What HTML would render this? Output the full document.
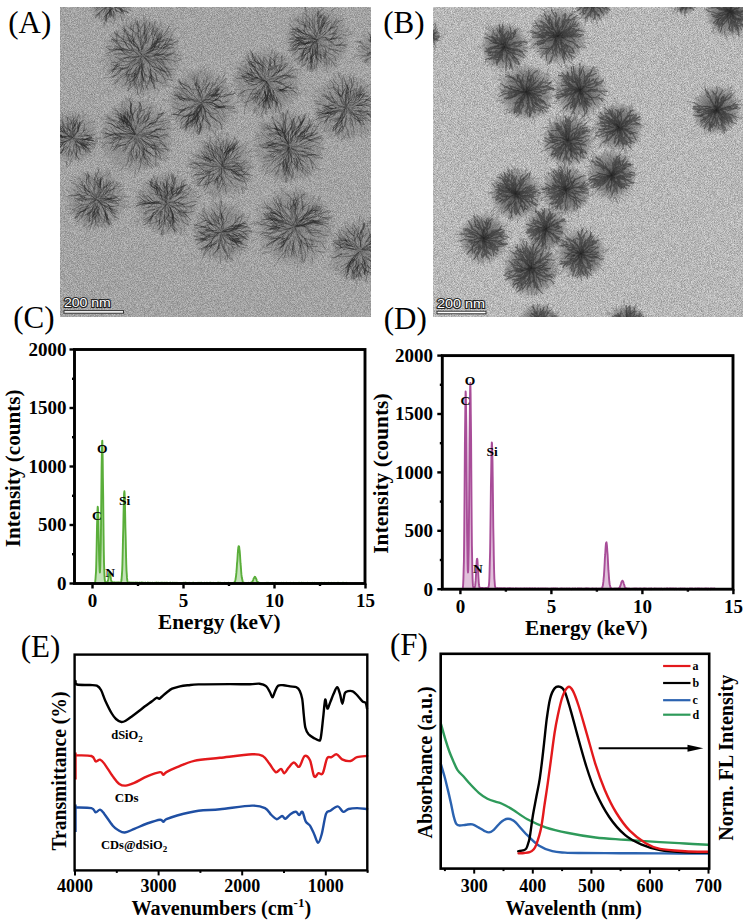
<!DOCTYPE html>
<html><head><meta charset="utf-8"><title>Figure</title>
<style>
html,body{margin:0;padding:0;background:#fff;width:747px;height:923px;overflow:hidden}
svg{display:block}
text{font-family:"Liberation Serif", serif}
</style></head><body>
<svg width="747" height="923" viewBox="0 0 747 923">
<defs>
<filter id="noiseA" x="0" y="0" width="100%" height="100%" color-interpolation-filters="sRGB"><feTurbulence type="fractalNoise" baseFrequency="1.3" numOctaves="1" seed="5"/><feColorMatrix type="matrix" values="0.45 0 0 0 0.415  0.45 0 0 0 0.415  0.45 0 0 0 0.415  0 0 0 0 1"/><feGaussianBlur stdDeviation="0.7"/></filter>
<filter id="noiseB" x="0" y="0" width="100%" height="100%" color-interpolation-filters="sRGB"><feTurbulence type="fractalNoise" baseFrequency="1.3" numOctaves="1" seed="9"/><feColorMatrix type="matrix" values="0.55 0 0 0 0.445  0.55 0 0 0 0.445  0.55 0 0 0 0.445  0 0 0 0 1"/><feGaussianBlur stdDeviation="0.7"/></filter>
<filter id="soft" x="-5%" y="-5%" width="110%" height="110%"><feGaussianBlur stdDeviation="0.55"/></filter>
<radialGradient id="pgA"><stop offset="0" stop-color="#303030" stop-opacity="0.5"/><stop offset="0.3" stop-color="#505050" stop-opacity="0.3"/><stop offset="0.8" stop-color="#606060" stop-opacity="0.24"/><stop offset="0.93" stop-color="#686868" stop-opacity="0.12"/><stop offset="1" stop-color="#707070" stop-opacity="0"/></radialGradient>
<radialGradient id="pgB"><stop offset="0" stop-color="#181818" stop-opacity="0.9"/><stop offset="0.25" stop-color="#333" stop-opacity="0.68"/><stop offset="0.7" stop-color="#505050" stop-opacity="0.45"/><stop offset="0.9" stop-color="#606060" stop-opacity="0.22"/><stop offset="1" stop-color="#707070" stop-opacity="0"/></radialGradient>
</defs>
<clipPath id="clipA"><rect x="60" y="7" width="311" height="310"/></clipPath>
<rect x="60" y="7" width="311" height="310" filter="url(#noiseA)"/>
<g clip-path="url(#clipA)"><g filter="url(#soft)">
<circle cx="110.0" cy="2.0" r="21.8" fill="url(#pgA)"/>
<path d="M115.6,17.4l-2.0,6.4M102.4,-10.6l-2.8,-2.1M105.8,-9.0l-4.8,-5.0M112.2,8.0l4.8,3.6M97.1,4.3l-4.9,2.2M113.6,15.3l1.4,3.6M113.4,-4.9l3.6,-4.2M94.2,14.3l-3.0,3.3M103.3,-10.0l-4.3,-1.7M101.1,15.0l0.4,5.7M106.6,0.5l-2.6,0.2M118.7,5.8l5.6,-0.4M98.1,15.8l-3.7,2.8M120.8,-8.7l3.2,-5.5M102.8,-14.2l-2.6,-1.3M107.2,6.0l-6.1,2.2M124.3,15.3l3.1,5.1M115.0,-16.5l-0.8,-3.2M108.6,-17.0l2.1,-4.0M122.9,17.4l0.4,6.5M121.5,7.2l4.9,2.6M122.0,6.5l6.2,0.3M116.5,-0.7l2.5,-2.3M117.6,1.1l3.6,1.7M105.9,-3.9l-0.2,-2.5M120.6,-11.4l2.9,-4.1M111.4,21.1l2.1,5.1M94.4,-1.5l-6.7,0.1M104.9,-8.6l0.5,-4.3M111.1,7.7l2.3,2.2M105.6,8.6l-1.8,4.2M102.2,-13.6l-0.8,-4.1M93.4,-3.4l-4.8,1.0M104.5,-9.0l-0.5,-3.5M96.3,6.0l-2.3,1.4M115.6,1.7l4.3,1.3M107.9,19.3l-2.7,6.2M91.7,6.1l-6.0,-2.9M104.9,5.1l-3.0,2.2M120.4,15.2l2.0,6.0M107.8,-3.7l-3.4,-4.1M127.6,-0.6l3.9,1.1M121.0,16.6l1.5,4.1M110.8,13.2l2.7,5.4M110.8,9.2l1.7,2.8M94.4,-7.5l-4.7,-4.6M124.0,5.4l4.7,-0.9M125.8,-6.9l3.1,-1.7M125.1,-4.6l5.4,-4.0M92.1,-7.4l-2.8,-1.4M117.4,3.9l5.2,2.3M93.0,-10.7l-1.0,-4.2M117.7,5.0l4.9,0.4M103.8,22.2l0.4,5.7M97.4,-2.8l-6.3,0.8M110.7,-18.4l2.4,-3.2M108.3,6.6l-3.6,2.9M115.8,10.1l4.0,2.1M125.3,-11.7l5.5,-2.1M111.7,-7.6l-1.0,-4.8M113.9,-1.1l1.9,-4.8M99.2,-11.7l-1.7,-3.8M127.6,-5.2l6.7,-1.5M128.5,8.7l2.4,1.6M98.0,14.6l-2.6,0.8M130.0,7.6l2.4,-0.9M118.0,1.3l6.1,2.5M106.3,-6.9l0.1,-5.8M121.2,-0.1l5.5,0.8M100.7,9.0l-4.6,1.4M123.2,-5.3l5.2,-3.7M104.6,1.0l-2.2,-1.2M106.0,19.4l-2.1,4.9M117.9,-0.9l2.4,-2.0M123.2,7.6l5.9,-0.9M103.0,0.1l-3.2,-3.3M119.3,-14.9l0.1,-2.8M122.6,-12.1l5.4,-1.9M124.8,-2.0l5.9,0.4M129.2,8.8l4.0,3.2M109.9,5.9l-1.6,4.6M106.3,17.7l-2.1,6.1M90.1,-4.8l-2.3,-1.8M102.1,-1.1l-2.0,-2.2M101.3,2.0l-3.0,0.8M102.0,6.1l-3.3,0.2" fill="none" stroke="#1e1e1e" stroke-width="0.8" stroke-opacity="0.23" stroke-linecap="round"/>
<path d="M110.2,1.4L111.7,-1.0L111.5,-3.8M111.5,-3.8l-3.4,-6.5M111.5,-3.8L112.6,-6.3L114.5,-8.4L115.3,-11.0M108.9,0.7L108.4,-1.6L107.1,-3.6L107.0,-5.9M107.0,-5.9l-2.5,-3.8M107.0,-5.9L105.6,-7.8L105.8,-10.2M111.4,1.8L115.4,2.2L118.8,0.1M118.8,0.1l6.7,0.5M118.8,0.1L122.1,-2.1M122.1,-2.1l4.2,0.3M122.1,-2.1L124.9,-5.0L128.3,-7.1M106.8,-4.9L104.5,-6.3L102.3,-7.8M102.3,-7.8l-3.9,-5.1M102.3,-7.8L100.3,-9.6M100.3,-9.6l-6.8,-2.4M100.3,-9.6L99.6,-12.2L98.9,-14.8M110.3,0.5L110.4,-1.7L111.2,-3.7M111.2,-3.7l3.5,-2.5M111.2,-3.7L111.3,-6.0M111.3,-6.0l3.6,-4.8M111.3,-6.0L110.9,-8.1L112.1,-10.0M108.4,5.3L106.8,7.3L106.8,9.9L105.9,12.3L105.3,14.8L104.3,17.1M110.5,1.9L114.3,1.0L117.8,-0.8M117.8,-0.8l3.7,-4.2M117.8,-0.8L121.7,-0.3M121.7,-0.3l6.0,3.6M121.7,-0.3L124.8,-2.8L128.7,-3.0M106.7,6.2L104.3,8.5L101.7,10.4L99.8,13.1M99.8,13.1l-0.9,5.4M99.8,13.1L97.0,14.6L95.5,17.5M110.2,2.0L113.1,3.1L116.2,3.3M116.2,3.3l6.0,-1.8M116.2,3.3L119.4,3.2M119.4,3.2l3.2,1.1M119.4,3.2L122.4,2.5L125.4,3.4M107.5,1.6L104.6,2.5L101.6,3.4M101.6,3.4l-7.3,-1.2M101.6,3.4L98.6,3.1M98.6,3.1l-5.4,1.7M98.6,3.1L95.6,2.4L92.9,3.9M110.1,2.2L112.4,4.5L114.7,7.0M114.7,7.0l1.8,4.6M114.7,7.0L115.6,10.3L118.6,11.8L121.7,13.2M108.4,9.4L106.9,11.2L107.3,13.4M107.3,13.4l-1.1,7.3M107.3,13.4L106.3,15.4M106.3,15.4l-0.1,6.2M106.3,15.4L105.9,17.7L105.2,19.9M110.2,1.7L110.5,-1.8L110.9,-5.2L110.0,-8.5M110.0,-8.5l2.3,-6.7M110.0,-8.5L111.0,-11.8L111.3,-15.2M106.1,4.5L103.8,5.4L101.4,5.6L99.5,7.1L97.4,8.3L96.0,10.2M113.1,4.4L115.3,7.2L118.7,8.1L121.0,10.8L124.5,11.1L127.9,12.3M107.9,5.6L106.7,7.1L105.6,8.4L104.6,9.9L104.3,11.7L102.9,12.8M115.0,-3.5L116.1,-5.7L117.1,-8.0M117.1,-8.0l6.4,-3.6M117.1,-8.0L118.8,-9.9L120.9,-11.1L121.5,-13.5M117.0,5.2L119.2,7.0L121.5,8.7M121.5,8.7l2.2,5.6M121.5,8.7L123.3,10.9L126.2,11.3L128.6,12.9M104.4,2.1L101.9,3.5L99.1,4.0L96.2,3.8L93.4,3.9L90.6,3.4M110.4,6.9L110.6,8.7L109.9,10.3M109.9,10.3l0.5,6.8M109.9,10.3L110.5,12.0L111.2,13.6L111.5,15.4M105.5,0.4L103.9,-0.1L102.3,-0.3M102.3,-0.3l-4.2,-2.2M102.3,-0.3L100.7,-0.9M100.7,-0.9l-3.9,1.1M100.7,-0.9L99.0,-0.9L97.4,-1.1M105.0,-1.4L103.0,-2.7L102.1,-4.9L101.0,-7.1M101.0,-7.1l-4.9,-4.9M101.0,-7.1L99.0,-8.5L96.8,-9.5M109.1,1.9L105.4,-0.3L101.6,-2.0L97.3,-2.0L93.2,-2.8L89.2,-4.2M112.5,1.8L115.5,1.8L118.3,2.7L121.3,3.3L123.9,1.9L126.6,3.2M117.7,6.2L118.6,7.2L119.5,8.3L120.7,9.0M120.7,9.0l1.6,4.8M120.7,9.0L122.0,9.3L122.8,10.5M101.7,-0.4L100.0,-1.3L98.3,-2.3L96.6,-3.4L94.7,-4.0L92.8,-4.7M115.8,7.1L117.2,7.9L118.5,8.9L120.1,9.1M120.1,9.1l3.4,3.5M120.1,9.1L120.7,10.6L121.8,11.7M108.6,-4.7L109.0,-5.9L109.0,-7.2M109.0,-7.2l-3.9,-6.3M109.0,-7.2L109.0,-8.6L109.6,-9.7L109.6,-11.0M109.9,-2.2L110.8,-4.0L111.9,-5.8L112.3,-7.9M112.3,-7.9l4.8,-5.1M112.3,-7.9L113.4,-9.7L114.9,-11.1M109.8,9.5L109.9,11.0L109.9,12.6L109.9,14.1M109.9,14.1l-2.3,4.4M109.9,14.1L109.1,15.5L109.1,17.0M106.6,5.8L104.8,7.8L103.0,9.8L100.7,11.2L98.7,13.0L97.9,15.6M110.0,1.9L107.5,-1.5L104.0,-4.0L99.9,-5.0L95.8,-6.2L91.6,-7.1M109.3,6.3L109.8,9.6L108.3,12.6M108.3,12.6l-4.1,4.1M108.3,12.6L106.7,15.5L104.7,18.2L102.1,20.3M112.2,-1.6L114.7,-3.2L117.0,-5.1M117.0,-5.1l0.7,-3.9M117.0,-5.1L119.6,-6.6L121.3,-9.1L123.5,-11.0M112.3,8.8L112.5,10.4L113.5,11.6M113.5,11.6l0.0,6.0M113.5,11.6L114.1,13.0L115.0,14.4L115.0,15.9M108.6,1.6L106.1,-1.0L102.9,-2.7L99.9,-4.7L96.4,-5.6L93.9,-8.2M106.4,2.4L104.3,3.8L102.6,5.7L100.1,5.8L97.8,6.9L95.6,8.1M110.4,4.4L112.1,6.3L111.8,8.7M111.8,8.7l-4.0,5.1M111.8,8.7L111.0,11.1M111.0,11.1l1.9,5.1M111.0,11.1L111.4,13.6L110.8,16.0M113.1,-2.8L113.3,-4.4L113.8,-5.9M113.8,-5.9l4.8,-5.1M113.8,-5.9L113.8,-7.5M113.8,-7.5l-2.6,-5.9M113.8,-7.5L114.2,-9.0L113.8,-10.5M110.9,1.6L112.6,-1.1L114.0,-4.0M114.0,-4.0l4.9,-2.7M114.0,-4.0L115.9,-6.5M115.9,-6.5l0.2,-5.3M115.9,-6.5L118.3,-8.6L120.1,-11.3M110.0,1.2L110.6,-1.4L111.7,-3.7M111.7,-3.7l0.4,-4.7M111.7,-3.7L112.3,-6.2M112.3,-6.2l-1.2,-3.3M112.3,-6.2L113.6,-8.4L113.2,-11.0M109.8,0.8L109.8,-2.2L109.3,-5.1L108.1,-7.9L108.7,-10.8L107.8,-13.7M110.1,7.3L110.5,8.8L110.2,10.3M110.2,10.3l-2.3,3.7M110.2,10.3L109.6,11.8L109.5,13.3L110.3,14.6" fill="none" stroke="#1e1e1e" stroke-width="0.9" stroke-opacity="0.38" stroke-linecap="round" stroke-linejoin="round"/>
<circle cx="142.5" cy="56.0" r="40.0" fill="url(#pgA)"/>
<path d="M143.6,22.8l1.6,-6.7M155.1,27.4l0.2,-3.8M181.1,55.8l4.5,-2.8M117.5,35.3l-3.5,-2.1M166.5,84.9l5.6,1.8M137.0,60.8l-4.5,3.3M129.2,40.6l-2.9,-5.5M167.2,44.8l5.8,-3.2M139.0,31.3l-2.2,-4.8M173.9,68.8l2.1,2.0M164.1,83.3l3.4,2.0M126.5,43.1l-5.5,-2.8M146.8,31.9l-0.4,-4.9M124.6,80.2l-4.6,2.7M127.2,31.0l-3.2,-2.4M129.7,21.7l-2.8,-6.4M132.8,19.3l-3.0,-3.0M119.3,47.0l-4.6,-0.4M170.7,79.6l4.9,0.6M137.6,61.7l-2.1,5.6M125.2,53.3l-4.3,-3.5M151.8,79.0l-1.4,5.8M141.3,88.5l2.1,6.1M160.1,25.0l1.4,-5.6M170.5,34.6l2.6,-1.0M140.4,66.3l-2.3,3.3M132.4,58.0l-3.4,2.7M109.6,55.4l-4.8,-0.4M177.0,39.3l2.7,-1.3M162.6,81.9l2.9,0.7M158.8,35.5l3.7,-4.7M137.7,27.7l-0.8,-5.7M139.7,79.6l-3.1,5.2M126.8,24.9l-0.3,-5.1M131.2,26.1l-1.3,-2.3M169.6,31.7l2.5,-3.7M155.4,50.3l2.4,-3.8M147.9,49.6l4.9,-3.4M131.0,28.4l0.5,-2.9M158.2,69.7l2.2,1.8M117.8,36.6l-3.5,-5.1M153.6,58.8l4.8,0.8M125.6,84.4l-4.5,2.0M130.3,31.3l0.7,-5.8M157.6,89.6l2.2,1.5M138.1,25.9l-2.8,-4.4M127.0,45.9l-2.0,-6.1M162.1,63.9l4.9,0.1M120.6,63.7l-6.3,2.1M122.7,69.0l-3.4,3.7M126.2,54.4l-6.1,-0.7M168.1,42.1l3.5,-3.1M166.1,56.4l5.3,1.8M178.8,68.3l4.0,4.4M165.4,85.1l4.9,3.1M168.6,74.9l6.9,-0.2M118.9,79.4l-2.2,2.4M163.4,50.8l4.6,-4.9M118.8,81.1l-4.5,2.2M114.3,42.4l-6.4,-2.2M114.5,75.6l-3.2,2.0M140.0,70.8l-2.2,2.8M162.7,60.9l2.3,2.9M138.4,38.7l-4.4,-4.3M174.7,64.1l2.8,2.1M142.7,42.9l2.4,-3.4M121.0,55.7l-6.3,-2.8M118.5,77.7l-4.6,4.5M127.7,70.6l-2.4,6.5M145.0,90.7l-2.1,6.4M131.8,75.3l-1.3,6.2M158.6,34.9l2.8,-5.1M104.5,59.5l-5.6,3.3M110.7,77.4l-7.0,0.4M172.1,31.5l2.9,-2.7M141.9,75.5l0.9,3.1M140.1,61.3l0.7,5.8M167.6,53.3l3.6,0.5M116.2,36.8l-1.6,-5.5M151.9,74.7l2.2,3.3M147.8,37.5l0.0,-4.8M126.7,38.0l-3.8,-1.6M124.1,45.8l-5.2,-3.7M174.4,56.8l5.9,2.3M147.6,93.2l0.1,3.3M138.4,25.2l1.8,-4.5M134.2,84.3l1.2,4.2M135.7,40.0l-2.9,-3.0M139.9,62.6l-2.3,2.0M140.8,28.0l2.9,-4.6M143.0,45.9l3.2,-5.4M135.3,22.0l0.6,-4.4M144.7,66.6l1.2,4.6M116.7,85.1l-3.5,4.8M126.9,71.0l-1.6,4.4M130.5,45.6l-2.7,-2.0M125.1,45.0l-6.6,-2.1M112.6,80.1l-3.3,1.4M145.9,39.3l2.6,-2.5M127.2,40.1l-3.3,-1.1M117.0,66.7l-3.6,3.1M125.0,67.9l-5.0,1.0M117.3,63.0l-6.4,-2.6M143.5,19.4l-0.3,-4.8M156.8,51.5l2.1,-1.9M166.9,75.2l2.1,3.3M110.4,45.8l-4.7,1.0M174.5,56.5l3.7,-2.0M117.3,72.7l-4.1,3.6M136.8,75.0l-1.7,6.5M165.1,67.1l4.8,0.4M118.7,25.7l-2.1,-2.9M158.8,39.7l4.1,-0.5M132.1,26.3l-0.1,-3.8M129.2,70.4l-2.3,2.6M150.5,51.5l3.6,-3.1M162.8,48.7l6.3,-0.8M144.1,36.7l-0.0,-3.6M167.8,74.9l0.9,3.0M109.8,69.0l-3.8,4.6M147.8,44.9l0.2,-3.7M150.5,60.3l3.3,5.1M155.0,32.8l0.8,-4.3M126.7,75.5l-3.0,3.5M145.3,22.9l-0.4,-4.4M159.2,80.2l2.5,1.0M161.2,84.6l5.3,2.5M112.5,67.6l-4.2,5.1M156.3,69.9l1.5,3.2M172.6,32.1l4.3,-4.1M135.1,41.5l-2.2,-2.5M173.2,43.3l5.7,-1.9M127.2,75.2l-4.5,3.2M144.2,62.8l-0.0,4.8M132.7,68.3l-2.9,0.9M148.2,58.3l6.1,3.1M107.2,41.2l-3.0,0.3M148.6,19.9l2.3,-6.4M139.5,27.0l-0.6,-2.4M106.5,65.0l-4.0,4.7M140.9,70.8l-3.0,4.7M168.0,28.1l2.1,-3.6M147.5,40.4l3.2,-3.1M177.6,55.1l4.6,0.9M111.6,46.8l-4.7,-0.5M137.6,91.8l2.9,6.2M148.6,71.8l4.2,5.4M156.0,30.0l4.3,-4.4M148.5,60.5l4.0,4.5M116.9,79.3l-4.0,5.2M123.9,85.2l-2.2,1.8M134.9,89.6l1.4,5.0M117.8,40.9l-6.2,-1.0M173.8,61.0l2.5,2.7M136.2,45.1l-1.2,-2.8M129.0,69.0l-3.2,0.9M160.9,58.2l2.8,-0.2M117.0,63.8l-3.2,2.6" fill="none" stroke="#1e1e1e" stroke-width="0.8" stroke-opacity="0.23" stroke-linecap="round"/>
<path d="M131.8,52.4L126.3,53.1L121.8,49.7M121.8,49.7l-12.7,0.0M121.8,49.7L116.2,49.7M116.2,49.7l-9.6,3.9M116.2,49.7L110.7,50.3L106.1,47.1M154.9,64.1L157.0,67.5L160.1,69.9M160.1,69.9l6.0,12.5M160.1,69.9L163.7,71.3L167.7,71.7L171.6,71.8M141.5,54.6L138.6,48.7L135.4,42.9L132.2,37.0M132.2,37.0l1.4,-12.4M132.2,37.0L126.5,33.8L122.0,28.9M136.3,59.2L130.0,61.6L123.4,61.2M123.4,61.2l-8.2,-4.4M123.4,61.2L117.4,64.3M117.4,64.3l-5.0,7.1M117.4,64.3L113.1,69.4L108.7,74.4M139.5,67.4L138.2,70.6L137.8,74.1L136.0,77.1M136.0,77.1l-10.1,8.3M136.0,77.1L133.4,79.3L131.1,81.8M147.0,53.9L152.6,50.7L155.7,45.2L158.4,39.4L163.8,36.1L168.6,31.9M152.0,44.6L153.8,42.9L155.9,41.7M155.9,41.7l7.1,-10.8M155.9,41.7L157.3,39.7M157.3,39.7l-0.5,-11.8M157.3,39.7L159.6,38.6L161.9,37.8M137.6,54.5L133.3,50.0L129.8,44.8L124.3,41.8L118.2,40.4L112.0,39.5M141.6,51.8L141.9,45.4L140.1,39.2L137.2,33.4M137.2,33.4l-10.5,-7.2M137.2,33.4L139.3,27.3L135.2,22.4M151.8,45.5L152.3,42.5L153.3,39.7M153.3,39.7l-1.5,-6.1M153.3,39.7L155.9,38.3L158.2,36.4L159.7,33.9M150.9,46.4L153.2,44.0L156.3,42.7L157.3,39.5M157.3,39.5l-2.9,-9.4M157.3,39.5L159.7,37.2L161.8,34.6M152.6,60.0L155.0,60.2L157.3,60.9M157.3,60.9l7.3,7.1M157.3,60.9L159.6,61.9L162.0,61.9L164.5,62.1M145.9,51.4L150.5,48.8L154.7,45.6L158.6,42.1M158.6,42.1l13.6,-2.9M158.6,42.1L163.4,40.0L168.3,38.1M140.7,64.3L142.4,69.5L144.7,74.3M144.7,74.3l11.9,7.2M144.7,74.3L145.0,79.7L145.8,85.0L148.2,89.8M142.3,49.3L143.7,45.9L145.8,42.9M145.8,42.9l0.2,-9.1M145.8,42.9L146.3,39.2L145.2,35.7L144.6,32.1M139.0,55.3L134.1,50.7L128.0,47.7L124.8,41.8L120.3,36.8L114.9,32.7M138.1,51.0L132.6,48.8L130.0,43.4L128.5,37.7L126.6,32.1L122.6,27.6M145.1,55.5L149.6,57.2L154.3,56.0M154.3,56.0l5.4,-5.9M154.3,56.0L158.9,54.6L163.4,56.5L167.8,54.5M142.0,56.2L137.4,62.7L130.5,66.7L126.9,73.7M126.9,73.7l-0.0,6.3M126.9,73.7L119.9,77.5L115.0,83.7M142.7,56.1L147.7,60.1L153.5,62.7L158.3,67.0L164.1,69.5L167.0,75.2M147.9,50.1L151.2,48.2L154.6,46.3M154.6,46.3l6.3,-7.7M154.6,46.3L158.5,46.0L161.3,43.4L164.0,40.6M153.1,55.5L157.3,53.9L161.3,51.9L164.8,49.1L169.2,48.1L173.7,47.6M131.0,50.3L129.0,50.5L127.2,49.5M127.2,49.5l-13.5,-1.0M127.2,49.5L125.3,48.9L123.3,48.6L121.3,48.9M140.4,44.7L140.9,40.2L142.9,36.2L145.3,32.4L145.3,27.9L143.4,23.8M138.6,56.4L134.9,57.4L131.1,58.4L127.3,57.6L123.3,57.9L119.6,59.2M144.7,57.9L149.0,62.9L150.6,69.4M150.6,69.4l-1.5,13.8M150.6,69.4L155.6,73.8M155.6,73.8l1.5,6.3M155.6,73.8L156.9,80.3L162.7,83.7M154.3,57.3L159.4,59.4L165.0,59.0L170.5,59.8L175.8,61.4L181.1,59.6M139.0,51.0L137.8,44.9L132.9,41.1M132.9,41.1l-7.4,-0.3M132.9,41.1L130.1,35.6L125.6,31.3L123.8,25.3M144.2,54.6L150.7,50.7L155.2,44.6L159.8,38.5L165.1,33.1L169.0,26.5M139.1,62.1L134.1,64.7L131.0,69.3M131.0,69.3l-10.7,6.4M131.0,69.3L128.8,74.5M128.8,74.5l1.8,11.5M128.8,74.5L127.5,79.9L125.0,84.9M150.0,69.3L150.4,73.1L150.2,76.9M150.2,76.9l-4.5,12.1M150.2,76.9L153.0,79.5L153.7,83.3L154.0,87.1M150.2,50.1L151.1,47.8L153.1,46.2M153.1,46.2l2.2,-6.1M153.1,46.2L154.1,43.8L156.5,43.2L158.8,42.1M139.6,66.3L139.3,70.6L137.2,74.2M137.2,74.2l-6.9,2.9M137.2,74.2L135.1,77.9L133.8,82.0L130.7,84.9M135.4,58.7L130.4,62.8L127.5,68.5L121.2,69.1M121.2,69.1l-8.0,8.3M121.2,69.1L117.9,74.7L111.8,76.7M149.6,48.8L151.8,45.5L155.3,43.6L157.4,40.2L158.6,36.4L159.2,32.5M152.4,54.3L157.3,55.1L162.2,54.3M162.2,54.3l10.2,-8.8M162.2,54.3L167.0,55.7L171.1,52.9L175.8,54.3M146.0,54.1L149.2,51.8L151.6,48.6M151.6,48.6l6.7,-1.9M151.6,48.6L153.9,45.4L156.1,42.1L158.9,39.3M141.8,54.8L138.8,51.8L137.8,47.6M137.8,47.6l-7.9,-7.0M137.8,47.6L134.0,45.7M134.0,45.7l-7.0,-7.4M134.0,45.7L133.4,41.5L130.9,38.0M147.2,67.1L149.2,71.5L151.3,75.8M151.3,75.8l6.0,4.9M151.3,75.8L150.8,80.5L154.2,83.9L155.1,88.6M133.3,54.9L129.0,52.9L125.6,49.7L121.2,47.8M121.2,47.8l-9.2,-9.0M121.2,47.8L118.2,44.2L114.5,41.2M142.3,60.4L141.9,64.2L142.1,68.1M142.1,68.1l4.9,9.7M142.1,68.1L141.5,71.9L141.0,75.7L141.0,79.5M147.3,52.3L152.0,51.3L154.7,47.2M154.7,47.2l0.4,-7.0M154.7,47.2L159.0,45.0L162.1,41.2L165.2,37.5M138.8,62.1L138.8,65.4L136.3,67.6M136.3,67.6l-5.5,9.0M136.3,67.6L135.5,70.8M135.5,70.8l-8.1,6.1M135.5,70.8L135.2,74.1L134.7,77.4M151.0,48.1L152.5,44.0L153.0,39.6L154.5,35.5M154.5,35.5l-2.5,-11.2M154.5,35.5L156.2,31.5L159.6,28.8M138.7,68.0L136.8,69.5L136.5,71.9L134.7,73.4M134.7,73.4l-8.3,1.5M134.7,73.4L133.1,75.2L132.1,77.3M152.7,50.9L156.9,49.5L161.1,48.3M161.1,48.3l4.9,-6.5M161.1,48.3L165.3,47.0L168.6,44.1L173.0,44.5M152.6,49.9L155.9,49.8L158.4,47.6M158.4,47.6l3.1,-13.2M158.4,47.6L161.7,47.3L164.0,44.9L167.2,44.2M144.4,42.8L146.8,39.0L146.2,34.6L147.7,30.4L149.7,26.4L149.5,21.9M134.3,51.7L129.2,49.1L126.0,44.3L123.3,39.3M123.3,39.3l1.5,-9.5M123.3,39.3L118.3,36.4L116.6,30.9M140.9,58.4L139.5,63.9L139.0,69.5L136.1,74.4M136.1,74.4l-9.9,7.9M136.1,74.4L136.0,80.0L132.9,84.7M140.9,59.7L141.9,65.8L141.5,71.9M141.5,71.9l2.2,9.3M141.5,71.9L143.0,77.9L141.5,83.9L143.7,89.6M153.9,62.6L156.3,63.2L158.0,64.9L160.0,66.1M160.0,66.1l8.1,10.3M160.0,66.1L161.3,68.2L162.3,70.4M133.1,51.6L129.8,50.5L126.3,51.0L122.9,50.3M122.9,50.3l-7.8,-4.8M122.9,50.3L119.5,49.8L116.3,48.4M127.1,52.2L123.3,49.1L119.9,45.5L116.8,41.6M116.8,41.6l-0.2,-7.2M116.8,41.6L113.3,38.2L109.6,35.0M145.5,57.8L148.9,62.0L152.3,66.3M152.3,66.3l12.1,4.7M152.3,66.3L157.4,67.8L162.1,70.6L166.9,73.0M141.6,65.9L138.9,71.3L137.4,77.2M137.4,77.2l2.4,9.7M137.4,77.2L135.8,83.0M135.8,83.0l-7.9,7.4M135.8,83.0L137.3,88.8L137.7,94.8M138.8,49.4L136.1,47.3L134.2,44.5L133.4,41.1M133.4,41.1l2.3,-6.5M133.4,41.1L133.2,37.7L131.9,34.6M148.4,53.2L154.9,53.1L160.3,49.3L166.0,46.2M166.0,46.2l6.0,-11.3M166.0,46.2L172.1,43.8L177.7,40.5M151.1,50.9L155.9,48.5L160.2,45.2L165.5,44.5L169.6,41.0L174.9,39.7M135.2,45.6L133.5,44.2L131.5,43.1M131.5,43.1l-4.6,-8.9M131.5,43.1L131.1,40.9L130.3,38.8L128.3,37.7M135.1,60.5L130.1,63.1L125.0,65.5L119.3,65.3M119.3,65.3l-7.5,5.3M119.3,65.3L115.1,69.1L111.7,73.5M142.7,63.0L142.6,69.2L141.4,75.4L141.1,81.6M141.1,81.6l-4.6,7.1M141.1,81.6L141.3,87.9L140.1,94.0M144.9,58.5L149.7,63.8L154.3,69.3M154.3,69.3l10.8,6.1M154.3,69.3L159.9,73.9L165.3,78.7L172.3,80.4M155.5,53.7L158.8,53.4L161.3,51.1L163.5,48.6M163.5,48.6l3.9,-10.2M163.5,48.6L166.2,46.7L169.5,47.1M150.6,69.7L151.3,72.4L151.4,75.3M151.4,75.3l3.1,6.9M151.4,75.3L151.1,78.2M151.1,78.2l3.4,10.7M151.1,78.2L151.5,81.0L153.0,83.5M146.8,43.4L148.6,40.2L149.6,36.7L151.9,33.8M151.9,33.8l3.2,-12.2M151.9,33.8L151.9,30.2L154.6,27.7M136.9,56.1L131.7,57.2L126.3,57.5L121.6,60.0L117.0,62.9L111.7,62.4M143.5,64.1L143.1,69.1L142.3,74.1M142.3,74.1l1.6,7.9M142.3,74.1L143.2,79.0M143.2,79.0l6.2,5.7M143.2,79.0L142.3,83.9L143.4,88.8M156.6,58.2L159.0,57.7L161.0,59.2M161.0,59.2l3.2,5.2M161.0,59.2L163.4,59.9L165.8,59.4L168.2,58.5M141.4,47.8L140.0,42.4L138.3,37.1M138.3,37.1l-8.0,-9.4M138.3,37.1L138.7,31.5M138.7,31.5l3.7,-5.6M138.7,31.5L138.0,26.0L137.3,20.4M142.2,48.9L143.5,43.8L144.5,38.6M144.5,38.6l7.2,-11.8M144.5,38.6L144.0,33.4M144.0,33.4l5.9,-10.1M144.0,33.4L144.4,28.1L144.6,22.9M147.1,56.6L152.5,60.0L158.8,59.6L163.4,64.0L167.2,69.2L170.7,74.4M141.8,63.3L139.4,69.2L134.9,73.7M134.9,73.7l-2.2,7.0M134.9,73.7L133.9,80.0M133.9,80.0l1.6,7.7M133.9,80.0L129.5,84.7L128.4,91.0M155.8,54.7L158.9,54.3L162.0,54.3L165.1,54.0L168.1,54.7L171.2,54.8M157.8,60.4L160.3,63.2L163.2,65.7L166.0,68.2M166.0,68.2l5.4,9.7M166.0,68.2L169.5,69.5L173.3,69.0M141.4,49.8L143.1,43.8L140.7,38.1M140.7,38.1l-0.4,-7.8M140.7,38.1L143.7,32.7L145.2,26.7L146.7,20.6M136.2,59.5L132.4,63.5L128.2,67.1M128.2,67.1l-11.0,4.7M128.2,67.1L122.7,68.3M122.7,68.3l-12.1,-4.1M122.7,68.3L117.2,69.0L111.8,70.0M140.6,55.9L135.3,57.7L130.0,56.2M130.0,56.2l-5.9,2.5M130.0,56.2L124.9,54.0M124.9,54.0l-6.2,-7.1M124.9,54.0L119.4,53.6L113.9,54.6M145.3,56.3L151.8,56.0L158.2,55.7M158.2,55.7l8.4,-3.3M158.2,55.7L164.4,57.6M164.4,57.6l5.9,6.3M164.4,57.6L170.2,54.8L175.5,51.2" fill="none" stroke="#1e1e1e" stroke-width="0.9" stroke-opacity="0.38" stroke-linecap="round" stroke-linejoin="round"/>
<circle cx="201.5" cy="102.5" r="34.3" fill="url(#pgA)"/>
<path d="M219.0,79.7l-0.1,-5.0M217.9,127.6l0.0,3.0M214.9,94.9l4.8,-0.4M222.3,121.0l2.6,0.7M221.1,81.4l2.8,-5.8M219.9,122.5l2.8,4.4M223.6,88.3l4.7,0.5M223.2,116.1l6.4,-0.4M187.5,72.4l-1.4,-2.8M207.3,80.2l2.0,-3.7M205.2,111.0l0.8,5.4M192.8,106.7l-2.2,4.2M202.4,108.8l0.9,3.1M222.1,128.2l-0.1,5.8M218.5,117.4l2.0,3.9M201.1,125.4l1.1,5.3M193.2,130.9l-2.5,5.2M200.1,118.2l-0.2,3.2M211.9,93.0l5.8,-3.1M198.4,92.5l0.6,-5.1M210.6,95.7l6.3,-0.2M194.1,77.6l-4.2,-4.2M229.1,106.1l5.3,2.3M175.7,100.1l-4.8,-3.4M168.5,100.3l-6.0,-0.5M186.4,115.1l-1.5,3.6M182.9,126.5l-5.2,3.4M213.8,104.0l6.2,2.8M199.8,131.2l-0.4,2.5M209.5,78.6l2.4,-1.6M208.7,94.6l5.0,-1.0M212.0,129.6l3.4,5.0M214.6,104.1l5.1,3.8M177.6,119.9l-1.9,3.9M221.9,87.7l1.6,-2.5M208.4,116.6l5.1,2.4M198.0,84.0l0.3,-3.8M215.6,130.2l-0.2,4.8M199.8,84.5l-1.0,-4.0M181.6,96.3l-2.7,-4.2M193.6,92.7l-0.7,-6.5M188.1,106.1l-6.4,-0.3M186.0,87.7l-0.9,-5.5M213.2,100.9l3.4,-2.2M207.5,134.8l-0.3,4.1M193.3,81.9l-1.4,-3.5M196.7,75.2l-2.3,-2.3M202.5,125.7l1.7,3.7M183.6,115.1l-5.2,3.3M230.5,119.2l5.4,-0.7M230.1,112.4l6.7,-0.6M225.8,101.3l5.6,0.4M200.1,73.4l0.9,-2.9M188.5,120.1l-4.6,4.4M205.2,74.1l0.9,-2.8M214.9,106.3l4.8,-0.6M194.1,130.3l-0.7,6.9M230.2,93.5l3.4,1.1M233.5,103.0l4.9,-0.5M221.9,82.6l4.0,-0.7M193.3,79.2l-4.6,-3.6M187.4,125.8l-2.7,3.3M184.9,104.4l-4.5,2.1M201.3,115.0l2.7,4.5M173.8,114.2l-4.4,1.1M233.4,106.8l4.7,3.9M213.0,130.6l2.5,4.4M170.2,93.6l-3.8,-2.3M181.7,85.3l-2.6,-6.2M203.8,82.9l-0.4,-2.8M218.5,83.1l1.8,-3.1M210.0,75.3l0.6,-4.9M191.7,104.0l-5.2,4.3M193.8,80.8l0.5,-3.3M230.2,87.2l2.6,-1.4M186.4,91.9l-5.5,-3.1M182.2,93.5l-6.6,-1.8M203.2,82.6l1.1,-3.8M212.8,85.4l4.1,-3.0M173.5,95.5l-2.8,-2.0M186.9,92.1l-4.3,-5.3M230.7,110.3l5.8,2.3M211.4,85.9l3.0,-1.7M194.5,125.1l0.8,6.3M204.8,70.4l2.8,-4.5M213.2,108.1l3.4,3.9M216.0,103.7l3.6,0.9M181.4,87.9l-2.5,-1.5M178.0,88.2l-5.1,-1.0M227.0,100.9l3.5,-2.0M213.4,95.3l3.1,-2.7M212.1,97.8l5.2,1.4M177.6,94.4l-4.0,1.3M202.8,85.4l3.0,-5.1M172.2,116.6l-5.2,-0.6M232.9,94.0l3.2,-1.1M206.6,125.2l0.1,3.5M190.0,124.0l-0.5,6.7M221.9,127.1l3.7,2.7M186.8,84.2l-2.0,-5.2M209.3,114.2l1.8,3.0M185.8,83.3l-2.9,-2.8M203.1,84.7l-1.4,-2.1M185.6,107.4l-3.6,3.6M221.8,122.8l1.9,1.7M220.4,105.1l5.9,-2.8M197.2,79.2l-2.3,-4.6M217.1,116.0l1.7,3.5M205.3,92.8l0.3,-4.4M199.8,96.9l0.1,-4.5M222.2,113.2l2.2,3.7M225.0,82.5l2.0,-4.2M194.3,118.9l0.1,6.5M171.4,117.1l-1.7,1.9M182.3,122.1l-2.8,1.8M224.3,81.3l1.1,-2.8M179.9,114.8l-5.9,-0.1M194.7,104.1l-3.6,1.9M187.2,127.6l0.1,3.4M198.4,113.3l-1.6,3.6M184.9,113.5l-3.7,0.8M190.0,117.8l-3.2,4.9M214.4,126.0l3.0,3.3M206.1,77.5l-2.2,-4.8M216.4,123.3l3.0,4.5M194.5,75.8l-3.1,-5.7M178.4,103.9l-6.6,-2.3M180.8,104.2l-5.2,-0.9M219.8,122.4l1.5,2.8M223.1,77.3l2.8,-5.5M222.2,92.4l4.5,-2.1M188.7,115.6l-2.9,1.3M208.3,124.2l-0.0,4.4M201.6,69.9l3.2,-4.5M189.6,87.6l-2.2,-3.3" fill="none" stroke="#1e1e1e" stroke-width="0.8" stroke-opacity="0.23" stroke-linecap="round"/>
<path d="M205.1,100.3L209.0,99.1L211.9,96.2M211.9,96.2l6.6,-1.9M211.9,96.2L216.0,95.9L219.5,93.7L222.0,90.4M190.3,99.6L187.0,100.6L183.6,100.9M183.6,100.9l-8.6,-5.8M183.6,100.9L180.4,99.6M180.4,99.6l-6.2,-8.3M180.4,99.6L177.2,98.2L174.1,99.5M196.1,102.0L192.3,100.8L188.4,100.0L184.5,98.9M184.5,98.9l-6.5,-5.1M184.5,98.9L180.8,97.6L177.6,95.3M209.8,103.9L212.7,105.0L215.3,106.6M215.3,106.6l8.5,1.1M215.3,106.6L218.3,107.1M218.3,107.1l7.6,-1.0M218.3,107.1L221.3,106.7L224.1,107.8M209.0,101.5L211.1,100.5L213.4,101.1L215.4,99.8M215.4,99.8l2.3,-4.9M215.4,99.8L217.6,100.5L219.9,100.1M205.1,106.8L207.8,109.6L209.2,113.2L211.0,116.6M211.0,116.6l8.7,5.1M211.0,116.6L214.6,118.1L216.7,121.4M207.5,103.1L212.5,105.5L217.6,107.9L223.2,107.1L228.6,108.8L234.2,108.5M203.2,101.4L206.6,98.8L209.8,95.9L213.6,94.2M213.6,94.2l5.4,-0.2M213.6,94.2L215.8,90.5L219.7,88.7M194.8,101.6L191.9,99.6L188.8,98.0M188.8,98.0l-7.0,-8.5M188.8,98.0L185.8,96.2L182.8,94.5L179.3,93.7M199.6,94.8L199.4,92.2L197.7,90.2M197.7,90.2l-7.2,-1.4M197.7,90.2L196.3,88.0L195.7,85.5L194.8,83.1M211.9,101.4L216.2,99.7L219.5,96.5M219.5,96.5l3.6,-7.1M219.5,96.5L224.1,96.7M224.1,96.7l10.7,-3.4M224.1,96.7L228.3,94.6L231.5,91.3M199.9,104.8L195.8,108.3L193.8,113.3M193.8,113.3l3.0,10.0M193.8,113.3L189.4,116.3L187.1,121.2L185.4,126.3M206.8,96.0L208.6,94.9L209.8,93.2M209.8,93.2l3.3,-11.1M209.8,93.2L211.0,91.5L212.5,90.0L214.3,88.9M203.4,102.6L208.1,102.3L212.7,102.8M212.7,102.8l6.6,5.9M212.7,102.8L216.8,104.9L220.6,107.6L224.2,110.5M212.7,98.7L214.1,97.5L215.4,96.2L216.6,95.0M216.6,95.0l2.2,-6.0M216.6,95.0L218.3,94.3L220.1,94.2M198.8,101.3L194.9,96.9L190.3,93.2L185.9,89.1L181.6,85.1L178.9,79.8M199.8,107.2L197.6,109.9L197.6,113.4M197.6,113.4l-5.3,7.4M197.6,113.4L197.1,116.8L197.9,120.2L196.4,123.4M189.6,100.3L187.5,98.9L185.0,99.2M185.0,99.2l-10.4,-4.2M185.0,99.2L182.8,98.1L180.7,96.6L178.3,97.3M200.7,104.7L197.0,110.0L192.2,114.3M192.2,114.3l-5.5,2.3M192.2,114.3L187.0,118.1L182.1,122.2L180.3,128.4M194.9,113.1L193.2,117.0L191.2,120.7M191.2,120.7l-0.1,5.9M191.2,120.7L187.8,123.3M187.8,123.3l-2.8,7.0M187.8,123.3L184.8,126.3L181.5,128.9M203.6,114.8L202.7,118.8L202.4,122.9L201.3,126.9M201.3,126.9l-5.4,4.6M201.3,126.9L199.5,130.5L197.3,134.1M197.8,103.9L193.9,104.9L191.2,107.9L187.3,107.7L183.7,109.5L179.8,109.8M197.7,100.4L194.0,99.8L190.3,99.3L186.7,98.1L183.1,99.1L179.4,98.6M200.5,105.0L197.7,109.0L196.8,113.8L193.0,116.9L188.6,119.1L185.5,122.9M194.5,111.4L193.0,111.9L191.6,112.4L191.1,113.9L189.7,114.4L188.7,115.6M194.2,94.3L191.4,90.8L189.2,87.0M189.2,87.0l-10.4,-4.7M189.2,87.0L185.1,85.2L181.3,82.9L177.6,80.4M201.7,99.8L200.1,95.6L201.6,91.4M201.6,91.4l7.8,-8.1M201.6,91.4L199.6,87.4M199.6,87.4l-5.3,-3.3M199.6,87.4L196.8,83.9L196.8,79.4M195.3,106.4L190.3,107.1L185.6,108.5M185.6,108.5l-5.0,3.9M185.6,108.5L181.2,110.9M181.2,110.9l-5.6,8.9M181.2,110.9L178.0,114.7L173.1,114.4M206.6,103.7L208.8,106.0L211.3,108.1L214.4,108.9M214.4,108.9l10.5,-2.6M214.4,108.9L217.1,110.6L218.8,113.4M191.6,95.7L189.7,92.8L187.7,89.9L184.6,88.5M184.6,88.5l-9.1,-0.7M184.6,88.5L182.3,85.9L179.5,83.7M201.2,106.6L200.9,112.8L203.2,118.5M203.2,118.5l6.9,5.9M203.2,118.5L200.3,123.9M200.3,123.9l-1.3,10.2M200.3,123.9L200.8,130.0L197.9,135.5M205.5,102.1L211.0,102.8L215.9,100.2M215.9,100.2l4.3,-4.6M215.9,100.2L220.6,97.4L225.1,94.2L230.6,94.6M202.4,105.9L206.3,110.8L210.6,115.4L215.0,119.9L220.4,123.1L221.6,129.2M209.5,102.5L214.6,104.1L219.1,107.0M219.1,107.0l4.9,6.1M219.1,107.0L224.3,105.7L229.5,107.1L234.8,106.3M202.2,90.2L203.1,87.3L204.9,84.8L206.3,82.1L206.7,79.0L207.2,76.0M201.7,107.8L200.1,111.6L198.4,115.3M198.4,115.3l-5.2,4.2M198.4,115.3L197.3,119.2M197.3,119.2l2.5,6.2M197.3,119.2L196.8,123.2L197.7,127.2M209.8,99.6L213.4,100.4L217.0,99.6L220.4,101.0M220.4,101.0l5.0,7.5M220.4,101.0L223.6,102.7L227.1,101.5M199.3,106.8L199.4,111.8L198.2,116.7L199.6,121.5L201.1,126.3L200.6,131.3M201.6,103.8L200.6,108.9L202.3,113.9L205.2,118.3L208.8,122.0L210.9,126.9M201.9,103.4L203.4,107.6L205.6,111.3M205.6,111.3l7.4,3.5M205.6,111.3L205.8,115.8L207.5,119.8L208.2,124.2M202.0,102.1L205.4,99.7L209.5,99.5L213.1,97.4L215.7,94.2L217.8,90.7M198.4,95.9L198.1,93.2L198.4,90.6L198.8,88.0L199.1,85.3L197.5,83.2M201.9,106.3L199.8,110.3L197.3,114.1L196.9,118.6L194.8,122.7L192.0,126.2M199.5,105.3L196.7,109.9L196.2,115.2M196.2,115.2l-4.8,8.1M196.2,115.2L194.2,120.2L191.3,124.8L186.8,127.7M200.3,96.6L199.3,92.6L197.2,89.0L195.8,85.1M195.8,85.1l2.6,-11.4M195.8,85.1L194.7,81.2L194.1,77.1M192.1,108.0L188.4,109.8L184.4,110.1M184.4,110.1l-4.3,2.8M184.4,110.1L180.3,110.0M180.3,110.0l-7.6,-3.1M180.3,110.0L176.9,112.4L173.3,114.3M201.3,109.0L201.3,113.0L199.6,116.6M199.6,116.6l-4.8,3.3M199.6,116.6L197.7,120.1M197.7,120.1l-4.3,3.4M197.7,120.1L195.9,123.7L194.6,127.5M207.3,97.4L210.1,96.9L212.7,95.7M212.7,95.7l5.7,0.7M212.7,95.7L215.0,94.0L216.7,91.6L219.1,90.1M195.3,108.0L193.1,110.1L191.0,112.2M191.0,112.2l-4.0,9.1M191.0,112.2L188.9,114.4M188.9,114.4l-0.9,11.4M188.9,114.4L186.5,116.2L183.5,116.7M200.8,102.6L196.0,101.1L191.5,98.8L188.2,95.0L183.7,92.7L179.7,89.6M203.3,105.6L204.9,110.7L205.4,116.0L206.3,121.3L209.9,125.2L209.2,130.5M191.9,110.7L189.5,113.0L187.3,115.4M187.3,115.4l-6.0,3.2M187.3,115.4L184.1,116.1M184.1,116.1l-10.0,-1.8M184.1,116.1L181.9,118.5L180.1,121.3M209.0,95.7L211.9,95.0L213.5,92.5L215.3,90.1M215.3,90.1l6.8,-4.4M215.3,90.1L216.1,87.3L218.2,85.3M202.7,106.0L203.9,108.8L204.5,111.8L203.9,114.8L203.4,117.9L202.4,120.7M198.8,106.5L195.3,110.9L194.5,116.5L191.4,121.3M191.4,121.3l-7.8,3.8M191.4,121.3L187.0,124.8L186.1,130.4M206.6,94.9L211.3,92.9L214.6,88.9L218.4,85.5L222.2,81.9L225.7,78.2M205.7,96.7L208.4,92.7L210.6,88.4L214.4,85.3L216.2,80.8L218.8,76.7M202.3,98.0L202.2,94.6L201.0,91.4L199.2,88.6L197.2,85.8L196.0,82.6M195.8,112.5L193.4,114.4L193.3,117.5L192.7,120.6L192.7,123.7L192.0,126.7M201.8,102.1L205.0,98.4L208.8,95.4L213.5,94.5L217.0,91.0L219.5,86.9M206.5,101.8L209.5,99.4L212.2,96.7L215.2,94.3M215.2,94.3l2.4,-6.9M215.2,94.3L217.1,91.0L220.2,88.8M204.8,92.6L205.9,91.0L206.2,89.1M206.2,89.1l3.9,-7.8M206.2,89.1L206.6,87.2L208.2,86.0L209.3,84.4M206.7,108.7L209.6,111.6L213.4,113.1L217.5,113.6L220.4,116.5L222.7,119.8M201.0,104.6L200.6,108.3L198.9,111.5M198.9,111.5l-8.1,4.7M198.9,111.5L196.8,114.6L194.7,117.7L192.2,120.5M199.0,110.9L197.1,115.3L194.5,119.3M194.5,119.3l-7.8,2.6M194.5,119.3L190.9,122.4L186.9,124.9L183.4,128.2M200.9,108.8L198.4,113.4L195.4,117.8L196.2,123.1L198.0,128.1L196.7,133.2M200.2,104.4L197.1,107.1L196.0,111.1M196.0,111.1l2.7,8.5M196.0,111.1L193.7,114.5M193.7,114.5l-5.1,1.8M193.7,114.5L190.8,117.3L190.5,121.4" fill="none" stroke="#1e1e1e" stroke-width="0.9" stroke-opacity="0.38" stroke-linecap="round" stroke-linejoin="round"/>
<circle cx="266.6" cy="81.7" r="34.3" fill="url(#pgA)"/>
<path d="M265.6,71.1l-1.2,-4.8M280.0,91.8l5.6,0.6M250.9,55.1l-5.5,-4.2M245.4,96.1l-4.9,-0.4M272.9,111.2l-0.0,6.6M239.1,93.9l-2.4,2.1M246.0,58.9l-3.4,-1.6M263.5,113.6l-2.8,5.0M287.5,75.7l6.4,2.8M245.9,106.8l-1.1,4.0M251.4,85.2l-3.3,-1.4M261.8,71.2l-3.5,-3.0M259.7,97.3l-2.8,2.8M281.0,65.6l1.8,-3.8M242.0,63.7l-6.7,-1.0M285.6,108.2l2.8,4.5M247.2,68.4l-5.9,-2.9M277.4,85.9l2.4,0.7M254.2,62.0l-3.9,-1.3M254.8,64.6l-6.2,-1.7M242.9,99.5l-5.4,3.3M288.5,101.1l2.1,2.1M294.0,97.6l2.9,1.6M244.7,106.8l-0.2,6.6M281.7,90.5l2.4,0.7M240.4,82.8l-5.2,-3.0M279.5,62.7l4.9,-4.3M267.2,86.6l-1.6,3.6M259.7,95.7l-3.1,2.6M260.8,65.7l-0.0,-5.9M289.1,95.3l6.7,-1.0M271.0,54.8l1.7,-6.1M284.9,87.0l5.9,1.0M257.6,80.9l-5.7,-1.4M282.3,61.1l-0.1,-5.1M259.6,59.0l-1.8,-2.2M239.8,78.4l-4.3,-1.0M269.6,65.9l2.0,-3.8M289.6,87.2l3.8,1.0M242.0,83.1l-5.5,3.5M280.5,103.2l4.0,2.5M269.0,48.7l1.1,-4.1M263.7,104.3l1.2,4.9M276.4,63.7l3.0,-4.5M247.4,94.8l-5.6,1.9M266.4,62.8l-0.8,-3.0M250.4,59.6l-3.7,-5.8M290.6,66.0l1.4,-3.2M271.9,105.8l4.0,3.9M258.0,97.4l-4.8,4.3M245.8,61.8l-4.8,-0.4M248.5,84.0l-6.2,2.4M239.3,74.0l-1.8,-2.5M262.0,114.4l-2.2,2.7M271.9,76.6l2.8,-4.1M261.3,113.9l2.4,6.5M272.4,79.1l6.5,-0.2M283.8,59.8l3.3,-5.1M267.6,102.9l1.2,2.4M243.6,92.3l-3.0,1.1M261.4,105.7l-3.1,3.6M277.6,83.4l6.2,-2.4M243.7,73.0l-4.4,-3.2M265.3,65.3l-1.1,-6.8M247.2,105.1l-6.3,1.2M271.8,69.3l4.3,-2.5M244.1,88.4l-2.9,3.0M265.9,111.4l1.1,3.9M242.2,75.3l-4.4,0.5M299.1,83.2l2.8,0.2M258.5,112.2l-2.8,4.8M259.8,90.9l-4.8,1.4M236.5,90.9l-4.9,4.8M278.4,78.2l3.1,-0.3M253.3,84.7l-5.4,2.2M276.8,98.3l4.8,3.0M285.1,76.8l5.8,-3.0M254.5,108.6l-2.1,2.0M275.9,92.0l4.0,5.0M259.2,57.2l-3.6,-3.9M243.1,69.5l-6.2,-2.7M234.7,76.0l-2.9,-0.8M296.8,72.0l2.6,0.3M244.9,79.1l-5.0,-1.0M272.9,53.5l-1.0,-2.9M297.7,77.1l4.7,-4.7M255.8,106.9l-2.5,6.0M241.0,69.3l-5.2,-0.9M289.9,83.3l2.0,1.7M258.7,70.9l-1.4,-3.0M297.3,70.0l3.2,-0.5M260.9,74.4l-0.5,-6.5M253.7,98.9l-0.3,4.5M271.0,62.5l-2.1,-6.5M258.6,90.2l-2.8,0.7M269.9,63.4l1.4,-2.5M294.9,86.1l3.8,2.8M271.5,74.1l0.7,-5.4M258.5,62.4l-2.2,-4.2M282.9,97.6l2.5,2.3M294.5,95.5l4.6,-0.4M256.1,110.4l-3.4,4.6M292.0,100.7l1.5,4.6M242.2,71.1l-4.9,-3.3M280.5,58.5l3.3,-4.9M276.1,77.3l5.1,-1.1M278.5,75.9l3.6,0.9M280.1,101.1l0.9,5.5M241.0,89.2l-6.2,0.3M281.4,77.5l3.7,1.6M276.5,59.4l1.7,-2.5M278.2,71.7l4.0,-1.4M275.6,56.0l-0.8,-3.0M291.1,61.9l2.4,-3.3M267.5,99.9l-0.8,5.4M248.7,59.5l-0.4,-5.7M257.1,107.5l-3.2,5.1M236.5,81.6l-3.3,-0.9M234.5,85.2l-4.5,-1.6M286.6,83.0l4.0,-1.7M274.2,74.0l2.0,-6.1M252.1,75.5l-4.9,-1.9M271.8,91.0l4.0,2.6M277.8,95.3l1.6,6.7M289.7,91.8l5.5,3.6M249.8,73.6l-3.5,0.5M275.8,98.6l3.2,2.8M298.1,92.1l3.8,2.6M274.9,57.7l-0.5,-6.5M281.0,87.9l4.5,3.6M262.3,75.9l-0.1,-3.8M264.8,90.8l0.7,4.2M243.1,99.5l-1.0,2.7M287.4,59.3l1.6,-2.1M256.2,110.2l0.3,2.6" fill="none" stroke="#1e1e1e" stroke-width="0.8" stroke-opacity="0.23" stroke-linecap="round"/>
<path d="M277.3,89.1L278.1,90.0L279.2,90.4M279.2,90.4l7.4,-2.1M279.2,90.4L280.3,90.6M280.3,90.6l8.0,-4.0M280.3,90.6L281.4,91.2L282.3,91.9M271.3,70.2L272.2,67.0L274.5,64.7L274.3,61.5M274.3,61.5l-4.5,-4.8M274.3,61.5L273.8,58.2L276.1,55.8M267.8,86.4L268.7,91.0L267.7,95.6L266.1,100.0M266.1,100.0l-7.4,6.8M266.1,100.0L265.5,104.7L265.2,109.3M267.0,82.8L270.3,86.5L273.1,90.5M273.1,90.5l-0.4,9.9M273.1,90.5L273.8,95.4M273.8,95.4l-1.9,10.9M273.8,95.4L275.1,100.2L275.4,105.2M264.1,81.0L260.2,79.9L256.8,77.6M256.8,77.6l-6.8,-9.5M256.8,77.6L254.0,74.7L252.0,71.1L249.5,67.9M270.6,88.0L270.6,92.2L271.3,96.4L273.3,100.1L276.5,102.8L275.9,107.0M261.5,81.6L258.9,82.5L256.5,84.2M256.5,84.2l-5.3,1.4M256.5,84.2L253.7,84.7L251.0,83.7L248.2,83.8M265.1,91.8L264.9,93.9L265.5,95.9M265.5,95.9l-0.8,6.0M265.5,95.9L264.8,97.9M264.8,97.9l-6.7,6.6M264.8,97.9L265.4,99.9L264.4,101.8M262.2,79.5L259.4,76.9L257.1,73.7L254.6,70.7L252.9,67.3L251.5,63.6M267.7,91.2L268.1,94.7L267.7,98.2M267.7,98.2l-5.6,9.0M267.7,98.2L269.1,101.4L269.1,104.9L270.1,108.3M272.5,72.1L273.7,70.9L274.7,69.6L275.4,68.1L276.3,66.7L277.8,66.0M266.5,81.6L262.0,79.4L257.2,77.8M257.2,77.8l-6.3,1.9M257.2,77.8L252.2,78.1L247.2,77.7L242.3,76.8M267.9,84.8L267.4,89.8L268.1,94.8M268.1,94.8l4.2,3.8M268.1,94.8L267.2,99.7L268.9,104.4L270.8,109.0M266.7,82.3L269.2,86.1L269.8,90.7M269.8,90.7l-4.8,10.3M269.8,90.7L271.1,95.0M271.1,95.0l7.0,8.2M271.1,95.0L270.6,99.6L272.8,103.6M266.6,81.7L262.0,80.1L257.5,78.0M257.5,78.0l-11.4,3.0M257.5,78.0L252.7,77.0M252.7,77.0l-9.2,-6.3M252.7,77.0L248.7,74.1L245.3,70.6M269.4,89.7L270.5,92.8L272.9,95.0L274.4,97.8L275.0,101.0L277.3,103.3M274.1,81.6L278.2,81.3L282.1,79.7L285.9,78.0M285.9,78.0l10.7,-0.9M285.9,78.0L289.6,76.0L292.7,73.3M264.2,80.5L260.0,80.9L256.1,79.5L252.3,81.1L248.3,82.4L244.2,81.5M266.5,81.8L264.4,86.8L264.5,92.2M264.5,92.2l3.7,10.6M264.5,92.2L262.7,97.2L264.0,102.5L263.2,107.8M259.4,93.1L258.8,95.1L257.6,96.7M257.6,96.7l-5.1,1.9M257.6,96.7L257.4,98.7L257.5,100.8L256.5,102.6M267.2,85.8L268.8,88.6L269.1,91.8L270.9,94.5M270.9,94.5l-0.6,8.3M270.9,94.5L270.8,97.7L271.7,100.8M259.8,89.4L258.9,91.6L257.2,93.2M257.2,93.2l-7.1,0.7M257.2,93.2L255.0,94.1L252.7,94.9L252.0,97.2M261.5,77.7L259.4,73.8L255.9,71.1L254.2,67.0M254.2,67.0l-8.0,-8.0M254.2,67.0L250.0,65.6L248.0,61.6M264.1,85.0L262.7,87.7L261.8,90.6L259.9,93.0M259.9,93.0l-9.0,5.9M259.9,93.0L259.7,96.1L258.5,98.9M265.1,79.1L264.5,73.0L260.5,68.4L257.9,62.8L252.7,59.6L252.5,53.4M273.2,90.3L274.6,94.0L276.5,97.6M276.5,97.6l0.9,7.7M276.5,97.6L277.9,101.4L280.8,104.2L281.0,108.2M260.0,69.9L259.0,66.6L257.6,63.5L255.0,61.2M255.0,61.2l-4.4,-10.3M255.0,61.2L254.1,57.9L251.3,55.8M266.3,81.5L261.6,78.4L258.2,74.0M258.2,74.0l-8.2,-1.9M258.2,74.0L255.5,69.0L254.9,63.5L249.7,61.2M268.1,73.8L267.4,71.3L268.9,69.3M268.9,69.3l10.4,-4.8M268.9,69.3L269.3,66.8L270.4,64.5L272.2,62.7M273.6,75.2L275.5,72.7L278.5,71.9M278.5,71.9l8.9,-7.1M278.5,71.9L281.3,70.5M281.3,70.5l4.0,-6.1M281.3,70.5L283.9,68.8L285.6,66.2M256.5,89.0L252.3,89.4L248.1,89.6L244.1,90.9M244.1,90.9l-5.2,6.1M244.1,90.9L240.4,93.0L237.7,96.3M259.7,88.9L257.1,92.4L255.0,96.2M255.0,96.2l0.0,5.4M255.0,96.2L252.4,99.7L248.3,101.2L244.3,102.8M264.5,86.3L262.4,89.9L260.8,93.8L261.1,98.0M261.1,98.0l2.7,5.0M261.1,98.0L259.1,101.7L259.5,106.0M267.7,83.2L268.8,89.3L267.1,95.2M267.1,95.2l1.5,6.6M267.1,95.2L266.8,101.4L266.9,107.6L265.5,113.6M272.9,75.9L277.0,74.6L279.1,70.8M279.1,70.8l0.3,-5.5M279.1,70.8L280.9,66.9M280.9,66.9l0.7,-11.2M280.9,66.9L284.3,64.3L288.4,63.0M268.7,79.7L273.9,78.0L279.0,76.3L284.4,75.3L289.7,76.3L295.2,76.3M266.6,81.8L266.8,87.1L265.4,92.3M265.4,92.3l0.9,8.9M265.4,92.3L264.9,97.6M264.9,97.6l-7.2,7.8M264.9,97.6L265.5,102.9L264.2,108.1M268.1,76.6L269.0,73.3L268.8,69.8M268.8,69.8l-7.2,-9.4M268.8,69.8L268.7,66.3L270.1,63.1L269.6,59.7M276.2,86.8L279.6,89.6L283.9,90.1M283.9,90.1l4.4,3.0M283.9,90.1L288.2,90.8L292.6,90.5L296.3,92.8M265.1,77.1L262.2,73.9L262.3,69.6L262.1,65.3M262.1,65.3l-2.8,-7.7M262.1,65.3L263.4,61.2L263.6,57.0M273.2,81.5L277.7,78.6L282.7,76.8L287.3,73.9L291.4,70.5L296.6,69.2M266.4,74.3L265.5,71.6L265.1,68.7L263.4,66.5M263.4,66.5l-9.5,-6.0M263.4,66.5L263.8,63.7L261.9,61.6M266.6,81.8L263.7,85.8L260.9,89.8L259.2,94.3L255.9,97.9L255.9,102.8M260.8,71.5L258.3,69.5L256.0,67.3L253.1,66.0M253.1,66.0l-6.3,-9.9M253.1,66.0L250.5,64.1L248.3,61.9M278.4,82.8L282.6,84.6L286.3,87.1L290.7,88.3M290.7,88.3l6.7,5.9M290.7,88.3L295.1,87.6L298.4,90.6M269.2,71.9L270.7,69.3L270.9,66.4M270.9,66.4l-6.5,-9.3M270.9,66.4L270.2,63.4L270.0,60.5L270.6,57.5M274.9,80.4L278.6,77.7L282.8,75.7M282.8,75.7l6.9,-0.0M282.8,75.7L286.6,73.1L290.1,70.2L293.0,66.6M263.6,71.9L263.2,67.0L259.6,63.6M259.6,63.6l-10.1,-1.7M259.6,63.6L256.9,59.5L253.6,55.9L251.1,51.7M262.6,82.7L257.8,86.4L253.0,90.0L250.1,95.3L247.4,100.6L245.3,106.3M270.0,81.7L273.3,81.5L276.7,81.7M276.7,81.7l4.9,2.8M276.7,81.7L279.9,82.1M279.9,82.1l9.4,6.2M279.9,82.1L282.8,83.7L286.1,83.2M263.9,81.4L258.3,82.4L252.7,81.6M252.7,81.6l-9.2,-6.0M252.7,81.6L247.1,80.7M247.1,80.7l-5.4,-4.9M247.1,80.7L242.2,77.8L236.6,78.6M253.1,79.2L251.0,77.8L249.1,76.1M249.1,76.1l-3.5,-11.4M249.1,76.1L246.5,76.0M246.5,76.0l-7.5,-3.6M246.5,76.0L244.1,76.6L241.5,76.3M272.4,87.6L275.0,89.4L277.6,91.2M277.6,91.2l6.7,-0.5M277.6,91.2L279.9,93.4L282.8,94.9L284.7,97.4M272.2,76.4L274.0,74.9L275.1,73.0L277.3,72.3L279.2,71.0L280.2,69.0M278.0,87.1L278.9,88.5L280.3,89.3M280.3,89.3l6.8,8.6M280.3,89.3L281.3,90.6L282.8,91.1L284.0,92.2M269.7,89.6L271.5,94.4L272.7,99.3M272.7,99.3l-4.1,9.0M272.7,99.3L276.7,102.4M276.7,102.4l3.4,11.3M276.7,102.4L276.0,107.5L275.7,112.5M256.8,78.2L254.4,76.9L252.4,75.1M252.4,75.1l-1.8,-6.7M252.4,75.1L249.9,74.0L247.2,73.6L244.5,73.6M254.2,77.2L253.1,76.0L251.7,75.3M251.7,75.3l-2.9,-5.4M251.7,75.3L250.3,74.5L248.8,74.0L247.2,74.1M264.4,90.7L265.0,92.9L265.8,94.9M265.8,94.9l5.0,4.9M265.8,94.9L266.4,97.1L266.8,99.3L266.1,101.5M268.0,89.9L269.2,91.7L268.8,93.8L269.5,95.9M269.5,95.9l-0.9,11.9M269.5,95.9L269.0,98.0L269.8,100.0M263.1,94.5L262.0,98.3L263.2,102.2L263.1,106.2L263.3,110.2L261.8,114.0M254.5,79.4L251.9,78.8L249.4,77.9L246.7,77.9L244.2,76.9L242.2,75.1M262.1,70.3L262.5,67.0L260.0,64.7L258.1,62.0L255.4,60.0L255.1,56.6M270.8,76.9L273.8,75.9L275.9,73.6L277.0,70.6M277.0,70.6l-3.0,-10.9M277.0,70.6L278.7,68.0L280.7,65.5M275.3,88.3L277.5,89.2L279.9,89.6L282.3,89.5M282.3,89.5l9.9,-5.6M282.3,89.5L284.6,90.1L286.9,90.8M263.6,78.2L259.6,76.7L258.0,72.7M258.0,72.7l-8.6,-7.2M258.0,72.7L255.5,69.3L253.6,65.4L249.6,64.0M272.4,69.9L274.2,66.9L274.7,63.4L275.2,60.0L276.3,56.6L278.1,53.6" fill="none" stroke="#1e1e1e" stroke-width="0.9" stroke-opacity="0.38" stroke-linecap="round" stroke-linejoin="round"/>
<circle cx="317.3" cy="39.5" r="33.3" fill="url(#pgA)"/>
<path d="M339.9,47.1l3.2,1.4M293.9,39.8l-4.2,-0.5M329.4,33.4l2.9,-6.2M307.0,59.8l-3.1,2.5M331.5,62.5l0.3,5.3M323.7,27.8l3.1,-1.9M323.3,39.9l4.7,0.6M301.1,34.5l-2.0,-2.9M339.8,51.2l5.5,0.7M294.5,39.4l-5.9,0.0M335.4,20.9l2.6,-2.6M339.9,27.2l4.0,-2.1M316.2,48.5l1.0,3.4M338.7,40.1l2.4,1.9M306.5,63.7l-4.3,2.3M310.2,25.2l-2.9,-3.8M325.9,20.3l1.6,-3.2M308.9,49.4l-1.3,2.1M303.0,18.6l-0.1,-5.0M305.6,26.1l-0.4,-3.0M305.0,10.4l-0.2,-3.3M338.5,38.9l3.4,-2.2M309.7,13.3l-0.3,-3.5M323.6,54.7l0.6,5.7M304.1,55.5l-2.8,1.7M305.3,9.4l0.4,-4.3M324.3,53.4l-0.4,3.0M345.7,32.0l3.7,-5.2M322.5,9.6l1.4,-3.1M307.9,20.2l-3.1,-2.0M331.4,11.9l1.4,-2.9M317.3,16.2l2.0,-3.1M322.0,49.7l-0.6,6.4M296.9,20.5l-3.0,-0.6M330.4,41.1l3.5,0.7M322.3,33.2l2.4,-1.8M295.8,18.8l-2.3,-4.4M304.3,23.9l-1.9,-5.3M295.5,50.1l-5.5,0.5M326.1,58.3l0.2,2.6M343.8,46.3l3.1,-1.1M308.1,25.6l-1.4,-5.5M309.5,25.2l-2.5,-1.3M319.4,45.0l-0.3,4.4M339.1,34.0l6.4,1.3M301.1,29.5l-1.8,-3.6M316.7,52.0l2.5,5.3M345.0,32.3l3.7,-2.8M324.5,17.7l3.0,-4.3M306.0,36.2l-2.5,-3.0M330.5,34.0l2.4,-1.1M297.8,21.5l-3.5,-3.2M333.4,49.6l2.0,4.0M333.9,33.7l3.0,-2.5M299.3,27.8l-3.7,0.3M316.0,23.7l-0.0,-2.9M303.8,22.8l-2.6,-1.3M336.1,37.9l4.8,-3.6M318.6,51.1l-2.1,6.0M292.0,32.5l-3.8,1.2M329.8,57.4l4.5,1.5M314.9,46.0l-3.0,4.1M307.3,57.2l-2.5,4.1M319.3,50.7l3.8,3.2M334.8,49.4l3.2,1.3M338.3,17.8l4.1,-2.0M294.6,48.8l-4.8,-0.5M320.8,58.8l4.9,4.5M324.0,45.2l1.7,3.1M341.1,19.0l6.7,-0.7M328.5,41.7l4.6,0.5M330.6,10.9l3.6,-2.2M305.2,27.0l-2.3,-3.2M322.5,9.3l-1.5,-2.9M326.6,46.7l2.3,5.0M331.9,11.3l4.2,-3.9M310.6,67.0l-3.6,3.2M325.0,60.3l1.6,3.9M296.9,51.7l-5.1,1.9M313.0,10.0l-2.8,-5.6M314.1,50.4l-1.6,2.0M332.2,62.3l6.0,2.0M291.5,21.5l-2.4,-4.8M300.1,63.3l-2.6,2.2M340.5,24.0l3.2,-4.2M328.7,45.9l3.0,0.7M310.5,30.5l-5.2,-1.7M319.0,45.9l-1.3,3.0M308.7,57.0l-4.7,3.6M297.5,41.9l-6.5,1.1M300.8,30.5l-3.3,-2.6M301.5,31.8l-4.3,-2.6M301.7,31.6l-2.9,-0.1M318.6,15.6l-0.7,-6.7M312.5,66.3l-2.8,4.9M328.5,44.7l2.9,0.4M315.0,65.8l-1.1,2.8M322.8,54.2l2.8,2.0M325.7,50.4l0.3,5.6M310.4,58.4l-0.9,2.3M302.7,38.7l-5.0,1.3M295.2,31.8l-5.7,1.1M330.3,28.7l4.1,-1.1M329.2,45.7l5.9,-0.3M312.2,30.7l-4.3,-5.3M316.0,65.8l0.3,6.8M305.8,10.5l-1.7,-6.2M314.8,49.2l1.3,2.9M332.3,23.7l6.2,-2.9M316.7,59.0l-1.1,5.8M298.6,31.6l-2.7,-2.8M326.0,62.3l2.0,4.2M302.0,50.9l-2.8,1.5M303.3,64.6l-3.1,3.0M297.2,47.2l-5.9,3.4M335.9,63.8l0.7,3.4M326.2,65.8l1.1,6.4M337.0,44.6l3.5,1.0M338.3,31.0l2.7,-0.1M312.7,65.9l0.9,4.1M348.6,35.6l4.2,-3.2M307.0,16.6l-1.2,-6.2M347.9,31.8l4.1,1.5M332.2,35.1l4.3,-0.7M298.6,20.3l-0.6,-4.2M324.5,61.0l-0.2,5.5M305.6,43.8l-2.4,-0.6M331.5,13.6l1.9,-2.1M343.3,35.0l4.8,0.1M316.3,11.9l-2.0,-3.7M306.5,11.3l-1.1,-6.3" fill="none" stroke="#1e1e1e" stroke-width="0.8" stroke-opacity="0.23" stroke-linecap="round"/>
<path d="M316.0,37.0L313.9,32.8L314.3,28.0L314.4,23.2L314.2,18.4L315.8,13.9M319.2,33.6L321.0,30.3L320.2,26.6L321.6,23.0L322.2,19.3L321.3,15.6M312.7,49.5L312.9,51.6L312.8,53.8L312.9,55.9L311.7,57.7L310.1,59.0M320.8,45.0L324.8,47.3L326.2,51.8M326.2,51.8l-2.1,6.8M326.2,51.8L330.3,54.0L334.5,56.2L335.9,60.6M316.1,36.5L312.6,32.3L309.7,27.8M309.7,27.8l-0.5,-9.4M309.7,27.8L304.9,25.2L299.6,23.8L297.3,18.9M309.2,37.6L305.7,35.1L302.4,32.4L298.2,31.9L294.5,29.8L290.3,28.9M316.5,36.3L317.5,32.5L319.1,29.0M319.1,29.0l7.6,-5.7M319.1,29.0L321.5,26.0M321.5,26.0l2.3,-7.9M321.5,26.0L321.2,22.2L322.9,18.7M315.3,41.2L311.1,45.5L309.9,51.3M309.9,51.3l1.9,6.8M309.9,51.3L304.9,54.5L301.6,59.4L297.8,63.9M316.8,39.4L311.7,37.5L307.2,34.6L302.1,32.9L297.7,29.8L292.4,29.0M317.6,39.4L321.2,37.6L325.2,37.5M325.2,37.5l8.3,5.9M325.2,37.5L329.1,38.6L333.0,39.9L336.6,38.1M325.1,39.7L327.3,39.8L329.4,40.1L331.3,39.1M331.3,39.1l5.5,-10.0M331.3,39.1L333.2,38.2L335.2,39.1M320.5,49.9L320.0,51.5L320.2,53.2L320.1,55.0L320.9,56.5L321.1,58.2M330.1,42.4L333.0,44.1L336.2,45.4M336.2,45.4l10.1,-0.9M336.2,45.4L339.6,44.9M339.6,44.9l4.4,-3.3M339.6,44.9L343.0,45.4L346.2,46.5M309.1,42.8L305.6,43.4L302.0,42.9M302.0,42.9l-6.3,-3.1M302.0,42.9L298.5,43.0M298.5,43.0l-8.1,3.5M298.5,43.0L295.4,44.7L292.8,47.2M324.4,29.3L324.5,27.0L326.3,25.6L327.8,23.9L329.9,22.9L331.7,21.6M316.6,39.9L312.7,44.0L309.8,48.8M309.8,48.8l0.5,10.5M309.8,48.8L304.5,50.9L301.5,55.6L297.7,59.8M318.7,30.9L319.1,26.5L319.3,22.1L320.2,17.7M320.2,17.7l3.2,-4.1M320.2,17.7L318.7,13.5L321.1,9.8M317.4,43.4L317.5,47.4L318.0,51.3L320.3,54.5M320.3,54.5l5.5,3.4M320.3,54.5L321.3,58.4L320.5,62.3M310.0,42.6L307.8,43.2L305.6,44.0L303.3,43.8M303.3,43.8l-4.2,-3.9M303.3,43.8L301.0,44.2L298.7,44.2M315.9,39.4L309.9,37.2L303.6,36.1M303.6,36.1l-9.4,4.1M303.6,36.1L298.7,32.0M298.7,32.0l-7.1,-0.2M298.7,32.0L293.3,28.7L289.3,23.7M314.7,32.9L315.5,29.2L313.4,26.1L312.7,22.4L312.8,18.6L312.7,14.9M324.1,45.0L327.1,46.7L329.7,48.9M329.7,48.9l10.6,2.3M329.7,48.9L332.9,50.3L335.7,52.2L338.4,54.3M309.8,38.0L306.9,38.4L304.0,38.3L301.1,38.7M301.1,38.7l-7.5,5.8M301.1,38.7L298.6,40.2L296.0,41.7M316.1,47.3L315.3,50.8L316.7,54.1L316.3,57.7L317.3,61.2L316.6,64.7M314.1,48.0L313.1,50.9L312.8,54.0L310.8,56.4L311.1,59.5L310.4,62.5M320.1,33.7L319.7,30.0L322.3,27.2L324.1,23.9M324.1,23.9l5.8,-2.8M324.1,23.9L325.8,20.6L326.0,16.8M313.3,42.4L310.0,43.2L306.7,43.3M306.7,43.3l-5.0,2.4M306.7,43.3L304.5,45.9L302.2,48.3L298.9,48.8M319.2,28.3L318.4,24.8L317.3,21.3M317.3,21.3l0.8,-10.5M317.3,21.3L318.6,17.9M318.6,17.9l4.2,-3.2M318.6,17.9L316.9,14.7L318.7,11.5M314.2,41.8L310.6,46.3L305.1,48.5L299.3,48.9M299.3,48.9l-8.2,7.6M299.3,48.9L293.5,49.7L287.7,50.4M317.0,39.9L314.7,45.4L314.7,51.4L316.0,57.2M316.0,57.2l4.8,4.6M316.0,57.2L314.0,62.8L314.5,68.8M314.8,41.6L310.2,43.0L305.4,43.6L300.7,42.5L296.3,44.5L292.3,47.3M305.1,39.4L302.7,39.8L300.7,41.1M300.7,41.1l-5.9,7.8M300.7,41.1L298.4,40.2L296.0,40.6L293.9,41.8M316.8,40.8L314.0,44.1L310.3,46.4L306.5,48.6M306.5,48.6l-7.3,0.4M306.5,48.6L304.6,52.5L300.4,53.6M306.2,37.9L303.3,37.9L300.6,37.0M300.6,37.0l-6.2,-4.7M300.6,37.0L297.8,37.8M297.8,37.8l-7.7,7.7M297.8,37.8L295.0,37.9L292.3,39.0M326.3,38.9L328.5,40.2L330.9,39.2M330.9,39.2l6.0,-6.5M330.9,39.2L333.4,38.3M333.4,38.3l8.9,-0.0M333.4,38.3L335.7,37.2L338.3,37.1M317.4,35.3L316.1,32.4L314.6,29.7L312.2,27.7L310.4,25.1L308.9,22.4M308.8,46.0L305.4,47.6L303.8,51.0L302.4,54.4M302.4,54.4l-0.4,10.8M302.4,54.4L301.4,58.0L299.5,61.2M328.6,34.7L330.1,34.5L331.6,34.3L332.9,33.6M332.9,33.6l4.5,-5.8M332.9,33.6L334.4,33.2L335.9,33.5M309.3,42.7L306.1,46.1L303.8,50.2M303.8,50.2l-0.5,5.0M303.8,50.2L301.3,54.2L298.4,58.0L294.4,60.4M320.6,44.1L322.8,49.2L325.6,54.0L329.0,58.4M329.0,58.4l0.2,6.1M329.0,58.4L333.0,62.2L335.6,67.1M318.2,29.5L317.9,27.5L318.7,25.6L317.9,23.7M317.9,23.7l3.2,-9.9M317.9,23.7L319.1,22.1L318.7,20.1M324.1,34.9L327.2,31.2L330.8,27.9M330.8,27.9l7.3,-1.6M330.8,27.9L335.1,25.8L337.8,21.8L342.4,20.2M317.4,43.2L317.0,48.1L317.7,53.0M317.7,53.0l3.5,5.5M317.7,53.0L318.2,57.9L317.7,62.7L316.0,67.4M315.3,50.4L313.0,54.1L313.0,58.4M313.0,58.4l-4.0,8.7M313.0,58.4L312.2,62.7L310.9,66.9L311.2,71.3M312.4,36.8L309.2,35.7L306.2,34.0M306.2,34.0l-3.7,-4.8M306.2,34.0L304.4,31.1M304.4,31.1l-0.0,-5.8M304.4,31.1L301.0,30.6L297.8,29.5M310.3,48.3L309.7,51.3L307.3,53.2L304.8,55.1L303.8,58.0L301.5,60.0M315.0,38.7L312.1,35.3L307.6,34.9L303.3,33.6M303.3,33.6l-6.7,-5.3M303.3,33.6L299.5,31.2L296.7,27.7M316.0,39.5L310.6,38.4L305.2,39.1M305.2,39.1l-7.9,4.6M305.2,39.1L300.4,36.4L295.8,33.5L290.5,34.7M309.1,48.5L308.1,50.6L306.1,51.9L305.7,54.2M305.7,54.2l-3.1,5.6M305.7,54.2L303.5,55.0L301.3,56.0M312.2,48.4L312.4,52.8L311.0,57.0M311.0,57.0l1.4,5.3M311.0,57.0L310.4,61.4M310.4,61.4l2.4,9.9M310.4,61.4L307.7,64.9L307.3,69.3M312.7,28.7L312.9,24.9L311.6,21.3L309.5,18.1L306.8,15.3L303.7,13.1M319.5,35.3L322.0,33.8L324.3,32.0L326.0,29.6L326.8,26.8L328.3,24.3M313.3,38.4L310.2,35.1L307.6,31.4L305.8,27.2M305.8,27.2l0.2,-10.2M305.8,27.2L304.1,23.0L300.2,20.8M317.5,45.2L318.0,48.3L316.9,51.3M316.9,51.3l-0.1,6.3M316.9,51.3L315.4,54.1M315.4,54.1l-9.5,6.3M315.4,54.1L316.1,57.2L317.6,60.0M319.6,32.9L320.8,29.6L322.7,26.6M322.7,26.6l0.7,-9.4M322.7,26.6L324.0,23.4M324.0,23.4l-0.1,-8.3M324.0,23.4L324.9,19.9L324.7,16.4M315.4,39.2L311.9,40.4L308.3,41.8M308.3,41.8l-4.0,3.3M308.3,41.8L305.5,44.2M305.5,44.2l-10.2,1.6M305.5,44.2L301.7,43.8L299.1,46.5M313.2,40.9L308.3,42.4L303.2,41.6L298.3,39.9M298.3,39.9l-5.0,-5.3M298.3,39.9L293.5,42.0L288.4,42.4M313.2,46.3L312.3,49.5L312.7,52.9L311.2,55.9L311.3,59.3L311.6,62.7M320.8,32.2L322.2,28.6L322.3,24.7L325.1,22.1L327.4,19.0L328.8,15.4M313.8,44.9L310.3,48.5L307.8,53.0L307.2,58.0M307.2,58.0l2.1,5.0M307.2,58.0L305.9,63.0L302.6,66.8M317.2,39.6L316.1,46.1L315.6,52.6M315.6,52.6l-3.9,4.1M315.6,52.6L311.5,57.7L312.1,64.2L309.5,70.2M322.8,51.5L324.4,53.8L325.5,56.3L326.3,58.9L327.0,61.5L326.9,64.3M322.3,36.5L325.7,33.5L329.1,30.6M329.1,30.6l2.4,-5.7M329.1,30.6L331.7,26.9L334.6,23.4L336.1,19.2M312.9,38.9L308.2,39.9L303.6,38.5L298.7,38.3M298.7,38.3l-6.5,-3.7M298.7,38.3L294.1,36.8L289.8,39.0M312.6,41.6L308.2,42.4L303.7,42.1M303.7,42.1l-5.1,-4.9M303.7,42.1L299.6,44.0M299.6,44.0l-5.1,6.9M299.6,44.0L296.5,47.4L292.1,48.3" fill="none" stroke="#1e1e1e" stroke-width="0.9" stroke-opacity="0.38" stroke-linecap="round" stroke-linejoin="round"/>
<circle cx="376.0" cy="50.0" r="18.7" fill="url(#pgA)"/>
<path d="M380.2,50.7l2.6,2.2M370.4,54.9l-5.3,1.3M377.0,40.4l-1.3,-5.7M371.9,42.8l-1.9,-3.3M384.2,44.9l3.6,-4.2M377.7,61.6l1.7,5.5M371.2,42.3l-1.3,-2.6M361.1,43.0l-6.1,-1.5M391.6,53.6l4.6,1.4M393.4,47.4l5.7,3.2M363.6,52.1l-5.2,-0.5M387.3,47.8l5.5,2.9M374.4,34.1l-1.9,-4.9M372.1,64.0l-1.0,4.6M361.5,41.3l-4.5,0.2M372.8,50.7l-5.1,3.8M376.8,32.1l-0.6,-2.9M385.4,62.5l0.0,4.7M365.0,55.8l-3.6,-0.4M380.8,43.1l3.8,-4.7M360.3,55.2l-6.5,2.0M367.2,51.0l-5.2,-2.8M372.2,47.4l-2.0,-2.4M385.0,44.2l5.5,-2.5M380.2,53.4l5.4,3.5M379.4,32.4l-2.2,-4.8M369.2,48.3l-3.0,-2.3M389.7,45.2l3.7,-5.9M380.1,67.4l-2.3,5.3M371.4,52.2l-3.8,-0.0M382.2,61.6l-0.2,6.6M373.7,62.7l-1.8,6.3M381.4,35.9l-0.5,-6.8M377.9,45.4l0.9,-2.5M371.1,35.3l-4.2,-4.5M391.6,53.0l5.0,2.0M370.7,40.0l1.1,-5.9M389.0,61.6l1.0,3.5M380.2,56.4l1.4,3.8M388.7,39.0l1.1,-3.2M379.9,51.4l3.1,4.8M371.6,53.3l-3.3,1.2M390.1,57.5l2.0,4.7M392.6,55.8l4.1,3.9M390.3,40.9l5.5,-4.1M384.7,39.5l0.7,-3.0M383.3,48.4l3.5,0.6M378.1,61.7l3.0,3.0M374.2,54.9l-4.6,2.7M388.5,46.4l5.8,0.1M375.1,44.0l-0.4,-7.0M385.4,39.6l1.0,-2.5M381.6,51.0l4.4,-1.9M363.8,45.5l-3.6,-4.2M377.0,32.9l0.9,-2.6M363.4,43.2l-5.5,-2.6M363.4,44.9l-3.7,-2.6M364.9,37.3l-3.5,-5.6M360.7,42.3l-3.5,-0.1M359.7,49.9l-3.1,-1.3M385.7,37.2l4.7,-4.7M387.3,59.1l6.5,1.3M372.4,36.9l-1.4,-2.1M381.4,62.6l0.1,3.4M378.2,35.3l2.5,-3.5M366.3,58.1l-4.4,4.1M390.1,49.1l4.7,-4.0M365.6,55.5l-3.3,1.8M369.6,49.0l-6.7,-0.2M375.7,55.6l2.5,3.6M392.0,54.6l4.6,1.2M362.4,55.6l-2.8,3.6M377.7,41.4l0.4,-2.7M361.1,55.5l-6.1,-0.8" fill="none" stroke="#1e1e1e" stroke-width="0.8" stroke-opacity="0.23" stroke-linecap="round"/>
<path d="M374.8,51.0L373.2,52.0L371.5,52.6L369.7,52.8M369.7,52.8l-3.0,2.9M369.7,52.8L368.0,53.6L366.2,53.8M377.1,52.5L379.6,54.1L381.0,56.7M381.0,56.7l-0.7,5.5M381.0,56.7L382.4,59.2L384.5,61.3L385.5,64.0M376.2,44.0L376.3,41.6L375.5,39.4M375.5,39.4l0.5,-4.8M375.5,39.4L375.0,37.1L373.6,35.2L373.7,32.8M375.6,47.8L374.3,46.5L373.9,44.7M373.9,44.7l-4.3,-3.7M373.9,44.7L373.1,43.1L372.0,41.7L371.1,40.1M377.3,56.7L377.4,58.5L376.8,60.1M376.8,60.1l-3.4,3.4M376.8,60.1L377.5,61.7L378.6,63.1L378.5,64.9M381.2,53.5L382.3,53.6L383.3,54.1L384.4,54.1L385.5,54.2L386.1,55.2M380.8,46.8L381.7,45.3L382.8,44.0M382.8,44.0l0.4,-4.4M382.8,44.0L383.7,42.5L385.0,41.3L386.6,40.6M375.2,45.1L374.4,43.4L374.2,41.6M374.2,41.6l2.3,-3.5M374.2,41.6L373.5,39.9L373.1,38.1L371.9,36.7M379.1,54.3L379.4,55.6L380.5,56.2M380.5,56.2l6.4,0.6M380.5,56.2L380.6,57.5L381.0,58.6L381.6,59.7M377.5,53.5L378.9,55.4L378.9,57.7L380.6,59.3L381.5,61.4L382.9,63.4M377.3,48.7L379.7,46.9L381.8,44.8M381.8,44.8l3.6,-0.7M381.8,44.8L383.9,42.6M383.9,42.6l2.3,-5.7M383.9,42.6L385.9,40.4L388.8,39.5M377.3,49.7L380.3,47.9L383.6,46.5L387.1,46.9L390.1,45.1L392.2,42.3M379.7,54.8L380.4,57.2L380.5,59.7L382.6,61.0M382.6,61.0l3.4,5.1M382.6,61.0L383.6,63.3L385.2,65.1M372.7,44.2L371.2,42.3L370.4,40.1L370.4,37.7M370.4,37.7l1.6,-3.2M370.4,37.7L370.3,35.3L368.7,33.6M377.5,51.4L380.0,51.9L382.5,52.1L385.0,52.3M385.0,52.3l4.0,2.2M385.0,52.3L387.1,53.8L389.5,54.5M375.7,49.7L374.0,48.0L373.0,45.9L372.4,43.7M372.4,43.7l-4.2,-4.1M372.4,43.7L372.2,41.3L370.6,39.7M376.7,49.9L378.7,50.6L380.9,51.0M380.9,51.0l2.6,1.6M380.9,51.0L383.0,50.7M383.0,50.7l3.0,1.9M383.0,50.7L385.0,49.8L387.2,50.1M376.0,50.3L376.6,53.0L376.6,55.8L376.0,58.5L375.3,61.1L375.3,63.9M368.8,48.8L366.7,48.1L365.1,46.5L362.8,46.9L360.8,45.9L358.6,46.4M376.2,50.2L377.9,51.9L379.4,53.9L381.2,55.6L382.3,57.8L383.3,60.1M379.0,46.2L381.4,44.9L382.2,42.3M382.2,42.3l4.7,-3.2M382.2,42.3L382.5,39.5M382.5,39.5l-1.5,-3.4M382.5,39.5L383.8,37.1L385.1,34.6M375.0,46.1L374.2,43.9L373.1,41.8M373.1,41.8l0.2,-4.8M373.1,41.8L372.3,39.6L372.9,37.3L373.7,35.0M381.5,51.7L382.9,52.3L384.3,52.0L385.8,52.0L387.2,52.4L388.7,52.6M379.5,54.0L379.8,55.4L380.7,56.5L382.0,57.1M382.0,57.1l3.9,4.6M382.0,57.1L382.2,58.5L383.6,59.0M374.8,44.9L374.4,43.4L374.2,41.9L373.0,40.8L373.1,39.2L373.5,37.8M376.2,53.6L376.6,56.6L377.1,59.7L377.8,62.7L379.7,65.2L379.5,68.3M371.6,52.3L370.9,53.3L370.4,54.3L369.4,55.0L368.3,55.4L367.2,55.9M378.6,55.0L378.9,56.1L379.7,57.0L380.4,57.9M380.4,57.9l3.2,2.2M380.4,57.9L380.3,59.1L381.1,60.0M381.9,49.5L383.3,50.2L384.8,50.7L386.3,50.7L387.7,50.0L389.1,49.3M376.8,49.1L377.4,46.9L377.4,44.7L378.5,42.8L378.6,40.6L378.5,38.4M371.9,54.9L371.7,57.2L369.6,58.2L367.5,59.1M367.5,59.1l-1.8,3.4M367.5,59.1L365.3,60.1L364.8,62.3M379.7,52.4L381.3,53.1L382.8,53.7L383.9,55.0M383.9,55.0l0.4,6.5M383.9,55.0L385.1,56.2L386.6,57.1M380.1,56.2L381.3,57.5L381.6,59.2L382.4,60.7M382.4,60.7l0.2,4.4M382.4,60.7L383.6,62.0L384.2,63.7M376.9,54.9L376.2,57.5L376.2,60.1M376.2,60.1l2.6,3.2M376.2,60.1L376.6,62.8L376.9,65.4L376.1,67.9M376.7,50.7L378.9,52.9L381.2,55.1M381.2,55.1l4.5,1.0M381.2,55.1L382.2,58.1M382.2,58.1l-1.5,5.4M382.2,58.1L383.8,60.8L385.2,63.6M379.9,47.6L381.1,45.5L382.5,43.5L384.3,41.9L385.1,39.6L387.4,38.8M376.6,50.9L377.9,52.7L380.0,53.8L382.0,55.0M382.0,55.0l3.5,3.8M382.0,55.0L382.8,57.1L384.7,58.4" fill="none" stroke="#1e1e1e" stroke-width="0.9" stroke-opacity="0.38" stroke-linecap="round" stroke-linejoin="round"/>
<circle cx="346.0" cy="107.5" r="33.3" fill="url(#pgA)"/>
<path d="M350.9,98.2l3.9,-2.2M368.1,115.1l5.3,-0.8M326.9,118.3l-3.2,5.9M335.3,129.8l0.9,4.7M350.4,76.5l-0.4,-3.3M364.1,127.1l5.2,4.5M357.4,86.9l-0.5,-4.1M327.0,122.2l-1.3,2.6M340.9,114.6l-2.9,4.6M342.5,93.5l1.0,-2.6M350.0,87.4l-1.5,-4.1M335.6,114.2l-4.4,0.4M330.8,105.9l-2.9,-1.8M328.6,124.6l-2.2,6.1M367.9,128.9l1.2,6.1M325.6,95.4l-5.4,-1.9M366.0,120.6l5.4,-0.3M347.2,130.4l-1.4,2.7M343.3,102.3l-3.8,-2.5M331.9,96.9l-2.3,-1.8M364.7,129.5l3.1,5.1M356.6,105.4l5.4,-2.9M365.3,132.6l0.8,5.3M370.7,100.1l1.6,-2.4M341.3,113.5l-1.1,5.2M345.2,87.1l-3.4,-4.4M340.4,103.6l-3.9,-1.6M365.6,111.3l2.6,2.8M342.4,110.6l-6.2,0.9M320.5,91.4l-2.2,-3.1M349.8,122.0l0.9,5.4M358.2,110.3l3.6,3.4M330.8,134.7l-2.0,3.5M366.9,88.6l1.1,-2.6M316.8,96.8l-5.7,-0.6M323.8,101.0l-5.2,-3.7M343.7,92.3l-1.3,-6.6M349.0,82.9l0.8,-5.9M334.1,80.2l-0.1,-6.2M338.4,90.5l-1.3,-2.9M331.6,125.4l-2.1,6.5M330.7,92.8l-2.9,-0.9M318.4,91.1l-5.2,0.6M320.1,118.7l-2.8,3.9M351.3,84.5l-0.3,-2.7M361.2,92.6l2.4,-4.5M330.3,121.9l-3.3,3.1M358.5,110.4l6.4,2.5M365.2,114.9l4.7,-1.5M336.3,112.0l-2.7,3.9M356.0,97.7l4.6,-5.0M344.5,97.8l3.4,-6.1M352.8,92.2l3.2,-2.4M331.4,118.2l-1.4,4.9M362.4,81.9l4.4,-1.8M350.4,82.5l-1.2,-6.8M341.8,79.7l3.0,-5.5M353.4,132.4l-0.3,4.4M360.7,92.6l3.9,-5.1M324.0,86.6l-2.5,-1.0M363.8,90.5l1.5,-4.8M320.8,117.8l-5.8,1.9M360.0,111.3l2.8,1.4M356.7,110.6l4.3,1.0M341.3,97.7l-4.7,-4.0M348.1,133.7l0.2,5.4M358.9,110.8l2.6,0.3M360.5,81.8l0.4,-3.6M358.3,108.0l6.2,0.3M320.6,101.6l-6.0,-0.1M373.8,98.1l2.7,-1.6M319.5,124.7l-4.8,0.1M339.3,138.9l-2.2,2.7M343.0,129.5l-1.8,1.8M330.2,85.6l-0.5,-4.2M341.9,130.3l1.8,6.7M339.6,132.1l-3.1,3.7M358.9,122.9l4.8,1.9M341.6,80.4l-3.4,-5.9M324.7,128.6l-0.6,2.6M322.3,126.7l-3.1,1.6M318.7,109.8l-4.9,4.7M317.4,101.0l-6.0,-0.8M316.1,97.3l-3.3,-3.9M342.5,114.2l0.4,4.0M328.5,109.0l-5.2,0.2M316.8,119.3l-3.7,2.0M330.9,99.4l-4.0,-2.9M345.9,134.1l-3.9,5.6M335.6,79.0l-1.3,-5.5M363.0,121.5l1.3,3.3M366.3,86.6l4.0,-2.0M375.4,110.7l3.9,3.4M338.3,96.2l-1.9,-2.6M336.9,129.9l-1.7,4.0M340.3,116.8l-5.2,3.3M349.0,94.5l2.7,-3.7M350.2,128.2l1.9,6.5M357.3,84.9l-0.2,-3.1M345.5,91.4l-1.5,-3.0M360.9,131.4l0.8,5.2M371.4,99.0l3.4,-2.8M350.2,118.1l3.0,3.0M359.1,128.1l5.0,4.2M371.9,115.9l2.6,-0.5M338.7,135.8l-0.9,2.7M358.4,91.5l5.3,-1.9M362.8,98.1l1.9,-3.8M369.4,116.4l4.7,3.4M356.7,80.4l-0.6,-2.5M338.4,101.3l-1.7,-2.1M328.3,87.1l-4.5,-4.3M377.6,107.3l5.5,-1.4M339.2,76.5l1.6,-3.4M352.4,77.3l2.5,-3.7M353.9,95.5l1.9,-5.7M339.3,76.3l0.8,-3.7M317.9,107.9l-2.8,1.1M369.9,109.4l5.2,-3.5M341.8,136.6l0.0,4.7M322.2,103.0l-4.5,1.9M359.9,135.2l4.4,4.8M322.3,118.7l-1.9,2.7M337.7,119.3l-0.2,3.3M338.4,76.1l0.1,-3.3M345.1,135.6l-0.4,3.3M336.1,125.6l-3.2,3.6M325.6,125.3l-1.7,6.5M321.1,112.8l-4.2,1.4M345.9,118.0l-1.2,6.6M324.6,91.4l-1.5,-3.2" fill="none" stroke="#1e1e1e" stroke-width="0.8" stroke-opacity="0.23" stroke-linecap="round"/>
<path d="M339.7,109.5L335.0,108.4L330.2,108.9L325.6,110.1L321.3,112.3L316.5,112.4M348.3,109.4L351.9,111.9L354.1,115.7L356.0,119.7L360.0,121.4L362.9,124.7M352.0,105.6L355.1,102.6L359.2,100.8M359.2,100.8l5.0,-7.0M359.2,100.8L362.0,97.4M362.0,97.4l6.7,-2.1M362.0,97.4L364.2,93.6L368.3,91.8M345.1,108.7L342.1,112.3L341.2,117.0L340.7,121.7L337.6,125.3L335.0,129.3M346.2,107.3L348.3,103.7L348.8,99.6M348.8,99.6l5.3,-6.0M348.8,99.6L348.5,95.5L348.0,91.4L348.9,87.4M344.6,109.5L344.6,115.3L341.7,120.5M341.7,120.5l-7.7,7.2M341.7,120.5L342.1,126.3M342.1,126.3l-4.4,7.1M342.1,126.3L338.7,131.0L334.9,135.5M346.4,97.2L346.2,94.7L346.3,92.2L346.5,89.7L347.8,87.6L347.6,85.1M344.8,107.7L339.1,105.6L333.1,104.8M333.1,104.8l-11.0,3.5M333.1,104.8L327.2,106.6L321.5,104.6L315.7,102.9M342.3,103.9L341.4,99.9L341.0,95.9M341.0,95.9l2.8,-4.3M341.0,95.9L338.6,92.6L335.4,90.2L334.3,86.3M348.8,103.2L352.2,101.7L354.1,98.3L354.8,94.6L357.7,92.1L359.3,88.7M345.9,107.1L346.2,101.1L347.8,95.3L348.3,89.3M348.3,89.3l-2.2,-4.6M348.3,89.3L346.0,83.7L344.0,78.1M353.9,103.5L358.2,102.1L361.8,99.4L366.3,99.5M366.3,99.5l7.3,3.6M366.3,99.5L370.7,98.7L375.1,97.9M345.2,106.3L343.5,100.8L342.2,95.2M342.2,95.2l2.1,-5.9M342.2,95.2L342.5,89.4L342.4,83.6L343.1,77.9M338.3,110.8L335.7,110.5L333.3,111.9L330.6,112.0M330.6,112.0l-6.1,-4.8M330.6,112.0L328.0,112.7L325.4,113.2M347.9,108.1L351.9,110.8L354.3,115.0L357.9,118.1M357.9,118.1l2.8,4.6M357.9,118.1L362.0,120.6L364.3,124.8M340.4,96.5L338.4,93.2L338.6,89.3L338.6,85.4L335.6,82.8L333.5,79.6M344.7,107.0L340.2,107.1L335.7,107.4M335.7,107.4l-6.8,-4.6M335.7,107.4L331.5,109.0M331.5,109.0l-3.6,3.5M331.5,109.0L327.3,107.2L323.1,105.6M353.7,102.3L355.7,100.5L358.1,99.5M358.1,99.5l3.5,-5.4M358.1,99.5L359.3,97.2M359.3,97.2l2.1,-10.5M359.3,97.2L360.8,95.0L362.9,93.3M349.4,99.2L350.8,94.8L350.4,90.3L352.0,85.9M352.0,85.9l-0.7,-7.5M352.0,85.9L353.7,81.6L353.4,77.0M346.7,118.2L345.7,122.4L345.7,126.6L347.8,130.4L348.2,134.6L350.2,138.4M344.1,111.4L341.1,115.0L339.8,119.5L337.2,123.4M337.2,123.4l-1.8,6.7M337.2,123.4L333.5,126.3L333.2,131.0M343.7,104.7L341.4,101.5L339.9,97.9L339.4,94.0L336.3,91.6L333.5,88.8M349.7,118.1L350.3,121.1L351.4,123.9L353.3,126.3L353.7,129.3L354.2,132.3M351.7,107.8L356.4,105.6L361.5,105.4L366.6,105.4M366.6,105.4l10.4,4.5M366.6,105.4L371.6,104.7L376.0,102.0M347.1,104.4L349.0,101.4L352.0,99.5L354.4,97.0L357.4,95.1L359.1,91.9M345.1,103.3L345.9,99.4L345.2,95.5M345.2,95.5l-6.3,-6.2M345.2,95.5L346.4,91.6L346.9,87.7L348.0,83.9M358.7,103.8L361.5,102.1L364.8,101.9M364.8,101.9l8.5,-7.9M364.8,101.9L367.6,100.2L370.8,100.6L373.8,99.3M346.3,105.6L344.9,102.2L346.3,98.6L347.4,95.0L347.1,91.3L347.8,87.6M336.5,101.8L334.8,100.0L333.1,98.2M333.1,98.2l-10.8,-2.2M333.1,98.2L331.7,96.1L330.6,93.9L329.6,91.6M352.9,109.9L355.6,111.9L357.6,114.5L360.6,115.9M360.6,115.9l10.0,-1.9M360.6,115.9L363.0,118.2L365.7,120.2M349.0,110.5L352.2,113.0L356.1,113.9L358.5,117.1L362.5,118.0L366.5,118.6M346.6,115.6L346.1,119.0L345.1,122.4L344.3,125.8M344.3,125.8l-6.4,9.3M344.3,125.8L343.1,129.1L341.6,132.2M345.9,100.1L345.2,96.6L346.7,93.3M346.7,93.3l7.7,-3.9M346.7,93.3L344.8,90.2L346.2,86.8L345.6,83.3M342.2,97.1L338.8,94.2L337.3,89.9L333.4,87.7M333.4,87.7l-5.3,0.9M333.4,87.7L333.2,83.2L330.0,80.1M348.9,112.1L350.5,114.6L350.6,117.6L351.8,120.3L352.7,123.2L352.2,126.1M335.7,103.2L332.6,102.7L330.5,100.3L327.7,98.8L325.4,96.6L323.6,94.0M345.4,108.0L341.1,111.4L335.7,112.0L330.8,114.4L327.4,118.7L324.4,123.3M346.5,108.6L346.4,113.0L344.3,116.9M344.3,116.9l-9.1,4.6M344.3,116.9L341.7,120.5M341.7,120.5l-2.6,10.4M341.7,120.5L339.0,124.0L336.4,127.7M337.1,112.3L332.5,113.3L327.8,113.3M327.8,113.3l-7.3,5.5M327.8,113.3L323.1,113.2M323.1,113.2l-5.3,2.5M323.1,113.2L319.9,116.6L316.2,119.6M355.0,110.6L359.3,111.4L363.5,112.4L367.7,113.5M367.7,113.5l4.1,3.0M367.7,113.5L370.7,116.7L374.9,117.6M340.1,106.4L337.5,104.5L334.7,102.7M334.7,102.7l-2.8,-5.9M334.7,102.7L331.5,102.2L329.4,99.7L326.4,98.7M348.3,102.3L351.0,100.4L352.2,97.3L353.4,94.2L353.4,90.9L355.7,88.5M353.5,100.1L355.6,98.0L357.2,95.6M357.2,95.6l-0.5,-7.3M357.2,95.6L360.0,94.4M360.0,94.4l8.0,2.1M360.0,94.4L361.7,92.0L364.5,91.0M335.2,113.3L332.7,116.6L328.7,117.8L325.5,120.5L321.5,121.8L318.2,124.3M337.5,103.6L335.6,101.3L332.6,101.4L330.5,99.2L327.9,97.7L326.3,95.1M335.6,111.6L332.1,112.2L328.5,112.8M328.5,112.8l-10.3,-3.1M328.5,112.8L325.0,113.5L321.4,112.6L317.8,112.9M345.5,108.5L342.7,113.0L342.7,118.3L341.8,123.5M341.8,123.5l1.4,5.1M341.8,123.5L337.8,127.0L333.8,130.4M344.1,112.7L342.6,115.8L340.1,118.0M340.1,118.0l-7.4,2.9M340.1,118.0L339.3,121.4L336.6,123.4L334.4,126.0M347.1,99.3L349.1,96.5L350.7,93.4L350.0,90.0L352.1,87.2L354.1,84.3M349.4,105.0L353.4,104.9L357.3,105.6M357.3,105.6l9.0,-2.0M357.3,105.6L361.3,105.4M361.3,105.4l4.6,2.3M361.3,105.4L365.1,104.0L369.0,102.9M351.4,109.1L354.9,108.0L358.6,107.8L361.7,109.7L364.7,111.9L368.4,111.4M357.2,104.0L359.3,104.0L361.2,103.4L363.1,102.8L364.7,101.6L366.2,100.2M355.7,110.6L360.0,112.7L362.9,116.4L367.3,118.2L370.3,121.8L374.9,123.0M336.5,107.7L334.6,108.8L332.4,108.8M332.4,108.8l-6.6,-4.0M332.4,108.8L330.2,108.5M330.2,108.5l-5.6,-3.1M330.2,108.5L328.0,108.0L325.9,108.8M350.9,112.3L351.9,115.9L354.7,118.3M354.7,118.3l1.2,6.2M354.7,118.3L357.9,120.3M357.9,120.3l5.4,0.3M357.9,120.3L360.1,123.3L361.8,126.6M336.3,112.5L333.9,114.1L331.1,114.2M331.1,114.2l-7.0,-4.4M331.1,114.2L329.4,116.5L326.6,116.3L323.9,116.9M351.0,102.9L354.0,101.9L355.9,99.3M355.9,99.3l0.8,-6.7M355.9,99.3L358.1,97.0M358.1,97.0l2.8,-10.8M358.1,97.0L360.3,94.7L363.3,93.7M335.0,110.5L333.4,110.9L331.8,111.1L330.2,110.9L328.6,111.1L327.0,110.7M340.7,117.2L338.6,119.8L337.9,123.0L336.0,125.6L333.7,128.0L332.5,131.1M341.4,109.9L336.6,110.8L331.8,111.7L328.3,115.1M328.3,115.1l-2.1,7.0M328.3,115.1L323.9,117.3L319.0,117.1M333.4,110.7L331.1,113.1L327.7,113.1M327.7,113.1l-5.2,2.4M327.7,113.1L324.3,113.4L321.0,114.2L317.9,115.7M349.3,111.6L351.2,114.0L354.2,115.0M354.2,115.0l9.0,-1.4M354.2,115.0L356.8,116.7M356.8,116.7l3.2,5.9M356.8,116.7L359.4,118.4L362.3,119.4M358.5,110.9L361.4,110.2L363.9,111.8L366.8,110.9L369.7,111.6L372.6,112.2M342.8,98.4L341.4,97.1L340.1,95.7L338.6,94.5L336.9,93.6L335.3,92.6M338.1,116.5L336.7,117.9L334.9,118.5L333.0,119.0L331.2,119.6L329.3,120.2" fill="none" stroke="#1e1e1e" stroke-width="0.9" stroke-opacity="0.38" stroke-linecap="round" stroke-linejoin="round"/>
<circle cx="136.2" cy="135.5" r="38.0" fill="url(#pgA)"/>
<path d="M132.8,101.7l-1.2,-3.9M154.0,107.1l2.8,-1.5M121.5,112.8l-2.0,-4.6M165.9,147.0l2.7,2.6M137.1,149.3l2.4,3.6M121.9,137.5l-2.3,1.0M125.8,144.7l-0.9,3.7M158.1,151.4l5.7,3.5M126.6,121.5l-2.8,-3.8M144.2,154.8l5.5,3.6M151.5,114.3l2.0,-3.0M116.6,149.8l-2.4,2.2M141.4,126.2l-0.5,-4.3M163.7,135.2l6.7,1.8M122.0,139.3l-3.9,-0.6M153.6,143.0l1.5,2.3M137.0,122.3l1.8,-2.5M117.8,111.3l-4.4,-1.3M145.0,120.6l-0.2,-3.9M156.4,151.9l0.8,2.6M155.0,164.4l4.4,1.7M111.6,137.8l-5.3,0.8M120.5,162.4l-5.7,2.4M128.5,100.9l-2.1,-3.5M147.5,158.3l0.2,6.2M130.8,117.8l-4.4,-5.0M123.0,126.6l-4.7,-2.4M131.1,106.1l-0.3,-3.3M106.4,140.5l-3.8,3.5M102.8,142.0l-3.4,3.6M166.5,156.5l2.1,3.3M149.5,143.5l4.2,2.6M151.1,144.6l2.8,0.6M147.1,142.5l4.0,4.9M130.4,132.0l-1.6,-2.9M146.9,132.9l5.2,-0.7M121.9,117.4l-0.4,-4.6M106.1,145.8l-3.9,2.4M112.3,161.8l-4.0,1.3M162.3,138.8l5.7,-3.4M121.5,124.4l-3.0,-0.8M142.1,124.0l5.0,-3.4M138.3,119.8l4.6,-4.9M144.7,119.5l2.3,-5.0M134.5,172.2l0.6,5.8M161.2,150.7l1.9,1.7M166.2,128.2l5.6,0.2M137.6,154.9l1.6,3.3M139.2,119.7l3.4,-4.6M150.8,108.5l0.8,-6.1M147.0,122.9l6.1,-2.5M128.9,117.4l-3.6,-3.3M101.1,137.4l-5.4,2.0M126.8,100.3l-1.4,-3.5M135.4,169.1l-0.1,5.1M121.8,118.1l-3.7,-4.7M129.5,124.9l-4.0,-4.5M153.2,163.1l2.5,3.5M163.4,157.8l2.6,3.2M169.5,119.4l4.4,0.2M152.9,149.0l6.3,0.6M158.0,114.9l5.8,-2.2M144.5,158.4l1.6,4.2M106.3,153.0l-2.6,3.9M140.4,151.2l-1.5,3.7M137.0,127.2l2.6,-2.9M144.8,163.6l-1.0,6.0M153.2,103.0l1.5,-6.2M124.3,117.3l-1.4,-2.1M130.2,154.0l-0.6,2.4M118.6,137.7l-5.7,0.6M164.0,158.4l1.3,3.4M163.6,127.8l4.7,-3.4M127.8,158.0l0.3,4.2M124.5,108.4l-0.1,-5.1M158.9,115.9l3.4,-2.9M168.0,118.7l4.4,-4.6M160.0,111.3l1.2,-4.3M117.3,115.3l-4.4,-2.4M149.3,150.5l1.8,3.3M142.0,139.6l2.5,4.1M114.5,141.6l-4.5,2.3M163.9,157.2l5.4,2.1M148.0,100.8l1.5,-5.1M110.6,138.5l-2.2,1.3M135.9,122.0l-1.6,-2.1M172.4,130.2l4.5,-3.2M136.2,155.3l2.1,3.5M129.7,116.7l-3.2,-5.7M119.1,150.2l-2.0,3.3M142.9,121.7l2.0,-4.2M129.2,100.0l2.3,-4.8M134.1,126.8l-0.5,-2.9M166.8,128.4l3.2,-0.1M123.9,165.4l-1.9,3.9M123.9,135.2l-5.4,-4.0M145.8,146.6l0.9,6.5M168.2,150.5l4.6,1.1M160.4,140.7l5.9,3.5M163.7,154.2l3.4,3.3M117.6,135.1l-4.8,-1.2M166.5,144.6l4.7,-0.9M115.2,138.7l-5.2,1.9M152.3,155.6l5.1,1.5M131.8,124.2l1.3,-5.8M143.6,102.3l-1.2,-2.6M162.0,134.7l4.8,0.7M121.4,120.1l-3.1,-2.8M125.8,113.2l-2.8,-4.0M110.6,118.4l-5.0,-4.2M131.4,105.0l-1.1,-6.1M168.5,125.7l4.1,-1.3M154.6,123.4l2.1,-2.8M121.4,127.5l-1.7,-2.0M156.8,130.6l5.6,2.3M160.4,123.2l3.7,-3.8M124.4,144.1l-1.4,5.0M118.9,141.3l-2.8,2.7M108.5,127.8l-5.2,0.8M151.5,119.7l2.1,-2.5M107.6,116.9l-3.7,-0.9M127.1,102.7l-2.2,-4.5M155.3,156.5l5.4,3.6M102.8,143.2l-3.4,-1.2M139.3,151.9l-2.2,6.5M157.6,137.5l5.5,2.2M123.3,133.6l-6.8,1.5M145.2,162.3l1.6,6.4M126.7,106.5l-2.7,-4.5M138.4,142.9l1.5,5.4M142.7,161.1l5.1,4.0M159.0,150.8l3.5,0.2M103.0,121.1l-4.5,-4.7M106.7,134.8l-2.5,1.4M135.6,151.9l2.8,4.2M113.3,113.6l-1.7,-2.5M112.1,121.3l-5.1,-1.7M157.4,114.8l5.7,-1.6M142.4,119.7l3.1,-4.2M124.1,166.8l-5.3,4.5M124.8,127.0l-3.6,-5.8M115.9,111.0l-5.1,-4.0M162.9,113.1l2.1,-2.5M127.4,148.2l-5.7,2.9M107.0,119.4l-5.1,-0.1M158.0,162.9l2.8,6.1M150.7,146.7l4.6,-0.1M114.6,165.5l-3.4,4.0M160.8,120.2l5.2,-2.4M143.8,127.4l1.0,-5.0" fill="none" stroke="#1e1e1e" stroke-width="0.8" stroke-opacity="0.23" stroke-linecap="round"/>
<path d="M132.3,137.6L130.0,140.7L126.4,141.8L122.6,142.5L119.2,144.2L115.5,145.1M147.0,137.4L149.0,138.7L151.4,138.2M151.4,138.2l9.1,2.7M151.4,138.2L153.6,137.4L155.9,136.6L158.3,137.2M134.9,138.6L135.1,143.5L133.7,148.1M133.7,148.1l-6.1,5.8M133.7,148.1L133.4,152.9L132.1,157.5L132.2,162.4M143.1,127.9L145.6,127.1L148.1,126.1L149.7,123.9M149.7,123.9l7.9,-6.0M149.7,123.9L152.2,123.1L154.3,121.4M132.4,144.8L131.7,149.4L131.2,154.0M131.2,154.0l3.6,7.0M131.2,154.0L130.8,158.7L131.3,163.3L129.1,167.4M145.4,125.0L145.8,123.2L146.1,121.3M146.1,121.3l3.9,-5.8M146.1,121.3L147.3,119.9M147.3,119.9l2.7,-7.8M147.3,119.9L149.1,119.2L150.0,117.5M134.1,129.5L131.6,125.0L131.6,119.9M131.6,119.9l4.0,-12.1M131.6,119.9L132.2,114.9M132.2,114.9l7.7,-9.4M132.2,114.9L131.8,109.8L128.3,106.1M139.4,126.7L140.8,123.2L143.2,120.3L146.0,117.8L147.7,114.5L150.7,112.3M128.0,122.9L127.8,121.2L126.6,120.1L125.6,118.7L124.3,117.8L123.6,116.2M132.2,129.8L130.3,126.5L129.3,122.8M129.3,122.8l0.7,-9.9M129.3,122.8L127.5,119.5M127.5,119.5l0.6,-7.6M127.5,119.5L127.8,115.6L127.6,111.8M134.8,134.0L130.5,130.9L128.7,125.8M128.7,125.8l-5.4,-6.1M128.7,125.8L123.9,123.5M123.9,123.5l-3.0,-5.4M123.9,123.5L121.7,118.7L120.5,113.5M140.2,140.2L142.3,144.0L145.8,146.4L146.6,150.6M146.6,150.6l4.4,5.5M146.6,150.6L150.1,152.9L152.9,156.2M141.8,146.2L143.3,147.6L144.2,149.4M144.2,149.4l9.4,6.3M144.2,149.4L145.6,150.9L146.9,152.4L148.3,153.9M142.1,124.0L143.8,120.5L144.1,116.7L147.3,114.4L148.5,110.7L150.0,107.1M135.7,150.6L136.5,152.0L136.6,153.6L135.9,155.0L135.1,156.4L135.2,158.0M133.1,134.5L128.9,131.8L123.9,131.3L119.6,128.7M119.6,128.7l-6.3,-8.0M119.6,128.7L115.0,126.9L111.4,123.4M128.4,125.7L127.0,124.0L125.4,122.5M125.4,122.5l-2.0,-6.9M125.4,122.5L123.4,121.6M123.4,121.6l-5.9,1.3M123.4,121.6L121.5,120.6L120.1,118.9M140.0,138.3L143.4,140.3L146.4,142.8L149.7,144.9L152.6,147.6L156.2,149.1M127.3,125.9L126.7,123.9L125.6,122.2L124.0,120.8L122.3,119.6L120.5,118.6M135.9,149.0L136.9,150.9L137.2,153.0L136.4,154.9M136.4,154.9l-0.4,6.0M136.4,154.9L137.3,156.9L136.5,158.9M138.3,137.9L139.8,143.3L144.0,147.0L144.0,152.6L148.1,156.4L150.6,161.3M138.6,123.3L138.5,118.9L136.9,114.7L139.4,111.0L139.3,106.6L141.1,102.5M145.3,138.9L150.2,141.4L154.0,145.4L158.4,148.8L163.9,148.7L169.2,150.0M134.4,132.0L132.1,128.5L131.6,124.4L128.3,121.9M128.3,121.9l-4.2,-8.8M128.3,121.9L125.6,118.8L121.9,117.0M134.5,130.4L131.0,126.9L130.1,122.0L129.5,117.0M129.5,117.0l-2.8,-5.1M129.5,117.0L126.0,113.5L122.0,110.5M144.4,141.5L148.5,144.6L152.1,148.1L157.1,148.7L159.1,153.3L160.7,158.0M144.4,135.7L149.5,139.0L154.1,143.0M154.1,143.0l2.2,11.4M154.1,143.0L160.1,142.7M160.1,142.7l5.9,3.8M160.1,142.7L164.7,146.7L168.2,151.6M132.9,136.6L128.4,135.8L123.9,136.3L119.4,136.0L115.1,137.5L110.6,138.5M130.3,125.8L127.3,121.3L125.8,116.1L125.7,110.7L121.9,106.7L122.1,101.3M141.6,136.4L144.7,135.0L147.7,136.7L150.9,135.7L154.2,134.9L157.6,135.0M130.6,126.1L128.1,124.9L127.5,122.3M127.5,122.3l3.5,-7.1M127.5,122.3L127.0,119.7M127.0,119.7l-4.3,-6.8M127.0,119.7L125.0,117.9L123.0,116.1M128.4,124.7L126.8,122.5L124.8,120.6M124.8,120.6l-0.9,-7.7M124.8,120.6L122.3,119.3L121.6,116.6L120.6,114.1M136.8,139.0L136.4,143.5L138.9,147.3L141.7,151.0L144.9,154.3L146.6,158.6M141.3,138.0L144.6,142.2L147.2,146.9L152.4,148.3M152.4,148.3l6.5,-2.2M152.4,148.3L157.3,150.4L161.3,154.0M135.7,129.9L134.7,123.5L132.6,117.4L130.5,111.3M130.5,111.3l1.2,-7.9M130.5,111.3L131.2,104.8L128.8,98.8M133.0,137.7L126.2,138.5L119.4,139.5L113.4,142.9M113.4,142.9l-2.8,6.5M113.4,142.9L106.5,142.9L101.3,147.4M141.2,135.8L144.4,137.0L147.9,137.2L151.1,136.2M151.1,136.2l8.4,0.8M151.1,136.2L154.5,136.1L157.9,136.6M135.1,134.5L132.2,129.6L127.2,127.0M127.2,127.0l-9.8,-1.0M127.2,127.0L125.4,121.6L120.4,118.9L115.4,116.3M131.3,133.6L126.0,134.5L120.6,133.7M120.6,133.7l-6.4,-6.0M120.6,133.7L115.1,133.4M115.1,133.4l-11.9,4.8M115.1,133.4L110.1,131.4L105.3,128.7M143.1,123.0L144.9,121.7L146.8,120.7L148.0,118.9L148.2,116.7L149.0,114.7M139.0,124.3L141.2,121.9L140.7,118.6L142.1,115.7L144.0,113.0L144.2,109.8M141.4,147.2L142.2,150.7L142.3,154.3L142.3,157.9L141.2,161.3L143.2,164.2M145.0,144.0L149.7,145.3L153.2,148.7L155.7,152.9M155.7,152.9l0.1,12.9M155.7,152.9L158.3,157.0L162.0,160.1M135.6,142.5L133.4,147.2L130.7,151.6L128.8,156.4L128.1,161.5L125.6,166.0M135.2,138.7L132.6,141.1L129.5,142.8M129.5,142.8l-5.3,9.7M129.5,142.8L127.1,145.3L125.2,148.3L123.2,151.2M124.8,137.8L122.3,137.4L120.4,138.9M120.4,138.9l-6.0,10.4M120.4,138.9L118.0,138.7L115.8,139.7L113.4,140.4M133.8,120.6L132.9,117.3L132.1,113.9M132.1,113.9l-7.0,-5.9M132.1,113.9L130.8,110.8M130.8,110.8l-0.2,-9.2M130.8,110.8L130.3,107.4L131.2,104.1M142.7,148.1L143.7,152.7L144.2,157.3M144.2,157.3l9.2,9.3M144.2,157.3L146.9,161.1L148.7,165.4L152.2,168.5M130.7,136.7L125.5,137.4L120.3,136.9M120.3,136.9l-4.3,-4.1M120.3,136.9L115.6,134.6M115.6,134.6l-4.8,-7.8M115.6,134.6L110.3,134.9L105.3,133.6M136.1,134.5L134.3,130.6L131.0,127.8L129.7,123.7L127.6,119.9L124.0,117.6M137.0,142.4L139.6,147.8L139.6,153.9L140.8,159.8L140.5,165.8L138.5,171.5M137.1,124.1L138.9,119.9L138.9,115.3L140.9,111.2M140.9,111.2l6.7,-3.4M140.9,111.2L141.4,106.6L139.6,102.4M135.9,134.3L132.7,130.6L130.8,126.1L130.8,121.3L130.6,116.4L131.1,111.5M129.6,128.5L126.5,125.3L124.1,121.7M124.1,121.7l0.2,-5.8M124.1,121.7L123.2,117.4L119.1,115.8L115.6,113.2M121.5,136.8L119.6,137.2L117.7,137.7M117.7,137.7l-8.0,5.6M117.7,137.7L115.8,138.0M115.8,138.0l-10.8,-5.9M115.8,138.0L114.2,139.1L112.3,139.2M136.9,139.6L139.7,142.5L143.0,144.8L144.3,148.5M144.3,148.5l-1.2,12.3M144.3,148.5L147.0,151.4L150.4,153.5M134.7,134.6L129.6,130.3L123.7,127.3M123.7,127.3l-4.1,-8.9M123.7,127.3L119.7,121.9M119.7,121.9l-2.0,-9.8M119.7,121.9L113.4,119.8L107.0,117.9M125.8,129.7L121.8,127.3L118.7,123.8L114.9,121.2L110.5,119.9L107.1,116.7M137.6,134.9L143.5,134.8L149.3,134.3M149.3,134.3l7.4,-5.6M149.3,134.3L154.4,131.6L159.5,128.8L164.2,125.2M128.5,127.0L125.5,126.2L123.6,123.8M123.6,123.8l-1.8,-6.7M123.6,123.8L122.4,120.9L120.4,118.5L119.8,115.5M143.6,133.0L148.0,132.8L152.4,132.0L156.2,129.6M156.2,129.6l5.8,-1.5M156.2,129.6L160.7,129.8L165.1,129.6M147.6,125.9L151.0,123.1L155.3,122.4L157.4,118.6M157.4,118.6l9.8,-7.2M157.4,118.6L158.7,114.4L163.0,113.3M137.1,135.2L141.9,129.6L149.0,127.8M149.0,127.8l4.6,-4.3M149.0,127.8L156.0,125.6L163.0,123.6L170.1,121.6M134.5,134.1L132.1,127.7L126.8,123.5M126.8,123.5l-1.8,-7.0M126.8,123.5L125.4,116.8L119.5,113.4L114.8,108.5M135.5,129.5L137.3,123.9L137.0,118.0M137.0,118.0l4.2,-9.4M137.0,118.0L137.6,112.2L141.0,107.4L139.0,101.9M134.5,134.5L128.4,133.2L122.8,130.4L117.4,127.4L112.0,124.2L106.0,122.5M134.1,134.2L127.5,133.5L120.8,133.6L114.4,135.5L108.1,133.6L101.5,132.7M127.4,135.0L122.7,133.9L118.3,135.9L114.2,133.4L109.9,135.7L105.2,137.0M146.5,130.8L150.4,131.2L154.2,131.5M154.2,131.5l11.0,7.2M154.2,131.5L157.2,129.0L161.0,129.7L164.9,129.8M142.8,133.2L148.2,134.2L153.3,136.0L158.4,137.7M158.4,137.7l7.7,9.4M158.4,137.7L163.2,135.1L168.5,134.0M141.8,146.8L143.1,149.1L143.0,151.7L143.3,154.3M143.3,154.3l-4.1,8.0M143.3,154.3L144.5,156.6L145.3,159.1M132.7,137.6L129.0,141.0L125.5,144.6M125.5,144.6l-13.1,2.0M125.5,144.6L120.6,145.6M120.6,145.6l-6.5,4.5M120.6,145.6L115.9,147.2L112.4,150.8M141.1,132.5L144.5,127.3L149.8,124.0M149.8,124.0l6.3,0.2M149.8,124.0L155.7,122.1M155.7,122.1l7.1,-9.3M155.7,122.1L161.9,121.8L167.8,119.8M129.4,130.0L124.9,129.4L120.7,127.7L116.2,127.4L112.5,124.9L108.4,122.8M142.3,140.7L147.1,142.7L151.7,145.2M151.7,145.2l8.3,-0.5M151.7,145.2L156.8,146.0L160.2,149.8L164.9,152.1" fill="none" stroke="#1e1e1e" stroke-width="0.9" stroke-opacity="0.38" stroke-linecap="round" stroke-linejoin="round"/>
<circle cx="73.0" cy="138.0" r="26.0" fill="url(#pgA)"/>
<path d="M86.1,149.4l1.7,2.2M56.1,138.5l-5.9,1.6M54.5,148.4l-1.8,3.9M75.9,133.7l2.7,-3.5M63.5,124.8l-2.3,-5.7M78.8,152.9l3.9,2.2M65.9,139.7l-4.0,4.1M90.1,135.9l4.8,-1.5M62.1,150.5l-0.5,2.9M67.1,162.5l-0.4,5.8M55.3,147.9l-5.6,3.7M50.9,136.6l-2.4,-1.6M57.0,140.2l-4.3,-1.8M74.3,143.8l0.8,5.1M51.1,149.2l-2.8,-0.5M74.9,118.8l0.8,-6.5M59.4,139.0l-2.4,1.9M52.3,140.1l-4.5,-0.8M56.3,128.5l-1.8,-4.4M61.6,130.4l-3.8,-1.1M67.7,130.8l-0.1,-2.9M59.3,138.8l-3.6,1.8M55.8,143.1l-2.5,1.2M69.2,149.9l-3.0,4.0M71.9,124.4l-1.4,-4.9M69.6,113.8l-1.8,-2.0M64.3,148.7l-2.9,1.0M88.6,122.7l3.7,-2.6M71.8,121.5l-1.2,-4.2M64.2,134.8l-4.3,0.5M82.9,122.1l1.1,-2.3M91.3,134.7l4.9,-1.1M78.5,136.2l6.3,0.4M83.9,145.3l3.3,1.8M51.3,131.3l-6.1,0.7M79.5,117.5l-0.4,-4.5M56.5,126.9l-2.2,-6.1M50.8,131.5l-4.4,-1.6M58.0,124.2l-3.9,-2.6M76.0,149.3l0.2,5.2M72.7,116.9l-0.7,-6.0M70.4,133.6l-0.5,-5.6M77.1,160.0l2.0,2.0M53.2,130.8l-5.7,-3.0M71.8,161.1l-3.8,5.4M66.8,153.5l-0.4,2.7M65.9,161.3l0.9,3.4M55.2,131.6l-3.8,-1.5M68.5,116.6l-3.1,-3.1M74.6,152.3l1.9,3.7M84.6,146.7l3.4,0.7M85.6,136.0l5.3,2.3M52.3,142.5l-5.9,2.0M86.3,151.2l4.6,4.0M67.3,118.8l-2.2,-2.8M80.0,139.2l4.4,2.8M72.3,157.4l-2.2,4.1M82.8,117.2l0.2,-5.9M67.2,159.8l-1.1,6.7M70.9,159.6l-1.0,4.3M86.7,123.9l2.5,-1.3M83.9,116.3l4.1,-4.6M83.4,146.9l6.0,2.1M48.9,136.7l-3.1,-1.4M59.2,128.0l-4.9,-1.1M83.9,132.9l3.9,-0.0M91.9,148.4l2.9,0.6M56.2,155.0l-6.3,2.0M76.7,137.0l3.2,-1.6M52.8,152.5l-4.7,1.6M57.6,140.5l-3.6,2.4M81.2,143.8l1.8,3.0M59.1,150.4l-6.3,2.7M71.3,150.8l1.5,6.3M94.3,142.9l4.0,0.3M60.8,121.3l-2.8,-5.3M77.2,131.8l1.9,-3.2M96.5,139.2l5.8,-0.5M91.8,139.3l4.6,-2.0M67.8,156.4l1.5,4.5M86.9,145.1l4.7,-0.0M62.8,136.3l-6.3,1.9M68.8,120.9l-2.6,-4.8M55.3,144.0l-3.3,1.2M74.0,122.3l2.6,-3.7M55.8,138.9l-3.2,-2.4M54.9,143.1l-4.2,5.1M77.7,157.6l2.0,1.8M86.2,139.0l6.3,-0.4M65.8,143.1l-3.0,3.4M69.9,131.8l-4.6,-4.9M90.6,122.7l5.6,-1.5M50.6,129.9l-5.5,1.1M59.0,150.3l-6.0,0.7M62.6,118.8l-0.0,-6.2M73.8,122.3l-0.5,-6.9M48.4,134.5l-4.9,-0.7M83.3,131.6l0.9,-2.4M87.2,117.3l4.8,-2.6M88.1,131.6l6.3,-1.8M79.9,135.6l6.6,-1.6M59.7,132.3l-5.0,-0.8" fill="none" stroke="#1e1e1e" stroke-width="0.8" stroke-opacity="0.23" stroke-linecap="round"/>
<path d="M72.9,137.9L69.8,136.8L67.5,134.4L64.5,133.1L61.9,131.1L60.3,128.2M73.3,138.1L77.9,139.2L82.6,140.3M82.6,140.3l8.3,-3.4M82.6,140.3L86.8,142.6L91.6,142.6L95.4,145.5M77.6,138.5L80.1,138.7L82.7,138.9M82.7,138.9l4.9,3.5M82.7,138.9L85.2,139.4M85.2,139.4l5.9,-2.2M85.2,139.4L87.8,139.2L90.2,139.8M69.8,137.2L67.0,134.2L64.3,131.1M64.3,131.1l-0.9,-6.4M64.3,131.1L62.6,127.3M62.6,127.3l0.2,-7.7M62.6,127.3L58.8,125.8L55.8,123.0M75.6,142.1L75.8,144.0L76.4,145.8L78.0,146.8L78.9,148.5L79.9,150.2M77.0,132.4L78.0,130.7L78.2,128.7M78.2,128.7l3.8,-6.5M78.2,128.7L79.1,126.9L79.8,125.0L80.0,123.0M71.6,135.3L71.7,132.6L70.2,130.3M70.2,130.3l-6.6,-3.6M70.2,130.3L68.2,128.4L68.0,125.6L66.2,123.5M70.2,139.2L66.2,140.9L62.1,142.3M62.1,142.3l-5.5,7.1M62.1,142.3L57.8,143.3M57.8,143.3l-5.1,3.4M57.8,143.3L53.7,144.8L50.7,148.0M74.7,136.1L76.0,132.7L77.7,129.4L77.8,125.8L80.0,122.9L82.8,120.5M67.6,132.0L65.3,131.0L62.9,130.4L61.3,128.4M61.3,128.4l-6.4,-4.2M61.3,128.4L59.6,126.6L58.4,124.5M73.4,135.2L72.0,131.6L72.7,127.9M72.7,127.9l5.1,-5.2M72.7,127.9L71.8,124.1L70.5,120.5L68.1,117.5M67.7,133.6L65.2,132.9L62.9,131.7M62.9,131.7l-8.8,-0.6M62.9,131.7L60.7,130.3L58.6,128.8L56.8,126.9M77.6,141.4L78.9,142.5L80.4,143.4L82.1,144.0L83.2,145.3L84.9,145.5M71.4,128.9L70.0,126.7L70.3,124.2M70.3,124.2l2.6,-4.1M70.3,124.2L68.6,122.3L67.3,120.1L67.8,117.5M74.1,139.9L75.5,142.1L76.4,144.5M76.4,144.5l7.4,4.9M76.4,144.5L76.3,147.1L77.9,149.2L79.6,151.1M69.3,138.0L67.0,138.6L64.9,137.6M64.9,137.6l-8.4,0.9M64.9,137.6L62.5,137.0M62.5,137.0l-5.3,-3.9M62.5,137.0L60.4,135.9L58.2,135.2M72.7,136.7L73.8,133.1L73.2,129.3L74.0,125.6M74.0,125.6l3.8,-6.6M74.0,125.6L73.1,121.9L73.6,118.1M76.1,144.7L76.1,147.8L77.0,150.6M77.0,150.6l-1.5,8.7M77.0,150.6L76.6,153.6L77.2,156.6L78.8,159.2M72.0,138.5L69.1,140.9L65.4,141.7M65.4,141.7l-8.0,-3.3M65.4,141.7L62.4,144.0M62.4,144.0l-5.1,0.9M62.4,144.0L60.5,147.2L56.7,147.6M75.0,139.6L78.6,142.1L82.9,142.7M82.9,142.7l5.0,2.7M82.9,142.7L86.0,145.8L88.2,149.5L91.2,152.7M81.9,138.9L85.1,139.2L88.1,140.5M88.1,140.5l5.2,-0.0M88.1,140.5L91.3,140.1L94.2,141.4L97.5,141.2M80.8,141.3L83.7,142.2L86.5,143.4L89.3,144.4M89.3,144.4l6.0,-0.5M89.3,144.4L91.4,146.6L94.4,147.2M72.8,134.7L72.9,132.5L72.0,130.4L73.0,128.3M73.0,128.3l-0.9,-5.6M73.0,128.3L74.3,126.4L75.5,124.5M70.3,141.3L69.8,144.5L67.9,147.1M67.9,147.1l-6.8,4.8M67.9,147.1L66.5,150.0L64.6,152.6L62.6,155.2M79.9,139.8L82.3,139.1L84.7,139.8M84.7,139.8l6.7,-1.2M84.7,139.8L87.0,138.9M87.0,138.9l6.3,2.1M87.0,138.9L89.6,138.7L91.7,137.4M77.2,139.5L79.3,141.1L81.0,143.3M81.0,143.3l0.2,4.1M81.0,143.3L83.6,144.0L86.3,143.8L88.3,145.6M77.6,144.4L77.8,145.8L78.9,146.7M78.9,146.7l1.6,7.6M78.9,146.7L79.0,148.1L79.8,149.3L80.6,150.4M66.8,146.1L64.2,147.3L62.9,149.9M62.9,149.9l-4.6,3.9M62.9,149.9L61.8,152.5M61.8,152.5l-4.4,2.4M61.8,152.5L59.2,153.8L57.9,156.3M74.3,144.0L73.4,146.7L73.9,149.6M73.9,149.6l-3.4,6.8M73.9,149.6L74.9,152.3L75.9,155.0L77.6,157.3M73.4,136.6L75.6,134.0L77.8,131.4M77.8,131.4l1.5,-8.9M77.8,131.4L78.3,128.0M78.3,128.0l-1.5,-7.3M78.3,128.0L79.9,125.0L79.5,121.6M68.8,136.9L65.0,137.1L61.4,135.9M61.4,135.9l-4.0,-3.4M61.4,135.9L57.7,136.7M57.7,136.7l-5.1,5.9M57.7,136.7L53.9,136.5L50.3,137.5M69.9,146.4L69.8,148.1L69.9,149.7M69.9,149.7l2.3,4.0M69.9,149.7L69.0,151.1M69.0,151.1l-0.6,5.1M69.0,151.1L69.1,152.8L68.5,154.3M71.9,137.9L67.6,140.3L63.3,142.7M63.3,142.7l-6.5,-1.2M63.3,142.7L60.6,146.8L56.6,149.7L51.7,150.2M72.7,137.7L70.0,136.2L66.8,136.2L63.7,136.8L60.6,137.1L57.5,136.6M79.9,141.1L80.9,142.7L82.3,143.7M82.3,143.7l5.0,1.6M82.3,143.7L83.8,144.8M83.8,144.8l2.1,3.5M83.8,144.8L84.6,146.4L86.4,146.7M66.8,142.7L65.2,143.3L64.3,144.8M64.3,144.8l-1.3,5.7M64.3,144.8L62.6,145.1L61.0,145.9L60.1,147.4M66.2,132.3L63.3,131.4L60.9,129.6L58.1,128.7L55.5,127.2L53.6,125.0M76.1,139.4L78.1,142.4L81.1,144.2M81.1,144.2l2.7,5.2M81.1,144.2L82.9,147.2M82.9,147.2l5.5,4.1M82.9,147.2L85.2,149.9L86.0,153.3M73.8,136.4L74.6,133.5L74.7,130.5M74.7,130.5l4.3,-5.7M74.7,130.5L75.2,127.5L74.3,124.7L73.2,121.9M65.9,136.5L64.4,136.0L62.9,136.4L61.6,135.6M61.6,135.6l-6.4,0.6M61.6,135.6L60.3,134.7L59.2,133.6M71.0,136.2L67.2,135.0L63.6,133.3L60.1,131.4L57.4,128.5L55.6,125.0M79.5,133.8L81.3,133.7L82.7,132.5L83.7,131.0M83.7,131.0l0.9,-7.5M83.7,131.0L85.3,130.2L86.7,129.0M76.2,141.0L79.1,143.4L82.5,144.9M82.5,144.9l3.8,6.9M82.5,144.9L85.6,147.0L88.2,149.6L90.2,152.7M66.6,138.2L64.2,138.9L62.1,140.3L59.6,140.1M59.6,140.1l-7.0,3.1M59.6,140.1L57.3,139.2L55.3,140.6M70.3,137.4L67.7,136.3L64.9,136.6L62.3,137.5M62.3,137.5l-7.4,-2.8M62.3,137.5L59.6,136.6L56.9,137.4M64.8,131.7L63.7,128.9L61.5,126.8L60.1,124.1L57.8,122.2L55.5,120.3M73.4,131.9L75.1,128.6L75.0,124.9M75.0,124.9l2.1,-4.5M75.0,124.9L74.9,121.1L77.2,118.3L78.5,114.8M80.7,136.3L83.0,136.3L85.0,135.2M85.0,135.2l4.7,0.5M85.0,135.2L87.2,135.3M87.2,135.3l5.0,2.5M87.2,135.3L89.5,135.3L91.7,134.7M70.9,134.4L70.5,132.0L69.4,130.0M69.4,130.0l-1.5,-6.9M69.4,130.0L68.0,128.1L67.3,125.9L67.0,123.6M72.7,137.8L70.3,135.1L67.9,132.2L66.3,128.8L64.5,125.6L63.0,122.2M75.5,141.6L78.6,143.0L81.2,145.2L84.5,145.7M84.5,145.7l4.2,-2.1M84.5,145.7L86.9,148.1L90.1,148.8" fill="none" stroke="#1e1e1e" stroke-width="0.9" stroke-opacity="0.38" stroke-linecap="round" stroke-linejoin="round"/>
<circle cx="222.0" cy="166.5" r="32.2" fill="url(#pgA)"/>
<path d="M191.5,162.5l-5.8,2.7M241.8,186.2l5.0,3.2M241.8,188.9l1.4,4.7M241.7,153.4l4.3,-5.2M226.8,169.8l4.5,0.0M211.5,148.7l-0.3,-2.9M207.0,169.0l-5.3,-2.7M191.5,173.7l-4.6,-1.0M239.0,170.9l5.9,2.9M243.9,188.5l4.3,0.8M229.8,137.6l-1.9,-4.5M203.7,165.7l-4.3,2.9M217.7,151.6l-1.2,-3.7M223.7,183.0l-1.3,2.5M218.5,148.0l-3.0,-6.0M216.7,178.0l-0.1,5.0M245.0,177.8l4.4,2.0M241.6,186.9l3.7,2.2M233.1,154.2l4.7,-4.6M230.5,180.4l0.7,3.1M209.0,147.7l-2.6,-1.6M233.3,171.7l3.8,4.8M212.1,151.7l-5.7,-3.9M249.2,156.3l4.6,0.6M235.4,185.9l1.6,2.0M218.8,140.7l-3.4,-6.0M238.3,189.7l1.2,5.4M217.7,151.2l1.4,-3.5M193.4,167.4l-6.6,-1.0M204.4,167.8l-5.3,3.1M216.2,145.3l0.3,-4.7M217.9,179.6l1.0,4.4M218.5,174.6l-2.2,5.0M231.8,144.9l5.3,-3.8M241.6,175.6l3.2,0.8M221.4,197.1l0.3,6.4M206.2,170.3l-5.7,-1.0M238.4,171.8l6.4,-0.3M211.6,157.2l-1.5,-6.3M198.3,163.7l-2.8,-1.7M199.6,168.3l-5.7,-0.5M206.5,155.0l-4.9,-2.8M192.3,163.4l-3.7,1.6M238.8,157.7l2.1,-3.8M236.4,160.1l4.3,0.4M236.2,171.7l6.1,2.4M236.7,148.8l2.6,-1.7M224.2,183.7l-1.6,5.6M218.4,139.4l0.4,-5.5M241.4,178.0l4.3,2.8M215.8,154.0l-1.1,-2.6M244.8,147.3l2.2,-2.5M196.9,168.8l-6.3,-1.5M205.7,146.5l-0.5,-3.5M236.2,161.2l2.6,-1.2M235.0,139.7l-0.1,-3.3M209.4,138.2l0.9,-3.9M193.9,156.7l-2.2,-1.3M210.3,190.9l-0.5,3.9M208.9,170.9l-2.5,2.8M192.0,161.7l-4.1,-1.8M193.0,160.5l-4.3,-2.1M205.7,165.5l-5.7,-1.7M238.3,158.8l3.4,-4.0M206.2,157.7l-2.8,-1.9M241.9,168.0l2.9,0.5M245.5,152.7l6.4,-1.4M247.1,178.3l6.4,2.4M212.4,190.4l-0.4,7.0M216.2,193.5l-1.0,3.2M241.0,187.2l3.6,3.5M194.4,176.8l-3.3,-0.7M233.1,152.0l5.1,-3.8M220.5,135.9l-0.2,-2.7M207.8,163.2l-3.8,-0.1M199.8,158.6l-3.6,1.1M246.1,174.1l4.1,2.9M241.9,164.2l6.6,-2.1M250.3,166.2l5.0,1.3M220.5,139.3l0.9,-3.2M216.7,195.5l-1.2,3.7M200.1,189.0l-2.5,0.8M234.4,160.0l2.6,-2.6M226.4,135.9l0.5,-2.9M226.9,183.4l-0.1,3.8M216.7,142.6l-2.3,-1.8M202.2,142.3l-2.8,-1.0M228.1,145.3l-0.2,-6.0M198.6,165.9l-5.4,2.6M230.3,196.2l3.7,3.1M245.2,166.8l4.2,-1.7M241.8,162.9l4.7,-0.3M218.0,177.2l-1.2,2.5M223.6,173.1l-2.6,6.2M208.4,170.7l-3.1,0.4M199.5,154.8l-4.5,-0.0M242.1,188.3l0.9,5.7M203.0,143.5l-1.7,-2.9M213.5,166.6l-3.7,0.2M219.4,150.3l1.1,-3.7M227.5,183.5l4.4,4.1M210.3,191.9l-1.5,2.4M215.2,190.9l-2.3,3.6M233.7,166.1l7.0,-0.2M248.2,167.4l3.2,0.7M232.0,149.5l0.7,-3.2M203.2,144.4l-2.7,-0.5M196.3,156.2l-5.5,-3.4M248.7,152.0l2.8,-2.0M242.0,146.0l6.0,-2.7M213.6,155.0l-2.2,-5.6M206.6,152.5l-2.9,-6.2M233.5,193.6l1.4,2.3M194.1,165.6l-4.3,-0.7M220.3,158.7l-0.9,-2.6M220.6,148.1l1.5,-2.9M219.1,193.5l-0.0,3.2M208.6,192.0l-3.9,2.3M241.9,146.2l4.2,-5.3M234.5,190.1l4.2,2.5M208.9,158.4l-4.4,-2.8M207.8,168.0l-4.3,-0.9M194.5,170.1l-3.7,1.8M214.5,195.2l-2.0,5.7M199.6,182.8l-6.6,0.5M244.8,168.4l2.9,0.1M241.3,166.6l3.3,0.7" fill="none" stroke="#1e1e1e" stroke-width="0.8" stroke-opacity="0.23" stroke-linecap="round"/>
<path d="M222.2,165.7L222.8,161.1L225.5,157.4M225.5,157.4l1.8,-5.9M225.5,157.4L224.7,152.9M224.7,152.9l3.7,-6.6M224.7,152.9L227.8,149.5L227.7,144.9M224.1,160.1L223.0,155.8L222.2,151.5L220.2,147.5L220.1,143.1L217.8,139.3M216.3,157.6L216.3,155.7L215.8,153.9L215.9,152.0L215.5,150.1L214.6,148.5M220.6,164.6L218.2,161.9L216.1,158.9M216.1,158.9l-9.6,-3.5M216.1,158.9L213.9,156.0M213.9,156.0l-2.4,-10.4M213.9,156.0L212.7,152.6L209.7,150.5M221.4,176.4L222.3,179.9L223.0,183.5M223.0,183.5l-4.3,8.9M223.0,183.5L225.2,186.4L225.5,190.0L226.4,193.5M215.2,157.0L214.0,156.3L213.3,155.1L212.8,153.8L212.1,152.6L211.2,151.5M231.8,171.0L233.3,173.0L235.2,174.5L237.5,175.5L239.9,175.9L242.4,176.3M230.9,170.1L234.6,172.8L238.7,175.1L243.3,174.6M243.3,174.6l6.9,-7.3M243.3,174.6L247.9,174.4L252.4,175.6M226.0,160.6L230.1,158.0L231.9,153.5L233.4,148.9M233.4,148.9l4.1,-2.9M233.4,148.9L235.6,144.5L237.0,139.9M220.9,163.8L217.8,160.8L214.9,157.5L211.6,154.8L207.4,153.6L203.4,151.8M217.1,157.3L215.0,155.2L214.4,152.2L212.5,149.9M212.5,149.9l-6.2,-4.0M212.5,149.9L210.9,147.3L210.3,144.4M222.7,159.3L222.4,155.6L224.4,152.5M224.4,152.5l5.3,-2.5M224.4,152.5L227.0,149.7M227.0,149.7l3.4,-8.9M227.0,149.7L229.0,146.6L231.9,144.3M228.1,164.0L229.7,162.2L232.1,161.9M232.1,161.9l7.0,1.4M232.1,161.9L234.5,161.4L236.1,159.6L237.4,157.5M224.5,167.9L228.7,167.9L232.9,166.9M232.9,166.9l5.4,-4.3M232.9,166.9L237.1,166.3L241.3,166.5L244.8,164.1M221.8,166.0L222.3,160.7L220.1,155.7L218.8,150.6L215.0,146.7L211.7,142.5M221.6,167.1L221.6,171.1L220.3,174.9L218.0,178.2M218.0,178.2l-6.3,3.6M218.0,178.2L215.5,181.4L214.7,185.3M210.9,163.1L208.2,161.5L205.3,160.3M205.3,160.3l-2.9,-4.3M205.3,160.3L202.5,158.8L200.2,156.6L197.4,155.2M221.5,172.3L221.5,174.7L221.1,177.2L221.4,179.6M221.4,179.6l-3.6,9.9M221.4,179.6L220.1,181.7L219.6,184.1M227.4,167.3L231.7,169.4L236.4,168.9L241.1,170.0M241.1,170.0l4.2,4.6M241.1,170.0L245.2,172.3L249.3,174.8M213.2,158.5L211.1,154.8L209.2,151.1M209.2,151.1l-4.5,-4.2M209.2,151.1L208.4,147.0M208.4,147.0l2.4,-9.0M208.4,147.0L207.2,143.0L203.5,141.1M215.2,176.5L213.1,179.5L210.4,182.1M210.4,182.1l-5.4,1.0M210.4,182.1L207.4,184.3M207.4,184.3l-8.8,1.5M207.4,184.3L206.9,188.0L204.5,190.8M225.8,156.3L227.1,154.8L228.5,153.5M228.5,153.5l2.0,-7.9M228.5,153.5L228.5,151.5M228.5,151.5l4.3,-6.0M228.5,151.5L229.1,149.6L230.3,148.1M219.8,166.9L215.8,166.2L212.3,168.2L209.4,170.9L206.8,174.0L202.8,174.7M219.6,169.6L219.1,172.4L219.3,175.2M219.3,175.2l5.8,6.7M219.3,175.2L217.1,177.0M217.1,177.0l-2.8,7.4M217.1,177.0L215.5,179.4L214.0,181.8M213.6,173.3L210.4,174.9L206.9,176.1L203.6,177.6M203.6,177.6l-5.7,8.7M203.6,177.6L200.3,179.1L197.9,181.8M213.2,168.9L209.4,169.4L206.0,171.3L203.0,173.7M203.0,173.7l-9.3,1.7M203.0,173.7L199.4,174.9L195.6,174.6M223.7,168.6L224.9,172.9L226.0,177.3L229.6,180.1L232.3,183.7L235.4,187.0M222.1,166.3L221.9,161.9L220.6,157.7M220.6,157.7l2.0,-9.0M220.6,157.7L218.1,154.2M218.1,154.2l-1.6,-7.0M218.1,154.2L215.4,150.7L214.7,146.4M228.4,169.6L231.2,169.6L233.5,171.1M233.5,171.1l8.3,-0.8M233.5,171.1L236.2,171.6M236.2,171.6l8.3,-3.1M236.2,171.6L238.4,173.3L240.6,174.9M210.7,171.7L207.2,171.5L203.8,170.8M203.8,170.8l-5.4,-5.6M203.8,170.8L201.0,172.7L197.5,172.6L195.1,175.0M224.6,163.0L225.2,158.5L226.5,154.2M226.5,154.2l-3.0,-8.0M226.5,154.2L229.9,151.5M229.9,151.5l5.3,-8.8M229.9,151.5L233.8,149.3L234.6,144.9M223.4,168.0L228.1,169.5L231.8,172.9M231.8,172.9l10.0,2.2M231.8,172.9L234.4,177.2M234.4,177.2l9.9,4.5M234.4,177.2L238.6,179.9L242.9,182.4M222.0,164.5L224.6,160.1L223.7,155.0L221.9,150.2M221.9,150.2l-6.0,-4.2M221.9,150.2L223.8,145.5L223.1,140.4M233.9,168.9L236.6,171.5L239.4,174.1L242.5,176.3M242.5,176.3l4.3,10.1M242.5,176.3L245.6,178.3L248.0,181.2M232.5,160.6L233.8,159.5L235.1,158.4L236.7,157.8L238.1,156.7L239.8,156.8M233.0,171.6L234.4,171.3L235.2,172.5L236.1,173.6L237.2,174.4L238.5,175.0M214.1,161.7L210.8,159.8L207.0,159.6L203.4,158.6L199.7,157.8L196.0,156.8M214.3,162.5L212.6,160.9L210.4,160.4M210.4,160.4l-6.7,-5.9M210.4,160.4L208.7,158.8M208.7,158.8l-4.5,-1.8M208.7,158.8L206.5,158.1L204.5,157.0M226.2,159.0L226.5,156.3L226.3,153.7M226.3,153.7l2.4,-7.4M226.3,153.7L227.7,151.4M227.7,151.4l7.4,-3.1M227.7,151.4L229.6,149.5L229.4,146.8M225.9,164.1L228.5,160.2L232.9,158.8M232.9,158.8l5.8,-8.5M232.9,158.8L235.7,155.0L240.0,153.4L243.4,150.2M216.4,163.0L215.2,161.0L213.1,159.9M213.1,159.9l-5.0,1.1M213.1,159.9L211.1,158.5L208.8,158.0L206.6,157.1M228.1,158.0L229.0,153.8L230.3,149.8M230.3,149.8l4.7,-3.4M230.3,149.8L231.1,145.5L233.0,141.7L235.0,137.9M223.1,176.6L222.7,178.6L223.3,180.5L224.3,182.1L225.2,183.9L226.4,185.4M221.6,168.4L221.8,172.7L219.6,176.2L217.6,180.0M217.6,180.0l-0.7,8.0M217.6,180.0L218.2,184.2L217.2,188.3M224.3,161.1L227.8,157.1L227.6,151.8L231.9,148.6M231.9,148.6l2.1,-4.8M231.9,148.6L235.3,144.5L239.0,140.7M223.9,166.9L227.2,166.1L230.7,166.0L234.0,165.3L237.4,166.2L240.2,164.2M219.9,160.9L218.4,158.7L218.7,156.0L217.3,153.7L215.4,151.8L213.2,150.1M222.5,166.5L226.6,168.8L231.1,169.9M231.1,169.9l10.8,-2.4M231.1,169.9L235.1,172.2M235.1,172.2l4.0,4.9M235.1,172.2L238.7,175.1L241.4,178.9M218.0,165.6L215.6,164.4L213.0,163.4L210.6,162.0M210.6,162.0l-4.4,-10.1M210.6,162.0L208.2,160.6L205.6,159.8M216.3,166.2L210.9,166.1L205.7,164.8L200.3,165.8M200.3,165.8l-7.7,-3.3M200.3,165.8L195.5,163.3L190.3,164.6M213.8,166.1L209.5,166.1L205.4,164.6L201.3,163.4L197.0,163.4L192.9,161.9M223.5,170.0L226.0,173.2L228.7,176.3L232.4,178.0L236.4,179.1L240.1,180.7M223.5,165.2L224.9,159.8L229.7,156.7L232.8,152.0M232.8,152.0l8.4,-5.8M232.8,152.0L234.5,146.6L238.3,142.5M222.9,165.4L227.3,163.7L232.1,163.4L236.8,164.0M236.8,164.0l6.4,5.5M236.8,164.0L241.6,163.6L245.3,160.5M222.5,166.6L226.3,166.0L230.1,166.7L233.9,166.6L237.6,167.6L241.4,168.6M224.7,154.8L224.9,152.5L226.2,150.4L225.7,148.1M225.7,148.1l1.1,-9.2M225.7,148.1L225.2,145.8L226.2,143.6M215.1,162.0L212.8,159.9L209.8,159.2L206.8,158.3M206.8,158.3l-6.3,-7.7M206.8,158.3L203.9,157.3L201.5,155.3M213.6,174.9L212.2,178.1L209.1,179.7L206.4,181.8L205.4,185.1L203.7,188.1M213.7,164.5L210.9,164.3L208.1,163.8L205.3,163.8L202.6,163.0L199.8,162.7M213.7,170.5L211.9,171.0L210.3,172.1M210.3,172.1l-4.8,1.0M210.3,172.1L209.1,173.7M209.1,173.7l-0.5,10.9M209.1,173.7L207.4,174.6L206.3,176.1M220.7,167.3L215.0,169.7L209.2,172.2L205.0,176.8M205.0,176.8l-8.3,3.0M205.0,176.8L200.9,181.5L196.3,185.7M221.1,161.9L219.7,157.9L220.4,153.7L220.8,149.4L220.9,145.1L222.9,141.3M219.9,169.2L217.2,172.3L213.7,174.2M213.7,174.2l-5.5,9.2M213.7,174.2L209.8,175.5L208.0,179.1L204.9,181.7" fill="none" stroke="#1e1e1e" stroke-width="0.9" stroke-opacity="0.38" stroke-linecap="round" stroke-linejoin="round"/>
<circle cx="289.2" cy="147.0" r="36.4" fill="url(#pgA)"/>
<path d="M273.6,153.0l-3.5,1.8M284.9,172.5l-2.5,5.0M290.8,181.7l0.2,2.9M271.7,130.2l-4.2,-1.7M268.3,129.0l-2.6,-0.7M294.1,133.6l1.8,-2.9M309.9,147.2l2.2,-1.5M303.1,138.3l5.4,0.3M260.3,156.3l-4.8,-1.1M315.4,167.5l4.6,1.9M312.4,166.5l1.1,3.7M306.6,172.3l1.6,4.3M280.9,150.9l-3.4,2.8M290.4,128.5l3.1,-3.9M280.4,117.1l2.0,-5.0M314.6,138.6l6.1,-2.0M274.5,147.4l-4.7,2.7M271.0,136.9l-5.3,-4.2M289.5,171.1l0.9,5.3M280.6,146.5l-2.3,1.2M321.3,140.2l3.9,-2.4M285.2,154.0l-2.0,5.4M273.3,134.5l-3.5,-3.4M263.9,169.7l-4.3,1.7M268.0,130.0l-4.9,0.0M283.7,176.2l0.8,2.8M312.9,126.9l3.7,-1.2M321.5,132.4l6.7,-1.6M312.0,120.1l0.8,-2.5M299.7,141.6l1.4,-2.4M295.8,176.2l-2.0,4.6M312.0,137.8l6.0,0.2M265.6,146.9l-3.2,1.4M311.6,155.1l3.2,-0.5M267.5,154.9l-2.8,2.1M304.5,146.3l6.0,-1.7M291.2,121.0l-1.7,-4.4M297.1,137.1l4.7,-4.9M276.4,127.0l-2.6,-3.5M283.1,136.6l-2.9,-1.3M267.3,170.5l-3.2,5.5M293.1,125.6l-2.0,-4.5M265.3,125.7l-4.7,-2.0M290.6,164.3l-0.6,4.8M295.0,142.8l5.2,-2.0M305.6,170.7l-0.2,2.8M309.6,128.0l3.2,-4.0M304.3,127.2l2.5,-0.6M319.2,143.9l4.0,-4.0M320.7,149.1l4.6,-0.5M278.7,174.1l-1.4,4.3M315.4,155.2l2.4,1.2M295.3,162.2l1.3,3.6M266.9,127.2l-2.9,-0.5M265.0,123.6l-5.7,-1.1M313.1,126.8l5.9,-0.4M285.3,177.0l1.3,4.9M280.5,115.3l-2.5,-2.7M260.3,138.0l-6.4,1.5M314.0,145.3l4.5,1.8M281.0,175.4l1.7,6.2M299.3,152.3l4.9,3.7M276.9,179.6l-2.6,3.9M317.6,146.9l6.5,2.3M308.2,117.8l0.9,-4.9M283.2,119.7l-0.1,-6.3M270.8,135.2l-3.2,-0.6M281.8,118.3l1.4,-5.5M293.8,137.5l1.2,-6.6M299.5,131.3l2.7,-2.4M283.3,133.5l-1.3,-4.2M310.7,125.3l2.9,-4.1M300.1,155.7l4.6,2.1M290.0,157.7l-1.0,5.9M308.6,136.4l4.3,-0.3M257.9,136.4l-3.8,1.4M301.9,163.6l1.7,5.1M305.9,157.1l1.9,4.4M291.8,120.3l-1.9,-3.1M281.9,143.0l-2.4,-1.1M286.3,159.1l-0.1,6.1M265.4,166.2l-2.9,4.8M293.3,167.2l-0.6,3.9M288.4,168.7l-0.3,5.5M304.1,131.7l2.7,-0.7M290.4,153.4l1.2,6.0M278.9,170.1l-3.5,5.0M308.0,177.0l2.5,3.9M308.5,124.3l1.6,-4.9M302.0,177.6l2.3,2.0M284.5,130.5l0.9,-4.5M304.4,159.1l1.7,2.1M290.2,135.3l-3.3,-6.0M302.8,136.1l3.6,-1.5M286.4,170.9l-0.9,4.3M281.9,164.1l-6.0,3.3M269.2,125.9l-5.5,-1.5M319.9,131.1l1.9,-2.6M279.4,169.4l-2.8,6.2M316.2,168.3l4.4,1.7M264.6,165.1l-2.3,1.8M283.6,124.1l-2.9,-6.1M303.0,155.8l3.2,5.8M312.5,121.8l3.9,-5.7M275.2,170.9l-0.4,6.3M293.9,163.7l1.9,4.1M260.0,151.2l-6.6,0.2M299.8,175.1l2.2,2.4M254.8,140.5l-5.4,0.9M289.7,115.7l-3.5,-5.0M286.3,133.6l-1.6,-3.1M309.7,171.6l1.9,4.2M260.0,135.2l-4.3,0.5M276.8,156.0l-5.5,1.4M263.6,164.1l-1.3,3.3M260.4,146.8l-6.9,-0.6M258.8,153.8l-4.2,3.8M262.8,126.2l-4.5,-1.3M288.1,157.1l3.0,5.8M282.5,112.5l-2.0,-4.0M257.7,134.1l-2.4,-2.0M271.5,171.7l-6.0,2.3M265.1,130.9l-3.9,-4.2M301.5,133.1l6.6,-1.8M309.0,166.5l0.8,3.0M276.3,140.0l-3.1,-4.7M318.1,150.6l3.8,3.6M312.1,161.0l2.6,3.5M288.0,114.3l0.4,-6.4M311.8,151.7l4.9,4.3M318.2,139.9l2.8,-2.1M291.7,116.2l1.8,-3.3M268.6,163.3l-4.4,1.5M285.2,123.2l0.5,-4.7M264.9,128.5l-6.5,-1.2M283.1,169.7l1.1,5.5M266.9,158.2l-3.1,-0.0M270.5,129.1l-1.2,-5.9M282.7,136.9l-1.1,-4.4M271.2,136.9l-3.4,-1.4M319.3,153.5l2.4,1.9M294.8,135.1l0.7,-2.8M302.9,150.8l2.7,0.1M270.3,170.0l-5.4,1.6" fill="none" stroke="#1e1e1e" stroke-width="0.8" stroke-opacity="0.23" stroke-linecap="round"/>
<path d="M289.2,147.5L285.7,152.7L280.1,155.7L274.9,159.3L271.2,164.4L266.6,168.7M289.8,143.8L291.9,140.9L292.0,137.3M292.0,137.3l5.3,-6.9M292.0,137.3L294.6,134.9L297.5,132.9L299.9,130.3M288.9,147.3L285.3,150.2L281.0,152.0M281.0,152.0l-11.9,-0.7M281.0,152.0L276.4,152.8L272.7,155.7L268.0,155.7M294.7,138.3L296.6,137.1L298.7,136.2M298.7,136.2l6.0,0.4M298.7,136.2L300.8,135.5L302.0,133.5L303.0,131.5M288.2,149.0L288.3,152.9L286.5,156.2L285.1,159.8L285.9,163.5L286.8,167.3M291.5,146.9L298.0,145.8L303.7,142.6L309.8,140.2M309.8,140.2l9.6,3.0M309.8,140.2L316.1,138.1L322.0,135.3M289.2,148.2L291.7,154.6L291.5,161.5M291.5,161.5l-3.4,4.9M291.5,161.5L288.9,167.8M288.9,167.8l0.5,7.2M288.9,167.8L292.6,173.6L290.6,180.1M287.9,143.1L288.3,137.5L288.4,131.8L291.4,126.9L292.6,121.4L295.6,116.5M289.5,151.6L290.8,156.7L292.0,161.9M292.0,161.9l8.0,8.0M292.0,161.9L291.5,167.1L293.4,172.1L292.8,177.3M285.0,147.0L280.1,149.6L274.5,149.5L269.4,147.3L263.8,147.7L259.0,144.9M288.0,143.5L287.1,140.4L284.6,138.3L284.5,135.0L284.3,131.8L282.0,129.4M290.3,155.0L288.9,159.2L286.4,162.7L283.8,166.2M283.8,166.2l-0.9,6.5M283.8,166.2L284.7,170.5L284.9,174.8M294.2,158.2L296.6,159.9L297.6,162.6M297.6,162.6l-1.8,5.7M297.6,162.6L297.6,165.6L297.6,168.5L297.2,171.5M290.5,139.7L292.7,136.8L295.3,134.2M295.3,134.2l1.8,-7.5M295.3,134.2L297.2,131.1L299.8,128.5L302.8,126.5M300.3,140.6L304.1,139.3L307.1,136.7M307.1,136.7l10.6,-3.4M307.1,136.7L311.0,135.7M311.0,135.7l6.9,-9.7M311.0,135.7L314.9,135.2L317.2,131.9M291.3,140.6L290.8,137.9L290.3,135.2L291.9,133.0M291.9,133.0l1.5,-6.2M291.9,133.0L293.8,131.0L294.6,128.4M286.9,143.6L283.5,141.2L279.7,139.7L275.7,138.9M275.7,138.9l-7.7,4.0M275.7,138.9L272.5,136.3L269.3,133.8M275.8,145.5L274.1,144.5L272.2,145.3L270.2,145.3L268.2,144.6L266.6,143.3M295.9,154.7L298.6,158.8L300.6,163.3M300.6,163.3l9.1,8.5M300.6,163.3L302.3,167.9M302.3,167.9l7.6,6.3M302.3,167.9L302.9,172.7L306.6,176.0M299.8,154.1L304.0,155.1L307.9,156.8L310.7,160.0M310.7,160.0l2.2,9.2M310.7,160.0L313.0,163.6L316.1,166.6M299.8,142.2L303.0,138.8L307.6,139.0L310.9,135.8M310.9,135.8l1.7,-7.4M310.9,135.8L313.8,132.1L316.9,128.7M285.2,145.0L279.3,144.2L273.4,143.3M273.4,143.3l-5.1,2.6M273.4,143.3L269.4,139.0L264.2,136.0L260.7,131.2M294.1,151.6L296.3,155.6L299.3,159.0M299.3,159.0l1.5,5.5M299.3,159.0L303.4,161.1L306.8,164.0L308.2,168.4M284.4,159.8L283.4,160.9L283.1,162.4M283.1,162.4l3.9,9.1M283.1,162.4L282.7,163.8M282.7,163.8l1.9,7.1M282.7,163.8L282.8,165.3L282.7,166.8M291.7,142.0L292.5,137.5L292.5,133.0M292.5,133.0l3.7,-6.4M292.5,133.0L291.0,128.7M291.0,128.7l2.7,-10.5M291.0,128.7L293.8,125.2L294.1,120.6M288.5,147.0L283.0,146.4L278.4,143.6L272.9,143.9M272.9,143.9l-6.6,4.2M272.9,143.9L267.7,142.4L262.7,144.5M295.5,136.9L295.8,132.5L299.0,129.3M299.0,129.3l5.4,-10.4M299.0,129.3L300.9,125.3M300.9,125.3l-0.7,-6.2M300.9,125.3L302.7,121.2L305.3,117.7M296.7,134.7L298.7,130.8L298.7,126.5M298.7,126.5l5.2,-7.4M298.7,126.5L300.3,122.4M300.3,122.4l-1.9,-6.2M300.3,122.4L303.8,119.9L304.6,115.7M288.9,149.8L290.3,154.8L293.8,158.8M293.8,158.8l1.5,9.1M293.8,158.8L295.8,163.6L299.9,167.0L301.9,171.8M278.1,146.1L275.3,147.5L272.3,146.6L269.6,148.2L266.5,148.1L263.4,147.7M289.1,147.0L285.1,145.0L280.7,145.1L276.3,144.9L272.0,144.2L267.8,145.6M288.6,143.9L288.7,139.1L288.3,134.4M288.3,134.4l-6.0,-11.0M288.3,134.4L290.1,130.1M290.1,130.1l5.6,-3.4M290.1,130.1L292.0,125.8L291.8,121.1M291.0,148.4L296.8,150.2L302.8,151.2M302.8,151.2l11.2,5.8M302.8,151.2L307.7,154.9M307.7,154.9l7.4,-0.3M307.7,154.9L313.7,154.6L319.7,155.9M292.8,152.7L295.3,153.9L298.0,154.8L299.8,157.0L300.8,159.7L303.1,161.4M283.9,149.2L281.1,150.5L278.0,150.2M278.0,150.2l-6.2,-2.8M278.0,150.2L275.2,151.8L272.7,153.6L269.9,154.8M300.7,145.0L305.3,143.0L309.2,139.9M309.2,139.9l5.5,-1.1M309.2,139.9L314.1,140.3L318.6,138.3L323.6,138.2M288.7,147.7L286.7,152.4L284.1,156.7M284.1,156.7l-7.1,6.3M284.1,156.7L283.8,161.8M283.8,161.8l2.4,9.1M283.8,161.8L283.3,166.8L281.2,171.4M297.5,138.5L298.9,137.4L299.7,135.8L300.7,134.2M300.7,134.2l10.1,-7.4M300.7,134.2L301.2,132.4L302.4,130.9M300.9,141.3L302.9,138.9L304.6,136.4M304.6,136.4l-0.6,-10.1M304.6,136.4L306.6,134.1L309.6,133.2L312.6,132.7M285.3,145.3L280.1,145.3L275.1,146.7M275.1,146.7l-10.2,-2.5M275.1,146.7L270.0,145.7M270.0,145.7l-4.6,-4.9M270.0,145.7L264.8,146.1L259.8,144.5M288.8,151.8L288.5,158.2L287.0,164.3L288.2,170.5M288.2,170.5l4.8,8.1M288.2,170.5L288.2,176.9L286.1,182.8M296.6,139.8L298.5,138.9L300.5,138.0M300.5,138.0l5.7,-10.4M300.5,138.0L302.1,136.6M302.1,136.6l8.8,-2.9M302.1,136.6L303.9,135.3L304.9,133.4M289.0,145.3L285.7,139.5L284.7,133.0M284.7,133.0l5.5,-9.4M284.7,133.0L285.3,126.3L286.3,119.7L284.9,113.2M289.3,147.4L287.6,153.4L285.4,159.2M285.4,159.2l1.5,8.8M285.4,159.2L281.0,163.4M281.0,163.4l-5.0,10.7M281.0,163.4L275.8,166.9L271.7,171.5M290.8,143.0L290.5,137.1L292.3,131.6M292.3,131.6l6.5,-4.4M292.3,131.6L294.8,126.2M294.8,126.2l-1.6,-6.8M294.8,126.2L297.2,120.8L300.0,115.7M290.5,149.3L292.0,152.7L294.6,155.4L296.3,158.7M296.3,158.7l1.1,12.0M296.3,158.7L297.6,162.2L299.9,165.1M288.2,142.3L284.4,138.1L279.5,135.2M279.5,135.2l-4.8,-11.1M279.5,135.2L274.4,132.6L269.3,129.9L267.0,124.7M295.6,142.9L298.4,138.4L302.1,134.6L306.6,131.9M306.6,131.9l3.5,-7.5M306.6,131.9L308.9,127.1L313.0,123.8M288.3,136.1L285.3,132.1L285.6,127.2L284.4,122.5M284.4,122.5l3.1,-11.6M284.4,122.5L283.4,117.7L283.2,112.8M288.9,145.4L286.2,141.5L286.1,136.8M286.1,136.8l2.4,-5.8M286.1,136.8L283.7,132.6M283.7,132.6l-7.6,-5.2M283.7,132.6L281.7,128.4L278.4,124.9M288.5,152.5L288.2,155.4L288.5,158.4L288.7,161.3M288.7,161.3l-2.9,9.6M288.7,161.3L287.0,163.8L287.0,166.7M289.2,147.1L286.6,150.9L283.5,154.0M283.5,154.0l-4.9,11.4M283.5,154.0L280.2,157.2L276.5,159.8L272.5,161.8M277.2,143.5L275.2,143.7L273.4,142.7L271.3,142.8L269.4,142.0L268.0,140.4M288.8,145.4L286.0,142.9L282.6,141.4M282.6,141.4l-7.0,1.3M282.6,141.4L280.6,138.3M280.6,138.3l0.5,-10.0M280.6,138.3L277.0,137.3L273.7,135.6M296.2,141.8L299.2,139.6L302.5,138.1M302.5,138.1l6.1,-0.7M302.5,138.1L306.2,138.1M306.2,138.1l5.1,3.1M306.2,138.1L309.0,135.6L311.9,133.4M284.5,135.9L282.6,134.1L280.4,132.9M280.4,132.9l-11.1,0.6M280.4,132.9L279.1,130.7M279.1,130.7l-10.2,-4.5M279.1,130.7L276.9,129.3L274.5,128.4M284.2,140.8L282.5,138.3L280.8,135.7M280.8,135.7l-5.3,-3.9M280.8,135.7L278.7,133.5M278.7,133.5l-3.5,-8.0M278.7,133.5L276.4,131.4L275.6,128.4M286.4,141.0L284.1,135.6L282.6,129.9M282.6,129.9l2.5,-6.7M282.6,129.9L279.8,124.7L275.8,120.4L271.5,116.4M300.5,147.0L302.6,147.6L304.6,148.3M304.6,148.3l9.4,-2.8M304.6,148.3L306.8,148.4M306.8,148.4l7.6,2.7M306.8,148.4L308.9,149.0L311.0,148.4M283.0,136.2L281.5,135.0L279.8,134.3M279.8,134.3l-9.8,-0.0M279.8,134.3L278.7,132.7L277.6,131.2L276.6,129.6M285.7,138.7L285.3,134.9L284.5,131.1L282.4,127.9L280.7,124.5L277.9,121.8M295.4,147.2L299.0,146.5L302.7,146.1L306.2,145.0L309.1,142.8L312.5,141.2M297.2,136.9L300.8,134.0L304.7,131.4L306.6,127.2L308.8,123.0L309.5,118.4M293.4,141.1L297.9,137.7L300.9,133.0M300.9,133.0l8.4,-7.1M300.9,133.0L306.0,130.8L309.4,126.3L311.5,121.1M281.2,153.2L277.4,154.3L274.3,156.6M274.3,156.6l-11.0,0.9M274.3,156.6L272.2,160.0L268.4,160.7L264.5,161.3M291.7,148.3L295.5,150.7L298.2,154.1M298.2,154.1l0.1,8.2M298.2,154.1L302.2,156.0M302.2,156.0l9.3,-1.2M302.2,156.0L306.6,156.5L310.6,158.3M288.3,143.1L284.8,138.0L282.3,132.4M282.3,132.4l1.6,-11.9M282.3,132.4L277.1,129.0M277.1,129.0l-11.6,-1.2M277.1,129.0L274.8,123.3L272.3,117.7M295.6,136.7L296.5,132.0L298.1,127.5M298.1,127.5l5.3,-6.6M298.1,127.5L301.4,124.0M301.4,124.0l4.6,-10.5M301.4,124.0L302.2,119.3L304.0,114.8M291.7,149.2L298.0,151.5L304.7,151.5L311.2,153.0L315.9,157.8L322.6,157.9M287.4,157.8L285.7,162.6L286.9,167.5M286.9,167.5l-2.0,7.6M286.9,167.5L287.4,172.5L286.5,177.5L285.2,182.4M288.2,147.4L284.3,149.3L280.3,150.8L276.0,150.3L271.9,151.8L267.6,151.3M289.5,142.7L287.1,137.9L284.1,133.5L280.1,130.1M280.1,130.1l-5.6,-1.5M280.1,130.1L276.0,126.7L272.5,122.7" fill="none" stroke="#1e1e1e" stroke-width="0.9" stroke-opacity="0.38" stroke-linecap="round" stroke-linejoin="round"/>
<circle cx="96.5" cy="199.6" r="30.2" fill="url(#pgA)"/>
<path d="M103.7,218.5l1.8,4.1M114.4,219.2l2.7,1.0M104.5,214.7l3.4,2.9M77.5,217.2l-2.6,4.8M116.8,186.4l6.8,-0.0M93.8,184.8l-0.8,-5.3M125.0,206.7l3.3,0.6M84.3,222.8l-1.1,3.7M105.7,175.8l2.6,-3.9M85.2,195.4l-3.1,0.7M87.8,178.3l-1.3,-2.9M99.2,173.8l-0.9,-6.2M86.3,224.3l-2.4,2.9M89.0,212.5l-5.6,3.9M80.3,179.1l-5.5,-2.3M88.0,208.0l-1.0,6.6M124.0,196.6l3.8,0.7M80.3,198.5l-2.8,-0.0M113.3,212.0l2.4,5.6M104.4,191.5l5.1,-2.4M76.9,184.8l-4.8,-2.1M74.2,181.4l-4.1,-1.0M94.7,185.3l1.3,-2.3M82.5,184.5l-1.4,-3.6M93.8,191.2l-0.6,-4.6M71.6,212.5l-3.3,2.2M96.2,182.8l2.8,-6.2M89.0,208.2l-1.7,6.3M90.2,176.2l-2.8,-2.7M94.8,225.4l-1.4,5.8M123.1,201.4l5.8,-1.2M94.9,224.2l-1.2,3.0M82.6,205.4l-4.3,0.5M106.4,176.6l2.9,-2.9M102.8,221.1l1.7,5.9M86.5,197.9l-3.7,-2.6M96.4,220.2l-2.7,3.7M97.2,174.8l1.9,-5.6M113.2,183.6l1.4,-5.5M89.5,200.3l-4.9,-1.1M106.8,211.9l0.4,5.4M111.3,210.7l1.1,3.2M104.5,224.1l1.9,4.3M89.0,205.5l-5.1,1.3M77.5,209.7l-5.3,3.7M99.9,205.9l-0.7,5.3M71.7,205.2l-3.0,-0.6M80.8,180.8l-2.0,-4.5M89.4,182.9l-1.8,-6.7M87.5,194.4l-2.2,-1.3M107.2,198.3l4.8,2.1M114.6,196.8l5.6,2.6M78.9,210.5l-1.5,3.3M84.6,176.4l-1.3,-4.8M102.6,188.3l2.9,-5.8M90.3,184.5l-0.3,-5.7M105.9,173.5l2.0,-5.1M109.5,186.8l3.8,-1.6M87.8,201.2l-3.9,-1.7M98.3,184.1l-3.7,-5.8M124.8,196.9l5.0,0.1M99.1,183.4l3.1,-5.3M104.4,211.5l3.2,4.3M100.9,224.6l3.5,4.7M99.9,179.1l5.0,-4.4M108.7,175.2l1.4,-4.5M101.6,202.1l5.0,0.8M83.5,212.6l-2.1,3.2M76.5,195.7l-6.5,-1.7M92.5,218.5l-3.4,3.4M122.2,206.1l6.3,-1.3M77.3,221.7l-1.8,4.8M106.3,198.3l4.4,1.5M77.4,214.8l-2.1,4.1M95.9,217.2l1.3,2.4M71.8,208.8l-6.7,1.0M120.7,205.5l4.2,3.0M100.3,184.1l1.1,-4.6M99.2,218.6l-1.6,4.0M110.2,178.2l-0.4,-5.4M108.2,224.8l5.2,3.9M120.5,196.6l3.5,-2.5M85.8,208.5l-1.7,2.2M77.0,185.0l-5.3,-2.1M105.5,221.0l3.1,1.9M69.0,205.4l-3.3,0.9M111.5,215.6l3.2,1.5M117.4,193.7l2.8,-3.9M83.6,205.2l-3.8,4.0M108.5,200.6l4.8,3.1M76.0,209.8l-3.3,-0.0M70.3,191.5l-5.2,-2.2M110.7,191.8l2.3,-2.5M84.8,224.2l-1.1,2.4M109.1,208.6l3.5,3.9M75.3,209.6l-4.0,4.5M106.9,218.3l4.6,2.4M120.7,198.6l5.3,-4.0M75.7,181.3l-3.3,-4.4M101.3,175.6l-0.6,-3.5M111.4,198.2l4.7,-1.9M70.2,197.3l-6.6,-1.5M76.7,204.7l-3.3,0.9M74.7,190.7l-2.0,-1.6M77.1,205.1l-3.8,1.9M84.8,186.4l-4.1,-1.8M105.1,191.3l2.9,-3.3M86.9,226.7l0.2,5.8M87.5,183.9l-5.1,-4.0M102.1,223.0l-0.2,4.2M117.1,188.6l4.3,-4.8M103.4,199.1l2.3,-1.3M86.7,219.8l-0.8,5.7M119.6,191.2l3.5,-2.4M108.2,223.3l0.6,3.0M97.7,178.6l-2.4,-3.9M92.9,223.2l-1.9,1.8M81.4,192.6l-4.4,-4.0M81.7,213.7l-1.6,2.7" fill="none" stroke="#1e1e1e" stroke-width="0.8" stroke-opacity="0.23" stroke-linecap="round"/>
<path d="M94.3,202.8L93.5,206.7L92.0,210.3L90.0,213.7L88.4,217.2L87.7,221.1M101.4,197.0L103.9,192.7L108.5,191.0L113.1,189.0M113.1,189.0l4.0,-6.8M113.1,189.0L116.6,185.5L120.4,182.3M104.3,205.5L106.0,206.4L108.1,206.5L109.4,208.0M109.4,208.0l7.8,2.5M109.4,208.0L110.5,209.7L112.5,210.4M99.7,196.6L101.8,195.1L104.3,194.2L106.6,193.1L109.0,192.1L110.9,190.4M93.2,207.8L91.9,211.8L92.5,216.0L93.0,220.1M93.0,220.1l-3.4,9.6M93.0,220.1L91.1,223.9L88.1,226.8M102.5,207.5L104.8,210.5L105.2,214.2M105.2,214.2l2.9,6.2M105.2,214.2L106.5,217.6L107.0,221.3L109.2,224.4M93.7,198.8L89.8,198.5L86.1,199.5M86.1,199.5l-9.0,-0.5M86.1,199.5L82.6,198.0M82.6,198.0l-5.6,-6.8M82.6,198.0L79.4,195.8L76.2,193.7M100.4,192.6L102.5,190.4L104.0,187.7L106.7,186.1M106.7,186.1l3.9,-4.8M106.7,186.1L109.6,185.0L111.1,182.4M85.6,200.8L84.0,200.9L82.3,200.9M82.3,200.9l-8.0,-2.9M82.3,200.9L80.8,200.2L79.3,200.7L77.6,200.8M93.9,204.5L90.1,207.7L85.4,209.3M85.4,209.3l-6.0,-0.2M85.4,209.3L81.2,212.1M81.2,212.1l-4.6,5.8M81.2,212.1L76.8,214.4L74.7,218.9M98.3,200.1L102.0,203.3L105.0,207.0M105.0,207.0l1.3,10.5M105.0,207.0L109.7,208.2M109.7,208.2l6.2,6.5M109.7,208.2L113.7,210.7L118.2,212.6M103.3,193.8L104.3,190.7L106.5,188.4L108.9,186.4L110.3,183.5L113.4,182.5M98.9,192.6L98.7,189.6L98.6,186.6M98.6,186.6l-4.1,-9.2M98.6,186.6L99.9,183.9M99.9,183.9l0.8,-5.0M99.9,183.9L100.7,181.0L102.5,178.6M97.5,200.6L101.6,204.6L106.5,207.4L110.4,211.6M110.4,211.6l4.6,1.9M110.4,211.6L113.9,216.0L118.8,218.9M94.6,190.1L95.4,186.5L96.4,182.9L94.3,179.9M94.3,179.9l-6.6,-4.8M94.3,179.9L95.9,176.6L95.6,172.9M96.1,200.1L91.5,202.8L86.6,204.5L81.3,204.8M81.3,204.8l-6.6,-4.8M81.3,204.8L76.9,207.6L72.1,209.8M92.2,194.4L90.4,192.6L88.2,191.3L86.2,189.7L84.9,187.5L84.3,185.0M95.6,199.5L92.0,196.4L87.6,194.8M87.6,194.8l-7.8,2.4M87.6,194.8L85.2,190.8M85.2,190.8l-0.4,-5.9M85.2,190.8L83.3,186.5L79.5,183.7M99.0,206.6L98.7,209.8L98.7,213.0M98.7,213.0l3.0,8.1M98.7,213.0L98.8,216.3L99.1,219.5L99.9,222.6M93.2,206.2L92.8,208.7L90.7,210.2L89.9,212.6M89.9,212.6l-5.8,7.6M89.9,212.6L87.6,213.8L85.3,214.9M95.8,206.0L97.3,209.0L97.9,212.4M97.9,212.4l4.9,6.9M97.9,212.4L97.0,215.7M97.0,215.7l-6.5,5.2M97.0,215.7L98.2,218.9L98.3,222.3M102.1,198.7L105.1,198.6L108.0,198.3L110.9,197.6L113.5,196.2L116.4,196.6M94.4,196.4L92.2,193.0L88.5,191.1L85.7,188.1L82.7,185.4L81.9,181.4M98.6,194.6L99.0,191.2L99.3,187.7M99.3,187.7l-1.1,-4.7M99.3,187.7L100.8,184.6M100.8,184.6l-0.2,-5.9M100.8,184.6L99.8,181.3L101.8,178.5M98.3,207.0L100.9,210.5L102.2,214.7L105.2,217.9L107.9,221.4L110.5,225.0M95.1,201.2L91.5,203.7L88.7,207.2L85.4,210.1M85.4,210.1l-8.5,3.4M85.4,210.1L83.7,214.2L81.7,218.2M97.6,205.8L96.6,210.2L96.8,214.7L94.8,218.7L96.5,222.9L98.4,226.9M96.8,199.9L100.0,201.9L102.5,204.7L106.0,205.9L109.8,206.0L113.4,206.9M97.1,206.2L98.4,207.9L98.1,209.9M98.1,209.9l-3.9,4.7M98.1,209.9L97.7,212.0M97.7,212.0l-7.1,6.3M97.7,212.0L98.0,214.0L98.7,216.0M100.9,199.8L104.8,200.5L108.3,198.7M108.3,198.7l7.8,-0.9M108.3,198.7L112.3,198.7L116.1,197.8L119.5,195.8M96.1,198.4L96.0,195.0L94.2,192.1L94.1,188.8M94.1,188.8l-4.4,-7.0M94.1,188.8L94.7,185.4L94.6,182.0M98.8,196.7L99.9,193.6L100.0,190.3L100.7,187.1M100.7,187.1l-1.1,-6.9M100.7,187.1L99.8,183.9L101.4,181.0M96.8,197.8L97.2,192.2L97.3,186.4L98.0,180.8M98.0,180.8l4.3,-4.4M98.0,180.8L96.7,175.2L98.8,169.9M104.7,199.0L106.7,199.8L108.9,199.5L110.7,198.4M110.7,198.4l3.0,-8.2M110.7,198.4L112.7,199.2L114.6,198.1M89.0,191.0L88.1,187.2L86.6,183.7L86.5,179.9M86.5,179.9l2.7,-4.2M86.5,179.9L86.9,176.1L84.8,172.9M100.0,198.7L104.2,198.3L108.0,199.9L112.1,200.4L116.2,200.7L120.3,200.1M97.9,197.3L100.3,193.9L101.2,189.9M101.2,189.9l-1.6,-5.3M101.2,189.9L104.3,187.1L106.6,183.6L106.8,179.5M104.6,200.1L107.6,200.1L110.5,199.4L113.3,200.6L116.2,201.0L119.0,199.8M103.0,199.6L105.9,200.4L108.3,201.9M108.3,201.9l10.3,2.0M108.3,201.9L111.3,201.8L114.1,201.3L116.8,202.6M100.6,200.4L104.2,202.0L107.4,204.5L110.6,206.7L114.6,206.3L118.5,205.5M95.5,199.1L89.9,199.8L84.7,197.6M84.7,197.6l-4.9,1.2M84.7,197.6L80.0,194.5M80.0,194.5l-5.2,0.6M80.0,194.5L74.5,195.9L68.8,195.5M94.0,209.2L94.3,210.9L93.2,212.2M93.2,212.2l-0.1,4.8M93.2,212.2L92.8,213.8L93.4,215.4L93.8,217.1M90.0,209.7L89.7,210.9L88.9,211.9L88.4,213.1L88.0,214.2L86.9,214.9M100.0,198.3L102.7,197.0L105.7,196.8M105.7,196.8l7.0,5.1M105.7,196.8L108.2,195.2M108.2,195.2l2.5,-4.6M108.2,195.2L111.2,194.7L114.1,195.3M95.5,203.4L96.2,207.8L94.2,211.9M94.2,211.9l1.4,7.3M94.2,211.9L94.1,216.4L95.4,220.7L95.7,225.2M95.4,196.7L92.2,192.3L89.2,187.8L88.7,182.4L88.9,177.0L87.6,171.7M93.2,207.0L92.4,208.8L91.2,210.4L90.3,212.2M90.3,212.2l-1.4,10.1M90.3,212.2L89.1,213.8L88.4,215.7M100.5,200.7L102.7,203.1L106.0,202.9L108.5,205.1M108.5,205.1l3.3,6.2M108.5,205.1L111.0,207.2L113.0,209.9M96.2,203.4L94.3,207.0L94.7,211.1M94.7,211.1l-2.3,6.4M94.7,211.1L92.1,214.3L89.5,217.5L89.6,221.6M103.3,209.1L104.5,212.2L106.9,214.6M106.9,214.6l0.7,5.2M106.9,214.6L107.6,217.9M107.6,217.9l4.5,7.3M107.6,217.9L108.3,221.2L109.3,224.4M96.2,199.7L90.8,202.1L87.0,206.7M87.0,206.7l-8.6,1.7M87.0,206.7L83.8,211.8L81.4,217.3L77.3,221.7M97.5,202.7L97.2,205.7L96.0,208.5M96.0,208.5l-4.7,3.1M96.0,208.5L94.7,211.2L95.8,214.1L95.7,217.1M98.0,200.2L100.1,202.4L101.4,205.1L102.8,207.8L105.6,209.0L108.2,210.6M88.1,193.6L85.3,192.7L82.4,192.7L81.0,190.2L79.1,188.0L76.5,186.6M88.3,205.4L86.8,208.8L83.8,211.1M83.8,211.1l-7.3,-0.0M83.8,211.1L80.1,211.8L78.5,215.2L75.5,217.4M101.2,193.3L103.0,190.7L104.0,187.7M104.0,187.7l-0.6,-6.5M104.0,187.7L106.7,186.2L108.0,183.4L109.2,180.5M97.8,202.0L101.5,204.8L103.8,208.8L105.5,213.1M105.5,213.1l-1.7,9.5M105.5,213.1L106.3,217.6L106.3,222.3M94.2,197.9L91.1,195.3L89.2,191.8M89.2,191.8l-5.0,-4.8M89.2,191.8L85.3,190.7L82.3,187.9L78.7,186.2M100.8,196.7L103.9,195.9L105.8,193.4M105.8,193.4l1.0,-8.8M105.8,193.4L107.8,190.9M107.8,190.9l8.6,-2.8M107.8,190.9L109.3,188.1L111.1,185.5" fill="none" stroke="#1e1e1e" stroke-width="0.9" stroke-opacity="0.38" stroke-linecap="round" stroke-linejoin="round"/>
<circle cx="166.5" cy="203.8" r="32.2" fill="url(#pgA)"/>
<path d="M186.6,206.7l6.7,-1.5M141.8,198.5l-4.7,-1.3M172.4,179.1l-0.7,-5.7M170.8,216.7l-0.6,5.7M155.9,182.1l-4.3,-2.3M151.9,184.8l-0.5,-2.7M196.8,197.7l5.7,-2.1M173.7,205.4l4.2,1.2M146.1,214.7l-3.0,4.2M169.1,187.0l-0.5,-3.0M143.9,191.8l-6.8,0.4M151.3,184.0l0.0,-5.6M175.1,218.8l-0.2,4.4M143.2,191.8l-3.1,-1.7M158.1,220.3l-2.1,3.3M149.2,210.6l-3.1,3.1M157.7,191.5l-0.3,-3.7M177.9,194.4l1.3,-4.0M151.5,219.6l-4.8,2.7M162.7,189.3l-0.5,-4.0M147.3,197.8l-4.2,-2.7M172.6,178.5l0.2,-5.1M180.4,209.7l5.2,2.8M170.3,211.1l1.0,4.6M190.8,207.2l4.8,-2.7M180.8,190.1l4.3,-5.5M177.1,225.2l4.1,3.9M140.7,196.9l-4.7,-0.5M179.9,231.1l0.9,4.4M156.6,189.7l0.1,-6.8M159.4,220.7l-0.1,2.6M177.5,176.0l0.6,-6.7M147.8,214.1l-3.4,-0.5M173.3,228.7l1.5,4.8M154.1,190.4l-3.9,-1.6M158.2,192.0l-2.6,-6.4M184.7,212.3l4.0,0.6M183.8,194.2l3.5,-1.2M181.4,186.5l6.1,-1.5M157.7,188.2l-2.1,-6.4M149.2,195.8l-5.9,0.6M180.7,192.0l1.7,-4.7M181.7,211.7l4.9,0.4M154.8,223.8l-1.9,5.5M169.1,210.2l1.3,4.0M165.1,216.7l-1.0,4.2M149.5,206.3l-3.0,1.8M154.6,201.5l-6.4,2.3M178.4,189.4l3.1,-2.2M152.9,216.5l-2.9,1.7M137.1,194.1l-2.2,-2.6M168.2,219.8l0.5,6.5M155.2,198.6l-5.1,-4.3M145.1,202.5l-4.8,-1.8M190.6,184.5l2.6,-3.4M183.7,225.4l1.4,4.3M141.2,200.7l-2.5,0.5M168.8,213.7l-0.1,4.6M164.5,198.3l-1.8,-4.3M181.0,227.6l0.6,5.3M162.5,185.3l-2.2,-3.4M167.2,222.6l2.0,5.6M162.7,212.5l-1.5,4.1M170.9,192.5l1.5,-4.5M164.7,214.3l2.7,6.1M152.3,216.3l-2.4,0.9M159.2,210.0l-0.5,2.9M146.4,212.7l-2.5,0.7M187.2,220.7l2.1,6.6M165.7,176.0l-0.1,-2.9M191.1,191.8l6.8,0.1M171.4,206.1l1.7,1.9M146.0,209.5l-2.9,-1.2M172.2,216.9l4.3,3.0M196.1,193.9l2.8,0.3M173.8,181.7l-0.2,-6.0M190.9,196.7l5.5,-0.2M169.3,200.1l2.2,-1.8M168.1,173.6l0.6,-3.5M167.4,188.4l0.5,-5.5M184.1,215.6l2.4,5.3M161.1,212.3l-4.6,2.1M161.8,197.8l-4.4,-5.2M159.8,218.0l-1.1,6.6M163.5,229.1l-0.1,5.3M139.4,219.3l-2.6,5.2M167.6,223.4l1.6,5.0M185.4,218.3l4.9,4.4M187.7,194.2l3.9,-5.1M171.1,174.6l-0.0,-3.0M166.9,196.4l2.7,-3.3M149.2,203.6l-5.5,0.4M163.5,185.0l1.1,-4.3M161.9,229.3l-0.7,6.5M151.5,225.3l-2.9,1.6M174.3,218.4l2.3,1.4M182.9,214.5l1.9,2.5M147.2,212.3l-2.4,2.3M178.3,205.8l2.8,0.3M197.3,197.7l4.0,-2.7M176.1,229.2l-0.1,4.6M177.8,194.6l0.9,-2.6M178.5,203.5l4.3,0.7M188.7,188.9l0.8,-2.8M164.4,215.5l1.6,3.5M169.4,195.3l2.4,-4.1M162.4,232.0l-1.5,2.2M177.8,230.7l2.7,3.5M142.2,204.1l-5.7,-0.6M168.4,195.4l3.0,-5.4M172.0,220.8l0.3,4.7M183.5,230.2l4.0,5.2M175.1,181.0l-1.1,-3.4M194.7,200.0l5.7,-1.8M162.5,234.2l-0.7,3.1M163.9,231.0l-1.3,4.4M190.3,190.4l4.3,-2.2M150.3,193.7l-2.1,-4.1M135.5,205.0l-6.2,2.2M148.4,218.4l-3.5,1.3M162.8,179.1l-0.9,-3.5M177.0,205.8l5.4,-1.0M149.3,207.0l-6.6,1.0M191.0,194.4l4.1,-2.2M137.5,207.1l-3.1,0.2M159.7,189.3l-1.8,-2.5M178.9,217.9l5.1,4.7" fill="none" stroke="#1e1e1e" stroke-width="0.8" stroke-opacity="0.23" stroke-linecap="round"/>
<path d="M162.3,211.5L161.7,214.8L161.9,218.2L159.3,220.4M159.3,220.4l-9.0,3.7M159.3,220.4L159.6,223.7L160.0,227.1M169.9,207.4L171.5,210.4L172.9,213.4M172.9,213.4l1.3,9.0M172.9,213.4L173.3,216.7L176.0,218.7L177.8,221.5M172.8,194.5L173.0,192.4L174.8,191.3M174.8,191.3l3.1,-4.0M174.8,191.3L176.0,189.5L176.6,187.5L177.0,185.4M174.2,206.9L176.0,209.1L178.6,210.2M178.6,210.2l3.5,6.4M178.6,210.2L181.4,210.4L184.1,211.2L186.9,211.0M161.5,206.6L157.9,207.5L154.6,209.3M154.6,209.3l-4.9,0.4M154.6,209.3L151.2,210.9L147.5,210.5L144.5,212.7M165.9,204.7L165.2,208.1L166.0,211.4M166.0,211.4l4.9,6.2M166.0,211.4L167.0,214.7L166.7,218.2L168.3,221.2M161.1,206.6L157.6,209.9L155.2,214.0L152.0,217.5L147.9,219.9L143.8,222.2M169.5,206.9L172.1,211.7L173.3,217.0M173.3,217.0l-2.9,6.1M173.3,217.0L173.2,222.5M173.2,222.5l-6.0,8.8M173.2,222.5L172.3,227.8L176.3,231.5M171.7,206.1L176.0,207.9L179.3,211.3M179.3,211.3l6.6,2.9M179.3,211.3L183.8,212.5M183.8,212.5l6.9,7.4M183.8,212.5L188.5,212.3L193.2,211.6M163.2,197.0L161.6,195.1L160.1,193.1L159.0,191.0M159.0,191.0l2.0,-9.5M159.0,191.0L157.7,188.9L155.9,187.2M169.1,198.4L170.3,195.2L172.3,192.4L172.3,189.0M172.3,189.0l4.0,-7.4M172.3,189.0L173.9,186.0L174.5,182.7M172.8,197.2L173.5,194.1L176.1,192.3M176.1,192.3l3.0,-5.6M176.1,192.3L177.4,189.3M177.4,189.3l9.3,-4.8M177.4,189.3L180.1,187.7L181.3,184.7M164.5,215.2L164.8,219.2L164.3,223.1M164.3,223.1l-6.2,6.7M164.3,223.1L163.5,227.1L162.1,230.8L161.9,234.8M158.2,209.9L155.5,213.4L152.4,216.6M152.4,216.6l-3.0,7.3M152.4,216.6L149.3,219.8L147.1,223.6L142.8,224.9M164.0,200.6L159.9,197.8L157.5,193.5M157.5,193.5l-1.3,-7.3M157.5,193.5L156.0,188.8M156.0,188.8l-5.1,-3.9M156.0,188.8L151.6,186.5L150.0,181.8M164.7,208.1L164.8,212.6L164.1,217.1M164.1,217.1l2.2,9.6M164.1,217.1L162.3,221.3M162.3,221.3l-5.1,4.3M162.3,221.3L161.3,225.7L158.9,229.7M156.7,206.1L155.1,206.5L153.4,206.4L151.8,206.8L150.1,206.7L148.7,207.5M170.1,210.2L172.4,214.2L172.6,218.8L172.1,223.4L174.0,227.6L174.7,232.1M166.1,202.7L165.1,197.9L163.8,193.2L160.9,189.3L157.2,186.1L157.0,181.2M157.9,210.8L156.5,211.1L155.4,212.0L154.0,212.6L152.7,213.2L152.0,214.4M166.3,204.1L163.6,207.7L161.2,211.4M161.2,211.4l-1.9,10.7M161.2,211.4L160.2,215.6L156.6,218.3L156.0,222.7M156.8,202.0L154.5,201.2L152.2,200.4M152.2,200.4l-4.3,-4.6M152.2,200.4L150.5,198.6L148.6,197.1L147.0,195.2M178.1,199.1L179.6,197.7L181.6,197.8M181.6,197.8l6.9,-3.8M181.6,197.8L183.5,197.2L185.4,197.1L187.4,197.2M175.7,196.6L178.0,195.2L179.6,193.0M179.6,193.0l9.9,-4.9M179.6,193.0L181.3,190.9M181.3,190.9l2.4,-7.6M181.3,190.9L183.2,188.9L184.0,186.3M169.4,204.9L174.6,207.5L178.2,212.0M178.2,212.0l9.5,3.9M178.2,212.0L180.8,217.2L183.2,222.5L188.5,224.8M166.7,195.3L167.8,193.7L167.6,191.7M167.6,191.7l-4.8,-8.8M167.6,191.7L168.0,189.8L167.6,187.9L168.7,186.3M164.7,204.4L161.2,204.0L158.2,202.2M158.2,202.2l-6.7,0.3M158.2,202.2L154.7,202.7M154.7,202.7l-6.1,4.9M154.7,202.7L151.3,203.7L147.8,203.4M174.5,210.8L176.3,213.1L179.0,213.8L181.5,215.2L184.0,216.5L186.8,217.0M168.3,195.9L171.5,192.6L171.2,188.0M171.2,188.0l-6.3,-8.9M171.2,188.0L171.1,183.4L173.1,179.3L173.1,174.6M162.1,202.6L157.0,203.8L152.1,202.5M152.1,202.5l-9.9,3.4M152.1,202.5L147.6,199.8L143.4,196.9L139.1,194.1M167.1,203.8L170.6,201.9L174.6,201.4M174.6,201.4l6.7,-4.0M174.6,201.4L178.0,199.3L181.1,196.6L183.7,193.6M169.9,199.2L173.7,196.9L177.1,194.2M177.1,194.2l9.3,-2.2M177.1,194.2L180.2,191.0L181.6,186.8L185.6,185.1M161.1,201.9L156.7,201.3L152.4,202.6L148.5,200.5M148.5,200.5l-5.8,-6.4M148.5,200.5L144.3,201.8L139.9,202.7M173.1,204.9L177.5,205.8L182.0,206.0L186.3,207.0L190.8,206.8L194.8,204.8M168.2,208.7L169.1,212.1L168.5,215.5M168.5,215.5l-5.5,7.7M168.5,215.5L169.8,218.8L169.6,222.2L170.6,225.6M173.1,210.0L174.6,212.3L175.8,214.8L177.4,217.0L178.4,219.7L179.6,222.2M166.9,198.8L165.2,195.7L164.1,192.3L164.0,188.7L163.8,185.2L163.0,181.8M170.7,198.0L172.0,195.9L173.9,194.3M173.9,194.3l6.6,-2.5M173.9,194.3L176.2,193.3M176.2,193.3l5.1,-4.1M176.2,193.3L176.7,190.9L177.8,188.7M166.2,202.8L166.7,199.4L165.7,196.0L166.2,192.6L166.3,189.1L164.4,186.1M173.3,203.0L178.0,202.2L182.4,204.3M182.4,204.3l4.6,5.0M182.4,204.3L187.1,203.8L191.5,201.8L196.3,201.6M166.1,205.0L164.1,207.7L161.6,209.9L159.1,212.2L157.3,215.0L154.8,217.3M167.6,207.6L168.8,212.7L167.7,217.7L170.0,222.3L171.8,227.1L175.1,231.1M171.6,192.7L172.2,189.6L172.7,186.4L173.4,183.3M173.4,183.3l-2.3,-7.5M173.4,183.3L174.1,180.2L175.6,177.4M167.9,204.7L170.1,207.7L171.6,211.2L172.8,214.7M172.8,214.7l-2.9,8.6M172.8,214.7L172.8,218.4L174.3,221.9M169.2,198.7L171.5,197.3L172.6,194.8M172.6,194.8l-1.5,-5.9M172.6,194.8L173.0,192.1L174.4,189.8L174.2,187.1M175.3,196.8L178.3,193.7L180.3,189.9L181.2,185.7L181.9,181.4L185.9,179.7M166.4,203.1L164.4,199.2L161.4,195.8M161.4,195.8l-10.0,-2.6M161.4,195.8L157.8,193.3L156.5,189.0L155.3,184.7M158.7,207.9L156.3,210.2L154.0,212.6M154.0,212.6l-4.2,8.6M154.0,212.6L152.3,215.4M152.3,215.4l-8.9,4.6M152.3,215.4L150.4,218.2L148.6,221.0M167.7,195.1L167.5,190.6L166.4,186.3M166.4,186.3l0.9,-8.7M166.4,186.3L167.0,181.9L169.5,178.2L168.5,173.9M165.7,192.8L164.8,191.0L163.8,189.4L164.5,187.6M164.5,187.6l3.6,-3.3M164.5,187.6L163.7,185.8L164.2,184.0M168.7,202.8L171.9,202.4L175.0,203.2M175.0,203.2l6.0,6.0M175.0,203.2L178.1,202.8M178.1,202.8l5.7,-4.9M178.1,202.8L180.9,204.3L184.1,203.8M165.4,198.3L162.0,194.4L161.1,189.3L158.0,185.2M158.0,185.2l-9.1,-4.4M158.0,185.2L155.3,180.8L153.4,176.0M170.3,199.9L170.7,197.4L170.9,194.9L172.5,192.9L173.8,190.7L173.6,188.2M165.8,201.9L161.7,197.9L160.6,192.4M160.6,192.4l-3.6,-4.9M160.6,192.4L157.5,187.6M157.5,187.6l-7.4,-5.5M157.5,187.6L152.6,184.6L151.9,179.0M160.4,211.3L160.0,213.1L158.9,214.6L157.7,216.0L156.1,216.8L155.5,218.6M167.5,199.7L167.7,194.9L170.1,190.7L171.9,186.2L174.7,182.2L175.9,177.5M165.3,197.4L166.2,195.2L167.5,193.2M167.5,193.2l6.4,-5.2M167.5,193.2L166.8,191.0L167.0,188.7L166.9,186.3M166.2,198.2L166.5,194.9L164.6,192.1M164.6,192.1l-7.2,-4.1M164.6,192.1L165.8,189.0L167.1,185.9L166.5,182.7M161.5,199.8L157.5,196.9L155.6,192.3M155.6,192.3l-5.8,-5.8M155.6,192.3L154.3,187.4M154.3,187.4l3.4,-10.0M154.3,187.4L150.1,184.7L145.7,182.5M158.8,202.3L154.2,203.5L149.6,202.5M149.6,202.5l-7.1,2.1M149.6,202.5L145.0,203.6M145.0,203.6l-6.4,-1.0M145.0,203.6L140.4,204.2L136.2,206.3M160.8,203.5L155.8,203.5L150.8,203.9M150.8,203.9l-8.4,-4.3M150.8,203.9L146.0,202.8M146.0,202.8l-6.6,-5.9M146.0,202.8L141.3,204.6L136.4,205.4M170.3,207.6L171.3,212.5L172.2,217.4M172.2,217.4l5.2,6.8M172.2,217.4L173.8,222.2L174.1,227.2L178.0,230.4M162.4,200.0L161.4,195.6L158.6,192.0L155.5,188.6L151.4,186.5L150.7,182.0" fill="none" stroke="#1e1e1e" stroke-width="0.9" stroke-opacity="0.38" stroke-linecap="round" stroke-linejoin="round"/>
<circle cx="222.0" cy="232.0" r="30.7" fill="url(#pgA)"/>
<path d="M214.1,252.7l-0.3,4.5M230.6,211.4l3.6,-5.0M232.6,233.2l4.9,3.2M211.2,254.5l-3.8,4.4M210.5,234.2l-5.6,0.8M222.8,208.5l2.6,-5.2M204.4,208.9l-0.3,-5.4M240.3,235.4l2.8,1.8M219.6,225.7l-2.1,-3.5M207.6,221.4l-4.5,-5.3M215.9,218.8l-3.4,-6.0M245.0,231.4l6.8,-0.7M242.7,217.6l1.7,-3.2M222.9,216.7l2.7,-4.5M244.3,234.9l2.5,-1.6M231.2,246.2l6.0,2.4M203.1,226.2l-3.2,-0.6M235.4,238.1l5.0,1.0M225.4,224.1l3.8,-2.6M203.6,215.7l-1.6,-6.7M226.0,255.7l-1.2,3.3M210.4,250.3l-1.8,5.7M230.5,236.4l4.5,0.3M197.9,237.4l-4.7,-2.0M232.1,240.3l6.3,1.1M239.3,251.0l1.4,4.9M209.6,246.7l-3.6,4.2M200.6,230.3l-6.0,-3.5M209.5,235.9l-5.4,-0.0M206.1,236.6l-4.5,4.9M210.7,255.6l-1.3,5.5M237.2,257.7l2.3,6.5M213.4,234.1l-5.4,1.2M207.5,246.2l-3.9,1.1M204.4,255.0l-2.7,4.8M224.8,240.4l1.3,4.0M203.1,239.2l-5.0,-0.5M221.1,260.4l-1.1,3.4M219.2,260.9l-1.8,4.1M231.8,246.4l3.2,1.2M232.0,229.4l5.4,-0.5M221.8,203.9l-1.7,-6.4M209.4,231.1l-5.7,2.3M219.1,207.4l1.1,-5.9M249.7,224.3l3.7,-0.6M227.2,214.6l1.1,-2.7M222.2,206.3l-2.6,-5.5M231.1,248.0l1.5,6.5M230.9,215.4l2.2,-1.8M205.1,218.5l-1.3,-3.4M236.9,207.3l2.9,-5.5M220.6,256.2l1.0,3.0M245.2,246.9l3.7,2.3M241.2,237.7l2.8,0.6M211.3,222.2l-3.2,-3.1M217.3,205.9l-3.0,-4.2M230.3,211.9l-0.9,-3.3M208.9,231.1l-5.0,-1.7M219.5,256.1l1.2,5.9M246.7,234.5l6.4,-2.7M204.5,212.3l-1.2,-4.7M228.3,235.7l3.7,5.0M218.3,224.8l-1.1,-6.7M210.5,233.9l-3.8,3.7M232.4,246.2l1.3,6.2M225.0,258.7l1.8,3.1M222.0,221.6l-2.0,-5.9M212.5,228.2l-3.5,-0.8M213.9,214.9l1.0,-4.0M239.9,249.2l2.6,0.4M227.7,247.9l3.8,3.3M229.8,249.4l0.7,3.7M225.0,256.0l1.6,5.8M242.2,248.8l3.8,3.0M242.9,232.2l4.9,3.0M245.2,228.1l2.5,-2.1M205.7,229.5l-3.8,0.5M233.3,244.2l5.0,3.1M210.5,240.8l-3.2,2.0M213.8,220.6l-2.8,-4.0M237.0,246.0l2.1,4.7M212.0,243.6l-2.8,2.2M196.5,225.1l-5.4,-0.7M201.0,233.1l-5.9,-0.2M202.0,245.1l-1.7,2.7M232.1,257.7l-0.3,3.2M235.6,225.8l2.2,-2.4M205.1,227.6l-2.3,-1.1M217.3,233.8l-3.1,4.8M240.6,224.3l5.7,-1.5M213.8,226.6l-3.1,-5.0M237.5,239.8l2.6,4.2M220.5,250.6l1.3,5.5M241.3,229.8l3.9,-2.5M237.7,241.8l5.2,0.8M215.0,235.6l-5.9,3.6M213.8,207.0l-1.0,-3.7M233.3,206.3l5.2,-4.5M242.9,222.6l4.7,-2.1M195.6,230.6l-3.9,-1.9M210.6,240.8l-3.6,5.2M249.1,230.9l6.6,1.4M247.6,218.6l2.0,-4.1M212.7,247.9l0.2,2.6M199.0,220.5l-2.5,-5.8M216.7,256.0l-1.5,3.7M220.0,250.5l-1.7,2.8M242.7,228.5l3.9,-1.9M215.4,243.8l-2.0,1.5M218.3,209.7l-2.6,-6.3M241.0,237.2l3.2,1.3M215.5,243.3l-2.5,5.3M230.5,219.9l3.1,-3.9M250.8,224.1l5.6,-3.0M233.5,249.9l2.3,1.7M229.7,217.3l2.4,-1.0M235.7,242.5l3.4,3.5M205.3,240.0l-3.5,2.0M206.3,214.4l-2.0,-5.1M222.0,206.6l-0.7,-5.8M234.0,232.9l6.8,0.9" fill="none" stroke="#1e1e1e" stroke-width="0.8" stroke-opacity="0.23" stroke-linecap="round"/>
<path d="M228.1,227.6L230.8,226.6L233.3,225.1L234.9,222.7M234.9,222.7l1.2,-8.1M234.9,222.7L237.5,221.5L238.6,218.9M215.1,225.5L213.6,224.7L212.1,224.0L210.5,223.8M210.5,223.8l-8.9,3.4M210.5,223.8L209.2,222.9L207.6,222.6M214.8,234.3L212.5,236.3L209.5,235.9M209.5,235.9l-9.2,4.6M209.5,235.9L206.5,236.2M206.5,236.2l-7.8,-4.5M206.5,236.2L204.0,238.0L201.0,238.3M228.0,229.0L230.7,228.2L232.8,226.3M232.8,226.3l10.3,-0.6M232.8,226.3L235.6,225.9L238.2,225.0L241.0,224.9M222.2,231.4L226.7,228.0L231.7,225.8L237.3,225.8L242.3,223.4L247.8,224.0M225.9,232.7L229.5,234.9L232.3,238.1M232.3,238.1l5.5,1.9M232.3,238.1L234.8,241.6M234.8,241.6l7.0,2.7M234.8,241.6L239.0,241.9L242.7,244.0M226.9,234.4L231.3,236.7L236.4,236.8L239.5,240.8L242.8,244.5L247.7,245.9M221.2,228.6L222.7,224.1L223.6,219.5M223.6,219.5l-2.3,-5.7M223.6,219.5L221.6,215.3L223.4,210.9L226.3,207.2M218.3,235.1L213.8,237.3L211.5,241.9M211.5,241.9l-0.7,6.2M211.5,241.9L207.6,245.0M207.6,245.0l-4.0,9.4M207.6,245.0L203.6,248.1L198.7,249.2M227.2,238.4L230.1,239.7L233.0,241.0M233.0,241.0l5.6,-1.4M233.0,241.0L235.9,242.3M235.9,242.3l6.6,-1.5M235.9,242.3L237.1,245.2L239.7,247.1M224.5,231.4L228.5,229.2L233.0,228.1L237.4,226.7L242.0,226.6L246.6,226.7M212.1,225.0L210.3,222.8L208.2,220.9L205.5,220.5M205.5,220.5l-9.7,4.4M205.5,220.5L202.8,219.8L200.8,217.8M222.8,235.1L223.7,238.6L225.8,241.6L228.7,243.7M228.7,243.7l5.8,0.8M228.7,243.7L231.8,245.6L233.4,248.9M218.5,233.0L214.7,236.2L209.9,236.9M209.9,236.9l-8.0,4.7M209.9,236.9L205.4,239.0M205.4,239.0l-5.2,0.5M205.4,239.0L200.7,240.2L195.8,239.9M225.9,239.7L226.0,244.2L228.9,247.7L228.7,252.2L229.9,256.6L232.8,260.0M228.7,231.5L232.9,229.9L237.2,228.5L241.7,228.3L246.0,226.7L250.2,228.4M230.7,226.7L233.6,224.3L235.9,221.5L237.9,218.4M237.9,218.4l4.6,-2.0M237.9,218.4L240.7,215.9L243.8,213.9M220.8,230.9L217.1,226.5L211.8,224.2L207.8,220.0L203.5,216.3L198.6,213.1M218.9,228.0L216.0,225.8L214.4,222.6L213.6,219.0L210.9,216.6L208.7,213.8M230.3,231.0L232.2,230.3L233.9,229.0M233.9,229.0l2.1,-4.8M233.9,229.0L236.0,229.1M236.0,229.1l6.0,-1.7M236.0,229.1L237.8,228.0L239.4,226.7M231.7,232.9L234.3,234.1L236.5,235.8M236.5,235.8l9.5,1.0M236.5,235.8L238.6,237.8L241.4,238.5L243.9,239.8M219.7,239.7L218.7,242.5L218.9,245.5M218.9,245.5l-1.5,5.7M218.9,245.5L218.5,248.4M218.5,248.4l-5.7,6.6M218.5,248.4L216.6,250.6L214.8,253.0M217.1,232.2L212.9,234.6L208.2,235.3L204.6,238.5L199.8,238.7L195.2,239.8M227.1,232.5L230.2,234.8L232.9,237.5L235.7,240.1L239.4,241.0L241.7,244.1M216.5,230.3L213.2,231.2L209.9,230.3L206.4,230.4M206.4,230.4l-4.7,3.9M206.4,230.4L203.3,231.8L200.4,233.7M231.6,231.4L235.7,231.1L239.8,230.6L243.6,232.2M243.6,232.2l4.4,4.9M243.6,232.2L247.4,230.7L251.5,231.4M222.6,232.0L227.5,231.1L232.5,230.5L237.4,229.8L242.1,231.7L247.0,230.7M216.3,225.2L216.1,223.2L216.0,221.2M216.0,221.2l-4.6,-7.1M216.0,221.2L214.2,220.3L212.5,219.2L211.0,217.8M222.7,234.3L225.3,236.9L228.6,238.7L232.0,240.1M232.0,240.1l8.7,-2.5M232.0,240.1L234.9,242.3L238.5,243.2M220.8,235.1L220.1,237.9L220.5,240.6M220.5,240.6l-3.5,8.9M220.5,240.6L220.2,243.4L219.1,246.0L219.9,248.7M223.8,231.7L228.9,231.2L234.0,232.3L239.1,233.7M239.1,233.7l7.3,4.8M239.1,233.7L243.1,236.9L247.2,240.1M223.1,224.1L224.9,222.0L226.8,220.0L226.4,217.3L227.5,214.7L229.4,212.6M214.1,237.5L210.7,239.4L206.8,240.2M206.8,240.2l-6.4,-2.2M206.8,240.2L202.9,240.4L199.5,242.4L196.1,244.6M223.9,234.8L228.6,237.0L232.3,240.4M232.3,240.4l1.2,4.5M232.3,240.4L236.0,244.0L240.1,247.0L245.2,247.9M217.0,240.8L214.3,243.3L211.5,245.5M211.5,245.5l-7.7,1.8M211.5,245.5L208.2,247.1L204.9,248.5L201.6,249.9M212.0,225.1L211.2,224.0L210.0,223.6M210.0,223.6l-4.6,-4.0M210.0,223.6L208.9,222.8L207.6,222.6L206.4,222.0M233.4,233.9L235.6,235.5L238.3,235.3M238.3,235.3l9.7,4.4M238.3,235.3L240.9,234.6L243.4,233.6L246.1,233.9M222.3,231.9L226.6,229.6L231.4,229.2L236.2,228.4M236.2,228.4l5.1,-3.3M236.2,228.4L239.6,224.9L244.4,226.0M219.2,222.1L216.9,219.6L215.6,216.6L215.1,213.2L212.8,210.8L211.0,207.9M218.1,239.5L216.2,240.9L214.2,242.0L213.3,244.2L211.3,245.3L210.3,247.5M222.4,229.1L221.4,226.1L219.4,223.7M219.4,223.7l-7.4,-2.9M219.4,223.7L218.2,220.9M218.2,220.9l2.0,-8.7M218.2,220.9L217.4,217.9L215.9,215.1M221.8,223.2L222.5,221.6L221.6,220.1L222.0,218.4M222.0,218.4l-1.3,-5.0M222.0,218.4L221.7,216.6L221.0,215.0M223.2,230.7L227.7,229.4L232.4,228.7M232.4,228.7l6.4,-4.2M232.4,228.7L236.4,226.4L241.1,225.9L244.9,223.2M222.3,235.8L221.3,239.1L222.6,242.2L222.1,245.6L223.7,248.6L225.6,251.4M224.0,233.0L226.8,235.2L229.4,237.8M229.4,237.8l2.6,6.6M229.4,237.8L232.8,239.1M232.8,239.1l6.3,-0.4M232.8,239.1L235.6,241.3L239.2,241.8M217.8,230.0L215.4,230.3L213.0,230.6M213.0,230.6l-6.5,-1.1M213.0,230.6L210.5,230.8L208.4,229.5L206.0,229.1M220.1,232.4L216.1,233.0L212.3,231.4L208.3,231.1L204.7,232.9L200.8,231.9M221.3,233.4L220.1,239.1L216.2,243.4M216.2,243.4l-4.4,1.5M216.2,243.4L211.4,246.8L207.2,250.9L203.5,255.4M212.1,230.2L209.1,227.9L205.5,226.9M205.5,226.9l-5.0,0.9M205.5,226.9L201.7,226.6M201.7,226.6l-6.2,2.1M201.7,226.6L198.1,225.6L194.3,225.0M227.0,235.1L230.0,235.2L233.0,235.8M233.0,235.8l4.1,-2.2M233.0,235.8L234.8,238.1L237.8,238.7L240.2,240.6M221.7,232.0L216.9,233.6L213.5,237.4L211.2,242.0M211.2,242.0l-5.9,5.9M211.2,242.0L209.0,246.6L205.8,250.5M229.2,231.6L232.2,229.7L235.5,228.1L238.4,226.1M238.4,226.1l3.4,-7.8M238.4,226.1L241.5,224.2L244.3,222.0M212.9,230.8L211.2,229.6L209.5,228.4M209.5,228.4l-2.9,-4.7M209.5,228.4L207.5,228.9L205.8,227.7L203.7,227.3M221.4,240.2L221.5,244.4L223.0,248.3L225.5,251.6L227.8,255.1L227.4,259.3M223.5,228.1L222.7,223.4L221.0,218.9M221.0,218.9l-6.9,-5.4M221.0,218.9L221.5,214.2M221.5,214.2l-1.2,-4.8M221.5,214.2L219.8,209.7L220.8,205.1M216.0,228.6L212.5,226.1L210.4,222.4L208.1,218.8L206.6,214.8L203.7,211.7M224.1,231.7L227.1,232.1L230.1,232.5L232.8,234.0L235.7,235.0L238.0,237.1M226.3,234.1L229.6,235.4L231.5,238.4L234.6,240.1M234.6,240.1l2.7,4.6M234.6,240.1L237.9,241.1L241.4,241.7M222.3,237.0L225.0,241.2L223.8,246.1M223.8,246.1l3.4,7.2M223.8,246.1L224.2,251.1L227.0,255.2L230.2,259.1M218.6,233.1L213.7,232.1L209.0,233.9L204.1,234.5M204.1,234.5l-5.9,-3.4M204.1,234.5L199.3,236.0L194.3,236.4" fill="none" stroke="#1e1e1e" stroke-width="0.9" stroke-opacity="0.38" stroke-linecap="round" stroke-linejoin="round"/>
<circle cx="294.3" cy="226.8" r="39.5" fill="url(#pgA)"/>
<path d="M302.7,261.0l0.8,3.2M262.9,231.8l-6.9,0.8M305.3,228.9l6.1,2.7M296.9,221.4l5.0,-4.3M269.3,241.7l-2.4,2.6M264.1,245.1l-3.3,4.3M258.0,238.4l-6.4,2.9M327.5,231.6l4.3,0.9M277.1,217.1l-4.4,-1.0M287.2,195.0l-4.5,-4.6M300.6,207.8l0.7,-2.7M298.5,241.5l1.0,5.1M286.9,244.1l-0.2,6.1M284.1,212.1l-5.4,-3.2M296.1,206.0l-0.7,-3.7M262.7,224.6l-6.3,-2.1M311.8,256.8l1.2,3.4M310.0,238.0l2.1,2.1M307.6,231.0l4.4,-1.2M266.2,228.1l-2.6,2.1M330.7,225.5l3.1,1.2M277.6,230.2l-2.8,2.8M318.4,251.0l5.9,1.7M288.2,241.5l-3.5,3.1M271.1,251.3l-2.5,1.3M263.7,205.7l-2.3,-4.4M311.8,234.6l2.7,1.9M261.3,224.3l-6.7,0.7M275.5,194.2l-1.0,-2.3M322.4,241.0l5.0,0.2M301.0,241.5l4.1,4.4M319.7,209.9l3.1,-5.8M267.3,247.1l-2.7,-0.1M309.5,238.9l4.4,4.4M324.0,206.4l4.1,-0.2M308.9,232.7l4.7,3.2M276.3,228.2l-2.7,1.1M269.5,232.4l-2.5,0.9M323.4,217.9l5.7,-1.2M301.5,257.3l-1.7,5.7M259.5,210.3l-4.1,-0.4M279.0,221.2l-3.4,-2.3M265.3,237.0l-3.2,2.9M311.7,210.9l4.9,-0.5M266.8,252.5l-4.6,1.3M280.3,200.8l-2.7,-5.3M278.7,260.7l-4.2,5.4M315.2,250.8l5.5,1.3M270.2,205.1l-1.9,-2.2M321.8,251.9l3.2,0.4M321.7,243.6l2.0,1.8M316.2,211.3l5.2,-1.7M291.5,248.5l-4.4,4.2M262.4,248.3l-3.1,2.9M278.1,245.6l-4.1,4.5M301.1,239.8l1.2,5.4M301.3,241.0l-0.4,6.9M301.9,257.4l2.1,5.2M276.4,211.9l-3.0,-0.3M318.4,221.2l3.0,-1.7M283.9,225.4l-4.6,-1.7M304.2,210.4l-0.5,-4.8M301.3,239.2l2.9,3.8M261.5,206.9l-4.4,-2.5M288.6,202.3l-1.1,-2.4M297.9,209.0l0.1,-5.6M317.9,236.5l3.3,0.6M283.8,190.2l1.5,-3.8M308.7,207.4l2.5,-3.0M312.2,201.6l1.8,-5.6M288.3,207.9l-3.8,-3.9M295.7,237.7l1.3,3.7M312.5,258.2l-0.7,4.5M299.9,218.4l4.4,-5.1M292.4,218.8l-0.7,-6.2M312.7,232.4l5.4,-0.3M328.0,213.0l4.9,-2.3M317.9,199.8l1.5,-4.2M297.8,194.9l-1.8,-5.7M299.1,237.9l0.4,5.9M316.7,223.2l3.7,-0.8M301.6,194.5l-1.6,-4.4M282.0,191.9l-1.8,-5.0M263.5,246.2l-1.0,2.8M316.4,258.0l2.1,3.1M259.9,222.7l-6.5,1.1M287.3,230.1l-5.2,-1.3M311.6,239.1l3.4,0.4M328.6,215.7l6.4,0.8M294.4,236.0l3.8,5.2M264.1,209.3l-1.7,-2.4M295.1,189.3l0.9,-3.4M308.0,260.3l2.1,1.8M319.1,231.7l2.9,-0.8M288.5,196.1l-3.0,-3.2M287.5,243.4l0.3,3.3M282.4,219.4l-4.1,-4.7M322.9,237.4l2.6,1.6M278.6,252.6l-4.5,2.0M312.1,259.6l0.3,4.5M274.6,236.2l-3.6,0.9M302.0,235.5l0.6,2.6M322.3,246.9l4.0,2.9M314.4,210.7l1.6,-4.6M316.8,230.8l2.0,1.7M268.8,220.6l-4.3,-3.5M268.5,223.7l-6.4,0.3M270.8,247.3l-5.0,1.6M301.1,253.6l2.2,2.8M319.2,201.6l1.4,-5.9M298.0,263.0l-0.8,4.2M286.3,221.0l-6.1,-0.7M276.2,210.4l-0.8,-3.6M326.2,229.6l2.4,2.1M266.8,251.9l-5.0,2.9M322.2,224.8l3.2,-0.7M310.6,239.3l2.0,6.5M326.9,227.1l3.3,2.5M320.0,251.6l3.5,6.1M266.8,224.0l-3.3,0.1M267.9,219.3l-6.0,0.4M300.8,198.3l5.2,-4.2M286.3,233.2l-3.7,5.9M315.6,212.7l2.7,-0.6M271.4,236.8l-6.2,0.9M271.1,207.5l-4.2,-0.2M303.1,195.2l-0.1,-5.0M314.9,236.3l6.4,1.1M269.8,226.7l-5.3,2.1M328.4,229.9l3.2,-1.3M303.3,232.3l3.4,0.4M285.0,211.0l0.5,-5.7M279.9,210.2l-0.7,-5.3M294.6,262.0l-0.1,4.0M262.9,222.1l-3.1,-0.8M308.1,212.8l5.3,-3.2M288.5,245.7l1.9,5.0M291.3,233.7l0.0,3.2M295.8,210.9l3.1,-3.1M271.8,217.2l-3.4,-4.7M266.5,205.0l-2.7,-3.1M311.9,239.6l1.3,5.2M309.9,213.2l1.6,-2.2M285.6,248.6l0.4,2.9M272.9,222.6l-4.2,-1.2M328.2,217.8l3.5,0.8M313.8,250.8l0.7,5.3M298.6,252.8l0.4,3.1M262.3,207.8l-2.7,-0.1M291.2,243.8l0.7,3.5M266.8,232.2l-6.7,2.1M301.6,200.2l4.7,-3.8M272.4,238.2l-4.3,0.3M327.1,214.6l4.1,-3.8M260.3,223.2l-4.7,-1.5M265.1,251.4l-3.3,2.2" fill="none" stroke="#1e1e1e" stroke-width="0.8" stroke-opacity="0.23" stroke-linecap="round"/>
<path d="M287.4,216.8L285.5,212.2L282.7,208.2L279.2,204.7L275.0,202.1L273.5,197.4M283.7,224.2L281.5,224.6L279.3,225.4M279.3,225.4l-8.3,7.8M279.3,225.4L277.1,224.8M277.1,224.8l-8.4,-7.9M277.1,224.8L274.8,225.0L272.8,226.1M302.8,222.6L307.5,220.1L312.9,220.2M312.9,220.2l5.5,2.2M312.9,220.2L318.2,221.4M318.2,221.4l9.5,-3.1M318.2,221.4L323.4,222.9L328.7,224.0M300.9,221.4L303.0,216.7L306.7,213.2L310.9,210.3M310.9,210.3l10.5,0.9M310.9,210.3L315.2,207.5L320.1,206.1M293.7,236.7L294.7,240.2L293.1,243.5M293.1,243.5l-2.1,13.5M293.1,243.5L294.8,246.7L293.2,250.0L294.3,253.5M283.8,225.8L281.4,227.0L279.0,228.1M279.0,228.1l-10.2,0.6M279.0,228.1L276.6,226.9L274.0,226.3L271.9,224.7M296.3,227.1L303.4,225.0L310.2,222.1M310.2,222.1l9.8,-0.0M310.2,222.1L317.5,220.9M317.5,220.9l5.7,-6.4M317.5,220.9L324.0,217.5L331.4,218.0M293.1,217.8L292.1,212.8L291.2,207.8L290.2,202.7L290.6,197.6L287.3,193.7M281.5,224.3L279.5,223.0L277.1,223.4L274.7,223.0M274.7,223.0l-9.0,-10.3M274.7,223.0L272.4,223.8L270.1,223.2M285.7,223.1L283.1,220.3L281.1,216.9L277.9,214.6M277.9,214.6l-7.9,-2.3M277.9,214.6L274.9,212.1L271.5,210.2M285.4,232.3L282.3,234.5L280.2,237.6M280.2,237.6l-11.3,7.3M280.2,237.6L276.5,238.5M276.5,238.5l-12.6,-3.4M276.5,238.5L272.7,238.7L269.0,239.4M307.6,220.9L309.4,221.0L311.2,220.5L313.0,220.8M313.0,220.8l5.0,4.6M313.0,220.8L314.9,221.0L316.7,220.5M297.3,219.7L297.5,215.8L299.8,212.8L301.1,209.1M301.1,209.1l8.8,-6.5M301.1,209.1L303.7,206.3L306.0,203.1M296.6,225.7L298.8,221.7L302.9,219.5L305.6,215.9M305.6,215.9l7.0,-3.1M305.6,215.9L307.3,211.7L309.7,207.8M296.0,225.3L297.6,219.8L302.2,216.4L307.5,214.2L311.8,210.3L315.1,205.7M296.3,222.8L295.7,218.0L297.5,213.6L296.8,208.8M296.8,208.8l-5.2,-10.1M296.8,208.8L297.5,204.0L298.3,199.3M293.8,224.6L295.2,220.7L295.0,216.6L293.8,212.7L293.1,208.6L292.9,204.5M292.3,232.1L289.0,234.6L287.3,238.5M287.3,238.5l-5.5,4.1M287.3,238.5L284.8,241.9M284.8,241.9l-8.1,3.6M284.8,241.9L283.8,245.9L280.2,248.0M303.5,224.6L307.3,224.4L310.9,223.4L314.8,223.3L318.5,224.0L322.3,224.1M291.0,219.3L287.8,214.8L283.5,211.4L281.2,206.4M281.2,206.4l-0.3,-7.7M281.2,206.4L279.5,201.2L276.6,196.5M282.1,231.7L277.5,231.2L273.4,233.2L268.8,233.2L264.2,232.6L260.1,234.7M297.0,234.5L298.3,240.1L300.3,245.4M300.3,245.4l-1.8,7.1M300.3,245.4L301.7,251.0L302.2,256.7L301.9,262.4M292.5,225.8L286.8,223.9L281.0,222.2L275.2,220.5M275.2,220.5l-5.1,-5.2M275.2,220.5L269.4,218.6L264.1,215.7M295.6,226.1L301.0,225.1L306.5,224.9L312.0,224.7L317.4,225.7L322.6,223.8M290.2,228.6L286.3,229.0L282.4,228.7L278.4,228.9M278.4,228.9l-11.2,6.8M278.4,228.9L274.5,228.7L270.6,228.8M294.9,226.8L300.2,226.4L305.6,226.0L310.8,227.3L315.5,229.9L320.6,231.3M294.7,227.5L299.3,233.9L305.5,238.7M305.5,238.7l6.9,10.1M305.5,238.7L313.0,241.0L320.9,241.7L325.1,248.3M288.6,233.8L287.3,238.0L283.8,240.6M283.8,240.6l-2.5,6.9M283.8,240.6L283.5,245.0L280.3,248.0L280.0,252.4M290.6,241.8L290.3,244.8L289.0,247.5L287.9,250.3L287.9,253.3L288.3,256.3M302.4,223.3L307.5,220.0L312.7,216.8L318.7,215.9M318.7,215.9l10.2,4.0M318.7,215.9L323.4,212.0L329.3,210.4M291.2,227.9L287.0,229.2L282.9,230.4L278.6,230.5L274.4,229.3L270.0,229.5M282.3,217.4L278.7,215.8L275.4,213.7M275.4,213.7l-4.9,-6.0M275.4,213.7L271.9,211.8L270.4,208.2L267.3,205.7M283.0,220.6L279.8,217.1L276.1,214.1L271.6,212.8L268.6,209.1L264.4,206.9M301.3,225.4L304.3,226.0L307.0,227.5M307.0,227.5l3.8,5.2M307.0,227.5L309.6,229.1L312.3,230.5L315.4,230.7M298.7,221.6L302.9,219.5L304.7,215.2L307.6,211.6M307.6,211.6l1.5,-6.2M307.6,211.6L311.2,208.7L313.7,204.8M283.5,222.0L280.2,222.3L277.5,220.5L275.3,218.1L272.7,216.1L270.0,214.2M298.9,224.0L303.7,219.7L310.0,218.5L315.0,214.4M315.0,214.4l2.1,-10.5M315.0,214.4L321.3,213.3L327.6,211.9M291.6,225.6L286.4,222.7L283.2,217.6M283.2,217.6l-12.4,-5.8M283.2,217.6L279.2,213.1L276.8,207.6L273.4,202.7M306.8,222.0L310.7,222.8L314.6,222.0L318.4,223.4L322.0,221.8L326.1,221.6M292.7,229.5L291.1,233.5L288.0,236.5L284.3,238.7M284.3,238.7l-6.7,-1.0M284.3,238.7L280.3,240.4L277.1,243.3M280.5,221.7L278.9,220.6L276.9,220.3M276.9,220.3l-6.7,3.6M276.9,220.3L275.4,219.0L273.4,219.0L271.4,219.5M305.4,230.7L309.7,232.8L314.5,232.8L319.3,232.9L323.5,235.3L328.3,235.4M294.5,214.2L295.4,209.7L295.4,205.2M295.4,205.2l3.6,-10.8M295.4,205.2L296.3,200.7M296.3,200.7l9.1,-7.8M296.3,200.7L294.7,196.4L293.7,192.0M295.9,220.5L297.9,216.6L301.0,213.6L302.9,209.7M302.9,209.7l-1.6,-13.4M302.9,209.7L303.1,205.4L302.3,201.1M290.2,239.9L289.5,243.9L286.6,246.8L285.5,250.7M285.5,250.7l-7.7,9.7M285.5,250.7L285.2,254.8L283.7,258.6M287.2,224.2L282.9,223.5L278.7,222.3M278.7,222.3l-6.3,2.7M278.7,222.3L275.0,220.1L270.7,220.0L266.5,219.0M293.0,211.2L292.5,209.0L293.1,206.8L294.0,204.8L293.6,202.6L293.5,200.3M297.6,226.1L302.7,223.0L306.6,218.5M306.6,218.5l5.9,-3.4M306.6,218.5L309.6,213.4M309.6,213.4l5.4,-4.2M309.6,213.4L314.6,210.1L319.4,206.7M294.1,229.8L291.5,234.3L289.1,238.8M289.1,238.8l-10.8,5.0M289.1,238.8L285.1,242.0L283.1,246.8L281.8,251.7M299.6,225.4L303.3,225.5L306.4,223.7L309.7,221.9M309.7,221.9l7.6,-7.9M309.7,221.9L313.3,222.0L316.9,222.6M295.7,221.2L296.5,216.6L295.0,212.1L295.3,207.4L293.1,203.2L293.8,198.5M301.5,224.8L304.4,225.0L306.5,223.1L309.4,223.6L311.8,222.1L314.0,220.2M285.4,226.7L282.2,226.4L279.3,227.7M279.3,227.7l-11.9,-2.0M279.3,227.7L276.2,226.8M276.2,226.8l-10.2,3.5M276.2,226.8L273.5,228.5L270.7,227.1M294.8,227.9L297.4,234.5L300.8,240.7M300.8,240.7l-0.1,12.9M300.8,240.7L303.3,247.4L305.7,254.0L304.5,261.0M297.2,224.8L299.7,221.6L302.5,218.6L305.9,216.4L308.5,213.2L311.3,210.3M295.2,226.4L301.5,224.1L308.1,223.5L314.7,222.7L321.3,224.0L327.4,226.7M288.6,231.4L284.2,232.9L279.9,234.7L277.6,238.8M277.6,238.8l-11.1,6.5M277.6,238.8L273.8,241.5L272.0,245.8M289.0,223.1L285.8,217.1L280.3,213.2M280.3,213.2l-10.4,-0.2M280.3,213.2L274.8,209.4L268.1,208.4L264.5,202.8M294.2,226.5L290.3,222.2L285.1,219.7L281.3,215.3L279.7,209.8L277.8,204.3M291.1,212.0L290.8,210.2L290.5,208.5M290.5,208.5l6.6,-12.0M290.5,208.5L291.1,206.9M291.1,206.9l7.1,-5.2M291.1,206.9L290.3,205.4L289.2,204.1M296.0,216.0L295.2,212.7L295.0,209.4M295.0,209.4l4.4,-7.8M295.0,209.4L294.6,206.1L294.3,202.7L294.9,199.4M284.5,233.5L281.7,234.6L279.0,236.1L275.9,236.6L273.8,238.8L270.9,240.0M292.8,227.3L287.0,230.6L283.1,236.1M283.1,236.1l-2.0,8.6M283.1,236.1L277.5,239.9L271.1,241.8L266.4,246.6M282.9,222.3L279.3,220.0L275.1,219.3L271.2,217.7M271.2,217.7l-9.6,2.6M271.2,217.7L267.4,215.9L263.7,213.7M286.5,228.0L281.6,225.7L276.3,226.0M276.3,226.0l-7.6,4.3M276.3,226.0L270.9,226.3L265.6,225.2L260.3,224.6M300.4,222.2L303.0,218.7L304.5,214.6L308.5,212.8L311.9,210.0L312.8,205.7M282.5,216.9L281.2,215.7L280.6,214.0L279.7,212.4L278.0,212.0L276.7,210.8M289.2,237.5L286.3,239.2L285.3,242.4L283.2,245.0M283.2,245.0l-9.4,5.8M283.2,245.0L280.5,247.1L278.8,250.0M294.0,224.8L290.6,219.5L285.6,215.7L282.0,210.4L277.7,205.7L275.9,199.7M298.8,236.8L300.8,240.7L304.1,243.4M304.1,243.4l8.5,1.2M304.1,243.4L307.3,246.2M307.3,246.2l10.2,0.3M307.3,246.2L311.2,248.2L313.0,252.1M299.3,230.6L301.3,234.9L304.5,238.4M304.5,238.4l4.7,11.5M304.5,238.4L306.8,242.5L307.5,247.1L307.6,251.8M296.3,226.0L300.4,225.6L304.5,226.6M304.5,226.6l8.7,9.1M304.5,226.6L308.1,224.5L311.8,222.5L315.8,221.4M303.6,219.0L306.8,216.4L309.9,213.7L313.9,212.8M313.9,212.8l6.2,-6.0M313.9,212.8L317.3,210.5L320.8,208.3M299.0,220.7L304.3,218.8L309.8,217.7L315.5,217.6L319.3,213.5L322.7,209.0M292.8,239.9L293.8,242.9L293.1,246.0M293.1,246.0l4.0,11.0M293.1,246.0L292.6,249.2M292.6,249.2l1.6,7.3M292.6,249.2L291.7,252.2L292.4,255.3M283.7,221.5L280.2,220.1L277.1,218.2M277.1,218.2l-10.4,1.0M277.1,218.2L274.2,215.9M274.2,215.9l-7.3,-1.1M274.2,215.9L271.3,213.6L267.6,213.7M290.9,218.9L291.4,215.6L290.7,212.2L289.0,209.3M289.0,209.3l-9.8,-6.2M289.0,209.3L287.5,206.2L287.9,202.8M286.8,223.3L282.2,221.3L277.3,220.1M277.3,220.1l-6.2,-4.1M277.3,220.1L272.2,219.7M272.2,219.7l-8.4,3.6M272.2,219.7L267.9,217.2L263.9,214.0" fill="none" stroke="#1e1e1e" stroke-width="0.9" stroke-opacity="0.38" stroke-linecap="round" stroke-linejoin="round"/>
<circle cx="360.0" cy="251.0" r="31.2" fill="url(#pgA)"/>
<path d="M384.7,247.9l2.6,-0.8M388.0,255.4l6.2,1.6M348.7,232.2l-4.8,-1.7M373.2,247.0l2.7,-2.8M364.0,255.6l5.5,3.3M370.1,225.9l2.2,-1.3M358.9,264.1l-0.3,4.6M382.1,252.3l4.2,1.8M363.1,221.4l-2.6,-6.2M350.0,265.0l-2.2,2.8M352.9,224.5l1.3,-3.6M352.5,248.9l-4.0,-0.4M381.3,245.6l4.1,-0.7M366.1,265.7l0.7,3.1M352.4,228.6l0.4,-2.7M340.5,272.9l-6.0,1.5M375.4,272.2l3.5,1.8M331.1,255.3l-3.2,1.8M348.0,269.1l-4.9,2.9M386.6,248.7l6.0,1.5M370.7,261.4l3.3,3.1M342.3,265.3l-1.5,2.4M381.3,268.8l1.4,5.0M373.6,239.3l3.1,-3.2M334.2,235.8l-5.0,-1.1M339.6,250.6l-5.0,-2.8M377.5,254.9l3.1,3.5M353.1,243.0l-1.0,-5.1M361.7,241.3l-2.0,-3.7M359.3,220.9l0.4,-4.9M354.1,238.3l0.4,-5.3M389.0,246.9l5.7,3.4M345.4,264.4l-4.5,2.0M363.6,280.0l2.4,2.3M370.3,222.8l0.2,-5.7M359.3,267.3l4.2,5.5M378.2,244.7l3.5,-4.9M364.5,257.6l-0.1,3.5M369.4,223.6l2.9,-4.1M371.3,233.9l0.5,-3.5M352.7,241.9l-6.2,-2.4M370.7,256.4l4.7,2.5M348.4,277.7l-3.7,3.4M349.1,225.5l-3.3,-4.3M344.7,231.4l-6.5,-2.0M351.3,255.9l-3.4,1.0M337.7,262.6l-2.9,0.4M334.4,239.6l-3.5,-2.5M380.5,234.0l3.9,-0.5M338.5,248.1l-3.0,0.2M364.9,267.5l2.3,1.9M337.1,265.8l-1.7,5.1M356.8,280.7l-2.1,2.1M366.8,247.1l4.2,-0.0M366.1,241.9l4.1,-2.2M351.3,250.3l-4.7,1.5M378.2,228.3l5.9,-1.6M334.8,257.0l-3.7,4.8M346.5,233.9l-4.8,-4.3M364.8,237.7l2.7,-6.0M355.4,279.4l1.8,5.8M353.7,235.9l-1.6,-5.7M388.6,256.3l3.3,-1.8M353.2,257.6l-4.7,3.5M370.9,263.5l3.4,0.7M357.3,273.9l-2.7,4.7M355.6,272.7l1.2,3.2M377.2,246.5l6.9,1.1M365.8,268.4l-0.4,3.0M345.7,269.5l-0.5,3.1M360.4,273.4l-1.4,3.5M338.7,269.3l-2.2,1.2M380.1,270.2l1.0,4.2M366.7,247.2l3.5,-0.1M329.8,248.9l-3.0,1.1M366.8,226.7l4.3,-3.1M335.7,267.5l-4.3,0.9M369.3,246.8l5.0,-4.2M384.8,261.3l4.1,2.0M381.2,231.1l2.8,-1.5M348.6,240.5l-3.7,-1.3M349.3,241.2l-0.9,-3.9M339.8,235.4l-1.4,-3.7M361.0,276.1l0.8,3.1M349.8,235.2l-2.6,-4.7M367.2,244.5l4.1,-4.7M342.8,240.3l-4.2,-4.9M334.7,265.0l-6.0,-0.4M338.1,244.6l-5.4,-1.0M376.0,266.2l3.6,1.4M350.1,242.2l-3.3,-3.1M366.8,225.9l3.4,-5.4M335.1,233.8l-4.3,-0.0M338.7,265.5l-4.0,4.0M357.6,236.9l-3.8,-3.7M354.6,255.2l-1.8,6.7M369.0,252.9l5.6,4.0M386.7,242.6l4.8,1.0M354.9,275.5l-3.1,4.0M359.7,222.2l-0.3,-5.4M348.0,274.3l-3.1,2.1M376.4,229.8l0.3,-5.0M360.6,261.9l-1.2,4.2M345.6,228.5l-0.5,-5.8M365.1,230.8l-0.2,-6.5M352.6,277.6l-5.0,3.7M365.8,276.7l1.5,5.0M373.2,269.7l3.7,5.8M366.9,226.7l0.9,-5.5M379.5,239.8l2.7,-2.4M368.0,248.6l5.9,-0.6M379.4,228.4l4.7,-1.6M363.1,270.6l-2.3,5.5M351.8,234.2l-2.1,-1.8M341.7,254.6l-5.8,-3.2M362.7,224.0l1.3,-6.0M372.5,262.0l0.7,2.5M371.8,224.4l5.2,-4.1M379.4,265.4l3.6,5.6M361.9,261.0l3.3,5.9M351.1,261.0l-3.8,5.2M344.1,239.6l-4.6,-4.7M348.9,261.3l-1.5,3.8" fill="none" stroke="#1e1e1e" stroke-width="0.8" stroke-opacity="0.23" stroke-linecap="round"/>
<path d="M356.4,243.7L354.5,240.9L351.6,239.2L348.9,237.0L346.1,235.2L343.5,233.1M360.3,246.3L360.7,242.9L361.5,239.6L362.9,236.5M362.9,236.5l4.1,-3.0M362.9,236.5L361.7,233.4L360.8,230.1M363.0,256.7L363.1,260.5L362.1,264.1M362.1,264.1l4.0,9.3M362.1,264.1L362.2,267.8M362.2,267.8l-4.5,9.0M362.2,267.8L364.3,270.9L364.4,274.6M362.8,249.5L366.5,248.9L370.0,249.8M370.0,249.8l5.3,5.9M370.0,249.8L373.6,248.8M373.6,248.8l6.9,-7.0M373.6,248.8L377.3,249.4L380.9,250.1M368.6,258.0L369.2,259.6L370.7,260.5L371.4,262.1M371.4,262.1l-1.1,4.9M371.4,262.1L371.8,263.7L373.4,264.4M348.6,253.5L345.0,253.9L341.5,254.0M341.5,254.0l-5.7,2.9M341.5,254.0L338.3,255.6L335.4,257.7L331.9,257.6M371.1,251.3L374.9,252.4L378.9,251.8L382.7,250.4M382.7,250.4l6.7,1.5M382.7,250.4L386.4,248.6L389.5,246.1M360.9,247.0L360.7,243.7L360.4,240.4M360.4,240.4l-5.2,-8.1M360.4,240.4L361.9,237.5L363.4,234.5L362.4,231.4M358.8,258.8L358.0,262.5L357.9,266.4M357.9,266.4l-1.8,4.9M357.9,266.4L357.3,270.2M357.3,270.2l2.2,10.1M357.3,270.2L356.1,273.8L356.1,277.6M361.2,249.9L365.7,249.1L369.6,246.6L374.2,246.8M374.2,246.8l8.3,-4.3M374.2,246.8L378.8,247.5L383.4,247.6M353.0,246.7L348.5,246.2L345.3,243.0L341.3,240.9M341.3,240.9l-7.8,-0.5M341.3,240.9L338.8,237.1L336.0,233.5M356.9,261.2L356.4,264.9L353.8,267.5L352.5,270.9M352.5,270.9l1.6,9.5M352.5,270.9L351.6,274.5L352.1,278.2M359.6,239.2L361.3,236.2L360.9,232.7M360.9,232.7l3.0,-9.5M360.9,232.7L362.9,229.9M362.9,229.9l1.5,-6.4M362.9,229.9L364.3,226.8L363.9,223.3M366.0,253.9L369.1,254.5L371.5,256.5M371.5,256.5l4.1,9.1M371.5,256.5L373.4,258.9L376.5,259.0L379.6,259.3M369.7,250.7L371.5,251.6L373.3,252.3M373.3,252.3l3.3,5.1M373.3,252.3L375.2,252.7M375.2,252.7l8.5,-4.2M375.2,252.7L377.1,252.2L379.0,251.7M367.8,256.1L369.4,256.2L370.2,257.5L371.5,258.5L372.7,259.5L373.5,260.9M356.7,253.7L354.0,256.4L352.2,259.8M352.2,259.8l0.9,7.9M352.2,259.8L349.4,262.4L347.6,265.8L347.0,269.5M361.7,249.2L364.9,248.4L367.1,246.0L369.8,244.1M369.8,244.1l7.4,-1.1M369.8,244.1L372.2,242.0L373.7,239.1M349.6,244.8L348.6,243.6L347.7,242.3L346.5,241.4M346.5,241.4l-4.8,-1.1M346.5,241.4L345.7,240.0L345.2,238.6M352.7,257.6L350.5,261.3L349.4,265.4M349.4,265.4l-8.8,6.4M349.4,265.4L348.2,269.5M348.2,269.5l-5.4,7.4M348.2,269.5L348.3,273.7L345.4,276.9M356.4,254.9L352.6,258.5L350.2,263.2L348.8,268.3L347.2,273.3L346.4,278.5M359.0,259.7L359.2,261.6L359.0,263.5L358.6,265.4M358.6,265.4l-5.9,8.0M358.6,265.4L358.1,267.2L357.6,269.0M365.1,256.8L368.4,259.3L371.6,262.1L375.7,263.0M375.7,263.0l6.4,-1.0M375.7,263.0L378.0,266.5L381.8,268.2M353.0,247.1L351.2,244.5L349.9,241.5L348.5,238.7L347.2,235.8L346.3,232.7M358.4,248.1L354.6,244.1L349.7,241.4L344.3,240.2L341.6,235.3L339.2,230.3M366.5,258.9L368.3,260.0L370.4,260.7L372.1,262.0L373.8,263.2L375.9,264.0M361.0,247.6L360.4,242.6L359.1,237.7M359.1,237.7l1.6,-6.0M359.1,237.7L360.3,232.7L362.8,228.3L364.8,223.6M364.8,260.4L365.1,264.6L365.6,268.8M365.6,268.8l-1.7,4.5M365.6,268.8L367.5,272.6L366.8,276.8L365.6,280.9M360.8,263.4L359.9,266.3L359.9,269.3L359.2,272.2M359.2,272.2l2.1,5.1M359.2,272.2L357.4,274.7L356.0,277.3M371.4,252.5L373.7,251.5L375.7,252.9L377.9,253.9L380.1,255.0L382.5,254.9M350.6,245.7L348.0,245.0L345.6,243.9L342.9,243.8M342.9,243.8l-4.3,2.0M342.9,243.8L340.4,243.0L337.8,243.2M362.8,248.6L366.8,245.6L370.1,241.9M370.1,241.9l1.4,-9.6M370.1,241.9L374.7,240.0L378.5,236.8L380.5,232.3M358.4,253.6L357.2,257.1L354.9,260.0L351.9,262.2L348.6,264.0L346.7,267.2M353.7,249.3L349.0,248.5L344.4,249.5L340.6,246.6M340.6,246.6l-1.7,-7.3M340.6,246.6L336.9,243.5L332.9,241.1M363.4,259.6L365.0,262.7L367.6,265.0L368.6,268.4L368.5,271.9L371.0,274.3M362.0,251.4L367.5,249.2L372.6,246.3M372.6,246.3l3.3,-6.7M372.6,246.3L378.5,245.3M378.5,245.3l9.0,4.0M378.5,245.3L384.4,244.8L388.9,240.9M358.2,241.5L358.0,238.7L357.7,236.0L358.1,233.4M358.1,233.4l-4.4,-8.8M358.1,233.4L358.3,230.6L359.1,228.1M364.7,250.9L367.1,250.1L369.6,250.6L371.8,251.8L374.3,251.9L376.7,251.0M355.2,240.6L355.3,237.6L354.1,234.7L354.7,231.7M354.7,231.7l4.1,-5.3M354.7,231.7L353.0,229.2L350.8,227.0M356.0,249.7L351.5,248.8L346.9,248.1L343.5,244.9L338.8,244.7L334.5,242.9M359.0,252.0L356.1,255.1L354.4,259.0M354.4,259.0l-0.6,5.2M354.4,259.0L350.8,261.3M350.8,261.3l-2.1,5.7M350.8,261.3L348.9,265.1L345.4,267.6M363.5,259.1L364.8,260.6L364.8,262.6M364.8,262.6l-5.3,7.6M364.8,262.6L365.0,264.6L365.7,266.4L367.1,267.8M362.3,248.9L365.7,245.9L369.8,244.3M369.8,244.3l4.2,-6.3M369.8,244.3L374.1,243.1L377.9,240.7L381.3,237.8M356.9,249.4L351.8,248.9L347.1,246.9L342.0,247.3M342.0,247.3l-7.9,4.9M342.0,247.3L336.9,247.9L333.0,244.7M358.9,251.9L356.4,255.9L353.7,259.8M353.7,259.8l-9.1,4.6M353.7,259.8L353.1,264.5L350.5,268.5L347.3,272.0M359.1,261.8L358.1,263.5L357.4,265.3L357.2,267.3M357.2,267.3l-3.1,6.5M357.2,267.3L356.0,268.8L354.7,270.2M356.9,258.3L354.3,260.8L351.5,263.0M351.5,263.0l-3.9,5.6M351.5,263.0L350.6,266.4M350.6,266.4l2.8,7.0M350.6,266.4L348.1,269.1L347.5,272.6M351.5,245.4L350.1,245.3L348.6,245.4M348.6,245.4l-5.6,4.5M348.6,245.4L347.6,244.4M347.6,244.4l-3.7,-7.8M347.6,244.4L346.4,243.5L345.4,242.5M355.7,260.3L356.2,263.7L354.7,266.7L353.3,269.8L353.7,273.1L352.4,276.2M355.9,248.7L353.9,244.9L349.7,243.7L346.5,240.7M346.5,240.7l-6.3,-2.9M346.5,240.7L342.2,240.4L338.9,237.6M354.6,247.3L351.0,245.5L346.9,245.2M346.9,245.2l-6.3,2.7M346.9,245.2L343.3,243.4L339.4,242.3L335.3,241.9M362.4,256.8L363.1,260.3L364.5,263.6M364.5,263.6l7.5,6.3M364.5,263.6L363.7,267.1L365.8,269.9L368.0,272.8M357.3,257.7L356.4,262.0L355.8,266.3M355.8,266.3l5.2,9.4M355.8,266.3L354.6,270.4L354.5,274.7L353.9,279.0M371.0,256.2L372.6,258.0L374.9,258.6M374.9,258.6l5.3,6.0M374.9,258.6L376.7,260.1M376.7,260.1l5.0,9.5M376.7,260.1L379.1,260.4L380.6,262.3M358.2,248.7L355.3,245.0L354.7,240.3M354.7,240.3l3.6,-6.6M354.7,240.3L353.5,235.7M353.5,235.7l-6.9,-7.6M353.5,235.7L349.7,232.8L347.4,228.7M366.2,241.8L368.1,238.1L371.8,236.3L372.8,232.3L375.8,229.4L378.1,226.0M358.4,252.1L355.5,255.2L351.4,256.0L347.1,256.2L343.0,256.9L338.7,256.7M361.1,263.1L362.3,265.7L363.8,268.0M363.8,268.0l1.3,6.9M363.8,268.0L365.2,270.4M365.2,270.4l5.5,2.1M365.2,270.4L364.5,273.1L366.0,275.5M360.1,251.3L362.3,255.3L365.5,258.4L366.8,262.7L368.3,266.9L372.1,269.3M367.8,241.3L369.0,238.4L371.0,236.0L372.2,233.2L374.2,230.8L376.6,228.8M365.0,244.0L366.6,241.2L368.3,238.5L369.7,235.6M369.7,235.6l-1.1,-6.9M369.7,235.6L371.8,233.1L372.8,230.1" fill="none" stroke="#1e1e1e" stroke-width="0.9" stroke-opacity="0.38" stroke-linecap="round" stroke-linejoin="round"/>
</g></g>
<text x="64" y="306.5" style="font-family:'Liberation Sans',sans-serif" font-size="13.5" fill="#fff" stroke="#222" stroke-width="2.2" paint-order="stroke" textLength="46.7" lengthAdjust="spacingAndGlyphs">200 nm</text>
<rect x="64" y="310.6" width="59.5" height="2.6" fill="#fff" stroke="#333" stroke-width="1"/>
<clipPath id="clipB"><rect x="433" y="7" width="310" height="310"/></clipPath>
<rect x="433" y="7" width="310" height="310" filter="url(#noiseB)"/>
<g clip-path="url(#clipB)"><g filter="url(#soft)">
<circle cx="504.5" cy="46.6" r="24.2" fill="url(#pgB)"/>
<path d="M491.8,30.3l-2.4,-2.4M523.6,42.9l6.1,-1.8M499.0,45.6l-4.6,1.1M515.9,32.0l4.1,-4.9M514.0,56.5l4.2,3.9M523.9,51.2l3.6,-0.4M515.1,34.1l1.0,-2.5M519.7,30.2l2.4,-1.1M510.0,57.7l-0.4,3.0M506.1,55.4l-0.7,3.3M496.2,68.4l-1.8,2.8M513.1,36.8l3.6,-0.5M517.8,51.6l4.2,-0.3M489.1,39.0l-3.1,-0.8M494.2,61.0l-2.7,6.3M522.6,48.3l5.1,4.6M519.3,44.7l5.2,-4.2M511.2,38.9l5.6,-3.9M497.0,35.7l0.0,-3.1M494.6,42.9l-2.7,0.4M501.9,50.3l-3.4,3.1M522.7,49.6l4.7,-1.9M514.3,47.4l4.7,-2.8M481.4,47.1l-2.6,2.2M509.7,27.8l-0.7,-4.6M499.1,45.2l-3.9,-2.7M506.6,67.4l-0.6,4.6M521.0,54.7l4.9,2.0M493.4,42.7l-4.1,1.4M490.7,28.4l-3.8,-5.2M484.8,45.5l-6.4,0.8M486.7,48.0l-3.1,0.8M495.9,40.2l-4.6,-3.8M492.5,57.2l-2.9,2.2M489.3,29.3l-4.0,-2.5M525.1,40.0l6.4,-0.2M490.3,62.3l-2.7,3.7M499.2,43.2l-4.8,-3.6M518.4,44.6l5.0,1.0M515.1,41.9l5.3,-0.8M508.0,56.8l4.5,4.8M499.7,31.5l-0.2,-6.2M508.4,59.0l-1.1,2.9M485.8,60.9l-0.9,3.7M487.4,58.2l-1.3,2.5M498.9,43.9l-5.4,-1.5M502.6,55.3l-1.1,3.8M503.2,66.3l-2.2,5.0M500.2,31.9l-3.2,-5.8M500.0,66.4l-3.5,4.0M499.1,25.4l1.6,-4.7M503.2,32.6l2.3,-4.3M488.7,34.4l-3.1,-1.4M513.8,62.8l3.4,5.0M491.0,52.6l-5.0,-1.2M510.6,63.0l0.0,4.2M523.7,40.9l3.4,0.6M493.0,27.0l-2.2,-1.5M494.1,40.5l-2.2,-1.2M525.5,55.9l3.0,3.7M512.2,27.0l2.5,-3.3M509.4,63.0l1.5,2.1M516.3,38.2l2.6,-0.9M491.5,52.0l-4.5,1.7M511.7,67.0l0.8,5.4M507.1,50.3l4.8,2.1M520.6,31.8l4.8,-1.3M494.8,30.7l-3.4,-3.2M500.0,54.6l-2.2,6.4M493.3,47.4l-2.1,1.8M490.1,37.4l-5.7,-3.9M493.0,34.9l-0.8,-3.0M518.4,61.9l1.2,5.8M517.7,30.4l0.1,-2.9M518.7,52.8l1.8,2.7M502.7,35.0l-4.1,-4.9M490.6,43.4l-2.2,-1.8M495.5,54.9l-3.4,1.7M508.6,61.6l0.6,4.3M523.5,47.3l6.7,0.8M505.5,58.5l-0.9,3.0M490.2,55.7l-2.1,3.4M490.3,31.0l-4.6,-2.4M517.4,66.2l0.8,3.0M513.4,55.1l3.5,4.2M487.8,35.7l-2.5,-2.2M512.8,55.9l0.2,2.9M488.3,61.1l-4.4,1.0M502.8,23.8l0.8,-2.6M523.6,50.2l4.0,1.4M495.1,48.2l-4.2,1.9M518.4,59.0l3.4,2.8M525.3,38.1l3.1,-2.7M497.8,61.3l-5.5,3.2M509.6,37.5l5.3,-3.5" fill="none" stroke="#1a1a1a" stroke-width="0.8" stroke-opacity="0.27" stroke-linecap="round"/>
<path d="M504.4,46.7L501.8,50.0L498.3,52.4M498.3,52.4l-3.0,5.2M498.3,52.4L497.2,56.5L493.4,58.1L489.4,59.6M506.3,54.8L506.5,58.0L506.0,61.2M506.0,61.2l1.1,5.0M506.0,61.2L506.3,64.4L505.8,67.6L505.8,70.8M496.9,50.2L495.0,51.2L493.4,52.7L492.3,54.6L490.3,55.4L488.1,55.3M507.4,42.6L508.9,39.7L509.9,36.7L511.1,33.7L510.7,30.4L510.3,27.2M507.8,41.4L509.8,39.0L510.5,36.0L512.0,33.3L514.8,31.8L516.4,29.2M502.6,40.6L503.0,39.0L502.5,37.4L502.9,35.9M502.9,35.9l5.1,-4.9M502.9,35.9L502.2,34.4L501.4,33.0M505.5,50.0L507.1,53.8L507.7,57.9L510.3,61.1M510.3,61.1l1.8,7.1M510.3,61.1L510.5,65.2L509.5,69.2M507.3,48.6L511.0,50.2L514.9,50.7L518.8,50.7L522.0,53.1L525.1,55.6M503.9,43.9L503.5,40.5L502.1,37.4L502.8,34.1L502.4,30.7L502.8,27.3M509.7,45.4L512.0,44.3L513.7,42.4L516.2,42.8L518.7,42.9L521.2,43.5M508.0,47.7L510.8,49.0L514.0,48.9L517.1,49.1M517.1,49.1l6.5,5.0M517.1,49.1L520.0,50.3L522.6,52.1M503.4,44.8L501.1,43.0L499.0,40.8L497.1,38.5M497.1,38.5l-3.9,-1.3M497.1,38.5L494.3,37.8L491.9,36.0M506.5,39.9L507.8,38.6L507.6,36.7L507.5,34.8L508.3,33.1L508.2,31.2M502.8,47.2L499.5,48.5L496.0,48.4M496.0,48.4l-4.2,-1.7M496.0,48.4L492.5,47.6M492.5,47.6l-4.1,0.8M492.5,47.6L489.6,49.7L486.2,48.8M510.6,39.7L512.3,38.7L513.4,37.1M513.4,37.1l1.0,-7.3M513.4,37.1L514.3,35.3L515.3,33.6L515.6,31.7M507.7,50.3L510.3,52.8L513.8,54.1L517.5,54.5L520.8,56.0L524.1,57.8M505.0,37.8L503.5,35.3L502.0,32.9L502.1,30.1L500.4,27.8L499.1,25.3M508.9,44.8L512.7,44.5L516.2,43.2L519.8,41.9L523.6,41.8L527.2,42.7M496.3,51.4L494.6,51.5L493.0,52.0M493.0,52.0l-6.1,-1.9M493.0,52.0L491.5,52.7M491.5,52.7l-6.6,-1.3M491.5,52.7L489.9,53.4L488.4,54.0M504.6,40.8L504.2,39.2L504.8,37.7L505.1,36.1L505.9,34.6L506.4,33.0M502.3,52.0L501.5,53.3L500.8,54.6L500.1,55.9L499.0,56.9L498.6,58.3M500.8,44.8L498.3,43.4L496.0,41.6L493.8,39.7L492.0,37.5L489.3,36.5M501.1,40.4L501.1,38.4L501.3,36.3L501.4,34.3L500.8,32.3L500.2,30.4M508.7,51.4L511.2,52.7L512.8,55.1L514.6,57.3L516.2,59.6L518.3,61.5M504.0,43.9L505.1,40.7L503.9,37.5M503.9,37.5l-4.1,-3.0M503.9,37.5L502.6,34.3M502.6,34.3l0.7,-7.9M502.6,34.3L501.1,31.3L501.1,27.9M500.9,44.7L498.8,43.5L496.6,42.6M496.6,42.6l-3.2,-5.2M496.6,42.6L494.3,41.9L492.7,40.3L490.3,40.2M502.6,41.0L501.0,38.0L501.7,34.6L501.3,31.2L502.6,28.0L502.4,24.5M505.7,44.2L505.8,42.0L505.8,39.9M505.8,39.9l-2.0,-5.0M505.8,39.9L507.3,38.2M507.3,38.2l4.1,-1.1M507.3,38.2L507.5,36.0L508.5,34.1M496.8,43.8L494.2,42.7L491.5,41.6L489.5,39.6L487.1,38.1L484.3,37.7M504.4,47.2L502.6,51.6L498.7,54.4M498.7,54.4l-7.4,1.1M498.7,54.4L494.4,56.4L489.9,58.1L485.4,59.6M513.8,46.1L515.4,45.8L516.9,46.4L518.4,46.0L520.1,46.1L521.4,45.2M508.1,40.2L509.7,37.8L510.4,35.0M510.4,35.0l3.7,-3.1M510.4,35.0L512.9,33.6L514.9,31.5L516.4,29.1M504.2,48.0L501.5,50.9L500.5,54.7L500.6,58.7M500.6,58.7l-4.3,5.5M500.6,58.7L497.9,61.6L496.9,65.4M511.9,52.2L512.9,52.3L513.8,52.8L514.2,53.7L515.2,54.1L516.2,54.3M505.6,42.6L506.2,40.4L506.2,38.2L507.7,36.5L508.8,34.5L510.1,32.7M502.4,52.7L502.6,54.6L501.5,56.3M501.5,56.3l-7.7,2.3M501.5,56.3L502.1,58.2L502.5,60.1L503.3,61.9M502.3,44.5L499.9,42.1L498.0,39.3M498.0,39.3l-5.7,-2.6M498.0,39.3L497.0,36.1L494.3,34.1L493.2,30.9M506.9,47.7L509.7,47.8L512.1,49.3M512.1,49.3l3.2,3.8M512.1,49.3L514.8,49.8L517.5,50.6L520.1,51.7M503.5,41.3L501.4,39.2L500.7,36.2L499.5,33.5M499.5,33.5l0.5,-6.5M499.5,33.5L497.8,30.9L496.6,28.2M507.3,52.7L510.2,54.5L512.0,57.3M512.0,57.3l5.4,2.0M512.0,57.3L513.8,60.1M513.8,60.1l5.8,3.3M513.8,60.1L515.7,62.9L518.7,64.4M498.8,45.8L497.0,45.9L495.2,46.5L493.3,46.7L491.5,47.4L489.7,47.9M498.9,46.7L496.8,47.0L494.7,47.3L492.8,48.3L490.8,49.1L488.8,48.4M502.3,52.4L502.1,54.2L500.7,55.5L500.0,57.2M500.0,57.2l-2.7,2.8M500.0,57.2L498.6,58.5L498.8,60.3M502.6,48.2L501.8,50.6L499.5,51.6L497.1,52.1L494.6,52.5L492.1,52.5M503.1,48.8L501.5,50.2L500.0,51.8M500.0,51.8l-1.5,6.0M500.0,51.8L498.0,52.7L495.9,53.3L494.7,55.2M501.5,53.3L501.7,55.8L499.9,57.4L498.1,59.3M498.1,59.3l-5.3,0.7M498.1,59.3L496.3,61.0L496.5,63.5M502.3,43.9L501.6,41.8L499.8,40.4M499.8,40.4l-4.2,-0.7M499.8,40.4L499.5,38.2L497.5,37.3L497.1,35.1" fill="none" stroke="#1a1a1a" stroke-width="1.1" stroke-opacity="0.45" stroke-linecap="round" stroke-linejoin="round"/>
<circle cx="558.0" cy="36.0" r="28.9" fill="url(#pgB)"/>
<path d="M562.1,49.4l1.2,2.6M531.8,30.2l-4.8,2.3M568.8,60.6l1.8,2.2M580.4,46.4l4.5,1.2M542.0,23.2l-4.5,-2.8M552.9,27.4l0.3,-4.4M561.8,27.5l3.5,-2.0M536.6,23.7l-4.3,-0.7M579.9,36.5l3.7,-1.5M551.3,10.1l-0.3,-2.8M546.4,47.9l-2.9,3.5M534.7,32.2l-4.5,-1.9M578.2,41.5l4.1,5.4M541.8,32.4l-2.7,-1.6M556.4,21.4l-3.9,-4.2M564.3,51.9l2.2,4.8M575.5,26.8l4.5,-1.2M581.1,42.3l4.3,4.5M548.3,57.4l-1.2,5.6M544.2,39.6l-4.3,1.0M533.9,42.4l-4.6,4.6M533.9,44.7l-3.2,3.4M545.3,36.9l-5.1,1.4M566.2,29.7l1.3,-3.3M535.8,33.3l-3.5,1.0M553.6,28.3l-2.4,-4.7M560.8,54.6l3.0,5.0M569.6,36.9l5.0,-2.7M546.5,47.5l-1.2,4.4M534.8,31.1l-6.2,0.7M568.2,42.1l1.9,1.8M578.3,39.4l4.9,-0.5M538.0,29.6l-5.6,-4.1M552.3,59.1l-1.1,3.2M552.5,35.2l-5.3,-3.4M577.0,45.0l2.3,2.9M542.7,50.9l-5.3,0.6M563.2,15.5l2.0,-2.2M582.2,31.6l3.2,-0.1M583.1,42.1l6.8,1.5M535.9,44.2l-3.3,2.1M564.7,63.1l4.1,5.2M567.6,22.6l1.0,-3.2M546.6,13.3l-4.8,-4.7M533.2,23.9l-2.8,-0.3M581.5,29.6l2.7,0.8M576.5,17.8l3.2,-0.4M542.3,35.4l-2.1,1.4M558.0,62.9l4.3,5.2M558.3,10.2l1.6,-4.3M544.2,50.9l-3.0,3.4M561.7,63.8l-0.8,4.0M548.4,47.7l-2.3,3.5M550.5,48.4l-2.1,3.2M531.3,40.4l-5.3,3.6M568.3,46.6l2.9,6.2M565.7,43.6l2.9,4.3M582.9,37.6l5.7,0.8M534.0,31.5l-2.0,-1.6M569.3,50.0l0.7,4.9M557.7,57.3l-3.9,4.6M565.6,24.3l3.3,-4.4M550.1,19.0l-5.1,-4.0M549.0,46.7l-3.1,2.6M542.7,52.6l-2.6,0.5M568.3,60.3l5.5,4.3M550.1,24.5l-1.3,-6.5M563.4,50.8l2.1,3.0M562.2,19.6l0.7,-5.4M537.7,30.2l-4.6,-4.3M550.7,52.7l-5.5,3.5M545.6,44.9l-3.5,2.0M544.5,17.3l-5.6,-2.3M553.0,10.3l-2.8,-2.9M572.0,14.6l0.8,-6.3M561.8,37.5l3.9,0.5M548.6,33.7l-4.7,-1.6M536.9,47.5l-6.4,0.9M560.2,49.6l4.2,4.0M569.8,41.2l5.8,0.5M574.2,46.8l1.4,2.2M551.3,31.6l-3.5,-5.0M548.5,12.0l-2.7,-4.2M577.8,49.8l2.7,4.8M573.8,29.4l6.2,0.7M545.5,16.0l-1.2,-6.5M568.7,49.6l5.8,2.7M567.6,22.9l3.9,-1.0M570.7,48.1l2.3,2.5M582.1,44.6l3.1,1.8M548.5,61.8l-1.3,3.7M539.4,50.4l-3.3,1.9M551.7,24.7l0.8,-6.6M573.2,50.9l3.8,5.5M549.1,48.6l-5.2,4.2M545.8,11.9l-5.2,-3.2M543.5,43.2l-3.0,1.3M548.8,46.0l-3.6,0.8M549.7,60.2l0.9,3.5M540.9,35.3l-5.4,-0.8M537.9,43.4l-4.5,2.3M546.1,43.5l-4.6,-0.2M552.6,29.2l-3.3,-1.9M554.4,57.3l-5.1,4.6M582.6,47.6l4.0,0.3M570.1,55.5l-0.6,4.3M544.7,36.9l-5.1,-2.6M546.9,56.7l-3.5,3.5M566.9,31.6l3.5,-3.2M570.0,14.6l1.9,-3.6M564.8,53.4l-1.4,4.8M570.4,15.9l3.4,-3.3M564.4,11.1l2.1,-2.9M569.5,16.3l5.1,-1.9" fill="none" stroke="#1a1a1a" stroke-width="0.8" stroke-opacity="0.27" stroke-linecap="round"/>
<path d="M562.3,26.8L562.4,24.1L562.0,21.4L563.8,19.3L565.5,17.3L566.0,14.6M561.8,29.7L563.2,26.7L563.8,23.4L566.6,21.5L568.2,18.6L569.6,15.6M560.7,40.5L561.8,44.5L564.4,47.7L564.5,51.9L564.2,56.0L566.2,59.6M564.7,35.3L567.0,35.3L569.2,36.0L571.3,35.2M571.3,35.2l2.7,-4.6M571.3,35.2L573.4,36.0L575.7,35.9M555.9,39.3L555.3,42.1L554.9,44.8M554.9,44.8l3.0,8.1M554.9,44.8L555.4,47.5L554.9,50.3L552.9,52.3M553.5,27.8L552.1,26.4L551.6,24.5L550.6,22.8L549.1,21.5L548.3,19.7M547.7,32.9L545.5,30.3L542.0,30.1M542.0,30.1l-5.3,3.3M542.0,30.1L539.2,28.2M539.2,28.2l-4.2,-7.2M539.2,28.2L537.2,25.4L533.8,25.7M561.7,35.8L565.5,33.9L569.7,33.0M569.7,33.0l4.9,0.9M569.7,33.0L573.8,31.5L577.9,30.3L582.1,31.1M567.0,36.4L570.0,36.4L572.8,35.4M572.8,35.4l6.4,-7.0M572.8,35.4L575.4,36.8L578.3,37.1L581.2,36.1M563.7,33.6L567.0,31.7L569.8,29.1M569.8,29.1l4.6,-0.9M569.8,29.1L572.4,26.4L576.2,26.2L578.6,23.3M556.8,36.2L553.8,36.4L550.9,35.6L548.0,35.1M548.0,35.1l-4.4,1.6M548.0,35.1L545.5,33.4L542.6,34.4M557.8,28.3L558.5,26.4L557.8,24.5L558.4,22.5L559.0,20.6L559.5,18.6M562.2,34.2L564.8,33.1L567.6,33.1M567.6,33.1l5.3,2.7M567.6,33.1L570.3,32.4M570.3,32.4l4.4,-3.5M570.3,32.4L573.1,32.2L575.8,33.0M561.6,46.6L561.9,49.3L561.4,52.0L563.0,54.3L562.7,57.0L563.5,59.6M565.4,44.3L567.3,45.6L569.5,46.2M569.5,46.2l3.7,2.8M569.5,46.2L571.3,47.7L572.6,49.5L573.9,51.4M562.7,37.9L566.0,39.9L569.6,41.3L573.3,42.4M573.3,42.4l6.7,5.0M573.3,42.4L575.8,45.3L578.4,48.2M552.4,29.5L551.8,26.9L549.8,25.1L549.1,22.5M549.1,22.5l1.0,-7.6M549.1,22.5L547.2,20.5L545.2,18.7M557.0,40.4L556.1,43.6L556.0,47.0M556.0,47.0l-4.0,6.2M556.0,47.0L555.1,50.2L556.1,53.4L557.1,56.6M550.0,38.7L546.4,38.3L542.9,37.3M542.9,37.3l-5.9,0.5M542.9,37.3L539.7,35.8L536.0,35.9L532.5,36.3M561.8,37.4L566.2,36.8L570.7,36.9M570.7,36.9l4.0,3.4M570.7,36.9L575.2,36.8L579.0,34.6L583.5,34.8M557.2,34.2L554.5,30.1L551.1,26.6L548.0,22.8L546.5,18.1L544.1,13.8M551.7,36.8L549.0,35.7L546.2,34.9M546.2,34.9l-5.8,2.3M546.2,34.9L543.5,35.9L541.0,37.4L538.4,36.1M555.9,31.8L553.7,28.8L552.0,25.5L551.9,21.7L550.1,18.5L547.7,15.6M563.9,44.5L565.7,47.7L567.6,50.8L569.0,54.2M569.0,54.2l6.2,3.5M569.0,54.2L571.4,56.9L572.3,60.4M555.0,45.5L554.5,48.8L553.3,52.0L553.2,55.3M553.2,55.3l-4.2,8.7M553.2,55.3L551.2,58.0L550.7,61.3M557.1,35.2L554.0,34.8L551.3,33.2M551.3,33.2l-10.0,-0.2M551.3,33.2L548.3,32.6L546.2,30.3L543.2,29.4M557.5,36.4L553.5,37.6L549.3,37.2L546.2,39.9M546.2,39.9l-9.1,1.7M546.2,39.9L542.6,42.2L538.5,41.7M558.7,44.1L558.3,46.2L559.3,48.0M559.3,48.0l7.4,3.7M559.3,48.0L559.6,50.1L559.4,52.2L560.2,54.1M551.3,33.3L550.0,32.1L548.2,31.9M548.2,31.9l-9.0,3.0M548.2,31.9L546.5,31.2M546.5,31.2l-5.4,-6.2M546.5,31.2L545.2,29.9L544.3,28.4M558.4,42.0L557.5,44.0L556.5,46.0L557.1,48.1M557.1,48.1l-2.0,6.1M557.1,48.1L556.0,50.0L555.1,52.0M560.2,42.4L560.9,44.9L562.8,46.6L563.1,49.1M563.1,49.1l5.1,8.7M563.1,49.1L563.4,51.6L563.7,54.2M562.4,36.0L565.2,36.2L567.6,34.8M567.6,34.8l3.0,-7.3M567.6,34.8L570.4,35.0L573.1,35.7L575.7,34.9M559.1,46.5L559.9,50.0L562.2,52.8M562.2,52.8l2.6,9.7M562.2,52.8L562.6,56.4L563.7,59.8L564.4,63.3M553.6,32.5L550.8,31.6L548.9,29.5L546.8,27.4M546.8,27.4l-8.0,-1.1M546.8,27.4L543.9,27.2L541.2,26.2M562.0,26.7L561.8,25.6L562.3,24.5L562.7,23.4M562.7,23.4l4.1,-3.7M562.7,23.4L563.4,22.4L563.5,21.3M555.9,37.6L554.7,40.2L553.8,42.9L553.3,45.7M553.3,45.7l-6.0,8.1M553.3,45.7L552.3,48.4L552.7,51.2M565.0,33.4L566.8,33.9L568.3,32.8M568.3,32.8l8.4,-2.9M568.3,32.8L570.0,32.0L571.8,32.0L573.4,31.0M552.2,29.5L549.8,27.7L547.2,26.1L544.4,25.0L542.3,22.7L539.9,20.9M555.5,26.7L555.4,23.8L555.7,20.9L556.1,17.9M556.1,17.9l-4.7,-7.7M556.1,17.9L556.6,15.0L555.3,12.4M549.3,38.0L546.4,39.7L544.2,42.3M544.2,42.3l-6.1,3.1M544.2,42.3L540.9,42.9L537.5,43.0L534.3,44.0M552.4,39.8L549.3,41.0L546.0,40.9M546.0,40.9l-6.2,-4.5M546.0,40.9L543.6,43.2L540.4,43.0L537.4,44.4M553.5,35.6L549.2,35.4L544.9,34.6M544.9,34.6l-5.0,-5.8M544.9,34.6L540.7,36.0L536.7,37.7L532.3,37.5M563.1,32.9L565.9,30.8L568.7,28.7L571.5,26.7M571.5,26.7l3.4,-8.1M571.5,26.7L574.2,24.4L576.2,21.5M559.1,35.4L563.2,31.6L565.8,26.7L568.6,21.9M568.6,21.9l7.4,-5.1M568.6,21.9L572.8,18.3L577.5,15.3M558.4,33.1L557.8,29.2L556.2,25.6M556.2,25.6l1.2,-4.6M556.2,25.6L555.6,21.7L556.1,17.8L556.7,13.9M558.2,35.9L561.0,32.6L564.8,30.6L568.5,28.4M568.5,28.4l2.0,-4.8M568.5,28.4L571.7,25.4L575.9,24.2M554.0,33.8L550.7,32.6L547.4,31.5L544.6,29.4M544.6,29.4l-1.4,-5.0M544.6,29.4L541.7,27.5L539.1,25.1M548.7,34.9L545.3,34.4L542.0,33.8L538.6,34.1M538.6,34.1l-8.1,-1.8M538.6,34.1L535.9,32.2L532.6,33.1M560.7,35.9L563.5,35.7L566.2,35.2M566.2,35.2l7.1,-5.5M566.2,35.2L568.8,36.1M568.8,36.1l9.2,-2.2M568.8,36.1L571.2,34.6L573.7,33.5M558.3,32.9L557.9,29.7L556.7,26.8M556.7,26.8l1.7,-7.5M556.7,26.8L557.3,23.7L558.0,20.5L559.3,17.6M554.6,43.1L552.1,46.3L548.7,48.7M548.7,48.7l-8.9,-0.6M548.7,48.7L546.7,52.3M546.7,52.3l-0.4,8.3M546.7,52.3L543.1,54.2L540.9,57.7M562.6,27.0L564.6,24.3L565.8,21.3M565.8,21.3l-1.7,-6.3M565.8,21.3L568.7,19.6M568.7,19.6l6.4,0.1M568.7,19.6L569.2,16.4L571.8,14.3M552.9,34.0L550.4,31.2L548.2,28.2L546.7,24.8L543.8,22.4L540.5,20.8M555.9,39.0L555.6,42.4L555.6,45.9L555.9,49.4L555.8,52.8L554.4,56.0M563.8,45.0L565.5,47.1L566.6,49.6L568.3,51.7M568.3,51.7l5.8,1.4M568.3,51.7L568.9,54.4L571.3,55.6M559.5,32.1L559.9,28.0L562.9,25.3M562.9,25.3l2.4,-9.5M562.9,25.3L563.3,21.3L564.5,17.4L565.4,13.4M560.8,39.7L561.7,41.8L563.3,43.6L564.7,45.4M564.7,45.4l2.3,6.0M564.7,45.4L566.8,46.3L567.7,48.4" fill="none" stroke="#1a1a1a" stroke-width="1.1" stroke-opacity="0.45" stroke-linecap="round" stroke-linejoin="round"/>
<circle cx="593.0" cy="3.0" r="18.9" fill="url(#pgB)"/>
<path d="M585.3,-0.7l-1.9,-2.7M592.5,5.7l1.0,2.8M591.0,21.1l1.4,2.5M609.0,0.0l3.6,1.1M609.3,1.6l3.7,-3.6M601.3,-3.1l0.8,-3.2M586.4,16.6l-1.5,6.0M587.6,17.4l-0.6,4.3M583.2,-7.2l-0.5,-5.8M585.4,-6.0l-0.6,-5.4M598.9,3.1l4.9,-2.8M605.1,-8.1l4.0,-2.8M596.7,20.7l0.2,3.0M587.6,18.9l-1.0,2.5M597.2,15.9l2.3,2.2M583.0,12.7l-1.6,4.6M586.0,16.9l-2.5,1.8M577.5,-0.5l-3.2,-2.7M601.8,-6.2l5.4,-3.8M585.9,0.5l-2.4,-1.2M601.4,9.4l3.0,4.7M599.7,17.7l1.6,2.6M592.0,-12.1l-1.9,-5.3M577.8,8.0l-2.6,0.7M585.0,-9.1l0.4,-6.5M606.2,11.9l2.8,0.6M599.7,7.4l2.2,5.9M606.9,13.2l2.6,3.5M586.9,13.8l-2.0,5.7M603.7,15.5l1.9,3.7M584.7,14.2l-3.4,0.8M598.1,-11.8l2.0,-1.5M577.1,-3.7l-4.9,-1.0M597.6,10.5l4.5,1.9M583.7,16.8l-4.8,2.1M582.2,1.2l-2.9,-1.7M609.7,-3.5l3.0,-0.7M597.2,1.6l3.5,-1.1M595.0,-6.7l-1.1,-2.4M592.6,-9.1l0.8,-5.5M584.1,14.4l-4.8,4.5M602.3,10.2l5.3,2.7M604.2,10.0l3.2,6.0M600.9,3.6l3.8,-0.9M603.1,-7.0l0.5,-5.3M601.7,1.0l5.3,0.7M599.5,-2.7l2.1,-3.0M582.4,8.8l-4.9,1.3M609.4,3.0l5.1,0.2M582.3,-0.1l-1.6,-2.1M596.1,-11.1l1.8,-1.9M584.5,-8.1l-1.6,-5.9M598.5,14.2l1.9,4.2M600.7,-4.8l6.1,-3.3M596.1,-11.5l-1.6,-4.8M578.2,12.0l-5.4,-0.5M610.9,1.8l4.1,1.0M592.4,14.2l0.7,6.0M601.3,-5.4l1.2,-3.2M598.4,-8.2l1.6,-2.5M596.3,19.9l1.5,6.6M595.5,1.9l5.0,-3.9M579.0,9.8l-5.2,3.3M598.3,13.7l0.9,4.8M595.3,-5.9l2.3,-5.9M580.7,3.5l-2.6,0.7M590.7,-10.1l2.1,-6.3M585.6,19.4l-0.4,6.2M609.5,1.0l3.8,0.2M608.7,8.7l2.6,2.9M591.7,-14.9l-1.8,-3.8M608.5,-6.9l5.2,-2.8M599.3,19.0l3.0,2.7M582.3,-9.5l-1.0,-5.1" fill="none" stroke="#1a1a1a" stroke-width="0.8" stroke-opacity="0.27" stroke-linecap="round"/>
<path d="M592.9,2.8L591.7,-0.4L589.3,-2.9L587.1,-5.5L584.2,-7.3L582.0,-10.0M594.1,2.5L596.2,2.6L598.3,2.2M598.3,2.2l3.6,1.6M598.3,2.2L600.3,1.8M600.3,1.8l4.0,0.8M600.3,1.8L602.4,1.8L604.2,0.8M588.0,3.0L586.5,3.7L584.8,3.7L583.1,3.7L581.4,3.9L579.7,4.1M593.6,0.6L594.7,-1.3L594.4,-3.5M594.4,-3.5l-2.6,-4.8M594.4,-3.5L595.4,-5.4M595.4,-5.4l-0.7,-2.9M595.4,-5.4L595.5,-7.6L594.9,-9.7M592.9,1.6L591.5,-1.5L591.7,-4.9M591.7,-4.9l1.8,-2.6M591.7,-4.9L591.7,-8.3M591.7,-8.3l2.8,-3.7M591.7,-8.3L592.8,-11.5L593.3,-14.9M594.2,-0.2L595.5,-2.1L595.3,-4.3L596.1,-6.4L595.8,-8.7L596.7,-10.8M593.6,6.5L593.8,9.2L594.5,11.8M594.5,11.8l4.9,4.0M594.5,11.8L594.4,14.4L594.8,17.1L593.7,19.5M593.0,-3.4L594.2,-5.2L595.1,-7.1M595.1,-7.1l3.3,-3.4M595.1,-7.1L596.3,-8.9L596.7,-11.0L597.2,-13.1M594.1,3.4L596.9,4.0L599.6,3.1L602.3,4.0M602.3,4.0l4.4,-0.0M602.3,4.0L605.1,4.5L607.6,5.8M590.3,5.3L587.7,6.9L584.7,7.0L583.1,9.6M583.1,9.6l0.4,4.2M583.1,9.6L582.0,12.4L579.4,14.0M595.2,2.4L598.1,3.1L601.1,2.5L604.1,3.2M604.1,3.2l5.6,-0.4M604.1,3.2L607.0,4.1L610.1,4.0M591.3,4.1L589.2,4.3L587.9,5.7M587.9,5.7l-1.1,2.9M587.9,5.7L586.7,7.4L585.0,8.5L583.2,9.5M591.4,6.8L591.5,8.8L590.6,10.6M590.6,10.6l0.2,6.1M590.6,10.6L589.5,12.3L588.0,13.7L587.6,15.7M595.9,2.7L597.2,1.8L598.7,1.2M598.7,1.2l6.1,1.3M598.7,1.2L600.2,1.5L601.8,1.9L603.0,0.9M592.4,1.7L590.0,0.2L589.0,-2.4M589.0,-2.4l-3.9,-2.4M589.0,-2.4L588.6,-5.2L587.8,-7.9L588.2,-10.7M593.1,6.9L591.7,9.3L591.8,12.1L589.9,14.2L587.9,16.1L585.8,18.0M592.8,3.6L592.9,6.7L593.6,9.8M593.6,9.8l3.0,2.5M593.6,9.8L594.6,12.8M594.6,12.8l4.2,3.1M594.6,12.8L594.6,16.0L595.4,19.1M591.8,0.4L591.2,-1.4L589.9,-2.8M589.9,-2.8l-0.9,-2.8M589.9,-2.8L589.7,-4.7L589.3,-6.5L589.7,-8.4M587.0,3.8L585.7,5.0L584.0,5.7M584.0,5.7l-5.6,0.1M584.0,5.7L582.4,6.3M582.4,6.3l-4.6,4.2M582.4,6.3L580.6,6.1L579.2,7.1M591.2,1.4L590.1,-0.5L589.4,-2.6L588.8,-4.6L588.0,-6.6L587.7,-8.8M598.4,-0.2L601.0,-0.2L603.0,-1.7M603.0,-1.7l5.9,-1.8M603.0,-1.7L605.4,-2.5M605.4,-2.5l3.6,-4.1M605.4,-2.5L607.0,-4.4L609.4,-5.4M590.5,2.4L588.8,1.6L587.0,1.6L585.5,0.5M585.5,0.5l-6.0,-0.7M585.5,0.5L583.8,-0.0L582.0,-0.3M590.6,3.1L588.6,3.3L586.8,2.5L585.0,3.3M585.0,3.3l-2.6,2.4M585.0,3.3L583.0,3.3L581.1,2.5M598.0,-0.3L599.0,-2.4L600.4,-4.3M600.4,-4.3l-0.2,-5.8M600.4,-4.3L602.2,-5.8L604.1,-7.0L605.2,-9.1M593.9,1.1L595.9,-0.5L598.1,-1.9M598.1,-1.9l5.7,-0.4M598.1,-1.9L600.2,-3.4M600.2,-3.4l4.5,0.3M600.2,-3.4L602.7,-3.7L605.3,-3.9M595.9,0.4L597.3,0.2L598.7,-0.0L599.6,-1.1M599.6,-1.1l3.6,-1.0M599.6,-1.1L600.3,-2.4L601.6,-3.1M593.8,3.2L596.9,3.6L599.8,4.8L602.0,7.2L604.5,9.1L607.7,9.3M594.3,5.6L594.0,7.9L593.3,10.0M593.3,10.0l-3.8,5.1M593.3,10.0L594.1,12.2L595.5,14.0L595.1,16.2M594.3,-1.3L595.6,-3.8L597.1,-6.1M597.1,-6.1l5.8,-2.5M597.1,-6.1L597.8,-8.7L598.3,-11.4L597.8,-14.1M588.1,7.2L587.4,8.6L586.6,10.0M586.6,10.0l-5.6,2.7M586.6,10.0L586.0,11.4L585.5,13.0L584.1,13.7M591.3,2.5L588.0,1.4L584.8,0.1M584.8,0.1l-2.7,-4.6M584.8,0.1L581.8,-1.8M581.8,-1.8l-2.1,-3.4M581.8,-1.8L578.4,-2.4L575.9,-4.8M596.4,5.5L597.4,7.8L599.8,8.6L600.9,10.8L602.5,12.7L603.6,15.0M595.8,3.8L598.5,5.4L601.7,5.1M601.7,5.1l5.1,1.2M601.7,5.1L604.6,6.5M604.6,6.5l3.3,4.4M604.6,6.5L607.4,8.1L609.8,10.1M597.1,1.8L599.7,2.5L602.0,3.8M602.0,3.8l2.3,2.8M602.0,3.8L604.5,2.9L607.1,3.5L609.6,4.3M595.2,-1.8L595.3,-4.6L594.7,-7.3L593.7,-9.8L594.2,-12.5L593.9,-15.2M600.0,1.7L600.7,1.1L601.6,0.9L602.4,0.4M602.4,0.4l4.0,-4.3M602.4,0.4L603.4,0.5L604.3,0.8M592.6,2.7L590.6,1.4L588.2,1.4L585.9,0.9L583.9,-0.3L581.5,-0.3" fill="none" stroke="#1a1a1a" stroke-width="1.1" stroke-opacity="0.45" stroke-linecap="round" stroke-linejoin="round"/>
<circle cx="730.0" cy="12.0" r="25.2" fill="url(#pgB)"/>
<path d="M746.1,24.4l3.6,4.8M740.4,-3.9l-0.3,-2.6M746.8,14.5l4.9,-2.5M741.5,11.9l5.3,-3.0M724.9,13.2l-2.2,1.7M722.8,21.2l-1.2,5.2M740.1,-8.0l3.1,-3.7M718.7,18.9l-1.4,4.0M711.1,8.6l-6.7,0.6M728.7,28.0l-1.5,2.6M740.5,-4.6l0.6,-4.1M742.7,17.0l5.4,2.3M745.9,9.4l4.6,-0.7M752.5,17.1l3.7,0.1M740.9,21.6l1.8,3.2M749.4,14.3l3.6,2.5M736.2,24.9l2.0,4.0M740.1,9.6l5.4,-4.3M747.7,11.4l4.8,3.6M719.6,3.0l-4.9,-2.6M727.5,16.0l-3.4,5.9M718.8,31.7l-1.7,2.9M749.1,8.5l6.3,0.7M750.9,9.5l2.6,0.4M740.5,-7.3l1.4,-5.1M743.9,-6.1l1.4,-6.4M750.5,6.1l5.2,-3.9M719.0,15.5l-3.0,3.9M711.9,20.3l-5.8,2.3M724.6,31.4l0.3,5.4M720.5,16.5l-4.3,4.6M737.7,-9.2l-0.2,-3.5M747.6,-1.9l3.6,-5.9M725.0,4.9l-2.5,-5.2M737.9,-4.3l5.7,-3.1M733.6,-6.5l0.9,-2.7M735.7,11.2l2.3,-0.9M743.0,-8.6l-0.2,-4.2M714.1,-2.6l-1.9,-4.6M737.4,34.1l1.6,2.5M728.6,-11.0l-1.6,-3.7M737.8,-4.6l1.2,-5.6M753.9,13.1l3.4,-1.6M728.5,3.8l-1.1,-3.0M723.1,4.4l-3.4,-1.2M731.4,4.9l1.1,-2.9M724.9,13.5l-4.4,-0.8M715.6,27.4l-4.1,1.1M739.4,32.4l3.1,3.8M748.4,27.9l1.4,4.9M723.4,15.8l-5.2,-0.6M748.8,6.0l2.5,-0.9M727.3,-3.6l0.6,-6.0M739.6,3.0l5.9,-3.2M747.2,-2.7l1.2,-3.5M719.0,2.4l-3.1,-1.3M713.8,27.6l-0.8,5.5M723.5,-5.6l-0.8,-2.9M738.9,-1.5l2.0,-6.2M722.0,30.0l0.2,5.1M720.2,-4.6l0.3,-4.1M731.8,32.7l2.0,6.4M723.3,-10.8l-1.9,-2.0M713.7,8.4l-5.2,-0.5M748.8,12.7l3.3,0.4M752.3,4.8l3.2,-3.3M716.3,-8.2l-3.0,-3.8M745.9,17.0l4.2,2.1M721.8,28.1l-1.6,3.3M727.1,3.1l-0.5,-3.6M737.2,-7.0l2.1,-5.1M723.9,-4.9l-0.5,-3.5M727.2,2.4l-3.8,-3.9M750.0,12.5l3.1,-0.4M733.0,15.4l0.7,5.9M725.9,34.4l1.4,6.3M722.3,32.7l-2.0,3.6M747.4,10.6l4.9,-3.4M732.8,-5.6l2.6,-4.0M721.3,19.7l-4.4,2.3M742.9,17.1l5.6,0.7M736.7,19.0l6.3,1.4M730.7,-9.3l-1.2,-3.4M716.3,32.4l-2.8,0.8M736.6,33.1l4.3,5.0M708.2,6.4l-5.1,-2.3M739.3,-4.6l1.7,-2.0M721.2,16.0l-3.1,4.3M728.6,33.0l-3.2,5.9M752.4,3.3l4.6,-4.8M716.9,6.0l-4.3,-3.1M713.9,30.0l-2.9,2.0M741.9,6.3l1.6,-3.5M708.7,11.4l-2.6,1.1M750.0,-2.2l2.3,-6.6M736.0,5.2l2.6,-4.3M724.8,29.0l-0.1,6.3M746.6,26.2l3.6,4.7M728.9,25.5l1.5,4.4" fill="none" stroke="#1a1a1a" stroke-width="0.8" stroke-opacity="0.27" stroke-linecap="round"/>
<path d="M731.9,16.3L732.7,18.0L734.2,19.1M734.2,19.1l7.4,2.4M734.2,19.1L735.4,20.6M735.4,20.6l2.2,7.4M735.4,20.6L735.6,22.5L737.2,23.5M727.5,11.2L724.8,11.9L722.3,13.1L719.5,13.5M719.5,13.5l-4.4,4.5M719.5,13.5L717.1,15.0L714.4,15.6M731.3,6.9L731.7,4.6L732.7,2.4M732.7,2.4l3.0,-2.9M732.7,2.4L733.2,0.1M733.2,0.1l-2.3,-5.6M733.2,0.1L733.7,-2.2L734.0,-4.6M729.3,11.4L725.6,8.5L723.1,4.4M723.1,4.4l-5.0,-2.9M723.1,4.4L719.0,2.0M719.0,2.0l-4.3,-0.7M719.0,2.0L717.0,-2.3L712.9,-4.8M722.5,8.9L719.4,7.4L716.8,5.0M716.8,5.0l-5.2,-2.3M716.8,5.0L714.9,2.1M714.9,2.1l-4.1,-2.7M714.9,2.1L711.5,1.2L708.6,-0.7M732.0,21.0L733.7,23.8L735.7,26.3L737.0,29.3L738.2,32.3L739.3,35.3M736.4,10.6L739.3,11.5L742.1,10.4L744.9,11.6M744.9,11.6l4.8,6.9M744.9,11.6L747.9,11.5L751.0,11.3M729.3,17.0L728.2,19.7L728.6,22.7L729.8,25.4L728.9,28.2L730.4,30.7M732.9,13.0L736.1,14.5L739.5,15.7M739.5,15.7l4.7,4.7M739.5,15.7L742.8,17.1L746.3,18.1L749.9,17.7M727.8,16.7L726.9,20.4L724.5,23.2M724.5,23.2l-5.9,2.3M724.5,23.2L722.0,26.0L721.3,29.7L719.8,33.2M726.1,7.1L724.5,6.3L723.3,5.0L722.3,3.6M722.3,3.6l-5.3,-2.6M722.3,3.6L721.1,2.3L720.2,0.8M736.1,19.5L737.1,20.0L737.3,21.0L737.7,21.9M737.7,21.9l0.3,8.0M737.7,21.9L738.1,22.9L738.8,23.5M731.1,12.0L733.9,11.7L736.8,11.8L739.4,13.1L742.0,14.4L744.9,14.4M732.1,13.1L736.4,13.2L740.3,14.6M740.3,14.6l4.2,-0.3M740.3,14.6L744.5,14.8M744.5,14.8l4.2,-2.6M744.5,14.8L747.7,17.6L751.9,18.0M728.8,12.9L725.9,15.7L723.0,18.4L721.6,22.1M721.6,22.1l-3.3,2.3M721.6,22.1L719.6,25.6L719.0,29.6M731.1,12.8L732.2,15.6L732.1,18.6M732.1,18.6l-1.6,4.6M732.1,18.6L732.3,21.6L732.3,24.6L733.3,27.5M727.9,14.1L725.9,16.2L724.1,18.5L721.5,19.7M721.5,19.7l-4.1,4.6M721.5,19.7L719.5,21.8L718.9,24.7M732.6,11.7L735.2,12.9L738.1,12.9M738.1,12.9l4.0,-1.6M738.1,12.9L740.9,12.4L743.7,11.6L746.2,10.2M723.0,12.9L719.5,13.0L716.0,13.5L712.9,12.0L709.4,11.6L706.4,9.7M730.0,11.9L730.9,8.6L729.8,5.5L731.4,2.6L730.6,-0.7L731.5,-3.9M726.8,4.6L726.3,2.9L724.8,1.7L724.2,0.1M724.2,0.1l-5.4,-3.3M724.2,0.1L723.1,-1.4L722.1,-2.9M726.6,10.2L722.9,8.7L719.0,8.2M719.0,8.2l-4.5,-4.8M719.0,8.2L716.3,5.2L713.8,2.1L710.2,0.6M722.6,15.4L721.2,17.5L719.2,19.1M719.2,19.1l-3.4,6.2M719.2,19.1L716.7,19.7M716.7,19.7l-3.3,3.0M716.7,19.7L714.9,21.6L713.7,23.8M728.4,13.4L725.1,14.5L721.6,14.9M721.6,14.9l-3.4,1.9M721.6,14.9L718.2,14.6L714.9,15.5L711.6,14.3M727.4,13.9L726.5,16.0L725.1,17.7L724.4,19.9M724.4,19.9l-4.3,4.2M724.4,19.9L722.8,21.5L720.7,22.3M733.1,21.4L734.3,23.5L735.1,25.8L737.0,27.3L736.8,29.7L737.9,31.9M729.2,11.4L727.9,9.1L725.6,7.7M725.6,7.7l-3.1,-7.6M725.6,7.7L724.4,5.3M724.4,5.3l0.0,-4.8M724.4,5.3L722.9,3.2L721.3,1.1M731.6,13.0L734.3,15.9L735.3,19.8L736.2,23.6M736.2,23.6l-0.5,6.7M736.2,23.6L739.4,25.9L741.4,29.3M730.7,15.3L730.1,17.8L731.1,20.0M731.1,20.0l4.0,2.3M731.1,20.0L730.3,22.4M730.3,22.4l2.1,8.0M730.3,22.4L730.8,24.9L732.3,26.9M735.2,12.9L737.8,12.0L740.4,11.2L743.1,11.7L745.8,12.3L748.5,13.0M729.0,10.4L726.9,9.3L724.5,8.9M724.5,8.9l-5.0,0.7M724.5,8.9L723.3,6.7M723.3,6.7l-3.8,-2.8M723.3,6.7L722.3,4.5L720.3,3.2M730.8,11.7L734.2,9.5L738.2,8.6L740.9,5.5L745.0,5.1L748.3,2.7M724.0,18.7L722.9,20.5L721.7,22.2L720.2,23.6L718.9,25.3L717.7,27.0M735.6,17.0L736.5,18.9L737.8,20.6L739.6,21.8M739.6,21.8l3.3,4.8M739.6,21.8L740.1,23.9L740.9,25.9M731.1,9.9L731.4,6.3L730.5,2.8L731.6,-0.6L730.3,-4.0L732.3,-7.0M731.3,20.1L730.5,22.4L731.4,24.7L732.9,26.5M732.9,26.5l0.1,5.9M732.9,26.5L732.0,28.8L731.6,31.2M733.5,16.7L736.0,19.0L739.1,20.2M739.1,20.2l5.5,-1.3M739.1,20.2L740.3,23.3L743.3,24.9L746.5,25.8M728.8,14.8L726.1,17.7L723.0,20.0M723.0,20.0l-1.7,3.6M723.0,20.0L721.7,23.6L719.7,26.9L718.1,30.5M732.5,15.5L734.7,19.1L734.9,23.3M734.9,23.3l3.9,6.6M734.9,23.3L738.0,26.1L738.9,30.2L738.4,34.4M732.7,6.6L734.0,5.7L735.0,4.4L735.7,2.9L736.9,1.9L738.1,0.9M730.6,16.9L730.3,18.7L731.3,20.3L731.4,22.1M731.4,22.1l3.5,4.9M731.4,22.1L731.4,23.9L731.3,25.7M729.9,10.5L730.9,6.6L730.5,2.5M730.5,2.5l1.7,-4.0M730.5,2.5L731.2,-1.4M731.2,-1.4l2.6,-2.8M731.2,-1.4L730.2,-5.3L728.7,-9.1M723.3,17.8L722.0,18.3L720.5,18.5M720.5,18.5l-7.7,-2.3M720.5,18.5L719.2,19.1M719.2,19.1l-3.7,4.9M719.2,19.1L718.1,20.0L717.5,21.4M724.5,6.3L723.3,5.7L722.2,5.1L721.3,4.3L720.3,3.5L719.1,2.9M726.9,10.2L725.5,7.5L723.3,5.4L721.0,3.4L719.7,0.6L719.1,-2.4M733.9,16.0L735.1,17.3L736.6,18.1M736.6,18.1l5.9,0.5M736.6,18.1L737.8,19.4M737.8,19.4l7.5,0.9M737.8,19.4L739.1,20.5L740.9,20.9M731.1,7.2L732.2,3.7L731.2,0.1M731.2,0.1l-3.9,-4.0M731.2,0.1L732.9,-3.1M732.9,-3.1l-0.8,-4.2M732.9,-3.1L731.7,-6.6L731.9,-10.2M733.7,10.2L735.4,8.5L737.8,8.6L739.4,6.9L741.0,5.1L743.3,4.5M726.5,11.3L723.5,10.2L720.3,9.8M720.3,9.8l-6.8,-3.5M720.3,9.8L718.0,7.7L714.9,6.9L711.8,7.8" fill="none" stroke="#1a1a1a" stroke-width="1.1" stroke-opacity="0.45" stroke-linecap="round" stroke-linejoin="round"/>
<circle cx="685.0" cy="2.0" r="12.6" fill="url(#pgB)"/>
<path d="M677.5,9.8l-1.0,3.5M677.9,4.8l-5.3,0.2M691.5,-6.5l2.5,-2.9M683.0,-8.6l1.3,-2.9M683.9,4.7l0.3,3.9M693.6,6.8l3.1,1.7M692.6,-4.8l3.2,-3.7M683.0,3.8l-6.3,1.7M684.7,-0.9l2.2,-5.5M675.4,4.8l-2.9,-0.2M675.7,5.2l-5.6,2.4M688.1,5.7l4.2,0.8M681.9,11.5l-1.0,3.4M690.8,5.2l3.4,1.7M675.0,5.2l-5.4,0.8M675.3,7.8l-2.7,6.0M679.7,2.0l-6.0,-0.7M678.3,-7.0l-1.4,-2.4M686.9,-8.3l-0.4,-2.7M685.2,-9.7l2.4,-5.5M692.4,-6.9l1.0,-3.8M683.1,4.5l-0.6,5.2M690.6,6.1l2.4,1.7M678.1,9.4l-0.6,2.7M683.6,-1.6l-2.4,-4.7M682.1,6.2l-2.9,5.3M695.5,-2.3l2.9,-1.7M690.8,-1.2l1.9,-3.2M690.2,-4.2l3.3,-2.9M675.8,8.6l-1.8,3.8M693.1,5.1l2.7,2.1M684.4,9.1l0.3,6.8M681.2,-6.9l0.7,-5.8M684.4,12.7l2.0,4.8M680.4,10.2l0.4,2.8M680.3,-6.4l-3.4,-4.4M695.2,4.0l6.1,-1.8M684.7,11.5l0.7,3.6M689.0,2.3l4.0,0.5M686.2,5.4l0.3,4.2M681.7,5.7l-2.8,3.4M677.1,-1.3l-3.7,-1.2M678.1,-2.6l-3.4,0.3M676.1,-5.1l-6.7,-0.6M674.9,0.1l-6.3,-2.8M690.0,2.0l2.5,1.8M684.4,-9.4l-1.2,-4.9M691.5,-1.4l3.7,0.1M696.1,4.4l6.3,-2.7" fill="none" stroke="#1a1a1a" stroke-width="0.8" stroke-opacity="0.27" stroke-linecap="round"/>
<path d="M685.9,3.1L686.2,4.1L686.6,5.2M686.6,5.2l-1.2,4.2M686.6,5.2L687.3,6.1L687.7,7.1L687.7,8.2M684.5,0.7L684.5,-1.2L684.0,-3.0L683.0,-4.6L681.7,-6.0L680.8,-7.6M683.7,1.4L682.5,0.9L681.5,0.0L680.2,-0.1L679.5,-1.2L678.4,-1.9M686.0,1.7L688.1,2.3L690.2,2.5L692.3,2.0L694.3,2.7L696.4,3.0M684.4,-0.7L683.9,-1.5L684.2,-2.4M684.2,-2.4l-0.5,-2.1M684.2,-2.4L683.6,-3.2M683.6,-3.2l-0.4,-2.7M683.6,-3.2L683.3,-4.1L683.6,-5.0M688.0,1.5L689.7,2.3L691.6,2.2M691.6,2.2l2.4,-2.2M691.6,2.2L693.2,1.3L695.0,0.8L696.9,0.6M684.8,1.6L684.3,0.3L683.4,-0.7L682.6,-1.9M682.6,-1.9l-1.7,-0.8M682.6,-1.9L681.4,-2.6L680.4,-3.5M681.2,-0.5L680.7,-0.6L680.3,-1.1L679.9,-1.5M679.9,-1.5l-3.6,-2.4M679.9,-1.5L679.4,-1.7L679.0,-2.1M688.6,0.5L690.0,0.6L690.9,-0.4L692.2,-0.9L693.6,-0.7L695.0,-0.5M689.1,1.4L690.8,1.6L692.5,1.1M692.5,1.1l4.1,0.7M692.5,1.1L694.1,0.5M694.1,0.5l1.7,-1.5M694.1,0.5L695.7,0.2L697.3,0.8M685.3,2.1L686.7,3.1L688.1,4.2L689.0,5.7L690.0,7.1L690.4,8.8M686.9,-2.6L687.1,-3.7L687.0,-4.9L686.7,-6.0L687.3,-6.9L688.0,-7.8M681.8,-1.3L680.7,-2.4L680.1,-3.9M680.1,-3.9l0.4,-2.2M680.1,-3.9L679.9,-5.5M679.9,-5.5l1.5,-2.7M679.9,-5.5L679.3,-6.9L678.4,-8.2M682.7,-2.3L682.1,-2.9L682.1,-3.9M682.1,-3.9l-0.6,-1.9M682.1,-3.9L681.6,-4.6M681.6,-4.6l0.0,-4.1M681.6,-4.6L681.1,-5.4L680.7,-6.2M688.6,4.5L689.7,5.6L690.7,6.8L691.3,8.2L692.8,8.8L693.7,10.1M685.1,3.2L684.8,5.0L684.1,6.7M684.1,6.7l-2.1,2.2M684.1,6.7L683.4,8.4L682.1,9.7L681.0,11.2M685.8,1.1L687.7,0.5L688.8,-1.1M688.8,-1.1l4.0,-1.8M688.8,-1.1L689.8,-2.8L690.9,-4.5L691.6,-6.3M686.2,1.1L686.8,0.1L687.6,-0.7M687.6,-0.7l2.1,-1.1M687.6,-0.7L688.3,-1.5L689.1,-2.3L690.0,-2.9M683.5,5.3L683.1,6.4L682.1,7.0M682.1,7.0l-1.7,4.1M682.1,7.0L681.6,8.0L680.8,8.7L680.1,9.6M685.3,4.2L686.3,5.6L686.4,7.4L685.8,9.1L685.7,10.9L686.1,12.7M685.2,2.5L686.1,3.9L687.4,4.8L688.6,5.7L689.3,7.1L689.9,8.5M688.0,2.9L688.8,3.8L689.8,4.5L691.1,4.5L692.0,5.3L693.3,5.3M684.3,-1.1L683.8,-1.9L683.5,-2.8L683.6,-3.7M683.6,-3.7l-1.8,-3.4M683.6,-3.7L683.4,-4.7L683.1,-5.5M685.1,1.2L685.2,-0.6L685.3,-2.4L685.6,-4.2M685.6,-4.2l3.1,-2.9M685.6,-4.2L686.3,-5.9L687.2,-7.5" fill="none" stroke="#1a1a1a" stroke-width="1.1" stroke-opacity="0.45" stroke-linecap="round" stroke-linejoin="round"/>
<circle cx="526.4" cy="92.0" r="28.4" fill="url(#pgB)"/>
<path d="M521.6,92.0l-3.1,-0.8M526.6,65.3l-3.3,-4.1M522.8,102.2l1.6,4.6M539.8,111.6l3.0,2.7M507.1,72.7l-6.0,-1.4M514.1,79.2l-4.4,-2.9M532.4,115.9l2.5,5.9M523.9,82.7l-1.7,-2.7M540.3,101.4l3.6,-0.1M520.6,100.3l-1.8,6.5M546.2,85.8l4.8,-4.5M545.3,104.8l4.2,4.3M501.2,85.9l-3.3,1.1M551.3,103.2l5.6,0.3M519.9,80.4l-2.9,-2.6M534.2,93.7l6.3,1.7M538.5,74.2l0.8,-4.4M504.3,102.2l-4.1,0.7M515.5,95.9l-5.9,2.1M544.8,111.1l3.5,1.0M503.9,76.1l-5.5,-1.0M526.9,112.7l-2.5,3.2M527.8,80.3l0.7,-6.3M544.2,80.9l4.7,-1.1M510.7,77.5l-3.0,-3.7M514.9,70.3l-2.6,-1.4M507.4,95.5l-4.0,3.6M513.1,70.5l-1.2,-2.3M528.5,73.5l4.9,-4.9M535.3,102.7l2.8,1.9M544.8,105.2l4.1,3.4M509.9,110.4l-0.7,2.7M533.9,112.0l1.7,5.5M510.8,80.5l-1.9,-1.7M536.7,72.5l1.9,-4.6M545.3,103.8l1.8,2.0M546.0,78.3l3.8,-2.0M542.0,110.3l5.8,3.0M513.0,108.9l-3.1,3.1M525.0,67.8l-0.3,-3.0M513.2,109.8l-3.1,2.8M525.3,105.6l1.8,2.8M504.2,90.9l-5.1,-2.3M519.9,89.9l-6.0,1.8M542.4,74.0l1.5,-2.6M519.6,98.5l-2.9,5.7M533.6,102.8l3.4,2.4M527.7,111.9l2.9,3.2M500.5,92.9l-3.0,2.5M548.4,86.5l5.5,2.2M518.4,90.4l-3.4,-4.2M513.2,82.1l-4.0,-0.8M544.9,83.1l6.1,0.0M545.6,96.7l3.6,0.7M525.1,76.8l1.6,-5.4M522.3,74.3l-4.3,-5.0M514.9,83.0l-3.2,-2.8M509.7,112.4l-4.0,1.1M520.3,82.8l-0.4,-3.7M546.9,75.8l4.3,-1.0M528.4,112.3l2.9,3.7M530.9,112.9l-1.9,4.5M507.3,109.4l-3.7,0.4M502.4,82.5l-2.5,-2.3M538.2,98.3l2.2,2.0M536.8,94.0l3.0,0.0M512.5,97.3l-1.8,3.0M538.5,112.8l0.8,3.1M518.1,78.5l-2.2,-3.7M525.6,77.6l2.6,-4.5M515.1,110.7l-1.2,3.9M545.5,84.1l3.4,-6.0M538.7,109.1l1.1,4.7M519.0,90.3l-4.1,0.3M521.7,78.0l-2.7,-3.9M542.2,94.6l6.5,-2.6M505.7,93.8l-3.5,-1.7M501.5,100.9l-6.0,0.0M500.2,99.9l-4.2,1.4M544.1,97.8l6.3,0.5M533.6,116.2l-2.1,6.5M547.4,86.0l3.8,1.3M548.8,83.6l5.6,-4.2M524.0,85.2l-0.6,-5.7M534.2,72.9l1.5,-2.4M527.2,99.9l-1.2,4.1M546.8,82.9l3.7,-0.2M552.6,96.1l3.4,-0.1M504.8,100.4l-2.5,3.7M520.3,67.0l-1.1,-3.5M522.5,98.0l-1.0,4.4M537.7,79.9l4.0,-3.3M512.9,82.0l-6.2,-0.4M528.1,83.9l1.6,-4.8M502.1,80.1l-4.4,-1.0M548.5,89.1l5.5,-0.9M508.5,97.1l-2.6,3.1M548.3,101.9l2.8,4.4M536.2,76.9l2.0,-2.4M505.3,80.6l-5.5,-4.1M514.8,89.8l-6.5,-1.9M506.1,88.9l-6.1,2.1M516.6,68.9l-2.2,-3.3M514.0,68.7l-1.3,-2.9M546.7,74.7l2.0,-6.4M531.9,102.9l1.8,3.5M507.5,108.8l-1.0,3.6M528.9,76.6l1.8,-2.2M544.7,75.0l4.2,-1.4M520.1,95.5l-5.9,-1.0M546.1,82.2l2.0,-1.5M509.4,74.4l-1.7,-2.8" fill="none" stroke="#1a1a1a" stroke-width="0.8" stroke-opacity="0.27" stroke-linecap="round"/>
<path d="M531.7,100.1L531.8,101.9L532.1,103.8L533.3,105.2M533.3,105.2l2.1,7.4M533.3,105.2L534.9,106.1L536.0,107.5M524.2,94.2L521.1,97.1L520.2,101.4M520.2,101.4l2.5,5.8M520.2,101.4L518.6,105.4L516.6,109.1L514.0,112.6M527.5,92.1L530.9,93.1L533.6,95.3L536.3,97.5L538.3,100.3L540.0,103.4M531.1,99.4L532.4,100.8L532.6,102.6L533.2,104.3M533.2,104.3l-1.5,6.8M533.2,104.3L533.9,106.0L534.3,107.8M525.2,92.3L521.1,92.7L517.3,94.4M517.3,94.4l-8.8,0.8M517.3,94.4L513.3,95.1L509.3,96.3L506.1,99.0M521.6,97.4L521.0,100.3L520.2,103.2M520.2,103.2l-6.2,7.0M520.2,103.2L519.5,106.1L518.8,108.9L516.5,110.9M522.3,100.2L520.5,102.8L518.1,104.8L517.4,107.8M517.4,107.8l1.7,5.3M517.4,107.8L515.4,110.2L514.2,113.0M527.1,103.1L527.2,104.2L527.6,105.2M527.6,105.2l-0.2,4.3M527.6,105.2L527.9,106.4M527.9,106.4l-2.2,6.3M527.9,106.4L528.6,107.3L529.1,108.3M531.5,93.1L534.4,93.4L537.3,92.8L540.2,92.2M540.2,92.2l4.5,-2.7M540.2,92.2L542.8,93.6L545.7,92.9M534.7,99.3L535.8,101.7L536.5,104.3L538.8,105.6M538.8,105.6l3.9,5.9M538.8,105.6L541.3,106.2L542.6,108.5M534.4,99.0L536.4,101.8L538.5,104.6L540.6,107.4L542.0,110.6L543.7,113.7M526.5,91.0L527.5,87.9L529.6,85.4M529.6,85.4l2.6,-8.7M529.6,85.4L530.0,82.3M530.0,82.3l-2.6,-5.4M530.0,82.3L531.8,79.7L531.6,76.5M519.4,92.4L515.7,91.8L512.0,92.2L508.4,91.2L504.6,90.9L501.4,92.8M523.4,87.6L522.1,85.2L521.6,82.6M521.6,82.6l1.8,-8.0M521.6,82.6L520.6,80.1L518.8,78.1L518.9,75.4M523.4,97.1L520.5,99.1L520.0,102.6M520.0,102.6l-3.8,6.5M520.0,102.6L520.0,106.1M520.0,106.1l-5.4,6.7M520.0,106.1L519.6,109.6L520.3,113.1M515.9,91.3L513.8,89.7L511.2,89.5L509.0,88.3L506.9,86.6L504.4,87.3M522.5,85.7L522.0,83.3L520.3,81.7M520.3,81.7l-5.1,-1.0M520.3,81.7L520.0,79.3M520.0,79.3l-3.0,-3.4M520.0,79.3L518.5,77.4L518.3,75.0M531.2,89.3L533.8,87.2L537.1,86.4L540.3,85.3L542.5,82.8L545.7,81.8M519.9,89.1L517.6,88.7L515.5,88.0L513.5,87.0L511.3,86.4L509.2,85.6M516.8,95.6L514.5,96.5L512.1,97.4L509.6,97.6L507.2,98.0L504.7,98.0M530.6,97.1L534.7,98.8L536.1,103.0L539.6,105.6M539.6,105.6l2.2,4.6M539.6,105.6L543.9,106.8L547.8,108.8M524.6,96.9L522.6,101.1L523.3,105.7L520.8,109.6M520.8,109.6l0.4,4.7M520.8,109.6L519.2,114.0L515.8,117.1M524.9,95.5L523.7,99.4L520.6,102.1L520.0,106.2L517.6,109.5L516.7,113.5M527.8,92.9L530.4,97.0L531.7,101.7M531.7,101.7l3.2,4.5M531.7,101.7L534.4,105.8L538.5,108.4L542.7,110.9M524.0,89.5L522.8,84.6L518.5,81.9L514.8,78.4M514.8,78.4l-9.3,-1.9M514.8,78.4L510.3,76.3L505.5,74.6M530.3,96.6L533.0,100.3L535.3,104.2L539.2,106.6M539.2,106.6l7.5,1.0M539.2,106.6L543.4,108.3L546.6,111.6M527.3,93.3L527.8,98.1L528.2,102.8L529.7,107.4M529.7,107.4l-0.2,9.7M529.7,107.4L531.3,111.9L530.2,116.6M531.1,91.1L534.3,89.3L537.9,89.0M537.9,89.0l4.2,-2.8M537.9,89.0L541.4,90.2L544.9,91.3L547.9,89.3M528.5,103.1L529.2,105.3L530.3,107.2L531.8,108.9M531.8,108.9l8.9,2.0M531.8,108.9L533.1,110.8L534.5,112.6M523.6,91.4L518.8,93.2L513.7,92.7M513.7,92.7l-3.8,-2.1M513.7,92.7L508.6,93.4L503.5,94.1L499.0,96.7M522.5,88.6L521.2,85.7L520.2,82.7L517.8,80.6L517.4,77.4L517.5,74.2M527.2,92.6L531.1,93.9L534.1,96.8M534.1,96.8l2.1,7.8M534.1,96.8L536.5,100.2L539.9,102.6L544.0,103.0M527.3,94.1L527.7,98.7L529.3,103.0L528.1,107.4M528.1,107.4l-2.8,3.6M528.1,107.4L526.9,111.9L528.2,116.3M526.8,91.7L531.1,90.3L535.2,88.5M535.2,88.5l5.3,-6.7M535.2,88.5L539.1,86.3M539.1,86.3l4.9,-8.5M539.1,86.3L543.6,86.2L548.1,86.4M533.8,91.3L538.0,91.7L542.1,91.0L546.0,89.6M546.0,89.6l9.0,-0.4M546.0,89.6L549.4,87.2L553.4,88.7M515.8,95.1L514.5,95.8L513.0,96.0M513.0,96.0l-5.1,2.6M513.0,96.0L511.5,96.0M511.5,96.0l-7.1,2.7M511.5,96.0L510.1,95.8L508.9,96.7M534.1,89.6L537.9,89.1L541.1,87.0M541.1,87.0l6.9,-0.3M541.1,87.0L544.8,86.1L548.5,84.9L551.2,82.2M522.9,99.0L521.5,99.8L520.3,100.9M520.3,100.9l-1.7,9.2M520.3,100.9L519.1,102.0M519.1,102.0l-4.9,1.0M519.1,102.0L517.7,102.7L516.5,103.8M526.9,90.3L526.2,86.2L527.0,82.1M527.0,82.1l4.7,-4.3M527.0,82.1L527.5,78.0L529.3,74.2L528.7,70.1M535.6,87.4L539.0,87.5L542.4,87.6L545.7,87.1M545.7,87.1l7.7,3.2M545.7,87.1L548.2,84.8L550.5,82.3M526.6,93.4L528.5,97.3L529.0,101.5L529.2,105.8M529.2,105.8l-3.2,4.3M529.2,105.8L530.5,109.9L529.5,114.0M519.6,92.1L517.7,92.3L516.0,93.3L514.2,92.5M514.2,92.5l-5.7,0.8M514.2,92.5L512.4,91.9L510.5,92.2M522.4,101.0L521.2,103.2L520.3,105.4M520.3,105.4l-4.5,3.3M520.3,105.4L519.7,107.8M519.7,107.8l-3.8,4.6M519.7,107.8L517.7,109.2L516.4,111.2M528.0,91.2L529.9,88.5L531.5,85.7M531.5,85.7l4.4,-3.0M531.5,85.7L532.1,82.5L534.7,80.4L536.0,77.4M522.4,91.9L518.5,94.0L514.4,92.6M514.4,92.6l-4.2,-6.4M514.4,92.6L510.2,94.0L505.8,93.6L501.7,95.4M532.4,94.3L534.4,94.3L536.2,94.9L538.1,95.7L540.0,95.4L541.8,96.3M523.8,90.1L520.9,87.5L517.8,85.3M517.8,85.3l-4.5,-8.2M517.8,85.3L515.9,81.9L513.3,79.0L510.1,76.8M529.3,88.0L531.3,86.7L533.3,85.3L534.0,83.0M534.0,83.0l-1.4,-8.4M534.0,83.0L536.2,82.1L538.1,80.6M532.7,92.8L536.5,95.1L539.5,98.5M539.5,98.5l5.0,2.9M539.5,98.5L542.2,102.0L546.0,104.5L550.4,105.7M519.8,97.8L517.4,99.9L516.0,102.9L515.2,106.0L514.2,109.0L514.1,112.3M530.5,93.7L533.4,97.6L537.8,99.6L542.4,101.2L546.3,104.1L550.4,106.6M518.7,93.7L516.2,93.3L514.2,94.8L512.4,96.6L510.6,98.5L508.1,98.9M526.3,91.9L520.8,91.4L515.4,90.1M515.4,90.1l-7.6,2.5M515.4,90.1L509.9,89.2M509.9,89.2l-5.2,-2.7M509.9,89.2L505.1,86.5L500.5,83.4M528.6,100.4L528.1,102.6L528.4,104.9M528.4,104.9l4.9,4.7M528.4,104.9L528.2,107.2L529.3,109.2L530.7,111.0M526.8,89.2L529.8,85.7L530.6,81.1L530.3,76.5L533.5,73.3L537.3,70.6M529.5,94.1L532.6,96.2L535.7,98.2L539.0,99.9L542.3,101.6L545.8,102.9" fill="none" stroke="#1a1a1a" stroke-width="1.1" stroke-opacity="0.45" stroke-linecap="round" stroke-linejoin="round"/>
<circle cx="580.3" cy="90.0" r="27.3" fill="url(#pgB)"/>
<path d="M596.5,106.2l3.2,3.2M559.0,87.8l-2.5,0.3M586.1,96.7l2.4,5.7M569.7,84.2l-3.5,-2.2M562.7,73.3l-1.7,-4.8M580.6,64.3l0.7,-3.7M574.1,92.5l-2.6,3.4M588.8,76.5l2.6,-2.2M575.3,91.9l-3.6,4.9M555.8,95.0l-5.1,1.8M565.6,80.8l-3.4,-1.9M578.4,110.7l0.6,2.5M587.9,91.5l3.7,4.2M567.0,98.2l-5.0,4.7M585.9,97.7l4.1,3.0M579.6,75.3l2.7,-4.4M572.8,86.8l-2.1,-2.4M575.6,105.4l-2.3,2.9M592.3,76.1l2.6,-2.1M574.8,114.9l0.6,5.6M577.7,116.3l-1.4,6.2M563.4,85.2l-3.4,-2.8M593.2,70.9l5.0,-1.9M604.2,89.3l5.5,3.7M582.5,116.1l-3.3,5.9M567.0,67.0l-2.0,-1.6M566.2,109.0l-2.9,5.5M587.0,115.1l3.2,4.3M584.7,113.2l-0.9,3.4M582.1,96.5l1.1,2.3M575.7,104.4l-4.4,3.2M562.7,75.7l-4.9,-4.2M575.1,89.5l-4.7,-0.9M568.8,74.2l-2.6,-4.2M579.9,102.0l1.1,5.8M601.7,98.5l3.4,1.3M556.9,85.5l-6.5,0.0M603.1,79.1l2.7,-1.0M566.9,95.6l-4.2,-0.7M590.8,72.2l5.0,-4.5M592.9,98.7l4.6,0.7M575.2,72.6l-1.9,-5.4M559.6,94.9l-4.4,3.1M594.2,71.8l4.5,-1.1M595.6,86.1l2.4,-1.0M559.6,88.6l-2.3,1.3M603.9,91.9l3.1,-0.2M559.5,84.0l-3.8,-1.2M560.1,89.6l-3.2,0.7M581.6,77.4l1.3,-3.4M590.2,88.8l5.6,3.5M581.6,114.7l2.8,6.3M603.2,98.6l5.3,4.4M569.6,103.7l-5.4,2.5M565.7,105.7l-3.5,5.9M584.8,106.1l-1.0,3.0M584.2,98.4l0.5,5.7M594.6,81.7l3.0,-4.9M582.7,115.1l2.7,5.5M586.7,80.8l3.3,-1.6M573.0,66.7l-1.4,-3.9M596.3,82.0l2.8,-6.3M581.3,73.4l0.4,-4.6M593.5,108.1l-0.0,6.1M577.4,85.4l-2.0,-5.8M558.6,97.8l-3.3,5.5M560.0,100.3l-5.2,1.2M589.6,67.0l3.0,-3.2M587.6,90.6l2.7,-0.2M557.4,82.7l-4.0,-3.8M577.4,102.1l-3.8,3.9M597.1,105.4l2.4,2.3M588.9,70.5l2.5,-1.6M575.6,83.6l-4.4,-5.4M597.7,84.8l4.8,1.5M572.0,100.5l-0.0,3.8M590.9,71.4l2.4,-1.2M576.3,106.7l-3.2,2.9M580.9,84.1l1.4,-2.9M605.7,95.5l3.3,0.3M598.5,98.7l4.3,-0.3M562.6,76.4l-3.7,-1.4M584.0,97.7l2.9,3.5M563.5,109.7l-3.4,1.5M582.5,98.2l3.6,5.0M568.4,76.8l-0.9,-4.4M568.4,86.8l-6.1,1.7M596.3,101.6l3.3,3.0M568.0,88.2l-2.6,0.9M575.6,72.0l-0.5,-3.9M584.7,101.1l1.6,2.9M559.1,94.1l-5.3,2.1M576.6,96.9l-0.7,2.6M599.2,98.6l3.4,3.0M588.1,94.7l3.3,3.1M591.8,79.7l6.8,-1.2M567.7,78.9l-2.0,-3.3M593.4,68.6l3.4,-1.6M567.1,95.8l-6.4,1.4M584.9,109.0l3.9,5.7M583.7,78.7l0.6,-2.6M579.3,99.5l-0.7,6.9M585.9,104.6l0.8,6.8M565.4,83.6l-4.7,-4.8M558.7,89.9l-5.6,-0.1M572.0,84.7l-3.0,-1.6M568.6,90.1l-3.2,1.8M567.9,69.0l-2.8,-2.8" fill="none" stroke="#1a1a1a" stroke-width="0.8" stroke-opacity="0.27" stroke-linecap="round"/>
<path d="M575.9,82.9L572.9,81.1L569.9,79.1M569.9,79.1l-2.1,-6.9M569.9,79.1L566.6,77.8M566.6,77.8l-4.0,1.2M566.6,77.8L564.4,75.0L561.8,72.6M581.7,93.4L582.2,97.7L581.3,102.0L582.6,106.1L583.9,110.2L586.0,114.0M574.5,82.6L573.5,81.7L572.4,80.9L571.3,80.1M571.3,80.1l-3.5,-5.0M571.3,80.1L571.0,78.8L569.7,78.2M576.4,88.5L573.5,87.9L571.0,86.3M571.0,86.3l-2.2,-3.9M571.0,86.3L569.1,84.0M569.1,84.0l-0.5,-6.1M569.1,84.0L566.7,82.3L563.7,82.0M573.1,93.5L569.8,93.3L566.6,93.4L563.3,93.8L560.2,94.8L556.9,94.6M588.2,96.7L589.1,97.1L590.0,97.5L591.0,97.7L591.5,98.6L592.1,99.4M577.7,90.2L574.9,89.6L572.2,88.7M572.2,88.7l-3.8,-4.2M572.2,88.7L569.5,89.4L566.6,89.2L564.1,90.4M574.1,87.7L571.8,87.0L570.0,85.5L567.9,84.4M567.9,84.4l-5.0,-7.6M567.9,84.4L566.3,82.7L564.1,81.6M579.5,90.1L576.6,91.2L573.6,90.5L570.4,90.5L567.3,90.6L564.4,91.6M580.3,89.9L580.1,84.8L577.8,80.4M577.8,80.4l-3.4,-2.6M577.8,80.4L575.3,76.0L573.7,71.2L573.4,66.2M575.5,90.9L573.7,92.8L571.6,94.2M571.6,94.2l-3.7,6.8M571.6,94.2L569.1,94.6L567.1,96.2L565.0,97.6M580.1,90.7L578.7,95.3L578.4,100.1M578.4,100.1l-2.7,3.2M578.4,100.1L576.5,104.5L574.9,109.1L572.8,113.4M575.0,98.1L574.8,101.2L574.4,104.3L574.7,107.4M574.7,107.4l-3.5,7.1M574.7,107.4L573.7,110.4L574.5,113.4M582.4,99.7L582.9,103.2L582.8,106.8L584.6,109.8L585.3,113.3L584.1,116.6M583.9,81.7L585.0,80.9L585.8,79.8L586.5,78.7M586.5,78.7l1.2,-4.8M586.5,78.7L587.2,77.5L588.3,76.8M583.8,83.7L584.1,80.6L585.1,77.7M585.1,77.7l-1.9,-8.0M585.1,77.7L587.0,75.3L589.2,73.2L591.9,71.7M579.9,81.4L579.9,77.8L579.7,74.2L579.9,70.5L580.2,66.9L579.2,63.4M588.6,90.2L590.2,89.6L591.8,89.2M591.8,89.2l5.9,0.8M591.8,89.2L593.5,89.4L595.2,89.4L596.8,88.9M580.2,90.0L575.1,87.8L570.7,84.4L567.3,80.1M567.3,80.1l-0.2,-7.4M567.3,80.1L563.6,76.0L558.1,75.4M579.9,82.7L580.7,79.8L579.4,77.1L579.5,74.1M579.5,74.1l4.0,-7.7M579.5,74.1L579.2,71.2L579.6,68.2M577.5,99.8L576.3,101.1L576.0,102.9L575.0,104.4L573.8,105.7L573.3,107.4M574.7,98.3L573.6,99.0L573.5,100.2L573.0,101.4M573.0,101.4l-7.5,5.2M573.0,101.4L572.6,102.6L572.2,103.8M578.7,88.2L576.6,84.1L575.6,79.6L572.7,76.0M572.7,76.0l-1.2,-4.4M572.7,76.0L571.5,71.5L571.6,66.9M581.3,93.3L583.0,96.0L585.2,98.2M585.2,98.2l8.1,2.0M585.2,98.2L585.8,101.3M585.8,101.3l3.7,5.0M585.8,101.3L585.5,104.5L586.2,107.6M580.9,91.3L580.7,96.0L581.9,100.6M581.9,100.6l-0.6,4.2M581.9,100.6L584.8,104.3M584.8,104.3l3.9,1.5M584.8,104.3L587.4,108.3L586.5,113.0M585.4,84.8L586.5,83.2L588.4,82.8M588.4,82.8l5.5,-3.7M588.4,82.8L590.1,81.9L591.5,80.7L593.3,79.9M584.5,83.3L586.6,80.1L588.4,76.7M588.4,76.7l8.0,-3.5M588.4,76.7L590.4,73.5L591.6,69.9L593.8,66.7M580.5,92.1L580.4,95.3L580.9,98.4L582.8,101.0L582.5,104.2L584.2,106.8M571.2,87.6L570.0,86.9L569.0,86.0M569.0,86.0l-3.5,-6.3M569.0,86.0L568.1,85.0L566.9,84.3L565.8,83.6M578.0,86.7L577.6,84.0L577.9,81.4L576.6,79.0L574.9,76.9L574.0,74.3M572.4,82.7L571.3,81.1L570.5,79.5M570.5,79.5l-5.0,-4.1M570.5,79.5L569.7,77.8L568.0,76.9L566.3,76.3M575.2,98.9L573.9,100.8L573.6,103.2M573.6,103.2l-2.4,4.9M573.6,103.2L571.6,104.5L570.4,106.6L570.5,109.0M578.3,87.4L577.3,84.8L575.9,82.4L573.6,80.9M573.6,80.9l-9.1,-1.3M573.6,80.9L572.9,78.2L571.3,75.9M580.3,89.7L580.1,86.0L579.9,82.3M579.9,82.3l-4.0,-8.1M579.9,82.3L578.9,78.7L580.1,75.2L581.2,71.7M580.6,89.9L584.5,86.8L589.3,85.3L594.0,83.2M594.0,83.2l1.9,-3.7M594.0,83.2L598.9,82.4L603.3,79.9M578.9,89.9L574.2,89.9L569.8,88.2M569.8,88.2l-4.8,-8.0M569.8,88.2L565.3,89.3L560.9,90.9L556.8,93.1M585.5,92.0L589.8,91.1L594.1,90.7L598.5,91.0M598.5,91.0l6.6,4.4M598.5,91.0L602.9,90.8L607.2,91.5M581.7,93.7L583.7,96.0L585.1,98.8L587.5,100.8L587.8,103.9L589.8,106.2M580.0,90.3L575.7,92.6L572.6,96.5L570.3,100.9L568.0,105.2L566.7,110.0M574.3,82.7L572.8,81.5L572.2,79.7L572.0,77.9M572.0,77.9l1.7,-8.2M572.0,77.9L570.4,76.8L568.7,76.1M584.2,91.7L587.4,94.6L590.9,97.0M590.9,97.0l4.2,7.5M590.9,97.0L595.2,97.6M595.2,97.6l4.6,-2.8M595.2,97.6L599.4,97.8L602.5,100.9M582.9,86.5L584.9,85.5L585.7,83.5L587.6,82.5L589.0,80.8L589.5,78.7M572.5,91.2L570.1,90.5L568.0,91.7M568.0,91.7l-4.1,-0.0M568.0,91.7L565.6,92.3L563.5,93.6L561.1,93.1M581.1,95.1L581.3,97.8L582.6,100.2M582.6,100.2l6.3,6.0M582.6,100.2L583.3,102.8L584.9,105.0L586.4,107.3M580.3,98.3L579.5,99.7L579.2,101.3L579.9,102.7M579.9,102.7l5.3,3.0M579.9,102.7L580.0,104.3L579.7,105.8M586.6,87.3L590.4,87.8L594.1,86.8M594.1,86.8l3.2,-3.9M594.1,86.8L597.1,84.5M597.1,84.5l4.4,-1.5M597.1,84.5L600.8,83.5L603.4,80.6M574.2,94.9L572.9,98.5L572.2,102.1L568.8,103.7L566.1,106.3L563.1,108.5M582.6,92.8L583.4,95.2L583.9,97.8L585.2,100.0M585.2,100.0l6.4,4.2M585.2,100.0L585.5,102.6L586.5,105.0M570.1,93.8L567.4,94.8L564.6,95.1M564.6,95.1l-4.0,-1.2M564.6,95.1L562.1,96.4M562.1,96.4l-5.8,1.0M562.1,96.4L559.8,98.0L557.0,98.8M576.2,87.8L573.1,87.1L570.1,86.4L567.2,85.3L564.1,85.4L561.0,85.7M585.8,93.9L587.5,94.0L588.7,95.1L590.0,96.1L591.3,97.1L592.8,97.9M577.6,95.5L577.3,97.8L577.2,100.2L575.9,102.1L575.6,104.5L575.6,106.8M588.3,84.7L590.1,84.1L591.9,83.9L593.5,83.3L595.3,82.8L597.0,82.2M571.8,91.9L569.0,93.5L566.1,94.6L562.9,94.6L560.7,97.0L557.6,96.8" fill="none" stroke="#1a1a1a" stroke-width="1.1" stroke-opacity="0.45" stroke-linecap="round" stroke-linejoin="round"/>
<circle cx="716.4" cy="110.0" r="24.7" fill="url(#pgB)"/>
<path d="M702.6,115.5l-6.1,-0.8M728.7,89.6l4.5,-3.3M699.1,100.3l-3.7,-1.8M705.5,90.0l-0.7,-6.4M731.7,122.4l2.6,3.4M728.5,105.9l2.6,0.9M717.5,101.3l2.3,-4.1M699.0,120.3l-2.9,2.1M702.6,97.7l-3.2,-2.3M714.8,123.4l-4.5,4.5M695.5,112.6l-2.4,2.5M738.1,101.1l4.6,-1.8M727.9,89.7l0.4,-5.2M730.4,114.1l5.1,4.3M708.1,93.4l-1.1,-2.7M717.6,103.1l-0.3,-2.9M721.0,99.1l1.0,-2.6M714.6,128.1l-1.5,4.2M712.7,99.7l0.4,-5.2M697.0,120.4l-1.3,2.5M726.3,94.9l3.8,-2.5M706.6,126.4l-2.6,2.2M693.9,102.8l-6.7,-1.4M722.9,103.1l1.7,-2.6M720.3,117.7l1.9,4.4M694.7,103.1l-3.2,-1.1M722.9,92.6l3.2,-2.3M729.6,102.6l2.2,-1.8M701.0,109.8l-6.0,2.1M698.0,124.1l-5.3,3.3M717.4,125.3l3.6,5.1M706.8,92.8l-4.4,-4.1M727.6,107.0l3.7,-0.7M709.3,131.2l-4.8,3.2M735.2,117.7l6.9,-0.2M711.0,133.0l-2.0,2.7M732.5,116.6l4.8,5.0M718.7,127.5l-1.2,2.2M731.8,101.9l4.1,-2.0M722.2,132.1l2.7,1.9M711.3,123.3l-3.9,3.4M709.1,127.3l-0.2,3.4M718.3,127.2l1.5,2.3M706.0,107.1l-3.2,-1.8M704.4,116.6l-5.9,-0.9M702.9,115.2l-5.4,1.4M720.2,126.2l2.4,5.3M719.8,108.2l2.3,-4.2M699.7,113.0l-3.7,3.5M708.5,93.6l-1.2,-3.9M727.9,128.1l2.8,2.5M734.5,113.5l2.4,-0.9M715.0,95.5l-3.1,-5.9M736.9,104.2l6.8,1.4M710.9,124.8l1.9,5.3M708.5,121.8l-1.0,4.6M732.8,95.5l2.6,-4.9M727.1,122.5l1.6,2.2M728.6,91.7l4.5,-2.1M732.1,94.5l3.3,-2.9M710.2,123.5l0.8,3.8M707.7,129.2l-2.6,3.1M715.9,103.1l-2.0,-6.3M711.1,110.1l-6.4,-2.0M732.4,106.4l3.9,1.4M700.4,110.3l-3.7,2.9M732.8,109.3l5.8,-3.7M703.3,118.8l-3.1,5.2M720.1,89.8l-0.9,-2.9M737.9,109.7l2.2,-1.3M719.9,119.7l1.2,3.5M737.3,105.1l4.5,-1.1M729.1,91.7l2.6,-6.3M737.1,119.4l5.0,-1.3M715.6,103.0l1.5,-4.0M726.9,122.2l4.1,5.6M710.8,99.9l-3.4,-3.1M725.0,116.4l1.9,1.7M718.5,127.5l-1.0,2.5M737.8,102.9l2.3,-1.6M715.1,96.7l-1.3,-2.6M698.4,97.7l-3.1,-0.7M699.5,109.9l-6.1,2.2M701.3,121.0l-1.9,2.5M702.5,117.0l-6.4,0.4M723.1,100.1l0.8,-3.2M705.5,118.7l-5.4,0.5M720.9,131.6l2.5,2.7M721.3,115.9l2.6,1.7M714.5,123.0l-3.5,3.6M733.9,109.2l2.6,-0.8M720.1,109.1l2.5,1.2M722.8,112.0l3.0,-0.5M709.4,103.2l-1.3,-2.9M726.8,124.5l4.9,3.2M724.7,102.0l2.1,-3.3M734.2,117.9l2.9,3.1" fill="none" stroke="#1a1a1a" stroke-width="0.8" stroke-opacity="0.27" stroke-linecap="round"/>
<path d="M711.1,107.6L707.4,108.2L703.9,109.3L700.1,109.4M700.1,109.4l-6.3,-1.7M700.1,109.4L696.4,109.6L693.2,107.7M721.2,110.0L723.6,111.5L725.9,113.2M725.9,113.2l4.4,1.3M725.9,113.2L727.8,115.2L729.4,117.6L732.2,117.9M714.3,106.7L713.1,103.7L710.8,101.2L710.1,98.0L707.2,96.3L707.0,93.0M714.7,111.3L712.7,113.5L710.8,115.8M710.8,115.8l-7.4,1.8M710.8,115.8L709.9,118.7L707.3,120.2L705.7,122.7M715.7,110.0L713.0,111.4L710.2,112.8L708.5,115.2L706.4,117.4L704.4,119.7M717.3,108.0L719.7,106.1L720.8,103.3L723.2,101.2L725.1,98.8L727.3,96.7M722.6,113.2L725.6,113.1L728.1,114.7L731.2,114.9L734.0,115.9L736.9,116.9M715.6,106.6L716.0,104.6L715.4,102.7M715.4,102.7l1.5,-4.2M715.4,102.7L716.3,100.9L715.6,99.0L715.7,97.0M722.4,113.4L724.3,113.3L725.6,114.7L726.9,116.1L728.9,116.1L730.7,116.9M713.0,109.5L709.9,110.0L707.0,111.5L703.9,110.6L701.1,112.3L697.9,112.6M716.5,110.1L718.3,112.5L720.9,114.2L723.8,115.1M723.8,115.1l4.0,4.5M723.8,115.1L726.8,115.6L728.2,118.3M713.6,110.7L709.9,112.7L705.8,113.7L701.9,115.2L697.8,116.0L693.7,115.2M709.0,111.8L706.6,110.9L704.3,109.7M704.3,109.7l-3.6,-3.8M704.3,109.7L701.8,109.3M701.8,109.3l-2.9,-2.7M701.8,109.3L699.5,110.5L697.3,111.8M718.0,107.3L721.6,105.4L723.7,101.9M723.7,101.9l0.4,-7.4M723.7,101.9L725.2,98.1L728.1,95.1L731.6,92.9M716.2,108.2L713.6,104.3L711.3,100.3L709.9,95.8L706.8,92.4L704.9,88.1M723.1,116.9L724.0,118.5L725.6,119.4L727.3,120.0M727.3,120.0l4.6,0.1M727.3,120.0L728.5,121.3L728.9,123.1M721.7,108.2L723.5,108.3L725.0,107.5M725.0,107.5l5.7,0.8M725.0,107.5L726.7,107.8L728.3,108.5L730.0,108.6M717.3,111.4L720.3,114.9L724.3,117.5M724.3,117.5l4.1,4.9M724.3,117.5L727.9,120.4L732.2,122.2L736.6,123.9M723.5,108.8L726.4,108.3L729.0,106.8L731.7,105.7M731.7,105.7l3.8,-3.2M731.7,105.7L734.3,104.3L737.2,104.7M715.6,111.4L712.8,113.0L709.6,113.7L706.3,113.4M706.3,113.4l-5.1,1.5M706.3,113.4L703.5,115.1L700.6,116.6M715.2,112.2L713.8,116.2L713.2,120.4L709.9,123.0L710.4,127.2L710.6,131.5M722.9,112.4L724.8,113.5L726.2,115.2M726.2,115.2l1.9,6.4M726.2,115.2L727.5,117.0L729.0,118.6L731.1,119.1M725.8,107.6L727.7,106.5L729.9,106.2L732.0,105.8M732.0,105.8l5.6,1.0M732.0,105.8L734.2,105.7L736.4,105.2M717.3,117.6L717.2,119.2L717.4,120.9M717.4,120.9l-1.3,5.3M717.4,120.9L718.1,122.4L718.3,124.0L719.3,125.3M722.1,113.5L724.7,114.4L727.2,115.7L729.1,117.6L731.0,119.6L732.7,121.8M716.6,109.0L717.0,106.1L718.9,103.8L721.0,101.7M721.0,101.7l2.1,-4.8M721.0,101.7L721.2,98.8L722.8,96.3M718.0,110.8L720.4,112.9L723.6,113.0L726.2,114.9L729.3,114.7L732.5,114.2M709.1,114.2L708.3,115.5L707.4,116.9M707.4,116.9l-7.1,4.4M707.4,116.9L706.4,118.1L705.4,119.4L704.1,120.3M711.0,107.3L707.6,106.4L704.0,106.5L700.4,106.3M700.4,106.3l-6.0,-3.5M700.4,106.3L696.9,106.3L693.3,106.6M714.7,117.0L713.1,119.4L711.7,121.8L709.8,124.0M709.8,124.0l-0.7,7.0M709.8,124.0L709.9,126.8L708.4,129.2M721.1,102.9L723.4,101.9L725.1,100.1L727.5,99.5M727.5,99.5l4.6,-4.8M727.5,99.5L729.8,98.5L730.9,96.2M712.3,111.1L709.5,111.7L706.8,112.0L704.0,112.4L702.0,114.3L699.4,115.2M720.2,115.1L721.1,117.0L722.4,118.7M722.4,118.7l0.7,6.6M722.4,118.7L722.6,120.8L724.0,122.4L725.2,124.2M716.6,110.8L715.7,113.3L714.8,115.8M714.8,115.8l1.4,7.0M714.8,115.8L715.6,118.4M715.6,118.4l-1.9,5.9M715.6,118.4L716.0,121.1L716.5,123.7M713.2,117.8L712.2,119.5L712.4,121.6M712.4,121.6l-1.4,5.0M712.4,121.6L712.7,123.6M712.7,123.6l3.3,3.4M712.7,123.6L713.0,125.7L712.1,127.5M720.5,118.1L722.2,120.8L722.3,124.0M722.3,124.0l2.6,6.4M722.3,124.0L721.9,127.2L723.5,130.0L724.8,132.9M717.9,104.7L717.2,101.9L718.5,99.3L718.9,96.4M718.9,96.4l3.8,-6.4M718.9,96.4L720.7,94.1L721.9,91.5M716.6,109.9L718.6,107.9L720.6,105.7M720.6,105.7l0.4,-6.6M720.6,105.7L721.9,103.2M721.9,103.2l-0.0,-4.0M721.9,103.2L723.2,100.6L725.4,98.7M718.3,115.7L720.0,118.9L722.5,121.7L722.8,125.3L725.3,127.9L726.5,131.3M714.2,111.5L712.0,113.6L709.1,114.7M709.1,114.7l-5.0,6.8M709.1,114.7L707.9,117.5L705.6,119.5L704.1,122.1M716.9,110.0L720.1,109.9L723.3,109.5L726.1,107.8L729.2,106.9L732.3,107.9M712.1,116.0L710.1,118.0L709.3,120.8M709.3,120.8l0.2,6.3M709.3,120.8L707.3,122.8M707.3,122.8l-3.0,6.0M707.3,122.8L705.3,124.7L702.9,126.3M717.1,106.7L718.7,102.7L717.6,98.5L715.6,94.7M715.6,94.7l-3.2,-3.0M715.6,94.7L717.3,90.7L716.8,86.4M714.9,110.3L712.5,111.0L710.2,110.1L707.7,110.4L705.7,111.7L703.4,112.7M718.8,113.7L720.2,115.8L722.3,117.1M722.3,117.1l3.9,5.6M722.3,117.1L722.7,119.5M722.7,119.5l-1.7,6.1M722.7,119.5L724.3,121.3L724.4,123.7M707.3,108.5L704.4,109.3L701.4,109.0M701.4,109.0l-4.1,-2.8M701.4,109.0L698.4,109.0M698.4,109.0l-5.3,-2.0M698.4,109.0L695.5,109.8L692.7,108.7M716.0,110.1L712.6,113.3L709.0,116.2L705.8,119.5L702.4,122.7L700.6,126.9M720.9,108.5L724.8,109.0L728.5,110.4M728.5,110.4l7.8,-2.4M728.5,110.4L731.9,108.3L735.9,108.4L739.8,107.8" fill="none" stroke="#1a1a1a" stroke-width="1.1" stroke-opacity="0.45" stroke-linecap="round" stroke-linejoin="round"/>
<circle cx="568.0" cy="140.5" r="26.2" fill="url(#pgB)"/>
<path d="M575.6,117.4l1.8,-4.7M545.7,133.5l-5.4,1.9M553.5,155.2l-2.3,5.8M590.5,149.9l3.8,3.9M578.5,141.3l4.8,-0.2M575.0,128.9l2.1,-1.6M552.8,153.8l-1.7,3.0M563.6,160.7l1.7,5.4M570.3,146.7l0.7,4.2M580.2,150.1l1.3,3.5M566.5,159.1l-1.0,5.8M585.5,154.2l3.2,5.7M579.8,159.7l5.7,3.3M577.5,133.7l4.9,-2.4M572.6,130.4l0.2,-4.0M564.5,125.6l-1.0,-6.6M577.5,125.0l1.3,-2.9M564.3,127.5l1.3,-2.9M555.0,141.5l-3.1,1.3M571.5,150.8l-0.9,5.4M575.5,118.4l3.7,-5.6M557.2,135.5l-2.3,-2.1M588.3,133.0l1.8,-2.5M558.7,159.0l-2.3,6.6M573.1,120.9l1.2,-3.1M555.5,136.1l-2.5,-0.6M573.2,118.5l1.9,-4.7M572.7,158.5l-2.5,6.4M562.3,152.7l-1.9,4.2M568.2,134.7l-2.2,-4.5M591.5,132.0l2.4,-3.7M555.7,127.0l-2.2,-5.2M562.2,129.0l-1.3,-5.4M551.4,139.1l-2.4,-1.4M550.2,124.3l-1.8,-5.1M589.4,131.2l5.6,-3.4M562.5,165.5l1.8,3.4M555.4,152.8l-5.5,2.3M569.2,144.9l0.1,6.1M578.1,147.4l1.2,3.6M580.8,132.3l2.7,-2.4M581.6,137.2l4.5,2.2M553.8,135.2l-2.3,-3.9M589.4,140.9l4.0,0.1M584.9,124.0l5.0,-4.2M568.8,148.0l2.0,3.2M561.0,137.7l-3.9,-5.0M587.8,133.5l5.2,-4.4M573.8,128.6l2.0,-5.7M579.8,146.5l2.0,3.2M569.7,153.7l2.9,4.1M555.3,139.2l-2.9,-0.2M548.7,127.6l-7.0,-0.2M567.1,153.5l-1.1,5.8M556.1,119.8l0.6,-5.2M581.5,151.6l5.4,1.6M547.6,141.0l-4.2,-0.3M581.2,121.8l5.6,-3.4M559.6,157.5l-3.1,2.3M565.6,159.3l-1.7,3.3M592.6,137.4l4.8,1.9M552.5,129.2l-4.0,-5.8M561.1,163.5l-0.2,4.2M564.9,124.1l-1.5,-3.6M575.3,153.2l1.0,2.9M564.3,165.0l-0.6,4.1M542.9,143.6l-4.7,-2.4M579.0,142.9l2.4,1.2M580.3,152.4l5.8,0.6M552.6,137.3l-3.2,-3.9M592.2,139.3l4.1,-1.3M552.9,128.8l-2.0,-5.0M551.5,123.3l-2.2,-1.6M551.6,130.1l-1.7,-2.3M563.4,116.9l0.5,-4.5M560.3,122.7l0.5,-6.7M575.0,119.9l1.5,-2.6M561.1,152.8l0.5,3.5M559.6,129.5l-3.3,-0.8M557.2,133.0l-3.5,-5.4M554.1,137.7l-5.3,-0.1M580.6,127.9l5.7,-0.8M559.3,116.6l-1.7,-2.9M589.9,146.5l4.3,0.8M563.9,137.8l-1.4,-4.4M550.9,123.5l-1.7,-6.7M548.3,156.5l-1.7,6.5M556.9,140.7l-4.6,1.7M575.8,157.0l1.9,4.6M582.1,151.6l3.5,0.8M579.1,119.7l5.3,-4.5M566.3,135.1l-0.0,-7.0M544.3,149.7l-3.1,1.5M546.0,150.3l-5.1,1.7M565.2,130.6l-0.1,-6.2M558.2,120.2l-2.6,-3.2M576.5,140.4l3.6,-2.4M565.6,121.8l0.6,-6.7M570.8,148.7l0.8,2.8M558.2,135.1l-2.9,-1.7M582.3,133.4l4.1,-3.3M580.6,152.9l1.9,2.7M564.3,134.6l-1.2,-5.6" fill="none" stroke="#1a1a1a" stroke-width="0.8" stroke-opacity="0.27" stroke-linecap="round"/>
<path d="M571.0,137.0L572.7,133.5L576.3,132.0L577.1,128.2L578.3,124.5L581.8,123.0M563.9,132.8L562.1,131.0L561.1,128.7L560.1,126.4L558.2,124.8L556.3,123.1M571.4,143.2L572.0,145.3L572.9,147.3M572.9,147.3l4.4,2.5M572.9,147.3L573.5,149.4L574.8,151.2L575.1,153.3M562.2,135.0L561.7,132.8L560.2,131.3M560.2,131.3l-0.7,-4.6M560.2,131.3L558.2,130.4M558.2,130.4l-7.1,0.2M558.2,130.4L557.4,128.3L556.3,126.4M558.1,140.5L555.4,141.7L552.6,142.1M552.6,142.1l-7.9,-4.3M552.6,142.1L549.7,142.9M549.7,142.9l-4.0,-1.6M549.7,142.9L547.5,144.7L545.1,146.5M563.9,141.6L560.1,143.0L556.2,143.6M556.2,143.6l-6.2,-2.5M556.2,143.6L552.9,145.8L549.6,148.0L545.8,149.2M566.9,136.1L567.0,133.1L566.9,130.2L566.1,127.4M566.1,127.4l2.4,-7.8M566.1,127.4L567.3,124.7L566.7,121.8M565.8,143.9L562.5,145.5L560.4,148.5M560.4,148.5l-7.8,2.8M560.4,148.5L558.7,151.8M558.7,151.8l-7.7,3.5M558.7,151.8L558.4,155.4L557.2,158.8M564.2,150.2L562.9,151.4L561.9,152.8L560.5,153.6L559.0,154.6L558.1,156.0M570.7,140.6L574.4,139.1L578.3,138.4L582.3,137.9L585.8,135.9L589.8,135.8M572.7,138.6L575.5,137.1L578.1,135.2M578.1,135.2l2.0,-4.7M578.1,135.2L581.3,134.6M581.3,134.6l5.5,-4.1M581.3,134.6L584.3,133.6L586.3,131.0M573.5,148.8L576.1,150.5L578.1,152.9L579.8,155.5M579.8,155.5l4.1,2.8M579.8,155.5L582.6,157.0L585.5,158.1M567.6,144.9L565.2,148.4L565.8,152.7M565.8,152.7l-2.3,7.5M565.8,152.7L567.0,156.8M567.0,156.8l4.4,5.6M567.0,156.8L568.8,160.8L569.3,165.1M560.0,146.9L558.6,147.3L557.4,148.1M557.4,148.1l-4.3,0.5M557.4,148.1L556.0,148.5M556.0,148.5l-4.5,5.4M556.0,148.5L554.9,149.5L553.8,150.4M567.7,133.6L568.6,130.3L570.3,127.2L569.2,123.9L569.1,120.4L568.7,116.9M566.0,150.3L566.6,152.0L565.9,153.8L565.6,155.6M565.6,155.6l1.5,3.8M565.6,155.6L564.5,157.1L563.2,158.4M565.6,135.0L565.2,132.1L565.3,129.1M565.3,129.1l-3.3,-7.2M565.3,129.1L565.7,126.1L566.8,123.3L565.3,120.7M568.2,148.9L568.0,151.7L566.5,154.1L566.0,156.8L564.3,159.1L562.6,161.3M563.9,142.9L562.3,146.1L561.1,149.6L558.9,152.4L555.6,154.1L553.8,157.2M574.9,137.6L578.0,137.5L580.4,135.5L582.6,133.3L584.6,130.9L587.2,129.2M569.2,132.5L568.8,130.5L568.1,128.5L568.6,126.4M568.6,126.4l-1.8,-7.5M568.6,126.4L569.7,124.6L568.9,122.7M575.3,139.7L576.8,139.9L578.0,140.5L579.4,140.5L580.8,140.9L582.2,140.6M574.1,143.9L576.4,143.9L578.6,144.4L580.8,144.0M580.8,144.0l7.4,-4.2M580.8,144.0L582.8,145.0L585.0,144.7M574.2,136.3L575.7,134.3L577.5,132.5L579.4,130.9L581.7,129.8L582.6,127.5M568.7,134.7L568.5,131.5L567.7,128.3M567.7,128.3l-2.4,-3.8M567.7,128.3L569.0,125.4L570.7,122.6L569.7,119.5M569.7,144.5L571.4,147.0L572.0,149.9M572.0,149.9l2.7,4.5M572.0,149.9L572.0,152.9L571.5,155.9L572.5,158.7M566.4,136.8L566.3,133.9L566.0,131.0M566.0,131.0l4.8,-7.6M566.0,131.0L567.1,128.3L567.9,125.5L566.4,123.0M566.3,137.9L564.1,136.0L561.2,135.2L559.9,132.5M559.9,132.5l1.2,-6.1M559.9,132.5L558.2,130.0L555.8,128.2M577.2,135.7L579.5,134.0L581.9,132.5M581.9,132.5l2.7,-3.7M581.9,132.5L584.4,131.1M584.4,131.1l5.2,0.7M584.4,131.1L587.2,131.2L589.4,129.4M566.7,130.3L567.3,128.1L567.0,125.7M567.0,125.7l2.9,-4.2M567.0,125.7L568.2,123.7M568.2,123.7l-0.4,-4.6M568.2,123.7L568.2,121.3L567.3,119.1M568.2,139.0L569.0,135.0L570.3,131.1M570.3,131.1l-0.6,-4.1M570.3,131.1L570.4,127.0M570.4,127.0l-2.7,-6.6M570.4,127.0L570.7,122.9L573.2,119.7M573.0,143.7L575.2,146.5L578.7,147.2L580.6,150.2M580.6,150.2l-0.4,7.7M580.6,150.2L582.3,153.4L583.9,156.6M571.3,148.2L571.5,149.5L571.4,150.8L571.2,152.1L571.3,153.3L570.9,154.6M570.4,143.3L572.0,147.5L574.1,151.4M574.1,151.4l6.0,3.9M574.1,151.4L576.7,155.0L577.1,159.4L579.6,163.1M575.7,142.7L578.0,142.3L579.9,143.7M579.9,143.7l2.6,8.0M579.9,143.7L582.3,144.3L584.7,144.3L586.5,145.8M559.4,144.6L557.8,145.1L556.3,145.9L555.1,147.0L553.4,147.3L551.7,147.6M563.4,147.7L563.1,150.3L562.7,153.0L560.8,154.8M560.8,154.8l-0.6,4.5M560.8,154.8L559.7,157.3L559.8,160.0M561.0,140.5L558.7,140.1L556.4,139.6M556.4,139.6l-8.2,3.3M556.4,139.6L554.1,139.5M554.1,139.5l-3.8,1.3M554.1,139.5L552.0,138.7L550.1,137.3M574.3,134.6L575.9,131.3L578.9,129.3M578.9,129.3l8.8,-1.9M578.9,129.3L580.9,126.3L584.4,125.2L586.8,122.6M568.1,139.7L568.9,137.1L568.3,134.3L569.9,132.1M569.9,132.1l5.9,-4.1M569.9,132.1L569.7,129.3L570.2,126.6M574.9,145.1L576.5,147.9L579.1,149.7M579.1,149.7l4.2,-0.1M579.1,149.7L582.0,150.8L585.2,151.1L586.6,153.9M569.9,145.4L570.4,148.5L572.1,151.2L571.9,154.3M571.9,154.3l-3.0,4.9M571.9,154.3L573.8,156.8L576.1,159.0M567.1,132.7L567.3,129.4L566.6,126.1M566.6,126.1l2.6,-7.6M566.6,126.1L566.7,122.8M566.7,122.8l4.5,-6.9M566.7,122.8L566.1,119.5L565.1,116.3M563.5,138.0L560.4,137.5L557.3,138.0L554.4,136.8M554.4,136.8l-6.4,-5.8M554.4,136.8L551.6,135.5L548.8,134.3M564.3,143.5L562.9,145.8L560.5,147.1L558.1,148.4M558.1,148.4l-3.4,6.7M558.1,148.4L556.3,150.4L555.3,152.9M567.1,139.8L565.6,135.8L562.4,133.1L559.1,130.3M559.1,130.3l-1.3,-7.0M559.1,130.3L557.6,126.3L554.9,123.0M568.4,144.9L568.1,147.2L569.3,149.3M569.3,149.3l7.0,3.5M569.3,149.3L570.7,151.2L570.8,153.6L570.7,155.9M567.3,140.6L563.7,138.9L559.9,137.6L556.1,136.7L552.2,137.6L549.3,134.8M563.3,144.2L561.7,145.3L560.8,147.1M560.8,147.1l-8.2,4.1M560.8,147.1L559.2,148.3L558.3,150.0L557.2,151.7M568.1,134.5L569.1,131.7L568.9,128.7M568.9,128.7l1.8,-5.7M568.9,128.7L570.5,126.1L569.3,123.4L568.2,120.6M565.7,144.1L565.3,147.3L562.9,149.5L561.2,152.3M561.2,152.3l-6.9,4.3M561.2,152.3L558.4,153.9L556.9,156.8" fill="none" stroke="#1a1a1a" stroke-width="1.1" stroke-opacity="0.45" stroke-linecap="round" stroke-linejoin="round"/>
<circle cx="618.4" cy="127.0" r="24.7" fill="url(#pgB)"/>
<path d="M618.7,139.4l-0.4,5.9M624.1,137.2l4.8,3.3M617.0,103.6l-2.6,-5.3M595.8,121.0l-4.5,-1.4M610.3,130.0l-6.3,-0.8M626.7,126.3l6.0,2.0M627.5,116.3l5.5,-1.3M629.2,109.9l2.7,-6.1M622.3,142.2l1.9,2.3M597.7,127.6l-4.7,3.0M637.8,114.0l2.6,-1.1M605.2,107.6l-1.7,-5.9M606.6,132.5l-3.3,-0.8M633.7,141.1l2.4,2.2M612.4,120.5l-1.4,-2.1M638.8,117.5l3.4,-2.6M599.5,136.7l-3.5,-0.4M614.1,125.0l-3.0,-4.3M630.5,145.1l0.0,4.4M621.0,116.4l2.8,-2.6M601.7,142.6l-2.0,5.1M595.0,128.1l-6.7,-1.8M637.7,126.9l2.7,0.2M601.0,113.7l-2.2,-2.0M626.3,135.5l0.2,2.8M626.7,139.4l0.0,4.8M610.4,121.5l-1.7,-4.5M612.6,131.3l-5.6,0.9M624.4,150.3l0.8,4.9M628.8,138.5l2.9,3.1M620.8,143.4l-1.8,5.0M629.3,108.3l3.0,-2.2M598.5,125.3l-3.7,-1.5M596.2,135.9l-2.6,3.7M628.8,133.4l6.5,0.8M608.6,142.3l-0.6,5.2M626.7,111.7l-0.8,-4.7M636.4,125.6l3.1,-2.9M618.6,117.9l1.1,-6.4M607.5,121.0l-2.2,-2.3M636.4,124.5l2.8,0.7M631.8,117.3l2.4,-3.4M624.3,120.6l2.4,-2.4M603.0,143.4l-3.1,2.3M601.7,116.1l-3.9,-4.0M629.6,126.3l2.0,-1.8M596.9,132.9l-2.8,-0.2M604.6,141.5l-0.7,5.8M603.7,108.9l-1.1,-2.3M617.9,140.9l-0.9,3.9M603.9,117.3l-3.5,-1.3M625.7,127.1l2.5,-1.6M607.0,131.7l-6.4,0.8M629.3,119.6l2.4,-4.0M622.5,148.5l-2.6,4.9M604.6,123.6l-2.8,0.2M615.0,125.5l-3.0,0.0M609.0,119.1l-2.5,-0.9M640.1,128.4l3.6,-0.8M635.2,136.7l4.9,1.2M636.7,122.9l5.5,1.8M635.7,124.6l5.9,1.0M625.6,148.4l2.4,5.3M622.5,128.9l3.6,-0.0M634.5,115.5l5.1,-4.7M633.0,124.4l3.3,-1.8M623.0,110.4l-0.3,-5.8M633.0,118.2l4.8,0.4M639.9,133.4l3.4,2.1M635.2,139.3l4.6,2.1M626.9,121.5l4.0,-1.2M613.9,108.6l-1.4,-4.4M601.1,117.5l-4.9,0.2M622.2,124.0l5.0,-2.5M640.2,127.3l5.4,-3.8M612.1,148.5l-1.8,6.7M601.4,130.1l-3.3,-1.3M630.1,112.8l1.9,-5.6M611.1,108.7l0.9,-4.8M615.9,132.3l-4.1,2.9M627.7,109.2l3.2,-5.1M618.5,143.0l0.8,3.1M610.4,144.8l0.5,2.6M638.2,117.6l2.8,0.4M629.9,146.1l2.5,4.7M623.9,148.5l3.1,5.4M594.7,130.6l-3.7,3.7M633.0,111.7l1.9,-1.6M632.0,109.6l1.2,-4.0M601.3,142.9l-2.4,5.8M637.0,141.0l1.5,3.8M614.5,131.8l-4.8,1.7M598.8,115.4l-5.2,-1.3M603.3,119.6l-3.8,-1.3M598.2,132.5l-3.1,4.5M625.1,129.3l6.7,-0.9M611.8,116.6l-1.4,-6.5" fill="none" stroke="#1a1a1a" stroke-width="0.8" stroke-opacity="0.27" stroke-linecap="round"/>
<path d="M611.4,122.9L608.9,122.6L607.1,120.7L604.6,120.3L602.2,119.3L600.0,118.1M622.4,129.6L623.9,132.1L625.0,134.9M625.0,134.9l-0.5,8.4M625.0,134.9L627.3,136.7M627.3,136.7l5.5,1.8M627.3,136.7L629.2,139.0L630.4,141.6M620.7,131.8L622.1,134.6L622.1,137.6M622.1,137.6l-3.5,4.8M622.1,137.6L621.8,140.7M621.8,140.7l1.6,7.9M621.8,140.7L623.2,143.4L623.1,146.5M625.4,130.4L627.7,131.3L630.3,131.2L632.3,132.8M632.3,132.8l3.9,7.4M632.3,132.8L634.8,132.4L637.0,133.5M621.2,125.3L622.9,122.1L624.8,119.0L627.1,116.2L628.4,112.9L631.0,110.4M621.9,127.1L625.9,126.1L629.1,123.5L632.6,121.3M632.6,121.3l7.9,-2.0M632.6,121.3L636.2,119.3L639.3,116.7M616.0,124.8L613.1,122.9L611.1,120.0L608.3,117.9M608.3,117.9l-3.7,-1.3M608.3,117.9L606.1,115.2L604.6,112.1M621.7,126.9L624.5,125.2L627.1,123.2L629.3,120.7M629.3,120.7l0.7,-3.7M629.3,120.7L632.3,119.3L634.6,116.9M614.0,129.6L611.7,131.2L610.1,133.5L608.0,135.4M608.0,135.4l-1.5,5.3M608.0,135.4L606.5,137.8L605.9,140.6M612.5,133.8L612.3,135.2L611.9,136.5L611.1,137.7L610.1,138.6L609.2,139.6M618.4,127.0L617.1,124.3L614.7,122.4L612.0,120.9M612.0,120.9l-3.8,0.1M612.0,120.9L609.5,119.3L606.7,118.2M623.0,124.0L625.0,121.2L628.3,120.5M628.3,120.5l6.6,0.6M628.3,120.5L631.5,119.1M631.5,119.1l6.5,1.0M631.5,119.1L634.8,118.1L636.7,115.2M627.3,124.6L629.1,123.7L631.1,124.2L633.1,124.1L635.1,124.3L636.9,123.5M609.9,126.2L608.8,126.6L607.8,126.1M607.8,126.1l-3.9,0.2M607.8,126.1L606.7,126.5M606.7,126.5l-6.2,-1.4M606.7,126.5L605.6,126.2L604.7,125.5M618.4,122.1L618.1,120.0L617.2,118.1M617.2,118.1l-3.2,-2.8M617.2,118.1L615.9,116.5L615.3,114.5L614.7,112.5M619.0,127.5L622.4,129.9L624.9,133.2L627.1,136.7L629.9,139.8L631.4,143.7M609.3,128.7L607.2,129.1L605.0,129.4L603.0,128.9L600.9,129.6L598.8,129.2M625.2,123.6L627.0,121.3L629.8,121.0M629.8,121.0l5.9,-6.2M629.8,121.0L632.6,120.6M632.6,120.6l7.3,3.9M632.6,120.6L635.3,119.7L637.0,117.5M619.7,128.2L622.2,129.8L625.1,130.5M625.1,130.5l4.5,-1.9M625.1,130.5L627.7,131.8L630.4,133.1L633.2,134.1M613.4,121.0L610.4,119.9L608.7,117.2L605.6,116.5M605.6,116.5l-4.1,1.3M605.6,116.5L602.7,115.1L600.5,112.7M618.0,122.6L616.5,120.3L614.4,118.5L613.8,115.9L611.7,114.1L610.7,111.6M612.1,127.3L610.7,126.6L609.2,125.9M609.2,125.9l-7.3,0.7M609.2,125.9L607.5,125.9M607.5,125.9l-4.7,3.8M607.5,125.9L606.1,125.2L604.6,124.4M615.1,133.5L613.1,135.5L610.5,136.7M610.5,136.7l-2.2,4.2M610.5,136.7L608.9,139.0M608.9,139.0l-6.3,3.5M608.9,139.0L606.6,140.6L605.6,143.3M620.7,127.8L623.4,128.8L626.2,129.2L628.3,131.0M628.3,131.0l2.3,3.8M628.3,131.0L631.2,131.3L633.1,133.3M616.4,124.0L614.5,122.3L613.1,120.2M613.1,120.2l-0.9,-5.6M613.1,120.2L610.7,119.3M610.7,119.3l-4.3,1.4M610.7,119.3L608.4,118.1L606.3,116.7M619.7,130.5L620.3,132.6L620.0,134.8M620.0,134.8l-5.0,4.7M620.0,134.8L619.2,136.8M619.2,136.8l0.3,4.2M619.2,136.8L618.4,138.9L618.7,141.1M616.4,129.2L614.3,130.8L611.7,131.7L609.1,132.1L606.9,133.7L605.2,135.8M616.4,135.3L615.5,136.8L614.9,138.5M614.9,138.5l0.4,3.9M614.9,138.5L614.8,140.2L614.2,141.8L614.2,143.6M609.4,124.2L607.3,123.0L604.9,123.1M604.9,123.1l-5.0,-2.4M604.9,123.1L602.5,123.0L600.1,123.3L597.8,124.1M618.8,127.7L620.3,131.9L621.9,136.2M621.9,136.2l4.3,4.6M621.9,136.2L623.9,140.3M623.9,140.3l7.3,3.2M623.9,140.3L627.1,143.5L629.7,147.2M610.1,124.1L609.0,123.4L607.9,122.8M607.9,122.8l-7.5,-0.6M607.9,122.8L606.9,122.0L605.6,122.1L604.3,121.8M618.5,127.3L617.3,131.9L618.7,136.5M618.7,136.5l6.0,4.3M618.7,136.5L620.9,140.7M620.9,140.7l4.8,4.0M620.9,140.7L623.7,144.5L622.7,149.2M625.1,120.8L626.5,118.5L628.2,116.5M628.2,116.5l5.4,-1.8M628.2,116.5L629.6,114.2L630.7,111.8L632.8,110.2M617.2,126.1L615.5,124.3L613.2,123.6M613.2,123.6l-5.1,1.8M613.2,123.6L611.1,122.2L608.7,121.7L606.4,121.0M625.2,123.1L628.2,121.9L631.4,121.6L634.5,120.4M634.5,120.4l5.1,-4.3M634.5,120.4L637.0,118.4L639.7,116.6M618.8,130.5L619.7,133.5L619.3,136.6M619.3,136.6l1.9,6.1M619.3,136.6L619.7,139.8M619.7,139.8l-4.3,6.6M619.7,139.8L621.6,142.3L623.0,145.1M614.8,122.5L614.5,118.8L611.7,116.2L609.0,113.6L607.3,110.3L604.5,107.9M612.3,130.9L608.8,131.5L605.4,132.8L602.0,133.9L598.9,135.7L595.3,135.3M616.9,121.4L615.8,118.7L613.9,116.3L611.5,114.6M611.5,114.6l-5.2,-1.2M611.5,114.6L609.4,112.4L609.0,109.4M617.3,129.0L614.9,131.4L612.1,133.3L608.9,134.4L605.8,135.6L602.5,136.5M619.1,129.7L619.7,132.2L620.5,134.5L621.0,136.9M621.0,136.9l3.3,5.1M621.0,136.9L621.9,139.2L622.5,141.6M619.8,123.6L621.2,120.7L621.4,117.5M621.4,117.5l-3.5,-7.2M621.4,117.5L620.6,114.4M620.6,114.4l-5.2,-4.9M620.6,114.4L622.4,111.8L624.5,109.3M613.1,127.1L609.4,127.9L605.8,128.9L602.6,131.0L598.9,131.5L595.6,133.3M619.3,124.2L619.1,120.9L617.5,117.9M617.5,117.9l0.2,-8.1M617.5,117.9L618.9,114.9L620.6,112.1L621.0,108.8M620.7,129.9L622.3,133.7L622.2,137.8L625.3,140.6M625.3,140.6l1.1,4.4M625.3,140.6L627.7,143.9L629.7,147.5M614.9,124.8L612.1,122.5L608.6,121.1L605.3,119.5M605.3,119.5l-5.3,-0.5M605.3,119.5L601.9,118.0L598.5,116.5M616.7,122.2L614.7,119.9L614.8,116.8L613.2,114.2M613.2,114.2l-1.2,-5.1M613.2,114.2L611.0,112.0L609.4,109.4M623.4,131.5L625.8,133.6L627.7,136.2L629.4,138.9M629.4,138.9l1.1,4.9M629.4,138.9L631.7,141.2L634.5,142.8" fill="none" stroke="#1a1a1a" stroke-width="1.1" stroke-opacity="0.45" stroke-linecap="round" stroke-linejoin="round"/>
<circle cx="611.5" cy="175.0" r="25.2" fill="url(#pgB)"/>
<path d="M619.0,186.2l2.0,2.8M617.9,184.3l2.6,5.0M613.3,152.4l0.5,-3.4M615.4,167.9l6.0,-2.9M598.6,162.8l-2.0,-6.2M631.7,178.3l2.8,-1.2M602.8,156.7l0.9,-3.9M617.0,197.1l3.6,5.8M618.6,180.8l2.7,6.1M602.4,194.2l-0.9,4.1M628.3,180.8l2.8,1.5M609.5,195.6l1.9,5.9M592.9,159.1l-2.3,-5.9M591.0,165.9l-6.7,1.4M590.8,162.6l-3.6,-5.3M599.5,194.5l-5.5,4.2M600.0,176.0l-6.3,2.5M611.4,192.1l-0.1,5.1M625.5,171.4l5.1,1.6M619.5,169.4l4.4,-3.8M597.5,183.4l-3.8,-0.1M629.9,165.6l3.5,-1.0M615.7,164.7l0.1,-3.7M623.4,166.0l3.8,-0.1M605.0,193.9l-2.0,2.2M611.3,179.0l1.0,6.2M619.3,196.9l5.9,3.6M636.0,174.3l5.3,-2.5M634.1,182.4l4.9,1.5M611.6,161.9l-2.6,-4.0M619.3,154.5l-0.2,-3.0M596.9,175.7l-5.1,0.9M593.0,190.3l-1.5,3.9M604.5,152.4l1.5,-3.9M593.6,169.0l-4.5,-4.4M598.1,163.8l-1.7,-3.4M623.2,168.7l5.6,0.7M615.3,197.3l2.2,4.1M624.0,185.4l3.0,3.3M627.3,157.4l4.7,-1.8M600.0,173.8l-4.4,-1.6M610.8,156.8l-1.3,-2.1M605.6,187.8l-5.9,3.1M625.7,162.2l3.6,-3.4M595.5,192.6l-5.6,4.1M602.6,175.3l-4.0,0.4M618.4,185.4l3.1,3.4M597.5,189.6l-2.5,3.4M591.4,185.8l-5.6,1.9M616.5,177.3l3.0,-0.6M605.4,180.0l-1.8,3.2M612.3,190.0l-0.2,6.7M602.4,175.9l-2.8,-0.2M615.4,196.9l2.4,6.2M612.4,185.4l-3.1,5.8M602.3,176.7l-5.5,-0.1M632.3,167.1l4.5,1.5M608.7,165.7l-1.2,-2.4M620.4,169.5l2.0,-4.2M630.4,188.9l2.5,0.2M607.9,155.8l-1.3,-5.6M621.0,190.9l0.9,3.0M625.1,158.0l2.0,-1.7M628.3,164.4l6.0,0.2M621.4,166.8l2.7,-5.1M601.9,170.1l-1.9,-1.8M608.0,189.6l0.7,2.4M608.7,196.8l0.8,2.9M615.4,198.9l2.2,4.5M602.0,157.9l-3.1,-2.2M593.3,174.5l-3.9,-3.2M619.0,179.3l6.4,-0.8M594.2,158.4l-1.6,-6.1M599.6,181.7l-1.1,2.7M615.1,181.6l3.0,2.6M618.3,163.6l1.4,-2.8M625.1,194.6l3.7,1.3M621.8,176.4l5.9,3.4M626.9,192.1l3.0,2.0M596.6,161.8l-4.2,-3.6M592.2,166.0l-2.6,-5.3M596.8,180.0l-5.1,-1.2M607.8,192.0l-0.3,2.7M615.6,193.7l3.9,4.4M600.6,173.8l-4.1,-1.9M600.6,160.5l-0.6,-2.8M620.5,172.0l3.4,-0.4M594.2,180.4l-3.2,-0.7M606.5,189.2l-0.4,3.8M608.7,164.1l-3.4,-3.1M622.3,169.8l3.0,-2.3M619.5,164.8l0.7,-4.1M597.4,159.7l-1.6,-4.5M595.7,165.3l-3.8,-3.6M614.1,197.6l-1.9,6.1M628.8,171.0l5.7,2.8M591.0,173.1l-5.0,3.1M593.0,161.6l-2.3,-1.3M621.1,159.1l3.0,-3.5" fill="none" stroke="#1a1a1a" stroke-width="0.8" stroke-opacity="0.27" stroke-linecap="round"/>
<path d="M608.8,175.7L606.4,176.9L604.5,178.7L602.0,179.7L599.8,181.2L598.3,183.4M603.9,170.7L602.1,168.0L599.6,165.9L596.6,164.5M596.6,164.5l-4.6,-4.8M596.6,164.5L594.1,162.4L591.1,161.1M614.0,169.6L614.7,167.9L615.2,166.1M615.2,166.1l-1.7,-7.9M615.2,166.1L615.9,164.4L617.5,163.4L617.5,161.5M612.1,177.0L612.9,180.0L614.5,182.8M614.5,182.8l1.5,6.9M614.5,182.8L616.9,184.9L616.8,188.0L617.3,191.1M604.4,176.5L601.3,177.4L598.0,177.1L595.0,178.3M595.0,178.3l-4.9,5.1M595.0,178.3L591.9,179.5L589.4,181.6M618.8,175.2L620.6,175.2L622.2,175.9L623.7,177.0L625.4,176.4L626.9,177.3M608.3,175.5L605.8,176.6L603.6,178.0L601.7,179.9M601.7,179.9l-7.8,2.2M601.7,179.9L600.1,182.1L597.6,183.0M612.9,171.8L613.3,167.6L612.5,163.6L615.1,160.4L617.5,157.1L620.8,154.5M611.7,175.2L613.9,178.0L614.9,181.3M614.9,181.3l-1.1,4.5M614.9,181.3L616.4,184.4M616.4,184.4l5.8,3.1M616.4,184.4L617.2,187.8L616.8,191.2M610.3,175.5L607.5,176.0L605.5,178.1L602.9,179.2M602.9,179.2l-8.0,0.8M602.9,179.2L600.1,179.8L597.2,179.6M612.9,174.2L615.7,173.0L618.2,171.3L621.3,171.1M621.3,171.1l4.1,2.4M621.3,171.1L624.1,169.8L626.2,167.6M613.8,177.2L617.2,178.6L619.4,181.6L622.7,183.2L626.3,184.3L629.4,186.3M605.8,180.6L604.2,181.0L603.1,182.2M603.1,182.2l-5.8,3.2M603.1,182.2L602.1,183.5L600.8,184.4L599.7,185.7M610.9,177.7L610.4,180.0L609.0,181.8M609.0,181.8l-1.8,8.0M609.0,181.8L607.8,183.8L606.4,185.6L606.5,187.9M613.3,171.1L615.3,168.8L617.3,166.6L618.8,164.0M618.8,164.0l-0.2,-4.1M618.8,164.0L619.1,161.0L619.9,158.1M613.5,184.6L613.5,186.1L614.5,187.3L614.0,188.7L614.7,190.1L614.9,191.6M620.3,177.5L621.3,177.2L622.3,177.3M622.3,177.3l3.6,3.0M622.3,177.3L623.0,178.0L624.0,177.8L625.0,178.0M616.7,177.8L618.6,178.7L620.6,178.7L622.6,179.3L624.6,179.8L626.7,179.4M611.2,175.6L611.4,178.8L612.1,181.9L611.6,185.0M611.6,185.0l-2.9,2.9M611.6,185.0L610.4,187.9L610.7,191.1M602.9,178.5L601.2,178.5L599.7,178.8M599.7,178.8l-2.6,3.1M599.7,178.8L598.2,179.4M598.2,179.4l-4.0,-0.2M598.2,179.4L596.6,179.9L595.0,180.2M606.3,181.9L604.4,183.3L602.8,185.1L600.6,186.0L599.5,188.1L597.4,189.2M611.6,174.9L615.0,171.6L617.7,167.8M617.7,167.8l1.1,-7.9M617.7,167.8L621.7,165.3M621.7,165.3l2.8,-5.9M621.7,165.3L623.0,160.8L625.7,156.9M611.3,175.5L607.5,178.7L602.7,179.8M602.7,179.8l-2.8,3.7M602.7,179.8L597.8,179.8M597.8,179.8l-7.4,3.1M597.8,179.8L592.9,179.1L588.0,179.6M610.5,175.8L606.9,178.3L604.0,181.7M604.0,181.7l-7.1,1.6M604.0,181.7L599.7,182.4L596.2,185.1L591.8,185.1M616.8,176.9L619.7,176.2L622.6,176.4L625.4,175.9M625.4,175.9l5.1,1.7M625.4,175.9L628.3,175.9L631.2,176.4M617.7,180.9L618.0,182.1L619.1,182.5M619.1,182.5l4.7,4.4M619.1,182.5L619.5,183.7L620.6,184.1L621.4,185.0M620.8,176.3L623.5,175.0L626.3,174.1M626.3,174.1l8.6,1.0M626.3,174.1L629.1,173.2L631.8,172.0L634.6,172.9M611.3,174.2L608.0,170.6L604.3,167.4M604.3,167.4l-8.0,-2.3M604.3,167.4L602.9,162.7M602.9,162.7l-6.1,-5.0M602.9,162.7L599.6,159.1L595.3,156.9M608.1,179.2L605.6,182.3L602.1,184.2L598.5,185.8L594.9,187.5L590.9,187.9M607.6,175.2L603.5,174.4L599.5,173.5L595.8,175.4L591.8,176.3L588.6,178.9M613.9,180.5L614.2,183.4L614.7,186.3M614.7,186.3l1.9,3.6M614.7,186.3L613.8,189.0L613.3,191.9L612.2,194.6M613.8,174.4L617.4,173.2L620.5,170.9L623.6,168.6M623.6,168.6l3.5,-7.0M623.6,168.6L626.9,166.6L630.6,165.7M613.7,168.9L615.8,167.1L615.6,164.2L615.3,161.4M615.3,161.4l1.8,-4.2M615.3,161.4L617.2,159.2L617.6,156.4M606.3,178.5L603.7,180.8L600.3,181.5M600.3,181.5l-7.5,-2.0M600.3,181.5L596.9,182.2M596.9,182.2l-6.0,3.8M596.9,182.2L594.5,184.7L592.6,187.5M613.9,168.5L614.8,167.2L615.1,165.6M615.1,165.6l4.1,-3.8M615.1,165.6L615.7,164.1M615.7,164.1l0.7,-7.9M615.7,164.1L616.6,162.7L616.6,161.1M618.9,179.5L620.4,181.5L621.9,183.5M621.9,183.5l1.6,4.9M621.9,183.5L624.0,185.0M624.0,185.0l5.6,0.9M624.0,185.0L624.7,187.4L626.7,189.0M616.1,171.3L619.2,170.4L622.0,168.6M622.0,168.6l2.4,-4.0M622.0,168.6L624.3,166.3L627.3,164.8L630.5,164.8M610.8,174.4L609.4,170.5L606.4,167.6M606.4,167.6l-1.0,-3.9M606.4,167.6L602.7,165.6M602.7,165.6l-7.9,-0.6M602.7,165.6L599.7,162.8L595.9,161.0M612.0,177.4L613.4,179.8L615.4,181.8L617.6,183.5M617.6,183.5l4.8,0.2M617.6,183.5L619.9,185.1L621.2,187.6M612.7,168.5L613.6,166.3L614.8,164.2M614.8,164.2l4.9,-4.5M614.8,164.2L615.9,162.1L616.3,159.7L617.6,157.7M617.9,176.8L620.9,178.7L624.2,180.1M624.2,180.1l7.2,-0.3M624.2,180.1L626.3,183.0L629.9,183.3L633.4,183.3M604.8,168.9L602.6,168.1L601.7,165.9L599.8,164.4L598.4,162.5L596.2,161.5M616.6,177.3L620.4,177.0L623.2,179.6L627.0,180.1L630.4,182.0L634.1,182.6M613.4,175.2L617.3,174.1L620.9,172.5L624.7,173.8L628.7,174.3L632.5,175.6M613.6,181.8L614.3,183.0L614.7,184.3M614.7,184.3l-0.6,3.7M614.7,184.3L614.6,185.7M614.6,185.7l2.7,7.7M614.6,185.7L614.6,187.1L615.3,188.3M612.5,178.5L614.7,180.6L617.2,182.3L619.8,183.9M619.8,183.9l1.7,4.1M619.8,183.9L621.7,186.2L624.6,187.2M612.6,173.1L615.0,170.5L615.3,166.9M615.3,166.9l-2.4,-4.3M615.3,166.9L617.1,163.9L617.8,160.5L619.4,157.3M616.6,169.4L619.7,168.3L620.8,165.3M620.8,165.3l-1.9,-7.6M620.8,165.3L623.9,164.6M623.9,164.6l3.2,-2.8M623.9,164.6L627.1,164.0L630.3,163.6M612.0,173.0L614.9,170.3L617.5,167.3L618.9,163.7L621.9,161.1L625.5,159.6" fill="none" stroke="#1a1a1a" stroke-width="1.1" stroke-opacity="0.45" stroke-linecap="round" stroke-linejoin="round"/>
<circle cx="566.0" cy="190.0" r="25.2" fill="url(#pgB)"/>
<path d="M587.6,185.0l6.1,2.0M566.5,174.0l-1.9,-4.7M567.5,212.5l1.6,5.0M561.9,205.6l-1.0,3.9M565.6,181.1l2.7,-4.0M548.2,179.6l-2.4,-3.0M562.0,205.9l0.5,3.1M551.2,191.1l-5.9,-2.9M571.5,211.3l-1.0,4.8M551.8,197.7l-5.3,3.0M559.6,205.8l1.5,5.0M576.6,174.0l1.7,-4.1M553.7,173.7l-0.5,-4.0M548.9,191.5l-6.6,0.3M551.9,174.3l-4.8,-1.4M587.6,183.4l3.2,-0.8M553.2,207.9l-5.9,2.4M573.3,197.7l1.4,4.7M560.6,186.7l-2.7,-0.3M546.5,180.2l-1.9,-2.5M546.1,196.8l-6.5,2.5M553.0,197.1l-2.9,0.9M573.2,183.3l2.2,-4.9M574.3,208.6l2.6,2.9M581.2,182.8l6.4,-2.9M572.2,184.3l2.0,-2.9M573.7,196.3l2.2,2.2M557.9,182.4l-6.8,-0.5M565.4,177.9l1.3,-3.1M560.7,179.3l0.2,-6.3M566.9,209.4l-3.1,5.9M553.2,172.4l-3.8,-5.3M555.5,185.7l-5.5,0.7M576.4,183.6l3.8,-1.9M575.4,172.1l0.9,-2.4M568.0,205.5l-1.1,3.8M587.9,181.9l2.2,-1.6M569.6,206.0l-1.4,3.6M553.1,206.5l0.1,3.1M573.4,189.6l2.4,1.2M582.1,183.6l2.6,-1.3M554.7,188.2l-2.9,-0.6M575.3,192.8l6.1,-1.7M546.2,199.6l-1.2,2.3M543.3,197.3l-2.7,3.2M549.5,196.8l-4.1,-0.4M579.2,177.2l4.5,-1.2M577.9,199.8l2.4,3.1M573.7,205.2l0.1,5.8M551.8,172.9l-1.3,-5.0M560.0,190.1l-3.6,2.6M548.1,178.2l-4.1,-4.2M567.8,201.2l-0.5,4.4M559.6,196.6l-3.4,5.9M545.1,192.6l-6.3,0.1M559.7,168.3l-3.1,-6.0M552.6,201.2l-4.0,5.0M580.9,201.0l3.9,4.7M584.0,198.5l2.4,5.2M549.0,175.9l-1.1,-4.5M576.5,187.3l6.8,-0.1M567.2,205.0l-0.1,3.4M574.0,171.9l-1.6,-6.0M576.4,207.6l0.2,2.5M545.2,189.1l-5.3,-0.8M559.9,167.0l-3.1,-4.0M547.0,188.3l-4.9,1.7M586.5,196.4l6.4,-1.4M587.9,189.2l3.4,-1.7M582.4,191.5l6.2,3.0M554.7,190.3l-2.6,0.4M583.8,196.6l4.3,2.2M572.9,207.7l1.6,2.7M564.5,205.6l3.0,5.0M570.7,199.6l0.5,4.3M566.2,207.4l-0.9,6.9M543.8,200.0l-3.2,0.8M557.1,178.3l-1.8,-1.9M574.4,173.8l2.9,-4.6M555.9,202.7l-3.7,4.9M564.3,168.6l0.6,-6.1M549.4,173.9l-3.0,-0.9M542.1,194.6l-4.4,0.3M563.1,173.2l-3.0,-2.6M562.0,175.6l-2.6,-2.0M545.0,191.2l-5.5,2.7M583.2,174.9l3.4,-3.6M581.8,198.2l4.5,-0.3M547.8,187.1l-5.5,2.3M568.7,172.8l2.2,-3.2M579.0,200.5l2.8,0.0M568.9,183.4l5.7,-2.8M568.3,180.9l-0.1,-3.6M572.5,197.1l3.4,0.9M546.9,203.0l-3.5,3.8M578.3,211.1l0.2,6.6M582.9,198.8l3.9,3.1M573.6,200.1l0.5,5.7M543.6,187.7l-2.8,-1.8" fill="none" stroke="#1a1a1a" stroke-width="0.8" stroke-opacity="0.27" stroke-linecap="round"/>
<path d="M573.1,187.8L575.9,187.1L578.7,187.7M578.7,187.7l2.8,2.8M578.7,187.7L581.6,187.0M581.6,187.0l6.5,3.0M581.6,187.0L584.4,187.7L587.1,188.6M558.1,194.8L556.7,195.0L555.6,195.7M555.6,195.7l-6.2,0.5M555.6,195.7L554.3,195.9L553.0,196.3L551.6,196.3M572.7,182.7L573.7,181.2L574.9,179.9M574.9,179.9l4.2,-2.1M574.9,179.9L576.4,178.9L578.2,178.4L579.9,178.0M565.1,188.8L562.0,186.3L560.2,182.8L556.7,180.9L554.1,177.9L551.4,175.1M564.7,187.0L563.6,184.9L562.0,183.2M562.0,183.2l-5.5,-2.7M562.0,183.2L561.5,180.9L561.3,178.6L559.6,177.0M561.2,191.3L559.6,192.7L557.5,193.5L555.9,195.0M555.9,195.0l-2.5,6.1M555.9,195.0L554.5,196.7L552.8,198.2M564.4,186.3L563.5,182.9L562.8,179.3L561.3,176.1M561.3,176.1l-0.6,-4.0M561.3,176.1L558.4,173.9L558.3,170.3M572.0,185.7L573.4,182.4L575.3,179.4L578.6,177.9L581.9,176.3L585.4,175.7M565.8,190.5L566.5,194.6L566.2,198.7L565.0,202.6L565.9,206.6L564.3,210.4M556.3,189.0L554.0,188.6L551.9,189.7M551.9,189.7l-5.9,-1.3M551.9,189.7L549.9,188.6L548.1,187.2L545.8,186.9M568.9,194.3L571.4,196.3L574.3,197.5M574.3,197.5l4.0,4.2M574.3,197.5L576.0,200.1M576.0,200.1l1.6,8.6M576.0,200.1L578.9,201.5L580.8,204.0M560.5,197.3L559.9,198.3L559.2,199.4L558.1,199.8M558.1,199.8l-8.0,-1.0M558.1,199.8L557.5,200.9L557.1,202.1M563.1,193.1L561.0,193.8L559.8,195.6M559.8,195.6l-0.8,5.3M559.8,195.6L557.7,196.3L556.3,198.0L554.3,199.0M568.7,195.7L570.6,198.5L573.6,200.1L574.9,203.2M574.9,203.2l-0.1,3.9M574.9,203.2L577.4,205.5L580.3,207.1M565.0,187.0L563.4,183.7L561.7,180.4L561.1,176.8M561.1,176.8l-6.1,-5.3M561.1,176.8L561.4,173.2L561.7,169.5M564.6,190.2L560.7,188.6L556.6,187.9M556.6,187.9l-3.6,-3.1M556.6,187.9L552.4,187.9M552.4,187.9l-3.9,2.7M552.4,187.9L549.0,185.6L545.4,183.5M565.0,186.3L564.5,182.5L564.1,178.7M564.1,178.7l1.8,-4.3M564.1,178.7L563.2,175.0L561.3,171.6L558.7,168.8M561.6,185.7L561.0,184.2L559.7,183.3L558.4,182.6L558.0,181.1L557.1,179.8M562.4,184.2L559.9,181.9L559.1,178.5L557.9,175.4L556.6,172.2L554.1,169.9M558.8,187.8L557.9,186.8L556.5,186.9L555.1,186.9L553.9,186.3L552.8,185.5M567.1,188.6L569.6,187.9L570.8,185.6L571.7,183.2M571.7,183.2l-1.9,-6.9M571.7,183.2L573.5,181.2L574.6,178.9M562.2,184.3L559.8,183.3L558.4,181.2L556.1,180.0L554.8,177.8L553.8,175.4M565.6,189.2L563.3,185.4L559.6,182.9L558.4,178.6L555.6,175.2L553.2,171.4M567.3,181.7L566.4,179.4L567.2,177.0L567.8,174.6M567.8,174.6l-0.6,-7.2M567.8,174.6L569.2,172.5L569.9,170.1M563.3,184.7L561.6,182.7L561.5,180.0L559.8,178.0M559.8,178.0l-0.3,-5.8M559.8,178.0L558.3,175.8L556.0,174.5M574.0,191.0L576.9,191.4L579.7,192.1M579.7,192.1l7.8,-1.4M579.7,192.1L582.5,193.1L585.5,193.0L588.4,192.9M572.4,192.2L573.6,193.7L575.5,193.6L577.4,193.7L578.7,195.1L580.6,195.3M566.6,186.4L568.3,183.5L568.6,180.2M568.6,180.2l-4.2,-6.1M568.6,180.2L569.2,176.9L569.4,173.5L570.6,170.4M556.4,189.5L553.5,190.1L550.7,189.1L548.0,190.5L545.1,189.8L542.2,188.8M566.0,189.5L565.5,184.7L563.8,180.0M563.8,180.0l-4.7,-3.3M563.8,180.0L562.4,175.3L562.8,170.4L560.2,166.2M561.9,192.3L560.1,193.0L559.1,194.6M559.1,194.6l-0.3,8.2M559.1,194.6L557.4,195.4M557.4,195.4l-2.0,4.1M557.4,195.4L555.7,196.2L553.8,196.8M566.0,190.0L565.3,187.3L565.4,184.5L565.1,181.8L566.0,179.1L566.2,176.4M567.4,188.5L569.8,187.3L572.3,186.8L574.5,185.3L576.7,183.9L579.1,183.0M564.8,180.8L563.6,179.1L563.0,177.0L562.0,175.1L561.9,173.0L562.5,171.0M561.8,189.8L560.1,190.8L558.2,190.8L556.4,191.5L554.8,192.6L553.1,193.6M562.4,192.0L560.4,192.7L558.5,193.6L556.4,194.1M556.4,194.1l-6.5,-0.4M556.4,194.1L554.3,194.6L552.6,195.8M570.4,188.9L572.7,187.5L575.3,187.8L577.9,187.7M577.9,187.7l7.3,2.4M577.9,187.7L580.5,187.7L583.0,188.6M571.5,192.4L574.2,194.2L575.8,196.9M575.8,196.9l-0.1,3.8M575.8,196.9L578.5,198.7L581.2,200.3L584.3,201.2M571.2,188.7L574.5,187.5L578.0,187.8L581.3,186.8M581.3,186.8l3.7,-4.3M581.3,186.8L584.5,185.3L587.2,183.1M565.8,190.0L563.0,187.9L559.8,186.3L556.9,184.3L555.3,181.2L553.1,178.4M556.9,191.0L555.0,192.2L552.8,192.1M552.8,192.1l-6.1,2.8M552.8,192.1L550.6,191.7L548.5,192.6L546.3,192.9M563.4,195.4L563.4,197.2L562.5,198.7M562.5,198.7l-7.1,5.2M562.5,198.7L562.8,200.4L562.8,202.2L561.5,203.4M559.6,189.8L558.2,190.6L556.7,191.4M556.7,191.4l-5.9,1.3M556.7,191.4L555.3,192.2M555.3,192.2l-3.6,5.6M555.3,192.2L553.6,192.3L552.0,192.8M563.1,192.6L561.3,195.8L561.0,199.4M561.0,199.4l-3.3,6.4M561.0,199.4L558.3,201.8M558.3,201.8l-8.6,1.8M558.3,201.8L557.4,205.3L555.7,208.5M562.9,199.6L561.7,201.4L560.4,203.1M560.4,203.1l-0.3,6.0M560.4,203.1L558.9,204.8M558.9,204.8l-3.9,2.0M558.9,204.8L557.8,206.7L557.2,208.8M568.8,189.7L573.0,188.3L577.3,187.3M577.3,187.3l7.8,2.4M577.3,187.3L581.3,185.4M581.3,185.4l3.3,-3.1M581.3,185.4L585.5,186.5L589.1,184.0M559.6,186.5L558.2,186.5L556.8,186.1M556.8,186.1l-4.2,-2.8M556.8,186.1L555.3,186.0L553.9,185.6L552.4,185.6M567.6,185.7L569.5,183.9L570.4,181.5L570.5,178.9L572.6,177.5L573.2,175.0M564.5,193.6L562.1,195.9L559.2,197.6L557.6,200.5M557.6,200.5l-6.5,4.4M557.6,200.5L554.6,202.1L552.5,204.7" fill="none" stroke="#1a1a1a" stroke-width="1.1" stroke-opacity="0.45" stroke-linecap="round" stroke-linejoin="round"/>
<circle cx="515.5" cy="194.0" r="26.2" fill="url(#pgB)"/>
<path d="M516.9,210.4l-1.0,4.5M512.0,217.3l0.0,3.2M498.0,182.6l-5.0,-2.8M525.3,187.6l5.8,-3.0M525.8,171.3l0.7,-3.1M511.5,199.8l-2.5,6.2M534.8,183.7l4.1,-0.9M506.9,186.9l-3.1,-6.1M530.4,190.0l4.9,2.1M528.7,181.1l0.9,-2.8M531.8,193.2l3.9,0.3M505.8,177.2l-1.2,-4.4M530.0,175.7l0.6,-5.2M524.6,195.3l3.5,1.8M524.9,196.0l5.2,0.6M527.4,205.9l5.2,4.4M493.1,192.4l-2.5,-0.7M517.5,209.6l4.2,4.2M510.0,171.4l-1.5,-2.8M532.8,194.0l6.8,1.3M520.6,199.7l4.3,3.0M539.1,187.2l2.2,-3.0M514.1,169.4l-3.0,-5.4M502.2,200.4l-5.7,2.9M498.9,186.3l-3.9,-4.7M523.0,207.7l5.4,2.5M511.5,215.2l1.6,4.2M509.4,190.4l-3.8,-2.3M529.3,203.4l4.4,3.8M525.9,175.2l-0.4,-3.4M511.9,190.3l-6.0,-3.1M526.7,201.4l4.2,0.6M507.4,178.1l-0.6,-2.7M512.5,172.3l-3.8,-3.5M511.6,215.4l-1.7,6.1M504.5,205.2l-2.6,3.5M524.4,208.0l4.8,3.9M506.7,187.7l-3.1,-2.1M503.4,190.9l-4.8,-2.0M534.7,202.9l3.5,5.3M521.4,205.9l2.0,5.3M534.6,207.2l2.0,4.5M510.4,176.1l-5.3,-3.6M517.5,174.3l-0.6,-5.2M535.5,179.0l5.8,-1.3M527.1,195.9l3.1,-1.3M521.7,188.5l4.3,-5.3M535.3,195.9l6.0,1.8M495.3,191.4l-5.7,3.1M499.4,187.4l-3.4,-4.2M497.8,192.9l-3.9,2.0M534.2,193.5l2.2,-1.6M507.5,195.3l-4.5,-1.1M511.1,207.7l-1.6,2.4M510.1,212.6l-1.8,6.1M536.2,200.0l3.9,5.0M517.8,211.0l3.8,5.5M521.6,170.5l0.3,-3.1M501.1,207.5l-1.9,3.8M510.9,202.5l0.7,4.3M521.6,185.6l5.9,-1.6M512.0,215.4l-1.8,2.0M501.2,193.7l-4.6,0.2M513.8,208.8l-3.0,5.8M531.9,179.7l4.1,-3.3M523.5,180.3l0.1,-2.7M505.4,201.6l-0.8,2.6M491.9,192.1l-3.5,1.3M516.9,173.1l-1.5,-4.7M502.5,198.2l-6.4,1.8M510.9,214.4l-3.1,5.5M537.8,194.1l2.2,-1.5M501.7,211.0l-0.5,3.0M511.6,201.1l-1.2,3.0M508.5,196.1l-3.3,-1.1M495.4,206.9l-4.5,5.3M534.9,204.9l4.2,-0.8M500.2,179.3l-1.1,-4.1M517.4,219.2l-0.1,3.0M513.9,172.8l1.3,-6.7M523.1,209.4l3.3,4.0M534.4,186.5l7.0,0.5M497.1,183.1l-3.6,0.1M525.3,176.1l4.8,-2.7M500.8,184.8l-3.6,-3.3M526.6,216.6l-0.8,3.4M524.9,170.9l3.1,-1.9M519.4,174.1l-0.4,-3.0M491.3,193.1l-4.0,-1.1M528.8,208.1l0.8,2.4M532.0,201.3l2.3,4.2M509.5,190.2l-2.5,-4.2M506.6,182.6l-2.0,-3.9M515.1,188.0l-2.9,-5.1M525.5,193.9l1.9,-1.7M518.6,171.0l-1.2,-3.4M510.4,188.7l-3.4,-3.6M509.2,193.9l-2.7,2.2M539.5,189.9l2.6,-0.5M507.7,195.9l-5.5,3.6M500.8,200.4l-2.3,2.6M520.1,217.3l-2.5,4.8M508.3,181.6l-0.0,-3.3" fill="none" stroke="#1a1a1a" stroke-width="0.8" stroke-opacity="0.27" stroke-linecap="round"/>
<path d="M517.4,195.7L520.2,198.1L523.6,198.8L526.3,201.2L528.8,203.7L530.9,206.5M513.7,190.8L510.7,189.0L508.3,186.4M508.3,186.4l-8.3,-3.5M508.3,186.4L507.8,182.9L504.9,180.8L502.2,178.6M506.6,197.7L505.6,199.1L504.0,199.9M504.0,199.9l-2.2,4.0M504.0,199.9L502.2,199.9M502.2,199.9l-5.8,-4.5M502.2,199.9L500.8,201.1L499.1,201.3M519.8,195.6L522.1,196.8L523.7,198.7M523.7,198.7l5.6,1.0M523.7,198.7L526.1,199.5L527.6,201.5L530.2,201.8M509.4,192.8L507.3,191.3L504.8,191.4M504.8,191.4l-6.2,-1.9M504.8,191.4L502.3,190.8L500.1,189.6L498.4,187.7M514.2,192.6L513.7,189.3L512.4,186.2M512.4,186.2l-5.8,-4.0M512.4,186.2L509.6,184.4M509.6,184.4l-4.7,-1.2M509.6,184.4L506.8,182.6L506.5,179.3M516.4,202.8L516.1,205.2L517.2,207.5L517.0,209.9M517.0,209.9l3.2,5.4M517.0,209.9L517.1,212.4L516.1,214.8M507.5,192.3L505.3,192.9L502.9,192.9M502.9,192.9l-3.4,-2.2M502.9,192.9L500.7,193.7M500.7,193.7l-4.8,5.7M500.7,193.7L498.8,192.4L496.4,192.1M520.6,202.2L520.8,203.4L520.7,204.6M520.7,204.6l-3.0,7.4M520.7,204.6L521.8,205.2L522.3,206.3L523.3,206.9M512.4,184.7L511.7,182.3L509.9,180.4L508.9,178.1M508.9,178.1l1.0,-5.1M508.9,178.1L508.3,175.7L507.3,173.4M516.1,196.0L518.3,199.0L519.0,202.6L521.6,205.1L522.8,208.6L523.8,212.1M515.0,202.5L514.1,205.9L511.9,208.7M511.9,208.7l-1.4,4.1M511.9,208.7L511.7,212.2L511.9,215.7L509.8,218.6M515.4,193.0L514.3,190.4L514.1,187.5L513.3,184.8L513.6,181.9L513.8,179.1M513.2,192.4L510.2,189.5L506.6,187.4L504.7,183.7M504.7,183.7l0.1,-5.0M504.7,183.7L503.3,179.8L499.8,177.5M516.5,192.7L519.4,188.7L522.1,184.5M522.1,184.5l-0.2,-4.4M522.1,184.5L524.7,180.4L528.8,177.6L529.9,172.8M510.2,196.8L507.3,196.6L504.3,196.5M504.3,196.5l-5.5,-2.4M504.3,196.5L501.3,196.7L498.8,198.3L496.5,200.2M516.2,192.4L518.4,190.0L519.8,187.1L519.8,183.9M519.8,183.9l-1.3,-3.7M519.8,183.9L521.9,181.4L523.3,178.5M520.3,193.1L523.0,191.4L526.2,191.7L528.5,189.4L531.0,187.4L534.2,187.1M515.5,193.9L512.5,189.7L508.8,186.2M508.8,186.2l-1.5,-6.5M508.8,186.2L504.6,183.2L501.8,178.8L497.0,176.9M515.8,192.2L515.4,188.7L516.7,185.5L515.3,182.4L514.8,179.0L513.2,175.9M509.3,191.8L505.8,190.0L501.8,189.8L498.8,187.4L494.9,186.7L492.1,183.9M509.4,201.5L508.9,202.5L508.7,203.7M508.7,203.7l-3.9,4.6M508.7,203.7L508.4,204.8M508.4,204.8l1.0,6.3M508.4,204.8L508.2,206.0L508.1,207.1M519.2,194.0L522.9,195.8L526.9,195.0M526.9,195.0l3.6,-4.3M526.9,195.0L530.6,196.9M530.6,196.9l2.1,4.2M530.6,196.9L534.3,198.6L537.7,200.9M515.3,189.4L516.6,186.3L518.7,183.5L520.4,180.6M520.4,180.6l7.0,-5.3M520.4,180.6L520.7,177.2L522.8,174.5M518.8,192.1L522.1,191.1L525.6,191.4L528.9,192.5L531.6,190.4L534.5,188.4M515.2,194.0L512.2,191.8L508.6,190.6L506.2,187.7M506.2,187.7l-3.8,-2.3M506.2,187.7L502.7,186.5L499.0,185.7M513.9,188.3L513.4,186.6L512.0,185.4L511.7,183.6L512.0,181.8L510.9,180.4M517.2,196.7L519.1,198.0L520.6,199.7M520.6,199.7l0.4,6.9M520.6,199.7L521.9,201.6L524.0,202.6L524.6,204.8M514.9,193.7L510.9,192.7L507.2,191.1M507.2,191.1l-5.3,0.6M507.2,191.1L503.3,190.0M503.3,190.0l-5.5,1.4M503.3,190.0L499.3,190.3L495.3,189.8M520.8,195.0L524.0,197.1L527.7,198.0M527.7,198.0l6.1,-1.3M527.7,198.0L530.1,201.0M530.1,201.0l7.9,3.8M530.1,201.0L532.7,203.8L536.1,205.6M518.8,193.0L523.0,192.9L527.0,192.0L530.3,189.3L534.4,189.8L538.6,190.4M515.8,201.6L515.7,204.1L515.2,206.6L514.3,208.9L514.5,211.5L515.1,213.9M518.3,193.5L521.1,192.1L523.2,189.6M523.2,189.6l7.1,-3.6M523.2,189.6L525.6,187.6M525.6,187.6l8.2,-0.4M525.6,187.6L528.7,186.7L531.7,185.6M515.8,188.0L515.9,186.3L515.1,184.8M515.1,184.8l-7.8,-4.5M515.1,184.8L514.8,183.1M514.8,183.1l1.7,-7.1M514.8,183.1L514.4,181.5L514.4,179.8M505.6,195.0L502.8,195.1L500.1,194.6L497.5,195.6L495.3,197.2L492.5,197.2M510.4,188.3L508.9,185.0L507.5,181.7M507.5,181.7l-3.9,-2.3M507.5,181.7L505.4,178.7M505.4,178.7l-0.9,-5.1M505.4,178.7L502.4,176.7L500.2,173.8M519.8,185.6L521.8,183.3L522.7,180.5M522.7,180.5l2.6,-3.2M522.7,180.5L523.9,177.7L526.5,176.3L527.8,173.5M514.0,190.8L511.7,187.0L511.0,182.7M511.0,182.7l0.8,-5.7M511.0,182.7L508.2,179.3M508.2,179.3l0.0,-4.0M508.2,179.3L505.5,175.9L503.8,171.9M514.9,195.3L515.0,199.6L512.6,203.2M512.6,203.2l-4.6,2.5M512.6,203.2L509.4,206.1L506.9,209.6L503.4,212.1M517.9,194.5L520.4,194.5L522.7,193.6L524.9,192.6L527.4,192.3L529.8,192.0M522.7,193.0L524.8,193.3L526.9,192.9M526.9,192.9l6.8,3.2M526.9,192.9L528.9,193.4L530.8,194.3L532.9,194.1M520.2,197.1L521.9,199.5L523.1,202.1L524.4,204.7L524.8,207.6L527.0,209.4M520.8,194.4L524.5,192.7L528.4,191.8M528.4,191.8l5.9,-6.0M528.4,191.8L532.4,192.6L536.3,191.6L539.9,193.4M515.3,203.5L515.7,204.4L515.3,205.3M515.3,205.3l-0.1,8.8M515.3,205.3L515.1,206.3M515.1,206.3l2.9,6.5M515.1,206.3L515.1,207.3L514.5,208.1M513.4,191.4L510.1,189.6L506.4,188.7L502.6,188.6L500.6,185.4L496.8,185.3M513.8,192.6L510.3,191.6L508.0,188.7L504.5,188.1M504.5,188.1l-8.1,1.5M504.5,188.1L501.0,187.1L498.4,184.5M514.0,185.6L514.3,182.0L512.7,178.7M512.7,178.7l-0.9,-8.5M512.7,178.7L511.4,175.3L509.1,172.5L507.7,169.2M520.9,199.9L522.3,201.6L524.3,202.8L525.2,204.9M525.2,204.9l-0.8,5.1M525.2,204.9L526.9,206.3L528.0,208.3M512.3,195.5L510.3,196.4L508.9,198.2M508.9,198.2l-6.1,4.3M508.9,198.2L506.9,199.2L505.4,200.8L503.3,201.5M518.5,193.8L521.8,194.9L524.9,196.3L528.2,195.2L531.6,196.1L535.0,196.5M516.4,194.3L520.5,193.3L524.4,191.8M524.4,191.8l3.6,-3.6M524.4,191.8L528.5,190.7L532.6,192.1L536.7,191.2" fill="none" stroke="#1a1a1a" stroke-width="1.1" stroke-opacity="0.45" stroke-linecap="round" stroke-linejoin="round"/>
<circle cx="484.0" cy="238.0" r="25.2" fill="url(#pgB)"/>
<path d="M487.7,226.4l-0.1,-4.5M499.9,229.7l3.5,-0.6M483.2,259.0l-1.0,4.3M506.7,230.9l5.7,1.3M507.8,236.8l3.0,1.7M487.9,224.2l4.2,-2.8M498.2,237.1l3.1,-0.9M491.0,258.6l2.3,2.0M480.0,260.9l-2.1,5.3M483.6,231.0l0.7,-3.3M496.9,219.5l1.9,-4.6M500.5,240.2l4.0,1.7M500.0,246.4l4.0,0.1M504.1,249.7l3.2,1.7M461.4,234.0l-6.3,0.5M494.7,225.4l3.6,-1.3M479.2,241.7l-5.2,-0.1M496.6,238.4l6.6,-0.5M491.5,215.3l-1.1,-3.0M466.0,237.0l-4.8,-4.4M465.6,230.1l-5.8,-2.2M491.5,216.1l3.3,-2.5M498.9,242.3l5.1,3.4M495.9,241.1l4.7,-0.0M474.1,237.0l-5.9,-0.3M506.6,246.8l6.1,1.1M475.6,250.5l-4.3,3.8M495.0,244.8l3.4,3.1M460.7,232.0l-4.3,-0.2M500.3,242.1l1.9,1.7M468.5,248.0l-2.2,2.0M479.3,243.9l-4.1,4.3M485.0,215.3l2.8,-5.7M489.5,228.3l-0.3,-4.4M479.9,245.8l-1.4,2.4M469.6,247.0l-6.3,-0.2M462.7,246.4l-3.1,0.1M494.4,254.8l2.6,2.7M475.1,217.3l-1.1,-4.7M466.4,248.8l-4.1,5.4M492.7,240.3l3.7,-0.7M489.6,260.3l0.5,3.1M463.3,249.2l-3.8,3.5M472.7,246.6l-3.4,2.5M476.0,256.7l-2.8,3.0M471.6,256.2l-5.0,1.5M475.0,260.4l-3.1,3.1M497.4,245.1l4.1,-0.3M479.7,218.4l-3.5,-2.7M483.0,219.9l-1.7,-2.5M472.1,225.2l-3.6,-4.5M493.9,243.3l6.3,1.1M462.1,241.6l-5.9,-1.0M490.8,231.7l3.0,-1.5M502.5,246.1l3.7,-1.0M478.9,242.5l-2.5,2.9M480.9,241.4l-2.1,4.5M504.6,234.0l2.5,0.7M503.2,244.6l6.0,-0.2M483.7,261.9l0.0,3.1M492.6,215.7l1.3,-5.1M471.0,237.3l-3.8,-1.1M503.0,236.1l2.0,-1.7M483.0,233.2l1.2,-4.2M467.9,244.4l-4.0,0.2M480.4,258.4l1.0,4.7M477.7,220.8l-1.5,-3.4M476.5,235.6l-5.9,-0.9M473.3,259.5l-2.2,1.7M476.0,223.0l-4.3,-4.7M478.5,260.1l-0.4,3.4M475.5,256.8l-3.4,3.9M472.3,240.9l-3.1,-1.5M470.3,250.3l-4.0,3.6M466.5,233.0l-4.7,0.3M474.6,249.0l-2.7,4.7M490.9,230.6l5.2,-1.4M468.9,245.9l-3.6,0.9M496.5,241.0l4.9,4.1M503.4,226.5l3.8,-1.0M494.7,247.2l3.5,3.5M491.1,236.1l2.4,0.9M495.0,231.9l6.5,-2.3M479.9,229.7l-2.2,-2.5M472.5,222.3l-1.5,-2.7M487.0,243.7l3.0,4.9M489.7,224.9l3.5,-5.5M496.8,217.1l0.1,-5.8M479.9,219.5l-3.0,-4.7M506.8,236.1l3.8,2.3M500.8,251.5l1.0,2.8M481.2,224.7l-1.2,-4.9M495.3,244.5l2.8,-0.1M474.7,247.9l-0.9,2.8M484.9,226.6l0.8,-3.8M476.1,225.8l-1.3,-5.5M504.8,226.2l2.6,-3.4M473.8,244.5l-2.7,6.1M496.7,226.7l3.5,-4.2" fill="none" stroke="#1a1a1a" stroke-width="0.8" stroke-opacity="0.27" stroke-linecap="round"/>
<path d="M485.4,241.9L484.7,244.5L486.4,246.7L486.2,249.4M486.2,249.4l-3.9,7.0M486.2,249.4L486.0,252.1L486.3,254.9M484.9,237.2L488.0,234.9L491.6,233.5M491.6,233.5l7.5,-0.2M491.6,233.5L495.3,232.9L498.4,230.5L502.0,229.3M486.7,238.0L491.1,239.1L495.3,237.2L499.7,236.3M499.7,236.3l4.8,2.6M499.7,236.3L504.3,235.9L508.5,237.4M488.6,235.8L491.4,235.3L493.9,233.9M493.9,233.9l5.6,0.3M493.9,233.9L496.7,234.2M496.7,234.2l7.0,-1.8M496.7,234.2L499.6,234.0L502.4,234.1M483.1,241.5L483.6,245.4L481.4,248.8L479.3,252.1M479.3,252.1l-3.7,2.5M479.3,252.1L477.5,255.7L478.0,259.6M485.2,241.6L486.3,244.3L486.4,247.3L487.1,250.2M487.1,250.2l4.4,5.4M487.1,250.2L486.7,253.2L486.6,256.1M493.6,238.0L494.5,238.2L495.4,238.1M495.4,238.1l7.6,-4.1M495.4,238.1L496.2,237.8L497.0,237.6L497.8,238.0M482.6,236.4L478.8,234.6L474.9,232.8M474.9,232.8l-5.7,-0.5M474.9,232.8L471.2,230.9M471.2,230.9l-7.2,-0.2M471.2,230.9L467.6,228.7L463.4,229.0M488.6,241.0L489.6,242.5L490.3,244.2M490.3,244.2l4.7,2.7M490.3,244.2L492.0,245.0L493.4,246.0L495.2,246.5M482.8,243.5L483.5,245.9L483.8,248.4M483.8,248.4l-1.9,5.9M483.8,248.4L483.3,250.9L482.0,253.0L481.5,255.5M485.5,244.8L487.6,247.0L490.0,248.7L492.7,250.1L494.9,252.1L497.2,254.0M485.0,238.9L489.2,240.8L493.7,240.8L498.2,241.0M498.2,241.0l8.2,-2.3M498.2,241.0L502.2,243.1L506.7,243.4M480.6,247.3L479.2,249.6L477.9,252.0L476.5,254.2L475.7,256.8L474.4,259.2M485.6,234.8L487.2,232.7L487.2,230.1M487.2,230.1l-2.8,-3.2M487.2,230.1L488.8,228.1L490.4,226.0L490.6,223.4M480.9,245.8L479.5,247.1L478.3,248.8L478.5,250.8L477.2,252.3L476.2,254.1M488.9,245.0L490.3,247.2L492.4,248.7L492.7,251.3L493.5,253.7L493.7,256.3M486.6,230.4L486.3,227.8L486.6,225.3M486.6,225.3l-2.6,-4.4M486.6,225.3L485.6,222.9L486.8,220.7L487.2,218.2M489.1,242.1L490.1,244.6L491.9,246.5M491.9,246.5l2.6,5.5M491.9,246.5L493.7,248.6L496.2,249.3L498.1,251.2M481.2,239.9L479.0,240.7L477.8,242.7L476.2,244.3L474.4,245.7L472.1,246.2M487.5,235.4L490.3,234.6L491.9,232.1L494.8,232.0L497.4,230.4L500.2,229.6M478.0,233.4L477.0,231.6L475.1,231.0L473.5,229.9M473.5,229.9l-1.8,-3.4M473.5,229.9L471.7,229.0L470.8,227.2M476.5,235.9L474.4,234.7L472.4,233.4L470.1,232.9M470.1,232.9l-4.5,-4.1M470.1,232.9L468.6,231.1L466.6,229.7M479.3,245.4L478.0,246.9L476.2,247.7L476.0,249.7L474.8,251.2L474.6,253.2M488.4,236.4L490.5,233.6L493.3,231.5L496.6,230.2L499.9,229.0L501.5,225.9M487.3,228.7L487.3,226.5L487.6,224.4M487.6,224.4l-1.3,-4.0M487.6,224.4L488.8,222.6L488.7,220.5L488.9,218.3M491.9,240.4L494.7,241.6L497.3,242.8L500.0,244.1M500.0,244.1l7.5,-0.3M500.0,244.1L502.8,245.0L505.7,244.3M483.5,237.7L479.6,235.4L477.0,231.7L473.3,229.1L470.7,225.4L468.7,221.3M476.9,232.0L475.5,230.3L473.5,229.5L472.5,227.6L471.4,225.7L470.0,224.0M483.7,235.8L481.9,231.5L480.4,227.1M480.4,227.1l-3.4,-3.1M480.4,227.1L479.3,222.6L475.7,219.6L473.2,215.6M485.4,241.2L487.4,242.6L489.6,243.7L491.9,244.3L494.2,245.1L495.1,247.4M484.7,244.9L484.7,246.8L484.1,248.6M484.1,248.6l0.7,6.4M484.1,248.6L485.0,250.3L485.4,252.1L485.0,254.0M492.0,242.0L492.7,242.7L493.3,243.6L494.1,244.1L494.6,245.0L495.5,245.4M475.6,239.7L474.0,239.9L472.5,240.6L471.0,241.0L469.4,241.3L468.0,242.0M479.0,229.6L477.5,228.1L476.3,226.4L475.3,224.6L474.8,222.6L474.6,220.5M477.7,241.6L474.6,243.0L472.9,245.9M472.9,245.9l-0.7,6.3M472.9,245.9L471.6,249.1L469.1,251.4L467.1,254.1M484.0,238.7L482.5,241.5L483.1,244.6M483.1,244.6l-2.2,5.0M483.1,244.6L483.3,247.8L484.1,250.8L484.9,253.9M486.7,237.7L490.6,237.1L494.1,235.2M494.1,235.2l8.4,-0.7M494.1,235.2L497.3,232.9M497.3,232.9l3.3,-5.7M497.3,232.9L501.2,232.2L504.7,230.3M475.0,241.5L474.1,242.0L473.1,242.4M473.1,242.4l-5.1,-0.4M473.1,242.4L472.4,243.2L471.6,243.7L470.8,244.4M474.6,236.9L472.9,237.5L471.2,236.8L469.4,236.9L467.6,236.4L466.0,235.6M490.3,245.6L491.1,246.7L492.0,247.7L493.2,248.1M493.2,248.1l6.9,-2.2M493.2,248.1L494.0,249.2L495.1,250.0M482.9,234.4L482.7,232.2L483.4,230.0L483.8,227.8M483.8,227.8l-2.4,-8.0M483.8,227.8L482.7,225.8L482.7,223.6M482.9,234.5L483.6,231.2L481.7,228.6M481.7,228.6l-7.7,-2.5M481.7,228.6L480.2,225.6L478.2,222.9L477.5,219.7M477.2,237.1L474.5,234.7L470.9,234.0M470.9,234.0l-5.2,-4.4M470.9,234.0L467.3,233.9L463.6,234.3L460.0,234.2M483.3,245.9L484.1,248.5L485.0,251.0M485.0,251.0l4.5,3.1M485.0,251.0L485.0,253.7M485.0,253.7l4.5,5.5M485.0,253.7L483.8,256.0L482.3,258.3M490.4,242.5L492.5,243.5L493.9,245.3L496.0,246.4L497.3,248.4L498.1,250.6M485.5,241.8L486.0,245.0L487.2,248.1L486.6,251.4M486.6,251.4l-5.3,5.8M486.6,251.4L485.7,254.6L487.1,257.6M485.0,233.6L484.5,230.0L486.3,227.0L487.2,223.5M487.2,223.5l3.2,-3.3M487.2,223.5L489.7,221.0L492.4,218.6M484.1,239.1L484.4,242.0L483.7,244.9M483.7,244.9l-2.9,4.7M483.7,244.9L482.8,247.7L483.1,250.6L482.2,253.4M482.9,238.1L478.2,238.0L473.8,239.7L469.2,240.3L464.6,239.3L460.2,240.9" fill="none" stroke="#1a1a1a" stroke-width="1.1" stroke-opacity="0.45" stroke-linecap="round" stroke-linejoin="round"/>
<circle cx="546.0" cy="229.0" r="22.1" fill="url(#pgB)"/>
<path d="M551.4,242.0l5.1,3.2M535.7,211.9l0.9,-5.9M561.5,216.9l1.4,-3.3M560.3,233.5l3.1,-0.4M536.2,234.8l-1.7,4.4M550.1,209.5l-0.9,-4.2M561.9,240.0l2.0,5.6M538.9,222.8l-2.4,-2.5M550.0,233.0l4.1,0.6M547.2,237.1l0.4,2.6M533.8,223.1l-3.9,-2.4M536.2,228.6l-6.1,-1.8M533.6,217.7l-4.8,-2.3M547.5,247.0l2.6,3.6M548.7,218.9l3.8,-2.8M554.8,227.0l4.8,1.9M547.8,225.2l5.8,-2.9M543.8,237.2l-2.6,2.0M535.1,238.5l-3.6,4.8M556.6,226.2l2.7,-2.4M543.3,225.3l-2.3,-4.1M533.2,237.5l-2.5,3.1M542.2,244.3l-0.8,6.5M525.1,229.9l-5.3,4.6M544.5,232.1l0.5,6.8M555.3,228.8l3.4,-1.6M563.3,220.9l6.6,0.8M552.7,235.1l2.5,2.8M552.9,234.4l1.5,3.5M543.7,233.4l-2.3,5.6M552.1,218.5l2.9,-3.3M543.3,242.2l-3.0,5.0M559.8,241.7l3.2,2.9M546.5,239.2l1.1,2.4M548.1,214.7l-2.4,-6.5M543.0,215.1l0.5,-3.1M540.2,215.1l-3.3,-2.5M556.3,210.5l1.8,-5.1M538.0,247.3l-4.0,4.3M552.6,245.3l3.3,5.3M537.9,211.8l-5.1,-3.0M555.6,216.0l3.3,-4.1M566.9,228.8l4.7,2.4M559.2,213.4l3.1,-0.6M550.8,226.4l3.8,-2.0M525.9,227.2l-4.3,-0.1M545.3,241.8l1.1,2.9M556.9,220.4l2.2,-1.7M552.8,221.7l6.2,-3.1M543.9,208.7l-2.3,-3.5M559.8,219.8l4.0,-1.2M559.1,212.9l3.5,-0.8M535.6,212.9l0.1,-6.4M535.9,242.1l-4.0,5.6M557.3,222.7l3.8,-1.3M556.1,233.6l6.9,-0.8M545.1,232.6l-0.3,4.9M540.6,220.3l-1.3,-2.9M541.9,242.3l2.2,6.0M560.4,244.1l3.0,3.7M527.6,239.2l-5.8,0.8M558.2,231.2l4.9,-2.3M532.8,227.3l-4.6,1.7M543.5,249.7l-1.3,2.6M547.3,234.3l-1.0,2.6M545.7,220.6l2.6,-5.1M538.1,214.9l0.5,-2.6M532.7,238.8l-3.6,-0.1M551.0,218.8l0.7,-3.2M548.2,221.8l1.0,-6.0M553.2,225.6l3.9,0.6M538.4,221.6l-1.3,-3.5M542.1,228.0l-3.8,-0.3M559.6,217.9l3.5,-5.5M532.0,214.0l-0.2,-3.6M531.0,227.0l-3.4,-2.5M530.7,221.6l-2.3,-4.2M539.8,236.3l-1.2,2.8M535.5,212.4l-3.1,-1.9M552.7,238.9l3.9,3.8M551.1,212.3l4.3,-3.9M557.9,234.2l3.4,0.6M535.9,243.5l-4.7,1.4M532.2,225.8l-2.5,-0.5M536.3,244.5l-0.9,5.2M539.7,227.3l-3.1,-0.3M551.4,238.4l0.9,3.3" fill="none" stroke="#1a1a1a" stroke-width="0.8" stroke-opacity="0.27" stroke-linecap="round"/>
<path d="M546.7,226.8L546.4,223.0L548.2,219.8L547.8,216.1L549.7,212.9L548.8,209.3M549.8,228.9L552.3,229.8L554.9,230.2M554.9,230.2l6.8,-3.4M554.9,230.2L557.3,231.4L559.9,231.6L562.5,231.9M542.4,225.1L540.2,224.4L538.2,223.2M538.2,223.2l-7.2,0.1M538.2,223.2L536.1,222.4L535.0,220.4L533.4,218.7M539.6,230.7L536.9,231.4L534.0,231.1M534.0,231.1l-6.8,2.3M534.0,231.1L531.5,232.6L528.7,233.0L526.0,232.0M546.7,224.3L548.4,222.4L549.0,219.9L549.4,217.5L551.0,215.5L552.4,213.4M553.4,226.1L555.2,223.9L557.6,222.3M557.6,222.3l7.3,-2.3M557.6,222.3L560.3,221.4M560.3,221.4l5.5,0.3M560.3,221.4L562.5,219.6L565.3,219.0M547.0,230.3L548.9,232.7L549.3,235.8L551.9,237.6L552.6,240.6L555.1,242.6M545.0,224.3L543.8,222.3L542.6,220.3L541.1,218.5L541.0,216.1L539.2,214.6M545.8,231.3L545.5,233.5L544.1,235.2L543.8,237.4L544.1,239.6L542.6,241.3M545.6,229.2L542.7,229.9L539.9,230.5L537.1,229.9L534.2,230.1L531.4,229.2M546.6,227.1L546.1,223.2L544.5,219.7M544.5,219.7l-5.5,-4.1M544.5,219.7L544.5,215.8L543.4,212.2L541.6,208.7M545.8,229.3L543.1,231.7L542.0,235.3L541.9,238.9L539.3,241.5L538.5,245.1M545.8,229.2L541.8,229.8L537.7,230.1M537.7,230.1l-5.3,3.9M537.7,230.1L533.8,231.2M533.8,231.2l-6.5,-1.3M533.8,231.2L529.8,230.7L526.3,232.8M542.8,228.0L540.9,227.5L538.9,227.3M538.9,227.3l-3.5,1.6M538.9,227.3L537.1,226.6M537.1,226.6l-4.0,-5.9M537.1,226.6L535.7,225.3L534.0,224.3M546.7,225.7L546.4,223.8L546.2,222.0L547.2,220.4M547.2,220.4l5.2,-1.8M547.2,220.4L546.8,218.6L546.4,216.8M546.1,226.4L544.4,223.1L542.5,219.8M542.5,219.8l-2.8,-2.4M542.5,219.8L539.7,217.2L537.9,213.9L535.4,211.1M551.8,226.2L552.7,224.8L554.2,224.0L555.8,224.0M555.8,224.0l6.0,4.0M555.8,224.0L557.4,223.5L559.0,223.5M539.8,229.6L537.8,230.6L535.6,230.1L533.5,230.8M533.5,230.8l-4.6,-1.4M533.5,230.8L531.4,230.2L529.4,229.1M543.7,225.4L543.5,222.4L543.2,219.4M543.2,219.4l-3.6,-6.0M543.2,219.4L543.9,216.5L542.3,214.0L543.3,211.1M548.8,226.8L550.5,225.2L552.8,224.9L555.1,224.4L556.2,222.4L558.5,222.0M549.2,224.8L550.3,222.4L550.2,219.8M550.2,219.8l2.2,-2.7M550.2,219.8L552.0,217.8L554.3,216.6L555.5,214.2M553.2,233.4L553.9,234.7L555.2,235.2M555.2,235.2l3.8,6.3M555.2,235.2L556.2,236.2M556.2,236.2l3.3,1.4M556.2,236.2L557.4,237.0L558.6,237.7M546.3,228.6L548.6,227.5L550.4,225.8L551.7,223.6L553.1,221.5L555.0,219.9M544.1,233.5L543.6,234.9L543.5,236.4L543.5,237.9M543.5,237.9l1.7,4.4M543.5,237.9L543.2,239.3L542.4,240.6M545.3,228.0L543.8,224.6L541.6,221.5L540.5,217.9L540.7,214.1L538.2,211.3M544.5,236.1L543.3,238.1L542.5,240.4M542.5,240.4l-0.2,7.7M542.5,240.4L543.0,242.7L543.5,245.0L542.2,247.0M542.8,231.3L539.9,231.7L537.0,231.9L534.9,233.9M534.9,233.9l-6.7,3.1M534.9,233.9L532.0,233.9L530.1,236.1M543.4,226.8L541.7,224.8L540.3,222.5L538.0,221.2L535.4,220.7L532.9,220.1M544.7,229.4L542.2,231.6L539.1,232.8L535.8,233.6M535.8,233.6l-4.7,-2.2M535.8,233.6L533.7,236.2L531.7,238.9M549.6,231.5L551.7,233.6L554.2,235.2L555.8,237.7M555.8,237.7l1.6,6.3M555.8,237.7L558.6,238.7L560.6,240.9M543.2,232.5L542.4,234.2L541.1,235.6L539.3,236.4M539.3,236.4l-4.9,5.7M539.3,236.4L539.0,238.3L537.9,239.8M538.3,233.1L537.1,233.5L536.4,234.5L535.6,235.4L534.5,235.9L533.3,236.0M544.3,222.5L543.4,219.7L543.9,216.8L544.6,214.0M544.6,214.0l-0.3,-4.6M544.6,214.0L544.8,211.1L544.5,208.2M547.3,224.1L548.1,221.7L549.8,219.6M549.8,219.6l0.6,-5.6M549.8,219.6L550.2,217.1M550.2,217.1l3.0,-3.8M550.2,217.1L550.1,214.5L550.4,211.9M543.8,228.0L541.0,227.7L538.3,228.4L535.9,229.8L533.2,229.2L530.6,228.4M538.5,226.4L536.0,226.3L533.4,226.8L531.2,225.4L528.7,224.8L526.2,224.4M545.2,230.9L545.4,234.0L543.9,236.7M543.9,236.7l-3.1,2.5M543.9,236.7L542.9,239.6M542.9,239.6l-4.5,4.5M542.9,239.6L543.3,242.7L542.4,245.7M546.1,229.7L545.8,232.7L544.6,235.5M544.6,235.5l-3.6,2.4M544.6,235.5L544.5,238.5L543.0,241.2L542.6,244.2M541.8,230.9L540.2,232.8L539.3,235.0L538.5,237.3L536.2,238.1L535.1,240.2M554.2,227.8L555.0,227.4L555.8,227.2L556.4,226.7M556.4,226.7l3.4,-0.0M556.4,226.7L557.1,226.2L557.9,226.5M538.7,229.6L536.4,229.9L534.2,230.4L532.0,230.2M532.0,230.2l-3.1,1.6M532.0,230.2L529.7,230.4L527.6,231.1M545.7,234.6L544.7,237.4L545.6,240.3L544.7,243.1M544.7,243.1l-3.5,3.3M544.7,243.1L545.8,245.8L546.2,248.7M544.9,223.3L544.8,221.3L543.6,219.8M543.6,219.8l-0.5,-3.3M543.6,219.8L543.2,217.8L542.0,216.2L540.4,214.9" fill="none" stroke="#1a1a1a" stroke-width="1.1" stroke-opacity="0.45" stroke-linecap="round" stroke-linejoin="round"/>
<circle cx="581.0" cy="254.0" r="25.2" fill="url(#pgB)"/>
<path d="M590.2,231.3l1.0,-5.4M568.0,274.7l-3.8,2.2M585.6,270.6l0.2,3.5M599.2,254.6l4.3,1.9M564.8,242.9l-2.8,-2.7M577.6,245.0l-3.5,-3.3M579.3,272.7l-3.9,4.6M573.6,274.2l-0.4,2.7M579.8,265.3l0.6,6.2M574.0,254.8l-6.6,0.1M569.3,242.4l-6.3,-0.6M582.4,230.4l-2.1,-6.2M563.1,246.3l-5.5,0.9M580.5,259.5l2.3,3.8M565.7,235.1l-5.3,-3.4M586.7,232.8l-0.8,-5.9M565.0,258.2l-5.5,0.5M596.4,253.0l2.6,-0.1M562.9,240.5l-5.5,-1.5M592.5,242.5l0.9,-2.5M561.5,242.3l-5.9,-0.6M568.2,246.2l-5.9,-0.4M575.1,246.7l-2.8,-2.8M557.7,251.5l-4.8,-3.5M574.5,255.7l-5.8,-1.1M568.3,245.1l-5.3,-2.9M569.3,234.6l-3.3,-5.5M562.5,259.1l-4.1,4.0M597.9,248.0l2.0,-1.7M583.6,269.1l1.9,3.2M562.3,239.5l-5.9,-1.9M592.2,263.9l2.1,6.5M602.9,250.4l6.0,-1.2M594.4,263.1l4.6,3.3M571.4,269.8l-1.7,2.7M588.7,248.2l5.3,-4.0M568.6,274.9l0.4,2.5M571.1,256.4l-6.0,-0.1M586.2,273.5l2.2,1.6M562.7,262.6l-5.4,2.6M591.5,261.4l6.4,2.0M574.8,270.0l-3.3,4.5M572.1,251.1l-5.5,-1.2M582.2,270.8l0.9,2.9M584.6,271.4l5.0,4.6M593.5,261.2l2.5,3.8M594.7,253.5l2.5,0.5M597.1,237.6l4.0,-5.7M600.2,266.9l4.1,5.1M580.4,270.3l-2.3,2.9M576.2,255.0l-6.7,1.3M563.4,268.9l-2.3,3.2M597.5,240.8l6.1,-2.1M563.3,252.7l-2.5,0.6M591.0,238.2l-0.8,-6.9M585.6,275.3l2.8,4.7M578.6,234.2l0.1,-4.2M602.0,251.2l2.4,1.2M591.9,259.1l2.9,1.4M578.3,248.6l-1.6,-3.9M570.5,273.2l-2.8,3.0M596.9,246.0l4.5,-3.1M588.1,239.8l2.1,-3.8M584.7,243.9l0.8,-5.1M575.0,255.3l-4.5,-1.4M573.2,274.4l-0.8,3.8M564.0,263.2l-4.0,-0.0M589.1,255.9l5.1,3.2M572.1,252.3l-4.7,-2.4M576.0,253.8l-5.2,2.7M585.4,273.1l3.9,3.8M563.0,246.5l-1.7,-2.2M566.5,263.4l-4.0,4.3M592.1,232.6l1.9,-2.4M585.6,248.2l0.3,-2.7M591.7,236.0l-0.2,-3.6M594.5,257.1l2.9,-0.6M590.5,265.3l2.4,3.9M575.6,258.9l-0.4,2.7M597.6,262.3l3.8,4.3M578.8,236.6l-0.2,-2.7M573.2,261.3l-1.0,3.8M603.0,253.1l5.7,-3.5M563.4,270.9l-3.4,3.4M576.3,247.2l-1.3,-2.7M584.5,256.0l2.2,4.1M577.5,235.9l0.7,-2.7M572.6,258.8l-4.5,1.6M594.7,251.1l3.3,1.5M593.1,256.9l5.6,0.2M576.5,259.1l-0.5,3.2M589.1,246.8l3.7,-1.6M581.6,230.7l2.5,-3.5M591.7,248.2l6.7,-0.5M558.4,251.5l-3.3,0.8M583.8,269.9l-0.6,5.6M574.2,231.9l0.3,-5.1M596.0,273.1l2.3,2.5M582.9,232.9l0.3,-5.6" fill="none" stroke="#1a1a1a" stroke-width="0.8" stroke-opacity="0.27" stroke-linecap="round"/>
<path d="M583.5,246.2L583.4,244.8L584.3,243.8L584.0,242.4L585.0,241.5L585.8,240.4M573.9,259.6L572.1,261.3L569.9,262.2L567.7,263.1L565.5,263.9L564.2,265.9M580.0,258.5L578.6,262.0L576.0,264.8L574.9,268.4L574.2,272.1L572.6,275.5M573.1,258.2L571.5,259.7L570.3,261.5L568.5,262.6M568.5,262.6l-8.6,1.8M568.5,262.6L567.4,264.5L566.5,266.5M581.2,249.8L580.1,246.1L580.3,242.3L579.5,238.5M579.5,238.5l2.7,-7.2M579.5,238.5L579.0,234.7L577.2,231.2M581.5,260.3L582.8,263.9L585.3,266.9L586.5,270.6M586.5,270.6l5.1,4.7M586.5,270.6L587.2,274.3L587.1,278.2M584.3,257.0L586.1,257.8L587.1,259.4M587.1,259.4l3.6,1.5M587.1,259.4L588.9,260.2M588.9,260.2l6.0,0.8M588.9,260.2L590.3,261.5L592.2,261.7M582.5,254.4L585.9,255.5L589.4,254.7L592.8,253.9L596.3,254.7L599.4,256.3M581.6,252.7L582.8,249.8L582.3,246.7L584.0,244.0L585.4,241.2L587.6,239.1M586.5,255.6L588.4,256.5L590.6,256.7L592.8,256.5L594.9,255.9L596.7,257.3M579.6,250.3L578.4,246.4L575.6,243.3M575.6,243.3l-4.5,-2.5M575.6,243.3L572.3,240.8L568.8,238.7L565.5,236.2M586.9,252.4L589.3,252.7L591.6,251.8L594.1,252.3L596.4,253.3L598.5,251.9M576.9,253.5L573.8,251.8L570.6,250.3L567.7,248.3L565.1,245.9L562.7,243.4M579.2,263.6L578.9,266.3L578.7,268.9L577.5,271.3L576.2,273.6L575.4,276.2M587.5,260.9L588.5,261.7L589.4,262.8L590.0,264.0M590.0,264.0l0.6,7.1M590.0,264.0L590.9,265.1L592.1,265.6M582.7,251.9L583.5,248.1L585.2,244.7L588.3,242.5M588.3,242.5l6.9,-0.9M588.3,242.5L590.8,239.6L593.3,236.6M580.7,259.1L579.9,261.1L578.6,262.8L579.0,264.9M579.0,264.9l-1.0,5.3M579.0,264.9L579.1,267.1L579.1,269.2M581.9,251.7L581.4,247.2L581.6,242.7M581.6,242.7l3.1,-8.2M581.6,242.7L581.6,238.2M581.6,238.2l-2.4,-4.2M581.6,238.2L584.1,234.5L587.1,231.1M579.3,257.4L577.5,259.8L575.1,261.6L573.5,264.2M573.5,264.2l-0.5,7.5M573.5,264.2L571.3,266.2L569.9,268.9M583.4,252.6L586.0,251.6L588.2,250.0M588.2,250.0l4.1,-0.1M588.2,250.0L590.2,248.1L592.8,247.2L595.6,246.8M574.5,255.4L573.3,256.5L571.7,256.9L570.5,258.0L568.9,258.3L567.3,258.7M580.7,253.5L580.0,250.2L578.8,247.1M578.8,247.1l-3.6,-4.5M578.8,247.1L576.4,244.6M576.4,244.6l-1.6,-5.5M576.4,244.6L573.9,242.3L573.5,239.0M581.2,259.8L580.5,261.8L579.2,263.5M579.2,263.5l-3.8,1.1M579.2,263.5L578.6,265.6M578.6,265.6l-3.6,2.6M578.6,265.6L578.9,267.7L578.1,269.7M582.0,261.6L580.8,264.2L581.9,266.7M581.9,266.7l4.6,2.5M581.9,266.7L581.7,269.5M581.7,269.5l1.8,5.5M581.7,269.5L580.5,272.1L581.1,274.8M583.7,248.1L584.4,244.6L586.9,242.1M586.9,242.1l8.7,-1.1M586.9,242.1L588.1,238.8M588.1,238.8l4.0,-2.8M588.1,238.8L590.3,235.9L590.8,232.4M578.0,251.3L575.5,250.6L573.4,249.3M573.4,249.3l-5.4,0.2M573.4,249.3L571.5,247.6L569.0,247.2L566.6,246.3M586.0,252.2L587.8,251.9L589.6,252.2M589.6,252.2l5.2,4.6M589.6,252.2L591.3,251.7M591.3,251.7l6.7,-4.8M591.3,251.7L592.8,250.6L594.3,249.6M581.1,253.7L584.0,250.7L587.2,248.0M587.2,248.0l4.3,-7.1M587.2,248.0L588.3,243.9L590.0,240.1L592.9,237.0M579.3,253.1L576.4,252.4L573.3,252.2L570.4,253.1M570.4,253.1l-5.2,5.0M570.4,253.1L567.4,253.6L564.4,252.7M575.4,248.2L573.0,246.5L570.1,245.8L567.5,244.4M567.5,244.4l-8.4,1.4M567.5,244.4L566.1,241.7L563.3,240.7M574.3,260.3L573.2,260.6L572.2,260.8L571.3,261.4M571.3,261.4l-1.8,3.3M571.3,261.4L570.2,261.5L569.7,262.4M581.2,249.4L579.9,245.5L580.9,241.4L579.9,237.3L581.5,233.5L582.4,229.4M587.7,246.6L589.6,245.8L591.5,245.3M591.5,245.3l6.8,-5.5M591.5,245.3L593.2,244.2L595.1,243.4L596.9,242.6M583.2,257.2L584.8,259.0L586.6,260.6M586.6,260.6l1.9,7.9M586.6,260.6L588.0,262.6M588.0,262.6l1.9,5.8M588.0,262.6L588.6,264.9L590.7,266.2M576.7,248.8L574.3,247.3L572.7,244.8L570.6,242.8L569.2,240.3L566.5,239.4M580.0,264.0L580.9,266.9L581.8,269.8L580.3,272.5M580.3,272.5l1.0,7.6M580.3,272.5L579.3,275.3L577.5,277.8M578.9,256.7L577.0,259.1L574.4,260.8L572.4,263.1M572.4,263.1l-0.9,8.2M572.4,263.1L569.4,264.0L566.5,265.0M581.4,256.2L581.8,258.8L582.1,261.4L582.9,263.9L583.2,266.4L582.3,268.9M581.9,244.3L582.2,243.2L582.5,242.2L582.1,241.2M582.1,241.2l-6.1,-3.2M582.1,241.2L581.8,240.1L581.9,239.0M588.8,256.7L591.6,257.9L594.7,257.9L597.8,257.6L600.3,259.3L603.4,258.9M579.1,260.8L579.2,263.8L578.7,266.8M578.7,266.8l3.5,6.5M578.7,266.8L578.8,269.8L578.8,272.8L577.2,275.3M586.0,248.3L587.0,247.2L588.4,246.8M588.4,246.8l4.7,-3.9M588.4,246.8L589.4,245.7M589.4,245.7l5.6,-3.3M589.4,245.7L590.8,245.3L591.2,243.9M579.9,253.1L576.3,250.8L573.1,247.9L570.9,244.2L569.6,240.1L565.5,238.6M580.5,260.0L581.0,261.7L580.2,263.3M580.2,263.3l-4.6,2.3M580.2,263.3L580.8,264.9M580.8,264.9l4.6,2.9M580.8,264.9L581.7,266.4L580.9,268.0M584.9,246.3L585.9,245.7L586.1,244.5M586.1,244.5l3.9,-5.6M586.1,244.5L586.8,243.5M586.8,243.5l7.3,-3.5M586.8,243.5L587.6,242.7L587.7,241.5M573.6,258.4L570.7,259.1L569.1,261.7L566.2,262.5M566.2,262.5l-5.9,-1.5M566.2,262.5L564.2,264.8L563.0,267.5M582.4,263.3L583.6,264.9L584.6,266.6M584.6,266.6l7.0,2.9M584.6,266.6L585.3,268.4M585.3,268.4l-0.5,7.3M585.3,268.4L585.2,270.3L585.1,272.3M579.8,254.7L576.3,256.9L573.7,260.0L569.8,261.1L565.6,261.3L561.6,262.0M580.0,245.9L579.5,242.6L580.8,239.6L580.8,236.4L581.7,233.2L581.1,230.0" fill="none" stroke="#1a1a1a" stroke-width="1.1" stroke-opacity="0.45" stroke-linecap="round" stroke-linejoin="round"/>
<circle cx="531.0" cy="268.5" r="28.4" fill="url(#pgB)"/>
<path d="M533.7,288.8l-2.5,6.0M522.8,265.5l-4.9,-3.9M520.7,287.4l0.1,6.8M535.2,264.8l1.5,-2.0M524.0,270.2l-5.5,1.3M536.9,287.8l2.8,2.7M520.5,251.8l-2.5,-2.0M519.2,282.0l-3.3,1.9M531.9,272.9l1.0,2.7M529.7,263.1l0.5,-2.8M523.3,252.9l-5.4,-2.7M547.6,252.7l2.7,-5.9M545.1,269.4l4.4,-1.1M551.3,276.2l2.4,2.5M535.8,252.7l0.7,-5.4M534.3,279.6l-1.0,2.8M521.5,283.2l0.1,4.2M536.5,279.7l-0.7,4.1M542.5,246.2l3.3,-5.1M536.2,276.4l0.7,5.8M543.2,249.9l4.9,-3.9M527.8,289.5l0.4,6.0M544.9,285.8l2.7,2.7M531.6,276.3l-3.3,5.0M532.1,286.9l-0.9,6.7M549.2,249.1l1.0,-5.8M534.2,255.7l-1.5,-3.1M536.4,242.5l1.0,-3.0M547.2,257.1l4.1,-1.9M530.2,278.0l-0.6,5.1M554.1,265.4l6.5,2.4M509.9,274.3l-3.8,-0.5M542.8,250.2l2.1,-6.0M519.2,282.3l-5.7,3.0M532.1,294.8l-0.1,4.7M519.3,271.4l-2.6,-0.2M520.3,249.9l-0.3,-5.2M522.7,248.1l-1.6,-4.1M536.1,256.8l5.4,-3.2M518.6,284.1l-1.9,4.9M548.8,254.6l3.2,-0.8M551.6,274.6l3.4,2.5M524.5,242.6l-1.5,-4.4M544.6,247.8l2.9,-2.2M546.6,273.8l3.0,1.9M507.6,271.2l-2.9,1.7M540.0,268.2l6.1,-3.3M520.9,277.8l-4.3,3.4M552.3,263.8l3.0,-1.7M531.1,254.7l-1.7,-3.5M545.7,251.5l0.5,-3.2M510.1,269.3l-5.4,0.5M515.9,247.2l-3.2,-2.3M542.3,279.4l0.6,4.7M524.2,242.1l-4.7,-3.9M552.7,256.3l5.4,-3.0M551.2,265.8l2.0,-2.2M526.0,276.1l-6.3,3.0M538.6,267.6l2.9,-2.0M510.1,275.6l-4.2,5.1M534.7,292.6l2.6,2.4M545.4,281.3l2.4,6.1M510.5,271.4l-4.6,3.5M524.6,259.1l-2.0,-4.3M536.5,241.5l2.9,-2.4M508.5,253.9l-3.6,-2.7M535.6,291.6l-1.3,4.3M529.4,255.1l0.7,-2.9M533.1,248.0l-0.2,-6.5M551.2,273.8l4.2,1.5M511.5,266.5l-6.4,2.8M521.6,289.6l-5.1,3.1M546.3,253.7l2.7,-2.6M553.2,281.0l2.5,1.0M520.7,270.2l-4.2,0.2M526.3,256.9l-1.4,-5.7M523.3,263.3l-2.0,-4.9M516.7,257.6l-3.6,-5.1M538.7,245.4l3.6,-4.8M520.0,276.3l-4.5,0.2M548.7,273.5l2.8,2.7M534.5,243.6l4.6,-4.9M534.2,286.7l2.0,1.9M554.7,259.8l4.6,-2.9M551.5,271.7l5.9,0.6M555.2,270.5l4.0,3.3M521.6,244.8l-2.2,-6.2M517.5,262.7l-2.9,-2.4M533.0,253.5l1.3,-4.6M537.3,277.0l2.5,1.0M516.7,248.0l-1.6,-5.7M538.1,268.8l3.4,1.2M536.8,249.4l2.2,-2.1M507.8,261.1l-2.8,0.3M536.7,287.0l-0.1,2.7M553.1,283.1l3.5,5.0M519.0,263.8l-6.1,-3.4M523.9,270.9l-2.8,-0.0M547.4,284.4l1.1,2.2M555.1,268.5l5.3,2.0M519.4,252.8l-3.3,-2.0M550.3,277.2l4.9,-1.4M522.1,271.8l-6.7,-0.5M522.7,268.9l-5.8,0.1M506.8,262.3l-5.0,-4.1M518.8,284.6l-3.2,5.7M522.8,288.7l-0.3,4.0M538.6,266.9l2.1,-1.6M548.8,275.0l3.3,-1.0M537.0,289.2l-0.8,6.3M519.8,259.8l-1.8,-1.7M552.3,273.5l2.1,2.7" fill="none" stroke="#1a1a1a" stroke-width="0.8" stroke-opacity="0.27" stroke-linecap="round"/>
<path d="M529.7,258.5L530.7,255.0L528.7,251.9L526.2,249.1L526.4,245.4L526.4,241.7M521.5,274.2L518.1,275.1L514.8,276.3M514.8,276.3l-5.5,-1.5M514.8,276.3L511.5,277.4M511.5,277.4l-7.7,-2.1M511.5,277.4L508.2,278.4L504.8,279.5M529.2,268.8L525.8,268.6L522.5,267.7M522.5,267.7l-5.5,-6.6M522.5,267.7L519.5,266.2L516.8,264.1L514.0,262.2M530.8,258.0L529.8,254.4L528.2,251.1L526.5,247.9M526.5,247.9l0.5,-5.6M526.5,247.9L524.3,245.0L522.5,241.7M529.4,267.0L526.4,262.7L522.3,259.3L520.6,254.3L518.0,249.7L517.5,244.4M530.2,262.3L531.2,258.8L531.2,255.1L530.9,251.5L532.3,248.1L533.8,244.7M542.1,268.0L543.0,268.1L543.8,268.4M543.8,268.4l6.7,0.2M543.8,268.4L544.6,268.0L545.5,268.4L546.3,268.2M529.8,269.9L529.2,273.9L528.6,277.9L528.2,281.9M528.2,281.9l-5.5,7.2M528.2,281.9L527.9,285.9L526.9,289.8M522.2,274.7L521.4,275.3L520.8,276.0M520.8,276.0l-0.3,6.1M520.8,276.0L519.9,276.1L518.9,276.3L518.0,276.3M531.9,271.7L533.3,274.1L533.9,276.8L533.3,279.5M533.3,279.5l-3.0,4.5M533.3,279.5L535.0,281.8L537.0,283.7M529.1,260.8L529.3,259.1L529.9,257.5M529.9,257.5l6.1,-3.4M529.9,257.5L529.1,256.0L529.3,254.3L529.1,252.6M529.5,269.8L525.8,272.5L523.1,276.2M523.1,276.2l-1.8,9.2M523.1,276.2L519.4,278.9M519.4,278.9l-7.2,0.9M519.4,278.9L515.0,280.3L513.0,284.5M531.2,258.1L531.9,255.4L532.3,252.6L533.0,249.9L533.0,247.0L533.7,244.3M535.3,262.4L537.5,261.2L539.8,259.9M539.8,259.9l3.5,-9.2M539.8,259.9L542.4,259.4M542.4,259.4l6.5,-6.8M542.4,259.4L544.1,257.4L546.1,255.7M526.6,273.1L525.3,276.6L524.7,280.4L522.9,283.7M522.9,283.7l-6.3,3.8M522.9,283.7L520.1,286.1L519.4,289.9M538.8,270.4L540.5,270.1L542.1,269.5L543.7,269.2M543.7,269.2l4.1,1.6M543.7,269.2L545.0,270.2L546.5,271.1M529.2,272.2L529.3,275.2L529.6,278.1L530.4,281.0L529.3,283.8L530.5,286.6M529.7,261.2L529.4,259.0L529.5,256.8M529.5,256.8l3.2,-8.1M529.5,256.8L529.3,254.6M529.3,254.6l3.0,-4.6M529.3,254.6L528.3,252.7L528.8,250.5M526.9,264.6L526.0,260.9L523.0,258.7M523.0,258.7l-2.3,-5.8M523.0,258.7L521.3,255.4M521.3,255.4l-0.8,-6.3M521.3,255.4L517.8,254.0L515.3,251.2M530.1,263.4L528.6,260.0L528.3,256.4L525.7,253.8M525.7,253.8l-8.7,-3.2M525.7,253.8L525.3,250.1L525.7,246.5M529.5,268.9L526.6,269.4L523.8,270.1M523.8,270.1l-9.3,-2.2M523.8,270.1L521.0,269.4L518.2,268.7L515.3,269.1M532.8,264.3L533.4,260.6L533.9,257.0L532.7,253.4L531.2,250.1L529.8,246.6M530.8,268.3L527.8,263.8L527.1,258.4M527.1,258.4l0.9,-4.6M527.1,258.4L523.8,254.1M523.8,254.1l-0.9,-6.7M523.8,254.1L520.5,249.8L515.6,247.3M529.4,269.9L526.9,272.2L523.6,272.9M523.6,272.9l-4.8,3.6M523.6,272.9L520.8,274.7M520.8,274.7l-3.0,4.6M520.8,274.7L517.8,276.1L514.4,276.2M529.6,275.5L529.6,277.3L529.7,279.2L530.4,280.9L530.2,282.7L529.4,284.4M534.6,259.5L535.5,257.4L536.2,255.2L537.0,253.0L538.9,251.7L540.1,249.7M526.6,273.0L525.3,275.8L523.1,278.1M523.1,278.1l-6.3,0.8M523.1,278.1L521.3,280.6L518.7,282.4L517.2,285.1M536.0,262.8L537.3,261.4L538.5,260.0L539.8,258.7M539.8,258.7l1.4,-5.5M539.8,258.7L540.4,256.9L540.9,255.1M526.6,260.7L523.4,258.3L520.0,256.5L517.0,253.9L513.2,252.9L509.8,250.8M527.8,260.2L528.3,257.4L528.3,254.7M528.3,254.7l5.5,-8.0M528.3,254.7L528.5,252.0L528.4,249.2L526.7,247.0M537.8,270.4L540.3,272.6L543.6,272.7L546.3,274.5L549.3,275.9L552.0,277.8M533.7,264.8L535.7,263.7L537.8,262.7M537.8,262.7l7.7,0.8M537.8,262.7L539.7,261.3L541.5,259.9L542.7,257.9M533.5,270.0L536.4,272.6L540.1,274.1L543.6,276.0M543.6,276.0l6.6,-0.8M543.6,276.0L547.6,275.8L551.4,277.0M528.6,270.8L525.5,273.4L524.4,277.3M524.4,277.3l1.4,7.3M524.4,277.3L523.9,281.3L522.1,284.9L522.4,289.0M527.7,270.8L525.5,274.9L522.2,278.2M522.2,278.2l-2.3,5.4M522.2,278.2L519.8,282.2L515.3,283.6L512.7,287.5M528.7,268.2L524.4,269.9L520.6,272.5L516.1,272.9L513.0,276.3L509.3,278.9M519.8,266.6L518.4,265.6L516.7,265.7L514.9,265.5M514.9,265.5l-6.1,-4.6M514.9,265.5L513.2,265.2L511.7,264.4M536.3,274.7L536.6,276.4L538.0,277.5M538.0,277.5l3.5,8.8M538.0,277.5L539.2,278.7M539.2,278.7l7.7,2.8M539.2,278.7L539.9,280.3L540.9,281.7M533.2,276.2L533.0,278.5L532.9,280.7M532.9,280.7l-5.3,6.6M532.9,280.7L533.7,282.9M533.7,282.9l5.4,7.2M533.7,282.9L534.8,284.9L534.5,287.1M533.8,277.8L533.8,279.6L533.8,281.4L534.2,283.2M534.2,283.2l4.6,4.2M534.2,283.2L534.1,284.9L534.1,286.7M534.6,268.7L537.1,267.6L539.7,268.4M539.7,268.4l4.8,4.0M539.7,268.4L542.2,267.2M542.2,267.2l5.8,-7.0M542.2,267.2L544.4,265.8L547.1,265.0M528.7,260.3L529.0,258.1L528.5,255.9M528.5,255.9l-4.0,-4.1M528.5,255.9L528.3,253.7L529.1,251.6L528.2,249.6M531.2,268.1L531.5,262.9L532.7,258.0M532.7,258.0l-2.2,-5.5M532.7,258.0L534.5,253.1M534.5,253.1l6.9,-4.3M534.5,253.1L536.3,248.3L539.3,244.1M534.0,269.9L536.8,274.1L541.4,276.1M541.4,276.1l7.4,0.8M541.4,276.1L545.8,278.5L550.6,279.9L554.1,283.5M529.1,265.8L526.0,264.2L524.1,261.2M524.1,261.2l-5.7,-3.9M524.1,261.2L520.9,259.9M520.9,259.9l-8.3,-0.1M520.9,259.9L517.4,259.3L515.7,256.2M526.3,269.6L522.0,270.9L517.5,270.6M517.5,270.6l-3.9,-3.3M517.5,270.6L513.0,270.9M513.0,270.9l-4.2,3.1M513.0,270.9L508.5,271.4L505.0,274.3M530.4,262.2L529.2,260.0L529.6,257.5L529.1,255.0L528.7,252.6L528.9,250.1M533.0,272.0L534.4,276.8L534.9,281.7M534.9,281.7l3.0,3.4M534.9,281.7L536.0,286.6M536.0,286.6l5.5,5.8M536.0,286.6L539.5,290.1L542.8,293.8M525.2,262.6L524.4,261.0L524.1,259.3L523.7,257.6L522.8,256.2L522.3,254.5M532.2,268.2L535.8,268.1L538.8,266.1L542.2,265.1L544.7,262.6L548.3,262.8M528.1,272.9L526.8,275.7L524.7,277.9L522.4,279.9M522.4,279.9l-7.7,1.4M522.4,279.9L519.7,281.4L517.9,283.8M528.1,259.9L526.6,257.7L526.3,255.1L525.5,252.6L524.0,250.5L521.8,249.0M530.3,257.7L529.4,256.3L528.4,255.0L528.0,253.3M528.0,253.3l-5.9,-7.7M528.0,253.3L527.8,251.7L527.2,250.1M522.1,269.4L520.7,268.7L519.2,269.1M519.2,269.1l-5.7,-1.1M519.2,269.1L517.6,269.0M517.6,269.0l-4.4,-2.7M517.6,269.0L516.2,269.8L514.6,269.7M539.6,263.0L541.9,260.8L544.6,259.2M544.6,259.2l9.6,1.1M544.6,259.2L546.7,256.8L549.2,254.9L551.8,253.1M530.1,273.2L528.9,277.7L526.1,281.4M526.1,281.4l-6.1,2.5M526.1,281.4L523.0,284.8L520.7,288.8L517.2,291.8" fill="none" stroke="#1a1a1a" stroke-width="1.1" stroke-opacity="0.45" stroke-linecap="round" stroke-linejoin="round"/>
<circle cx="538.5" cy="324.0" r="21.0" fill="url(#pgB)"/>
<path d="M520.1,321.4l-5.4,-2.2M537.1,308.8l3.2,-5.1M522.4,319.3l-3.0,-3.3M536.3,338.0l-1.2,6.2M547.7,313.7l2.9,-0.5M557.1,324.0l5.4,1.4M532.8,317.6l-2.2,-1.9M535.5,313.3l-3.5,-4.0M526.7,307.7l-1.2,-3.1M555.9,333.9l2.7,5.0M553.5,314.1l4.4,-1.7M539.1,334.0l0.3,6.8M522.9,323.7l-5.5,0.2M524.9,339.2l-1.7,2.5M532.5,319.5l-3.7,-0.9M532.7,314.6l-3.1,-4.1M550.3,332.8l1.6,2.3M552.6,338.4l1.6,3.4M524.4,335.4l-1.5,2.9M526.0,328.9l-4.3,3.4M528.8,337.3l-4.0,1.2M550.8,316.7l1.9,-2.7M539.8,344.2l-2.7,5.7M521.7,330.0l-6.5,1.2M536.7,317.3l-0.4,-4.2M551.1,313.2l2.9,-1.2M533.5,308.2l0.5,-3.7M525.7,338.9l-3.1,2.7M549.8,315.4l5.2,0.1M532.0,322.8l-6.7,0.3M526.3,339.8l-1.2,2.8M547.8,320.0l2.0,-2.8M538.3,311.2l-2.1,-4.1M530.9,311.0l-3.6,-2.5M531.4,337.5l0.8,6.8M528.9,331.9l-1.5,4.1M523.8,321.0l-6.3,-2.8M548.4,331.3l3.5,1.8M531.5,331.4l-2.8,4.3M528.9,326.8l-5.9,3.8M533.4,320.9l-2.9,-5.1M552.5,321.4l3.1,1.6M537.7,306.6l-0.3,-4.0M536.4,339.6l-1.2,3.0M553.5,334.8l5.6,-0.3M519.8,320.4l-5.6,3.0M533.1,317.3l-2.6,-2.5M537.0,310.5l0.9,-4.8M551.1,323.6l6.0,-0.5M524.2,329.4l-2.0,2.9M537.2,337.2l-1.2,4.6M542.7,310.9l2.0,-4.5M531.0,316.4l-3.5,-3.5M547.8,306.3l1.1,-2.6M549.4,314.8l4.0,-1.8M529.2,335.4l-2.0,3.7M529.9,330.8l-1.3,2.4M525.3,328.9l-5.6,-1.7M555.1,316.3l2.7,-1.1M543.1,337.4l0.8,6.3M538.8,338.6l-2.2,3.5M554.8,321.7l6.2,0.1M537.4,343.7l-1.6,3.5M551.2,328.5l5.0,1.7M543.7,321.2l3.5,-2.9M536.3,339.9l-1.9,2.7M555.3,315.3l4.4,-3.9M554.4,325.6l4.2,-1.7M546.1,338.6l0.7,6.8M539.7,334.5l-0.1,2.6M532.2,331.2l-4.9,2.3M527.2,329.4l-5.4,2.9M533.3,306.1l-1.6,-3.1M558.0,320.5l4.3,-4.2M538.6,315.9l0.7,-2.9M553.7,323.4l6.7,-0.6M555.9,318.3l2.9,-1.8M537.9,320.6l0.2,-3.9M551.1,310.2l2.4,-4.2M546.2,306.8l1.5,-2.7M553.9,328.2l4.3,5.1M533.6,309.9l-0.7,-3.6M526.4,330.6l-2.2,4.6" fill="none" stroke="#1a1a1a" stroke-width="0.8" stroke-opacity="0.27" stroke-linecap="round"/>
<path d="M536.9,319.3L537.3,317.7L537.9,316.1L537.0,314.7L537.4,313.1L536.9,311.5M541.6,320.3L542.2,317.9L544.2,316.6L546.4,315.5M546.4,315.5l3.5,-5.0M546.4,315.5L547.2,313.3L547.9,310.9M535.1,327.5L533.2,328.0L531.3,328.5M531.3,328.5l-4.3,5.9M531.3,328.5L530.0,329.9M530.0,329.9l-1.4,5.7M530.0,329.9L528.9,331.6L528.0,333.3M539.7,326.1L539.5,329.1L539.0,332.1M539.0,332.1l-4.3,5.4M539.0,332.1L540.8,334.5M540.8,334.5l-0.3,5.4M540.8,334.5L540.9,337.5L541.7,340.4M539.2,325.0L539.1,328.9L538.6,332.8M538.6,332.8l-2.0,4.1M538.6,332.8L537.0,336.4L535.2,339.9L536.0,343.8M544.8,325.5L546.4,326.0L547.7,327.2L549.4,327.5M549.4,327.5l7.2,-1.0M549.4,327.5L551.1,327.2L552.8,326.9M536.6,324.9L534.1,325.3L531.6,324.8M531.6,324.8l-3.9,1.5M531.6,324.8L529.1,324.8M529.1,324.8l-6.2,3.1M529.1,324.8L526.8,323.6L524.3,324.4M538.6,321.3L538.0,319.2L537.0,317.2M537.0,317.2l-5.9,-3.9M537.0,317.2L535.4,315.6L535.1,313.5L533.9,311.6M534.8,330.4L532.8,332.3L530.5,333.8L527.9,334.7L526.7,337.2L525.3,339.6M538.5,322.7L540.4,319.4L543.2,316.8M543.2,316.8l0.9,-5.4M543.2,316.8L545.0,313.4L546.7,310.0L547.7,306.4M535.6,318.6L535.5,317.5L534.7,316.7L534.4,315.6M534.4,315.6l1.7,-3.7M534.4,315.6L533.8,314.6L533.1,313.7M538.7,323.7L540.0,321.8L541.8,320.4M541.8,320.4l3.8,-0.4M541.8,320.4L543.1,318.5M543.1,318.5l0.3,-6.9M543.1,318.5L544.9,317.1L546.6,315.5M544.7,321.7L546.3,321.8L547.6,320.8L549.2,321.2L550.7,320.8L552.0,319.9M545.9,321.1L547.7,319.1L550.3,318.5M550.3,318.5l3.0,1.0M550.3,318.5L552.0,316.4L554.7,316.3L557.4,316.2M535.8,324.0L532.8,325.0L529.7,325.3M529.7,325.3l-2.6,2.6M529.7,325.3L527.0,326.7M527.0,326.7l-6.3,-0.9M527.0,326.7L524.0,325.7L521.1,327.0M536.6,326.8L534.5,327.7L532.4,328.5M532.4,328.5l-3.1,5.5M532.4,328.5L530.6,330.0L528.5,330.8L526.3,331.5M541.6,325.1L542.9,326.5L544.7,326.9L546.5,326.7L548.3,327.1L550.2,326.8M545.2,326.9L547.0,329.1L548.8,331.1M548.8,331.1l0.8,4.1M548.8,331.1L551.6,331.3L554.4,331.5L556.5,333.4M535.4,328.4L533.2,330.6L531.6,333.3L530.5,336.2M530.5,336.2l1.1,4.5M530.5,336.2L527.6,337.6L527.2,340.7M538.9,319.5L537.7,316.7L537.0,313.8L535.1,311.5L534.2,308.6L532.0,306.5M533.2,325.1L532.2,325.9L531.0,325.7L530.0,326.4M530.0,326.4l-3.7,0.4M530.0,326.4L528.8,326.1L527.7,326.8M537.9,331.1L538.9,333.6L539.2,336.3M539.2,336.3l3.0,2.9M539.2,336.3L540.3,338.7M540.3,338.7l-1.0,5.7M540.3,338.7L539.5,341.3L538.5,343.8M541.2,317.8L541.9,316.4L541.6,315.0M541.6,315.0l0.5,-3.4M541.6,315.0L542.6,313.9L543.1,312.6L543.8,311.3M544.5,324.8L545.7,325.4L546.7,326.2L547.9,326.7M547.9,326.7l6.0,-0.9M547.9,326.7L549.0,327.4L550.3,327.3M540.7,323.2L542.3,322.1L544.2,321.5L545.5,319.9L547.2,319.0L548.3,317.4M542.2,327.1L543.5,329.8L546.3,330.7M546.3,330.7l5.2,-0.0M546.3,330.7L548.6,332.6M548.6,332.6l1.3,5.1M548.6,332.6L550.4,335.0L552.2,337.3M544.3,326.2L545.4,327.2L546.8,327.6L548.0,328.3L549.1,329.3L550.5,329.4M541.1,320.4L541.3,317.5L540.7,314.7L541.2,311.9L543.2,310.0L543.9,307.2M545.0,323.6L547.3,324.1L549.4,323.3M549.4,323.3l4.1,-4.7M549.4,323.3L551.4,322.3M551.4,322.3l3.0,-6.4M551.4,322.3L553.6,321.5L555.4,320.0M531.7,324.5L530.3,325.1L528.7,325.5M528.7,325.5l-4.8,-1.3M528.7,325.5L527.2,325.2M527.2,325.2l-3.2,-3.0M527.2,325.2L525.6,325.3L524.3,326.0M539.3,325.6L541.2,327.2L542.8,329.1M542.8,329.1l1.9,4.9M542.8,329.1L544.1,331.3L544.5,333.7L546.4,335.3M545.8,325.2L546.7,325.1L547.6,325.1L548.5,325.2L549.2,325.7L550.0,326.0M541.9,324.3L543.7,323.9L545.3,324.8M545.3,324.8l6.2,0.8M545.3,324.8L547.1,324.3M547.1,324.3l4.7,-4.4M547.1,324.3L548.6,325.1L550.3,325.8M536.1,324.2L533.3,324.7L530.4,325.4M530.4,325.4l-5.5,-2.0M530.4,325.4L527.8,326.6L525.7,328.6L522.8,328.5M539.4,318.5L538.7,317.0L539.5,315.6M539.5,315.6l1.1,-7.1M539.5,315.6L539.7,313.9L540.7,312.6L541.1,311.0M546.0,322.8L548.1,323.5L550.3,323.2M550.3,323.2l3.6,-3.5M550.3,323.2L552.3,324.1L554.5,324.8L556.6,324.3M540.6,325.5L542.9,327.7L545.8,328.7L549.0,328.7L551.8,330.0L554.1,332.0M533.5,324.5L532.3,325.2L530.8,325.1M530.8,325.1l-4.1,3.1M530.8,325.1L529.7,325.9L528.2,325.9L527.0,326.7M533.3,326.8L531.9,327.7L530.5,328.7M530.5,328.7l-1.6,5.7M530.5,328.7L529.7,330.2M529.7,330.2l-4.6,1.7M529.7,330.2L528.8,331.6L528.0,333.1M539.1,327.7L538.3,330.1L537.6,332.6L538.5,335.0M538.5,335.0l-0.9,3.3M538.5,335.0L537.8,337.4L536.4,339.5M543.4,322.6L545.0,322.9L546.4,322.0L548.0,322.1L549.3,321.1L550.9,320.8" fill="none" stroke="#1a1a1a" stroke-width="1.1" stroke-opacity="0.45" stroke-linecap="round" stroke-linejoin="round"/>
<circle cx="627.0" cy="325.0" r="21.0" fill="url(#pgB)"/>
<path d="M616.3,310.5l-0.0,-5.5M619.1,316.2l-0.6,-2.8M645.2,316.6l2.3,-1.1M624.4,304.9l-0.6,-4.5M630.9,306.5l-1.4,-5.0M632.6,323.4l5.8,-1.6M610.9,313.6l-4.4,-2.6M629.1,322.2l2.3,-4.8M630.3,314.1l2.7,-2.7M625.8,327.8l0.6,6.5M634.6,308.9l2.5,-6.4M626.6,318.4l0.5,-6.6M614.8,330.3l-3.2,4.1M629.6,312.9l3.2,-2.7M618.6,320.2l-4.0,-1.5M624.3,311.2l-1.6,-1.9M616.3,322.9l-5.9,-2.7M643.5,335.8l5.9,1.8M637.6,313.4l6.2,-1.5M643.9,333.0l3.5,-0.5M623.7,336.3l-0.8,2.7M641.6,331.3l5.8,-1.7M632.9,335.8l1.4,5.2M632.9,310.2l2.6,-5.7M643.1,322.9l3.8,-1.3M637.7,324.3l5.7,-1.1M644.7,322.9l5.6,2.7M614.8,319.8l-3.0,-4.8M621.8,344.0l-3.7,4.6M628.8,342.2l1.4,2.3M641.3,328.3l3.7,-0.8M617.6,335.9l-5.6,2.1M640.5,338.9l1.1,6.6M614.9,317.8l-2.3,-1.3M646.1,320.0l2.5,-0.1M638.0,326.5l2.9,1.3M620.6,327.6l-5.3,-1.2M616.2,322.5l-2.9,-0.2M621.6,332.7l-1.9,2.9M639.8,310.7l2.2,-1.4M621.8,326.9l-6.0,-0.8M608.2,323.6l-2.5,-0.7M640.8,332.2l3.3,2.5M613.1,325.2l-2.6,-0.1M621.9,314.5l-1.0,-5.5M622.4,342.5l1.2,2.5M618.0,330.4l-1.8,3.9M645.2,324.7l6.1,-2.3M642.0,335.6l2.9,1.3M632.8,329.8l4.2,1.7M633.4,315.3l2.9,-3.8M624.5,317.3l-2.7,-4.4M634.9,320.0l1.9,-2.7M609.5,323.1l-4.3,-0.9M616.3,323.3l-4.7,-0.2M630.7,337.2l4.0,4.8M626.5,315.4l-0.7,-4.8M622.8,326.0l-3.3,1.5M626.7,317.1l-1.0,-2.3M645.0,322.0l2.8,-1.4M623.3,334.1l-2.7,1.9M640.8,330.5l4.0,5.1M643.0,327.3l5.2,3.4M634.4,334.5l1.1,4.8M636.8,307.6l2.6,-3.0M617.9,325.9l-3.5,2.7M625.8,332.8l1.7,4.5M633.1,330.1l1.8,4.1M637.5,317.9l2.3,-1.1M614.9,311.0l-2.0,-3.0M620.4,342.0l0.3,3.7M609.9,314.0l-3.1,-0.0M619.3,342.7l-0.3,2.9M621.4,319.0l-2.1,-3.8M632.7,338.0l3.8,1.9M636.4,330.9l2.4,1.3M636.2,321.0l6.0,-1.3M633.6,337.9l-0.9,6.2M638.7,316.2l1.1,-4.4M641.1,317.7l4.7,0.9M625.6,322.2l-5.7,-2.9M639.3,315.6l2.5,-1.7M608.6,324.4l-4.4,-0.7" fill="none" stroke="#1a1a1a" stroke-width="0.8" stroke-opacity="0.27" stroke-linecap="round"/>
<path d="M627.1,319.4L627.6,316.6L629.3,314.3M629.3,314.3l6.4,-3.0M629.3,314.3L628.3,311.6L629.1,308.8L629.7,306.1M630.2,330.3L630.5,331.4L631.1,332.4L632.1,333.1L632.8,334.0L633.1,335.1M626.1,327.1L625.9,330.9L626.6,334.6M626.6,334.6l-1.2,3.0M626.6,334.6L626.7,338.4L627.3,342.2L629.4,345.3M632.9,324.5L635.1,325.3L636.9,326.5M636.9,326.5l3.5,0.6M636.9,326.5L639.2,326.6M639.2,326.6l4.7,-2.7M639.2,326.6L641.1,327.8L643.3,328.3M623.8,327.8L620.8,329.4L617.5,330.4M617.5,330.4l-5.1,-1.7M617.5,330.4L614.8,332.4M614.8,332.4l-1.9,5.4M614.8,332.4L611.4,333.0L608.0,333.4M627.5,322.1L628.8,319.6L629.8,316.9L630.4,314.2L630.4,311.3L629.9,308.5M633.6,326.1L634.7,327.2L636.3,327.6L637.5,328.7L639.0,329.3L640.4,330.1M627.6,327.2L627.8,330.6L627.5,334.0L628.7,337.2M628.7,337.2l-1.6,6.9M628.7,337.2L628.0,340.5L630.0,343.2M619.3,324.4L618.0,324.1L616.9,324.6M616.9,324.6l-2.4,2.1M616.9,324.6L615.7,324.2L614.4,324.1L613.5,323.3M629.6,319.2L630.0,316.7L631.6,314.8L632.6,312.5L634.4,310.8L634.5,308.3M627.5,325.1L631.0,323.7L634.4,322.3L637.2,319.9M637.2,319.9l4.8,-1.0M637.2,319.9L640.8,319.0L643.4,316.3M628.0,323.3L629.8,321.7L631.5,320.0L633.8,319.2L635.4,317.3L636.4,315.1M625.2,326.8L623.8,328.3L622.1,329.7M622.1,329.7l-5.3,1.4M622.1,329.7L620.1,330.2L618.3,331.3L616.6,332.5M629.1,326.2L631.1,328.1L632.1,330.7M632.1,330.7l-1.2,5.1M632.1,330.7L634.7,331.5L635.8,334.1L638.4,335.0M628.9,323.2L629.5,321.0L630.8,319.2M630.8,319.2l0.7,-4.4M630.8,319.2L632.4,317.6L633.1,315.5L634.8,314.0M629.5,325.5L632.1,325.2L634.8,325.3L637.0,326.7L639.5,325.8L642.1,325.9M624.8,325.6L621.0,325.9L617.9,328.1M617.9,328.1l-6.7,1.5M617.9,328.1L614.2,329.0L610.4,328.7L606.8,330.0M629.9,328.8L630.7,330.3L631.9,331.5L632.9,332.9M632.9,332.9l3.7,1.0M632.9,332.9L634.4,333.8L635.9,334.6M628.0,317.9L628.9,315.9L629.3,313.9L630.0,311.8M630.0,311.8l-1.1,-3.4M630.0,311.8L629.6,309.8L630.6,307.9M628.9,329.4L629.3,330.9L629.3,332.5L630.1,333.9L630.8,335.2L631.7,336.5M630.1,331.3L630.0,333.7L630.4,336.1M630.4,336.1l2.8,4.2M630.4,336.1L630.5,338.5L632.2,340.1L633.5,342.1M633.8,320.9L635.0,319.2L637.0,318.9L638.7,317.7L640.1,316.2L641.9,315.2M628.2,322.8L630.2,321.6L632.3,320.5M632.3,320.5l1.9,-3.6M632.3,320.5L633.7,318.6L635.6,317.1L636.4,314.9M623.8,322.5L622.0,321.5L620.2,320.5M620.2,320.5l-3.3,-0.3M620.2,320.5L618.3,319.8M618.3,319.8l-2.2,-2.3M618.3,319.8L616.3,319.3L615.2,317.5M624.4,326.0L621.7,326.1L619.8,328.0L618.1,330.2M618.1,330.2l-5.8,1.6M618.1,330.2L616.9,332.6L614.7,334.1M626.4,316.7L627.0,314.4L626.0,312.2L626.3,309.9M626.3,309.9l3.2,-4.1M626.3,309.9L626.4,307.5L626.2,305.2M622.2,320.9L620.7,319.9L619.8,318.4M619.8,318.4l0.9,-5.7M619.8,318.4L619.0,316.8L618.5,315.2L617.7,313.6M626.6,325.5L624.8,326.8L623.4,328.6M623.4,328.6l-5.4,1.4M623.4,328.6L621.4,329.5M621.4,329.5l-3.5,3.7M621.4,329.5L619.2,329.8L617.2,330.8M631.4,319.7L633.5,318.8L634.8,316.8L637.0,316.1L639.1,315.1L640.8,313.4M621.9,319.8L620.9,319.2L620.4,318.2L619.9,317.1M619.9,317.1l-4.0,-2.1M619.9,317.1L619.5,316.1L618.6,315.5M632.9,323.2L634.5,322.8L635.8,322.0M635.8,322.0l2.4,-5.2M635.8,322.0L637.1,321.1M637.1,321.1l3.0,-4.3M637.1,321.1L638.7,321.2L639.8,320.0M626.3,321.3L626.7,318.2L627.8,315.3M627.8,315.3l-1.6,-6.9M627.8,315.3L627.0,312.2L626.7,309.1L625.8,306.1M629.2,328.0L629.3,329.7L629.6,331.3M629.6,331.3l-0.5,6.1M629.6,331.3L631.0,332.3L631.0,334.0L632.3,334.9M623.1,321.5L621.6,319.9L619.9,318.6L618.2,317.4M618.2,317.4l-5.0,-0.4M618.2,317.4L616.5,316.0L614.5,315.3M625.4,328.4L623.3,330.0L621.5,331.9L621.2,334.5L620.0,336.8L618.1,338.6M630.6,323.8L631.9,322.2L633.2,320.6L633.9,318.7M633.9,318.7l0.3,-6.4M633.9,318.7L634.8,316.9L636.6,315.8M620.8,328.2L618.4,329.5L616.0,330.8L614.2,332.8L612.1,334.5L609.4,335.2M627.6,324.6L630.0,324.5L632.3,323.9L634.2,322.4L636.5,321.7L638.7,320.7M630.0,327.1L632.2,329.7L634.3,332.5L637.6,333.7L640.7,335.3L643.6,337.2M624.8,330.7L623.4,332.0L621.8,333.0L620.8,334.6L619.2,335.5L618.6,337.3M630.2,329.5L630.7,332.6L633.4,334.3M633.4,334.3l4.2,0.9M633.4,334.3L634.5,337.3L635.7,340.2L638.2,342.1" fill="none" stroke="#1a1a1a" stroke-width="1.1" stroke-opacity="0.45" stroke-linecap="round" stroke-linejoin="round"/>
<circle cx="431.0" cy="36.0" r="9.5" fill="url(#pgB)"/>
<path d="M424.4,36.9l-2.8,1.2M436.5,40.4l4.9,0.7M435.4,28.2l0.1,-3.7M428.9,41.3l-3.5,4.3M425.7,31.9l-6.0,-2.1M431.7,31.2l-0.4,-2.8M435.0,30.0l0.4,-5.7M433.5,40.4l2.1,6.2M435.7,30.6l4.5,-2.9M423.3,33.7l-3.8,-2.3M427.1,32.9l-2.8,-2.1M428.2,42.5l-1.1,3.1M429.1,29.4l-2.5,-2.7M434.8,43.5l1.4,4.1M424.2,30.9l-1.0,-2.4M438.6,33.7l6.1,0.8M434.6,43.8l0.1,6.2M430.1,38.1l-1.6,4.7M434.0,30.7l3.8,-4.3M426.7,41.7l-0.1,6.4M428.6,33.1l-0.9,-3.9M425.8,39.2l-3.5,-0.4M427.4,39.0l-5.4,1.9M430.1,31.8l-1.7,-1.8M438.9,37.0l4.0,2.6M434.1,27.7l1.9,-4.5M437.6,33.4l2.6,-1.7M438.3,36.3l4.8,1.0M425.5,30.0l-2.6,-3.5M431.6,30.8l-3.3,-5.7M431.8,27.0l4.1,-5.4M431.3,39.5l2.3,3.3M429.9,27.2l1.5,-6.2M430.4,37.3l-1.0,2.4M435.6,29.4l2.0,-4.5M422.4,36.2l-5.9,0.3M431.5,43.2l2.5,4.8" fill="none" stroke="#1a1a1a" stroke-width="0.8" stroke-opacity="0.27" stroke-linecap="round"/>
<path d="M432.0,35.6L433.2,34.8L434.3,34.1M434.3,34.1l0.5,-1.5M434.3,34.1L435.3,33.2L436.2,32.2L437.2,31.2M432.4,37.7L433.1,38.1L433.8,38.6M433.8,38.6l0.7,1.6M433.8,38.6L434.3,39.2L435.1,39.6L435.9,39.8M431.6,39.4L432.1,40.2L432.2,41.1L431.9,42.0M431.9,42.0l0.2,1.7M431.9,42.0L432.1,42.9L432.4,43.8M429.3,35.3L428.4,35.4L427.5,35.4L426.7,35.8M426.7,35.8l-1.6,1.6M426.7,35.8L425.7,35.7L424.9,36.2M429.4,37.9L428.8,38.6L428.1,39.4L427.2,39.7M427.2,39.7l-1.5,1.4M427.2,39.7L426.6,40.5L425.7,40.7M429.4,39.1L428.5,39.8L427.4,40.4L427.1,41.6L427.0,42.8L426.9,43.9M434.0,33.7L434.5,33.6L435.1,33.4M435.1,33.4l2.1,-1.4M435.1,33.4L435.5,33.0L435.7,32.5L436.2,32.3M431.8,34.3L431.8,33.5L432.2,32.8L432.1,32.0M432.1,32.0l-1.6,-1.3M432.1,32.0L432.4,31.3L432.6,30.5M430.8,35.5L431.1,34.1L430.9,32.6L430.4,31.2L430.9,29.8L430.2,28.6M433.9,37.6L434.7,38.0L435.2,38.8L436.1,38.8M436.1,38.8l2.7,-1.7M436.1,38.8L436.8,39.3L437.4,40.0M431.3,35.6L432.1,34.8L432.6,33.7M432.6,33.7l0.0,-2.6M432.6,33.7L432.8,32.6L433.0,31.4L433.8,30.6M430.5,36.4L429.2,36.7L428.2,37.6M428.2,37.6l-1.0,2.0M428.2,37.6L427.5,38.7L426.2,38.9L425.0,39.5M430.7,37.3L429.7,38.2L428.9,39.2L428.0,40.1L427.4,41.2L427.3,42.5M433.5,35.9L434.6,36.0L435.8,36.2L437.0,36.2L438.2,36.2L439.4,35.8M430.0,39.5L429.8,39.8L429.8,40.1L429.6,40.4L429.6,40.7L429.6,41.1M431.8,38.8L431.5,40.0L431.0,41.2M431.0,41.2l-1.7,1.1M431.0,41.2L430.8,42.4M430.8,42.4l-1.7,1.7M430.8,42.4L430.6,43.7L430.1,44.8M430.8,35.0L431.3,33.4L432.1,31.9L431.8,30.2L431.3,28.6L431.7,26.9M431.3,35.3L431.6,33.9L432.2,32.6L432.0,31.2M432.0,31.2l-1.9,-2.4M432.0,31.2L432.1,29.8L431.5,28.4" fill="none" stroke="#1a1a1a" stroke-width="1.1" stroke-opacity="0.45" stroke-linecap="round" stroke-linejoin="round"/>
</g></g>
<text x="437" y="307.5" style="font-family:'Liberation Sans',sans-serif" font-size="13.5" fill="#fff" stroke="#222" stroke-width="2.2" paint-order="stroke" textLength="48" lengthAdjust="spacingAndGlyphs">200 nm</text>
<rect x="437" y="311.2" width="49" height="2.6" fill="#fff" stroke="#333" stroke-width="1"/>
<text x="8.3" y="33.4" font-size="31" font-weight="normal" text-anchor="start" fill="#000" >(A)</text>
<text x="383.3" y="33.4" font-size="31" font-weight="normal" text-anchor="start" fill="#000" >(B)</text>
<text x="13.3" y="327.7" font-size="31" font-weight="normal" text-anchor="start" fill="#000" >(C)</text>
<text x="383.8" y="329.0" font-size="31" font-weight="normal" text-anchor="start" fill="#000" >(D)</text>
<text x="20.8" y="656.6" font-size="31" font-weight="normal" text-anchor="start" fill="#000" >(E)</text>
<text x="390.0" y="655.0" font-size="31" font-weight="normal" text-anchor="start" fill="#000" >(F)</text>
<line x1="69.5" y1="583.5" x2="74.5" y2="583.5" stroke="#000" stroke-width="2.4"/>
<text x="66.5" y="589.8" font-size="19" font-weight="bold" text-anchor="end" fill="#000" >0</text>
<line x1="72.0" y1="554.2" x2="74.5" y2="554.2" stroke="#000" stroke-width="2.4"/>
<line x1="69.5" y1="525.0" x2="74.5" y2="525.0" stroke="#000" stroke-width="2.4"/>
<text x="66.5" y="531.3" font-size="19" font-weight="bold" text-anchor="end" fill="#000" >500</text>
<line x1="72.0" y1="495.8" x2="74.5" y2="495.8" stroke="#000" stroke-width="2.4"/>
<line x1="69.5" y1="466.5" x2="74.5" y2="466.5" stroke="#000" stroke-width="2.4"/>
<text x="66.5" y="472.8" font-size="19" font-weight="bold" text-anchor="end" fill="#000" >1000</text>
<line x1="72.0" y1="437.2" x2="74.5" y2="437.2" stroke="#000" stroke-width="2.4"/>
<line x1="69.5" y1="408.0" x2="74.5" y2="408.0" stroke="#000" stroke-width="2.4"/>
<text x="66.5" y="414.3" font-size="19" font-weight="bold" text-anchor="end" fill="#000" >1500</text>
<line x1="72.0" y1="378.8" x2="74.5" y2="378.8" stroke="#000" stroke-width="2.4"/>
<line x1="69.5" y1="349.5" x2="74.5" y2="349.5" stroke="#000" stroke-width="2.4"/>
<text x="66.5" y="355.8" font-size="19" font-weight="bold" text-anchor="end" fill="#000" >2000</text>
<line x1="92.5" y1="583.5" x2="92.5" y2="588.5" stroke="#000" stroke-width="2.4"/>
<text x="92.5" y="607.0" font-size="19" font-weight="bold" text-anchor="middle" fill="#000" >0</text>
<line x1="138.0" y1="583.5" x2="138.0" y2="586.0" stroke="#000" stroke-width="2.4"/>
<line x1="183.5" y1="583.5" x2="183.5" y2="588.5" stroke="#000" stroke-width="2.4"/>
<text x="183.5" y="607.0" font-size="19" font-weight="bold" text-anchor="middle" fill="#000" >5</text>
<line x1="229.0" y1="583.5" x2="229.0" y2="586.0" stroke="#000" stroke-width="2.4"/>
<line x1="274.5" y1="583.5" x2="274.5" y2="588.5" stroke="#000" stroke-width="2.4"/>
<text x="274.5" y="607.0" font-size="19" font-weight="bold" text-anchor="middle" fill="#000" >10</text>
<line x1="320.0" y1="583.5" x2="320.0" y2="586.0" stroke="#000" stroke-width="2.4"/>
<line x1="365.5" y1="583.5" x2="365.5" y2="588.5" stroke="#000" stroke-width="2.4"/>
<text x="365.5" y="607.0" font-size="19" font-weight="bold" text-anchor="middle" fill="#000" >15</text>
<path d="M91.6,583.5 L91.8,583.5 L92.0,583.5 L92.2,583.5 L92.5,583.5 L92.7,583.5 L92.9,583.5 L93.1,583.5 L93.3,583.5 L93.6,583.5 L93.8,583.5 L94.0,583.5 L94.2,583.5 L94.4,583.4 L94.6,583.3 L94.9,583.0 L95.1,582.5 L95.3,580.5 L95.5,578.8 L95.7,575.8 L96.0,572.1 L96.2,566.2 L96.4,558.3 L96.6,549.0 L96.8,538.1 L97.0,527.0 L97.3,517.1 L97.5,510.4 L97.7,506.7 L97.9,507.6 L98.1,512.0 L98.4,520.3 L98.6,531.0 L98.8,541.3 L99.0,551.6 L99.2,560.5 L99.5,567.0 L99.7,571.2 L99.9,572.5 L100.1,570.3 L100.3,565.5 L100.5,556.7 L100.8,544.0 L101.0,527.8 L101.2,508.2 L101.4,487.6 L101.6,467.9 L101.9,452.3 L102.1,442.5 L102.3,440.6 L102.5,446.5 L102.7,459.6 L102.9,477.8 L103.2,497.6 L103.4,517.9 L103.6,536.1 L103.8,551.1 L104.0,562.6 L104.3,570.6 L104.5,575.8 L104.7,579.1 L104.9,580.4 L105.1,581.7 L105.3,581.9 L105.6,582.4 L105.8,582.1 L106.0,582.3 L106.2,582.9 L106.4,582.7 L106.7,582.2 L106.9,582.4 L107.1,582.0 L107.3,582.2 L107.5,582.0 L107.8,581.1 L108.0,580.2 L108.2,579.4 L108.4,578.2 L108.6,576.5 L108.8,574.4 L109.1,573.1 L109.3,572.4 L109.5,571.7 L109.7,571.8 L109.9,572.5 L110.2,573.1 L110.4,575.0 L110.6,576.4 L110.8,578.0 L111.0,579.5 L111.2,580.2 L111.5,581.5 L111.7,581.7 L111.9,582.4 L112.1,582.4 L112.3,582.7 L112.6,582.7 L112.8,582.3 L113.0,582.4 L113.2,582.8 L113.4,582.4 L113.6,582.8 L113.9,582.7 L114.1,582.4 L114.3,582.6 L114.5,582.9 L114.7,582.3 L115.0,582.9 L115.2,582.8 L115.4,582.5 L115.6,582.8 L115.8,582.8 L116.1,583.0 L116.3,583.0 L116.5,582.6 L116.7,582.9 L116.9,582.6 L117.1,582.8 L117.4,582.7 L117.6,582.4 L117.8,582.7 L118.0,582.6 L118.2,582.4 L118.5,582.9 L118.7,583.0 L118.9,582.4 L119.1,582.5 L119.3,582.9 L119.5,582.9 L119.8,582.5 L120.0,582.4 L120.2,582.9 L120.4,582.3 L120.6,582.2 L120.9,582.1 L121.1,581.8 L121.3,581.2 L121.5,580.0 L121.7,577.3 L121.9,574.8 L122.2,570.3 L122.4,564.9 L122.6,557.2 L122.8,548.4 L123.0,538.5 L123.3,527.6 L123.5,516.3 L123.7,506.8 L123.9,498.7 L124.1,493.3 L124.4,491.3 L124.6,493.2 L124.8,498.7 L125.0,506.3 L125.2,516.7 L125.4,527.8 L125.7,538.5 L125.9,548.6 L126.1,557.7 L126.3,565.0 L126.5,570.5 L126.8,574.6 L127.0,577.9 L127.2,579.8 L127.4,580.7 L127.6,581.5 L127.8,582.2 L128.1,582.4 L128.3,582.6 L128.5,583.0 L128.7,583.1 L128.9,583.1 L129.2,582.5 L129.4,582.7 L129.6,582.5 L129.8,583.2 L130.0,582.7 L130.2,582.8 L130.5,582.7 L130.7,583.0 L130.9,582.5 L131.1,583.1 L131.3,582.8 L131.6,582.7 L131.8,582.6 L132.0,582.7 L132.2,582.7 L132.4,582.6 L132.6,582.6 L132.9,583.0 L133.1,582.7 L133.3,582.6 L133.5,582.6 L133.7,582.9 L134.0,582.7 L134.2,582.6 L134.4,582.8 L134.6,582.8 L134.8,582.9 L135.1,582.8 L135.3,582.8 L135.5,583.2 L135.7,582.8 L135.9,582.5 L136.1,582.6 L136.4,582.7 L136.6,583.0 L136.8,582.7 L137.0,582.8 L137.2,582.9 L137.5,582.6 L137.7,583.2 L137.9,582.7 L138.1,583.2 L138.3,582.8 L138.5,582.9 L138.8,583.1 L139.0,582.8 L139.2,582.9 L139.4,582.8 L139.6,582.6 L139.9,583.1 L140.1,583.2 L140.3,583.0 L140.5,582.8 L140.7,583.1 L140.9,583.1 L141.2,582.6 L141.4,582.8 L141.6,583.0 L141.8,582.6 L142.0,583.0 L142.3,582.8 L142.5,583.1 L142.7,583.0 L142.9,582.7 L143.1,582.6 L143.4,582.7 L143.6,583.0 L143.8,582.9 L144.0,583.1 L144.2,583.2 L144.4,582.9 L144.7,582.7 L144.9,582.7 L145.1,582.8 L145.3,582.6 L145.5,583.1 L145.8,583.2 L146.0,583.0 L146.2,583.1 L146.4,583.1 L146.6,583.0 L146.8,582.9 L147.1,583.0 L147.3,583.1 L147.5,582.7 L147.7,582.6 L147.9,583.0 L148.2,583.3 L148.4,583.3 L148.6,582.7 L148.8,583.3 L149.0,582.8 L149.2,582.9 L149.5,583.1 L149.7,582.8 L149.9,583.3 L150.1,583.2 L150.3,583.0 L150.6,583.3 L150.8,582.7 L151.0,583.2 L151.2,583.2 L151.4,583.3 L151.7,582.9 L151.9,583.0 L152.1,582.9 L152.3,582.9 L152.5,582.8 L152.7,582.7 L153.0,582.8 L153.2,583.2 L153.4,583.0 L153.6,583.2 L153.8,583.3 L154.1,583.0 L154.3,582.8 L154.5,583.2 L154.7,583.1 L154.9,583.1 L155.1,582.8 L155.4,583.0 L155.6,582.9 L155.8,582.8 L156.0,583.1 L156.2,582.8 L156.5,582.7 L156.7,583.3 L156.9,582.7 L157.1,582.8 L157.3,583.3 L157.5,583.0 L157.8,582.9 L158.0,582.7 L158.2,583.1 L158.4,583.0 L158.6,582.7 L158.9,582.8 L159.1,582.7 L159.3,583.0 L159.5,582.9 L159.7,583.2 L159.9,582.9 L160.2,582.8 L160.4,582.9 L160.6,582.9 L160.8,583.2 L161.0,582.7 L161.3,582.7 L161.5,582.7 L161.7,583.0 L161.9,582.8 L162.1,583.1 L162.4,582.7 L162.6,582.8 L162.8,583.1 L163.0,583.3 L163.2,583.1 L163.4,583.0 L163.7,582.8 L163.9,583.0 L164.1,583.4 L164.3,582.8 L164.5,583.3 L164.8,582.8 L165.0,583.3 L165.2,583.1 L165.4,582.8 L165.6,583.3 L165.8,583.3 L166.1,583.0 L166.3,582.9 L166.5,582.8 L166.7,582.9 L166.9,582.7 L167.2,583.0 L167.4,582.7 L167.6,583.3 L167.8,583.2 L168.0,583.0 L168.2,583.2 L168.5,582.9 L168.7,582.9 L168.9,583.0 L169.1,582.8 L169.3,583.0 L169.6,583.2 L169.8,583.1 L170.0,582.8 L170.2,582.8 L170.4,583.2 L170.7,582.8 L170.9,582.7 L171.1,583.0 L171.3,583.0 L171.5,583.3 L171.7,583.0 L172.0,583.0 L172.2,583.0 L172.4,583.4 L172.6,582.7 L172.8,583.0 L173.1,583.1 L173.3,582.8 L173.5,583.0 L173.7,583.1 L173.9,582.9 L174.1,583.4 L174.4,583.0 L174.6,583.1 L174.8,582.7 L175.0,582.8 L175.2,583.2 L175.5,583.1 L175.7,583.3 L175.9,583.1 L176.1,582.8 L176.3,582.8 L176.5,583.1 L176.8,583.2 L177.0,583.3 L177.2,583.0 L177.4,582.8 L177.6,583.3 L177.9,582.9 L178.1,583.4 L178.3,583.3 L178.5,583.3 L178.7,582.9 L178.9,583.2 L179.2,583.2 L179.4,583.0 L179.6,583.3 L179.8,582.9 L180.0,583.3 L180.3,583.1 L180.5,583.2 L180.7,583.3 L180.9,583.0 L181.1,583.1 L181.4,583.2 L181.6,583.1 L181.8,583.1 L182.0,583.3 L182.2,583.3 L182.4,583.0 L182.7,583.0 L182.9,583.1 L183.1,582.8 L183.3,583.0 L183.5,582.8 L183.8,583.3 L184.0,582.9 L184.2,582.9 L184.4,582.8 L184.6,583.2 L184.8,583.2 L185.1,582.8 L185.3,583.3 L185.5,582.7 L185.7,582.8 L185.9,583.3 L186.2,583.3 L186.4,582.9 L186.6,583.2 L186.8,583.4 L187.0,582.8 L187.2,583.1 L187.5,582.9 L187.7,583.3 L187.9,583.2 L188.1,583.0 L188.3,583.4 L188.6,583.3 L188.8,583.0 L189.0,582.8 L189.2,582.8 L189.4,583.4 L189.7,583.1 L189.9,582.9 L190.1,583.1 L190.3,583.0 L190.5,583.3 L190.7,583.4 L191.0,583.4 L191.2,583.4 L191.4,583.1 L191.6,583.1 L191.8,583.0 L192.1,583.3 L192.3,583.3 L192.5,583.3 L192.7,582.9 L192.9,582.7 L193.1,582.8 L193.4,583.4 L193.6,583.4 L193.8,582.8 L194.0,583.1 L194.2,582.9 L194.5,583.2 L194.7,583.1 L194.9,583.1 L195.1,583.1 L195.3,583.0 L195.5,583.4 L195.8,583.0 L196.0,582.9 L196.2,583.3 L196.4,583.1 L196.6,582.9 L196.9,583.2 L197.1,583.3 L197.3,583.3 L197.5,583.1 L197.7,583.4 L198.0,582.8 L198.2,582.9 L198.4,583.0 L198.6,582.8 L198.8,583.0 L199.0,583.2 L199.3,583.0 L199.5,583.1 L199.7,582.8 L199.9,582.9 L200.1,583.3 L200.4,582.8 L200.6,582.9 L200.8,582.9 L201.0,582.9 L201.2,583.2 L201.4,582.8 L201.7,582.8 L201.9,583.0 L202.1,582.9 L202.3,582.9 L202.5,583.2 L202.8,582.9 L203.0,583.4 L203.2,583.2 L203.4,583.1 L203.6,583.5 L203.8,583.2 L204.1,583.0 L204.3,583.0 L204.5,583.3 L204.7,582.8 L204.9,583.0 L205.2,583.2 L205.4,583.0 L205.6,583.1 L205.8,583.1 L206.0,583.2 L206.2,582.8 L206.5,583.0 L206.7,583.0 L206.9,582.9 L207.1,582.8 L207.3,583.4 L207.6,583.0 L207.8,582.9 L208.0,583.3 L208.2,583.2 L208.4,583.4 L208.7,583.3 L208.9,583.2 L209.1,583.4 L209.3,583.3 L209.5,582.8 L209.7,583.1 L210.0,583.1 L210.2,582.8 L210.4,583.1 L210.6,582.8 L210.8,583.0 L211.1,582.9 L211.3,583.4 L211.5,583.0 L211.7,582.9 L211.9,583.4 L212.1,582.8 L212.4,583.4 L212.6,583.1 L212.8,583.3 L213.0,583.1 L213.2,583.0 L213.5,583.4 L213.7,582.8 L213.9,583.2 L214.1,583.1 L214.3,583.0 L214.5,583.2 L214.8,583.3 L215.0,583.0 L215.2,583.1 L215.4,583.3 L215.6,583.0 L215.9,583.3 L216.1,583.5 L216.3,583.3 L216.5,583.4 L216.7,583.4 L217.0,582.9 L217.2,583.2 L217.4,582.8 L217.6,582.9 L217.8,583.4 L218.0,582.8 L218.3,582.8 L218.5,583.4 L218.7,582.8 L218.9,583.2 L219.1,583.1 L219.4,582.8 L219.6,583.3 L219.8,583.1 L220.0,582.8 L220.2,583.0 L220.4,583.1 L220.7,582.8 L220.9,582.9 L221.1,583.0 L221.3,583.4 L221.5,583.0 L221.8,583.2 L222.0,583.3 L222.2,583.4 L222.4,583.1 L222.6,583.4 L222.8,583.2 L223.1,583.0 L223.3,583.2 L223.5,583.3 L223.7,583.1 L223.9,583.2 L224.2,582.9 L224.4,583.1 L224.6,582.8 L224.8,582.8 L225.0,583.0 L225.3,583.3 L225.5,583.4 L225.7,582.9 L225.9,582.9 L226.1,583.0 L226.3,583.2 L226.6,583.3 L226.8,583.0 L227.0,583.1 L227.2,583.1 L227.4,583.0 L227.7,582.9 L227.9,583.3 L228.1,583.3 L228.3,582.8 L228.5,582.8 L228.7,582.9 L229.0,583.5 L229.2,583.4 L229.4,583.3 L229.6,583.2 L229.8,583.0 L230.1,583.4 L230.3,583.1 L230.5,583.4 L230.7,583.4 L230.9,583.0 L231.1,583.1 L231.4,583.0 L231.6,583.2 L231.8,583.1 L232.0,583.3 L232.2,583.2 L232.5,583.0 L232.7,582.9 L232.9,583.4 L233.1,583.4 L233.3,582.8 L233.5,582.9 L233.8,582.8 L234.0,583.1 L234.2,582.8 L234.4,582.7 L234.6,582.0 L234.9,581.8 L235.1,581.0 L235.3,580.0 L235.5,579.5 L235.7,578.1 L236.0,576.3 L236.2,574.3 L236.4,572.4 L236.6,569.9 L236.8,567.3 L237.0,563.7 L237.3,561.1 L237.5,558.0 L237.7,554.6 L237.9,551.8 L238.1,549.3 L238.4,547.8 L238.6,546.2 L238.8,546.2 L239.0,546.4 L239.2,547.0 L239.4,549.1 L239.7,551.1 L239.9,553.5 L240.1,556.5 L240.3,559.9 L240.5,563.2 L240.8,566.1 L241.0,568.8 L241.2,571.7 L241.4,574.2 L241.6,575.8 L241.8,577.6 L242.1,578.7 L242.3,579.8 L242.5,580.6 L242.7,581.6 L242.9,581.8 L243.2,582.5 L243.4,582.8 L243.6,582.9 L243.8,582.6 L244.0,582.7 L244.3,583.2 L244.5,583.2 L244.7,583.2 L244.9,583.2 L245.1,583.2 L245.3,583.2 L245.6,583.3 L245.8,583.1 L246.0,582.9 L246.2,583.1 L246.4,582.9 L246.7,583.1 L246.9,583.4 L247.1,583.0 L247.3,582.9 L247.5,583.3 L247.7,583.5 L248.0,583.1 L248.2,583.1 L248.4,583.1 L248.6,582.8 L248.8,583.0 L249.1,582.9 L249.3,583.4 L249.5,583.1 L249.7,582.9 L249.9,583.4 L250.1,583.4 L250.4,582.9 L250.6,582.8 L250.8,583.3 L251.0,582.8 L251.2,583.1 L251.5,582.6 L251.7,582.5 L251.9,582.5 L252.1,582.3 L252.3,581.6 L252.6,581.4 L252.8,580.7 L253.0,580.5 L253.2,580.0 L253.4,579.0 L253.6,578.7 L253.9,578.3 L254.1,577.8 L254.3,577.3 L254.5,577.1 L254.7,576.8 L255.0,577.1 L255.2,577.0 L255.4,577.4 L255.6,577.6 L255.8,578.1 L256.0,578.6 L256.3,579.1 L256.5,579.6 L256.7,580.3 L256.9,580.9 L257.1,581.2 L257.4,581.6 L257.6,582.1 L257.8,582.4 L258.0,582.8 L258.2,582.6 L258.4,582.5 L258.7,583.0 L258.9,583.2 L259.1,583.3 L259.3,583.1 L259.5,583.3 L259.8,582.8 L260.0,583.4 L260.2,583.3 L260.4,583.4 L260.6,583.0 L260.8,582.9 L261.1,583.4 L261.3,583.4 L261.5,583.2 L261.7,583.1 L261.9,582.9 L262.2,583.5 L262.4,583.4 L262.6,583.4 L262.8,583.3 L263.0,583.3 L263.3,583.0 L263.5,583.1 L263.7,583.3 L263.9,583.4 L264.1,583.3 L264.3,583.4 L264.6,583.0 L264.8,583.3 L265.0,583.1 L265.2,582.9 L265.4,583.2 L265.7,583.3 L265.9,582.9 L266.1,582.9 L266.3,583.3 L266.5,583.1 L266.7,582.8 L267.0,583.2 L267.2,583.3 L267.4,583.5 L267.6,582.8 L267.8,582.9 L268.1,583.2 L268.3,583.1 L268.5,583.1 L268.7,583.3 L268.9,582.8 L269.1,583.0 L269.4,583.3 L269.6,583.5 L269.8,583.2 L270.0,583.2 L270.2,582.9 L270.5,583.0 L270.7,583.1 L270.9,583.4 L271.1,583.4 L271.3,583.3 L271.6,583.3 L271.8,582.9 L272.0,583.1 L272.2,583.0 L272.4,582.8 L272.6,583.3 L272.9,583.1 L273.1,583.4 L273.3,583.0 L273.5,583.5 L273.7,582.9 L274.0,582.9 L274.2,582.9 L274.4,583.4 L274.6,583.3 L274.8,583.0 L275.0,583.4 L275.3,583.2 L275.5,583.2 L275.7,582.8 L275.9,583.1 L276.1,582.9 L276.4,583.3 L276.6,582.9 L276.8,583.2 L277.0,582.9 L277.2,583.4 L277.4,582.9 L277.7,583.3 L277.9,583.1 L278.1,583.1 L278.3,583.4 L278.5,582.9 L278.8,583.3 L279.0,583.3 L279.2,583.4 L279.4,583.3 L279.6,583.2 L279.9,583.0 L280.1,583.2 L280.3,583.0 L280.5,583.4 L280.7,583.2 L280.9,583.2 L281.2,582.8 L281.4,582.9 L281.6,583.0 L281.8,583.5 L282.0,583.2 L282.3,583.0 L282.5,583.3 L282.7,583.1 L282.9,583.2 L283.1,583.5 L283.3,582.8 L283.6,582.9 L283.8,583.4 L284.0,583.1 L284.2,583.3 L284.4,583.2 L284.7,583.1 L284.9,583.3 L285.1,583.3 L285.3,583.2 L285.5,583.0 L285.7,583.3 L286.0,583.4 L286.2,583.0 L286.4,583.3 L286.6,582.8 L286.8,583.1 L287.1,583.0 L287.3,583.3 L287.5,582.9 L287.7,583.4 L287.9,583.4 L288.1,583.4 L288.4,583.0 L288.6,583.0 L288.8,583.4 L289.0,583.2 L289.2,582.9 L289.5,583.1 L289.7,583.4 L289.9,583.3 L290.1,583.4 L290.3,583.4 L290.6,583.2 L290.8,583.4 L291.0,582.8 L291.2,583.2 L291.4,583.1 L291.6,583.0 L291.9,583.0 L292.1,582.9 L292.3,583.2 L292.5,583.3 L292.7,583.2 L293.0,583.5 L293.2,583.2 L293.4,583.0 L293.6,582.8 L293.8,582.9 L294.0,583.0 L294.3,583.1 L294.5,583.5 L294.7,583.3 L294.9,583.3 L295.1,583.0 L295.4,583.4 L295.6,583.2 L295.8,583.1 L296.0,582.9 L296.2,582.9 L296.4,583.1 L296.7,583.4 L296.9,583.0 L297.1,582.9 L297.3,583.1 L297.5,583.2 L297.8,583.1 L298.0,583.4 L298.2,583.0 L298.4,582.8 L298.6,583.1 L298.9,583.0 L299.1,582.9 L299.3,583.4 L299.5,582.8 L299.7,583.1 L299.9,583.4 L300.2,583.4 L300.4,583.3 L300.6,583.1 L300.8,583.0 L301.0,583.3 L301.3,582.8 L301.5,583.2 L301.7,583.2 L301.9,583.4 L302.1,582.8 L302.3,583.4 L302.6,582.9 L302.8,583.1 L303.0,583.1 L303.2,583.1 L303.4,583.3 L303.7,582.9 L303.9,582.8 L304.1,582.9 L304.3,583.1 L304.5,583.4 L304.7,582.9 L305.0,583.3 L305.2,582.9 L305.4,583.3 L305.6,583.1 L305.8,582.9 L306.1,583.4 L306.3,583.1 L306.5,583.4 L306.7,583.5 L306.9,583.4 L307.2,582.8 L307.4,582.8 L307.6,583.0 L307.8,583.3 L308.0,583.0 L308.2,583.0 L308.5,583.2 L308.7,583.1 L308.9,582.9 L309.1,583.5 L309.3,583.4 L309.6,583.2 L309.8,583.4 L310.0,583.2 L310.2,583.1 L310.4,583.4 L310.6,583.1 L310.9,583.3 L311.1,583.1 L311.3,583.3 L311.5,583.0 L311.7,583.5 L312.0,583.0 L312.2,583.4 L312.4,582.8 L312.6,583.1 L312.8,583.2 L313.0,583.2 L313.3,583.1 L313.5,583.0 L313.7,583.0 L313.9,583.0 L314.1,583.2 L314.4,582.8 L314.6,582.9 L314.8,582.9 L315.0,583.2 L315.2,583.2 L315.5,583.1 L315.7,582.9 L315.9,583.1 L316.1,583.1 L316.3,583.2 L316.5,582.9 L316.8,583.3 L317.0,583.5 L317.2,583.0 L317.4,582.9 L317.6,583.0 L317.9,583.1 L318.1,583.0 L318.3,583.3 L318.5,583.1 L318.7,583.4 L318.9,583.4 L319.2,583.2 L319.4,583.1 L319.6,583.2 L319.8,583.5 L320.0,583.0 L320.3,583.1 L320.5,583.3 L320.7,583.3 L320.9,583.2 L321.1,583.3 L321.3,583.5 L321.6,582.9 L321.8,582.8 L322.0,583.0 L322.2,582.9 L322.4,583.2 L322.7,582.9 L322.9,583.3 L323.1,583.0 L323.3,583.1 L323.5,582.9 L323.7,583.4 L324.0,582.9 L324.2,583.4 L324.4,583.1 L324.6,582.8 L324.8,583.5 L325.1,583.3 L325.3,583.3 L325.5,583.3 L325.7,583.5 L325.9,582.9 L326.2,582.9 L326.4,583.2 L326.6,583.2 L326.8,583.1 L327.0,583.5 L327.2,583.5 L327.5,582.9 L327.7,583.3 L327.9,583.1 L328.1,582.8 L328.3,582.8 L328.6,583.2 L328.8,583.4 L329.0,583.3 L329.2,582.9 L329.4,582.9 L329.6,583.4 L329.9,582.9 L330.1,583.3 L330.3,583.2 L330.5,583.4 L330.7,582.9 L331.0,582.8 L331.2,583.4 L331.4,583.1 L331.6,583.4 L331.8,582.9 L332.0,583.5 L332.3,583.4 L332.5,583.0 L332.7,583.3 L332.9,582.9 L333.1,582.9 L333.4,583.0 L333.6,583.4 L333.8,583.0 L334.0,582.8 L334.2,583.2 L334.5,583.4 L334.7,583.3 L334.9,583.3 L335.1,583.0 L335.3,583.4 L335.5,583.4 L335.8,583.3 L336.0,583.0 L336.2,582.9 L336.4,583.2 L336.6,583.0 L336.9,582.9 L337.1,583.1 L337.3,583.3 L337.5,583.3 L337.7,582.8 L337.9,583.0 L338.2,583.3 L338.4,583.0 L338.6,583.4 L338.8,582.8 L339.0,583.2 L339.3,583.1 L339.5,583.1 L339.7,583.5 L339.9,583.1 L340.1,583.3 L340.3,583.3 L340.6,582.9 L340.8,583.4 L341.0,583.3 L341.2,583.0 L341.4,583.3 L341.7,583.3 L341.9,583.1 L342.1,583.4 L342.3,582.9 L342.5,582.8 L342.8,583.5 L343.0,583.2 L343.2,583.0 L343.4,583.2 L343.6,582.8 L343.8,583.1 L344.1,583.4 L344.3,583.1 L344.5,583.0 L344.7,583.2 L344.9,583.0 L345.2,582.9 L345.4,583.1 L345.6,583.1 L345.8,582.9 L346.0,583.0 L346.2,583.1 L346.5,582.8 L346.7,583.4 L346.9,583.0 L347.1,583.4 L347.1,583.5 L91.6,583.5 Z" fill="#5aae3a" fill-opacity="0.35" stroke="none"/>
<path d="M91.6,583.5 L91.8,583.5 L92.0,583.5 L92.2,583.5 L92.5,583.5 L92.7,583.5 L92.9,583.5 L93.1,583.5 L93.3,583.5 L93.6,583.5 L93.8,583.5 L94.0,583.5 L94.2,583.5 L94.4,583.4 L94.6,583.3 L94.9,583.0 L95.1,582.5 L95.3,580.5 L95.5,578.8 L95.7,575.8 L96.0,572.1 L96.2,566.2 L96.4,558.3 L96.6,549.0 L96.8,538.1 L97.0,527.0 L97.3,517.1 L97.5,510.4 L97.7,506.7 L97.9,507.6 L98.1,512.0 L98.4,520.3 L98.6,531.0 L98.8,541.3 L99.0,551.6 L99.2,560.5 L99.5,567.0 L99.7,571.2 L99.9,572.5 L100.1,570.3 L100.3,565.5 L100.5,556.7 L100.8,544.0 L101.0,527.8 L101.2,508.2 L101.4,487.6 L101.6,467.9 L101.9,452.3 L102.1,442.5 L102.3,440.6 L102.5,446.5 L102.7,459.6 L102.9,477.8 L103.2,497.6 L103.4,517.9 L103.6,536.1 L103.8,551.1 L104.0,562.6 L104.3,570.6 L104.5,575.8 L104.7,579.1 L104.9,580.4 L105.1,581.7 L105.3,581.9 L105.6,582.4 L105.8,582.1 L106.0,582.3 L106.2,582.9 L106.4,582.7 L106.7,582.2 L106.9,582.4 L107.1,582.0 L107.3,582.2 L107.5,582.0 L107.8,581.1 L108.0,580.2 L108.2,579.4 L108.4,578.2 L108.6,576.5 L108.8,574.4 L109.1,573.1 L109.3,572.4 L109.5,571.7 L109.7,571.8 L109.9,572.5 L110.2,573.1 L110.4,575.0 L110.6,576.4 L110.8,578.0 L111.0,579.5 L111.2,580.2 L111.5,581.5 L111.7,581.7 L111.9,582.4 L112.1,582.4 L112.3,582.7 L112.6,582.7 L112.8,582.3 L113.0,582.4 L113.2,582.8 L113.4,582.4 L113.6,582.8 L113.9,582.7 L114.1,582.4 L114.3,582.6 L114.5,582.9 L114.7,582.3 L115.0,582.9 L115.2,582.8 L115.4,582.5 L115.6,582.8 L115.8,582.8 L116.1,583.0 L116.3,583.0 L116.5,582.6 L116.7,582.9 L116.9,582.6 L117.1,582.8 L117.4,582.7 L117.6,582.4 L117.8,582.7 L118.0,582.6 L118.2,582.4 L118.5,582.9 L118.7,583.0 L118.9,582.4 L119.1,582.5 L119.3,582.9 L119.5,582.9 L119.8,582.5 L120.0,582.4 L120.2,582.9 L120.4,582.3 L120.6,582.2 L120.9,582.1 L121.1,581.8 L121.3,581.2 L121.5,580.0 L121.7,577.3 L121.9,574.8 L122.2,570.3 L122.4,564.9 L122.6,557.2 L122.8,548.4 L123.0,538.5 L123.3,527.6 L123.5,516.3 L123.7,506.8 L123.9,498.7 L124.1,493.3 L124.4,491.3 L124.6,493.2 L124.8,498.7 L125.0,506.3 L125.2,516.7 L125.4,527.8 L125.7,538.5 L125.9,548.6 L126.1,557.7 L126.3,565.0 L126.5,570.5 L126.8,574.6 L127.0,577.9 L127.2,579.8 L127.4,580.7 L127.6,581.5 L127.8,582.2 L128.1,582.4 L128.3,582.6 L128.5,583.0 L128.7,583.1 L128.9,583.1 L129.2,582.5 L129.4,582.7 L129.6,582.5 L129.8,583.2 L130.0,582.7 L130.2,582.8 L130.5,582.7 L130.7,583.0 L130.9,582.5 L131.1,583.1 L131.3,582.8 L131.6,582.7 L131.8,582.6 L132.0,582.7 L132.2,582.7 L132.4,582.6 L132.6,582.6 L132.9,583.0 L133.1,582.7 L133.3,582.6 L133.5,582.6 L133.7,582.9 L134.0,582.7 L134.2,582.6 L134.4,582.8 L134.6,582.8 L134.8,582.9 L135.1,582.8 L135.3,582.8 L135.5,583.2 L135.7,582.8 L135.9,582.5 L136.1,582.6 L136.4,582.7 L136.6,583.0 L136.8,582.7 L137.0,582.8 L137.2,582.9 L137.5,582.6 L137.7,583.2 L137.9,582.7 L138.1,583.2 L138.3,582.8 L138.5,582.9 L138.8,583.1 L139.0,582.8 L139.2,582.9 L139.4,582.8 L139.6,582.6 L139.9,583.1 L140.1,583.2 L140.3,583.0 L140.5,582.8 L140.7,583.1 L140.9,583.1 L141.2,582.6 L141.4,582.8 L141.6,583.0 L141.8,582.6 L142.0,583.0 L142.3,582.8 L142.5,583.1 L142.7,583.0 L142.9,582.7 L143.1,582.6 L143.4,582.7 L143.6,583.0 L143.8,582.9 L144.0,583.1 L144.2,583.2 L144.4,582.9 L144.7,582.7 L144.9,582.7 L145.1,582.8 L145.3,582.6 L145.5,583.1 L145.8,583.2 L146.0,583.0 L146.2,583.1 L146.4,583.1 L146.6,583.0 L146.8,582.9 L147.1,583.0 L147.3,583.1 L147.5,582.7 L147.7,582.6 L147.9,583.0 L148.2,583.3 L148.4,583.3 L148.6,582.7 L148.8,583.3 L149.0,582.8 L149.2,582.9 L149.5,583.1 L149.7,582.8 L149.9,583.3 L150.1,583.2 L150.3,583.0 L150.6,583.3 L150.8,582.7 L151.0,583.2 L151.2,583.2 L151.4,583.3 L151.7,582.9 L151.9,583.0 L152.1,582.9 L152.3,582.9 L152.5,582.8 L152.7,582.7 L153.0,582.8 L153.2,583.2 L153.4,583.0 L153.6,583.2 L153.8,583.3 L154.1,583.0 L154.3,582.8 L154.5,583.2 L154.7,583.1 L154.9,583.1 L155.1,582.8 L155.4,583.0 L155.6,582.9 L155.8,582.8 L156.0,583.1 L156.2,582.8 L156.5,582.7 L156.7,583.3 L156.9,582.7 L157.1,582.8 L157.3,583.3 L157.5,583.0 L157.8,582.9 L158.0,582.7 L158.2,583.1 L158.4,583.0 L158.6,582.7 L158.9,582.8 L159.1,582.7 L159.3,583.0 L159.5,582.9 L159.7,583.2 L159.9,582.9 L160.2,582.8 L160.4,582.9 L160.6,582.9 L160.8,583.2 L161.0,582.7 L161.3,582.7 L161.5,582.7 L161.7,583.0 L161.9,582.8 L162.1,583.1 L162.4,582.7 L162.6,582.8 L162.8,583.1 L163.0,583.3 L163.2,583.1 L163.4,583.0 L163.7,582.8 L163.9,583.0 L164.1,583.4 L164.3,582.8 L164.5,583.3 L164.8,582.8 L165.0,583.3 L165.2,583.1 L165.4,582.8 L165.6,583.3 L165.8,583.3 L166.1,583.0 L166.3,582.9 L166.5,582.8 L166.7,582.9 L166.9,582.7 L167.2,583.0 L167.4,582.7 L167.6,583.3 L167.8,583.2 L168.0,583.0 L168.2,583.2 L168.5,582.9 L168.7,582.9 L168.9,583.0 L169.1,582.8 L169.3,583.0 L169.6,583.2 L169.8,583.1 L170.0,582.8 L170.2,582.8 L170.4,583.2 L170.7,582.8 L170.9,582.7 L171.1,583.0 L171.3,583.0 L171.5,583.3 L171.7,583.0 L172.0,583.0 L172.2,583.0 L172.4,583.4 L172.6,582.7 L172.8,583.0 L173.1,583.1 L173.3,582.8 L173.5,583.0 L173.7,583.1 L173.9,582.9 L174.1,583.4 L174.4,583.0 L174.6,583.1 L174.8,582.7 L175.0,582.8 L175.2,583.2 L175.5,583.1 L175.7,583.3 L175.9,583.1 L176.1,582.8 L176.3,582.8 L176.5,583.1 L176.8,583.2 L177.0,583.3 L177.2,583.0 L177.4,582.8 L177.6,583.3 L177.9,582.9 L178.1,583.4 L178.3,583.3 L178.5,583.3 L178.7,582.9 L178.9,583.2 L179.2,583.2 L179.4,583.0 L179.6,583.3 L179.8,582.9 L180.0,583.3 L180.3,583.1 L180.5,583.2 L180.7,583.3 L180.9,583.0 L181.1,583.1 L181.4,583.2 L181.6,583.1 L181.8,583.1 L182.0,583.3 L182.2,583.3 L182.4,583.0 L182.7,583.0 L182.9,583.1 L183.1,582.8 L183.3,583.0 L183.5,582.8 L183.8,583.3 L184.0,582.9 L184.2,582.9 L184.4,582.8 L184.6,583.2 L184.8,583.2 L185.1,582.8 L185.3,583.3 L185.5,582.7 L185.7,582.8 L185.9,583.3 L186.2,583.3 L186.4,582.9 L186.6,583.2 L186.8,583.4 L187.0,582.8 L187.2,583.1 L187.5,582.9 L187.7,583.3 L187.9,583.2 L188.1,583.0 L188.3,583.4 L188.6,583.3 L188.8,583.0 L189.0,582.8 L189.2,582.8 L189.4,583.4 L189.7,583.1 L189.9,582.9 L190.1,583.1 L190.3,583.0 L190.5,583.3 L190.7,583.4 L191.0,583.4 L191.2,583.4 L191.4,583.1 L191.6,583.1 L191.8,583.0 L192.1,583.3 L192.3,583.3 L192.5,583.3 L192.7,582.9 L192.9,582.7 L193.1,582.8 L193.4,583.4 L193.6,583.4 L193.8,582.8 L194.0,583.1 L194.2,582.9 L194.5,583.2 L194.7,583.1 L194.9,583.1 L195.1,583.1 L195.3,583.0 L195.5,583.4 L195.8,583.0 L196.0,582.9 L196.2,583.3 L196.4,583.1 L196.6,582.9 L196.9,583.2 L197.1,583.3 L197.3,583.3 L197.5,583.1 L197.7,583.4 L198.0,582.8 L198.2,582.9 L198.4,583.0 L198.6,582.8 L198.8,583.0 L199.0,583.2 L199.3,583.0 L199.5,583.1 L199.7,582.8 L199.9,582.9 L200.1,583.3 L200.4,582.8 L200.6,582.9 L200.8,582.9 L201.0,582.9 L201.2,583.2 L201.4,582.8 L201.7,582.8 L201.9,583.0 L202.1,582.9 L202.3,582.9 L202.5,583.2 L202.8,582.9 L203.0,583.4 L203.2,583.2 L203.4,583.1 L203.6,583.5 L203.8,583.2 L204.1,583.0 L204.3,583.0 L204.5,583.3 L204.7,582.8 L204.9,583.0 L205.2,583.2 L205.4,583.0 L205.6,583.1 L205.8,583.1 L206.0,583.2 L206.2,582.8 L206.5,583.0 L206.7,583.0 L206.9,582.9 L207.1,582.8 L207.3,583.4 L207.6,583.0 L207.8,582.9 L208.0,583.3 L208.2,583.2 L208.4,583.4 L208.7,583.3 L208.9,583.2 L209.1,583.4 L209.3,583.3 L209.5,582.8 L209.7,583.1 L210.0,583.1 L210.2,582.8 L210.4,583.1 L210.6,582.8 L210.8,583.0 L211.1,582.9 L211.3,583.4 L211.5,583.0 L211.7,582.9 L211.9,583.4 L212.1,582.8 L212.4,583.4 L212.6,583.1 L212.8,583.3 L213.0,583.1 L213.2,583.0 L213.5,583.4 L213.7,582.8 L213.9,583.2 L214.1,583.1 L214.3,583.0 L214.5,583.2 L214.8,583.3 L215.0,583.0 L215.2,583.1 L215.4,583.3 L215.6,583.0 L215.9,583.3 L216.1,583.5 L216.3,583.3 L216.5,583.4 L216.7,583.4 L217.0,582.9 L217.2,583.2 L217.4,582.8 L217.6,582.9 L217.8,583.4 L218.0,582.8 L218.3,582.8 L218.5,583.4 L218.7,582.8 L218.9,583.2 L219.1,583.1 L219.4,582.8 L219.6,583.3 L219.8,583.1 L220.0,582.8 L220.2,583.0 L220.4,583.1 L220.7,582.8 L220.9,582.9 L221.1,583.0 L221.3,583.4 L221.5,583.0 L221.8,583.2 L222.0,583.3 L222.2,583.4 L222.4,583.1 L222.6,583.4 L222.8,583.2 L223.1,583.0 L223.3,583.2 L223.5,583.3 L223.7,583.1 L223.9,583.2 L224.2,582.9 L224.4,583.1 L224.6,582.8 L224.8,582.8 L225.0,583.0 L225.3,583.3 L225.5,583.4 L225.7,582.9 L225.9,582.9 L226.1,583.0 L226.3,583.2 L226.6,583.3 L226.8,583.0 L227.0,583.1 L227.2,583.1 L227.4,583.0 L227.7,582.9 L227.9,583.3 L228.1,583.3 L228.3,582.8 L228.5,582.8 L228.7,582.9 L229.0,583.5 L229.2,583.4 L229.4,583.3 L229.6,583.2 L229.8,583.0 L230.1,583.4 L230.3,583.1 L230.5,583.4 L230.7,583.4 L230.9,583.0 L231.1,583.1 L231.4,583.0 L231.6,583.2 L231.8,583.1 L232.0,583.3 L232.2,583.2 L232.5,583.0 L232.7,582.9 L232.9,583.4 L233.1,583.4 L233.3,582.8 L233.5,582.9 L233.8,582.8 L234.0,583.1 L234.2,582.8 L234.4,582.7 L234.6,582.0 L234.9,581.8 L235.1,581.0 L235.3,580.0 L235.5,579.5 L235.7,578.1 L236.0,576.3 L236.2,574.3 L236.4,572.4 L236.6,569.9 L236.8,567.3 L237.0,563.7 L237.3,561.1 L237.5,558.0 L237.7,554.6 L237.9,551.8 L238.1,549.3 L238.4,547.8 L238.6,546.2 L238.8,546.2 L239.0,546.4 L239.2,547.0 L239.4,549.1 L239.7,551.1 L239.9,553.5 L240.1,556.5 L240.3,559.9 L240.5,563.2 L240.8,566.1 L241.0,568.8 L241.2,571.7 L241.4,574.2 L241.6,575.8 L241.8,577.6 L242.1,578.7 L242.3,579.8 L242.5,580.6 L242.7,581.6 L242.9,581.8 L243.2,582.5 L243.4,582.8 L243.6,582.9 L243.8,582.6 L244.0,582.7 L244.3,583.2 L244.5,583.2 L244.7,583.2 L244.9,583.2 L245.1,583.2 L245.3,583.2 L245.6,583.3 L245.8,583.1 L246.0,582.9 L246.2,583.1 L246.4,582.9 L246.7,583.1 L246.9,583.4 L247.1,583.0 L247.3,582.9 L247.5,583.3 L247.7,583.5 L248.0,583.1 L248.2,583.1 L248.4,583.1 L248.6,582.8 L248.8,583.0 L249.1,582.9 L249.3,583.4 L249.5,583.1 L249.7,582.9 L249.9,583.4 L250.1,583.4 L250.4,582.9 L250.6,582.8 L250.8,583.3 L251.0,582.8 L251.2,583.1 L251.5,582.6 L251.7,582.5 L251.9,582.5 L252.1,582.3 L252.3,581.6 L252.6,581.4 L252.8,580.7 L253.0,580.5 L253.2,580.0 L253.4,579.0 L253.6,578.7 L253.9,578.3 L254.1,577.8 L254.3,577.3 L254.5,577.1 L254.7,576.8 L255.0,577.1 L255.2,577.0 L255.4,577.4 L255.6,577.6 L255.8,578.1 L256.0,578.6 L256.3,579.1 L256.5,579.6 L256.7,580.3 L256.9,580.9 L257.1,581.2 L257.4,581.6 L257.6,582.1 L257.8,582.4 L258.0,582.8 L258.2,582.6 L258.4,582.5 L258.7,583.0 L258.9,583.2 L259.1,583.3 L259.3,583.1 L259.5,583.3 L259.8,582.8 L260.0,583.4 L260.2,583.3 L260.4,583.4 L260.6,583.0 L260.8,582.9 L261.1,583.4 L261.3,583.4 L261.5,583.2 L261.7,583.1 L261.9,582.9 L262.2,583.5 L262.4,583.4 L262.6,583.4 L262.8,583.3 L263.0,583.3 L263.3,583.0 L263.5,583.1 L263.7,583.3 L263.9,583.4 L264.1,583.3 L264.3,583.4 L264.6,583.0 L264.8,583.3 L265.0,583.1 L265.2,582.9 L265.4,583.2 L265.7,583.3 L265.9,582.9 L266.1,582.9 L266.3,583.3 L266.5,583.1 L266.7,582.8 L267.0,583.2 L267.2,583.3 L267.4,583.5 L267.6,582.8 L267.8,582.9 L268.1,583.2 L268.3,583.1 L268.5,583.1 L268.7,583.3 L268.9,582.8 L269.1,583.0 L269.4,583.3 L269.6,583.5 L269.8,583.2 L270.0,583.2 L270.2,582.9 L270.5,583.0 L270.7,583.1 L270.9,583.4 L271.1,583.4 L271.3,583.3 L271.6,583.3 L271.8,582.9 L272.0,583.1 L272.2,583.0 L272.4,582.8 L272.6,583.3 L272.9,583.1 L273.1,583.4 L273.3,583.0 L273.5,583.5 L273.7,582.9 L274.0,582.9 L274.2,582.9 L274.4,583.4 L274.6,583.3 L274.8,583.0 L275.0,583.4 L275.3,583.2 L275.5,583.2 L275.7,582.8 L275.9,583.1 L276.1,582.9 L276.4,583.3 L276.6,582.9 L276.8,583.2 L277.0,582.9 L277.2,583.4 L277.4,582.9 L277.7,583.3 L277.9,583.1 L278.1,583.1 L278.3,583.4 L278.5,582.9 L278.8,583.3 L279.0,583.3 L279.2,583.4 L279.4,583.3 L279.6,583.2 L279.9,583.0 L280.1,583.2 L280.3,583.0 L280.5,583.4 L280.7,583.2 L280.9,583.2 L281.2,582.8 L281.4,582.9 L281.6,583.0 L281.8,583.5 L282.0,583.2 L282.3,583.0 L282.5,583.3 L282.7,583.1 L282.9,583.2 L283.1,583.5 L283.3,582.8 L283.6,582.9 L283.8,583.4 L284.0,583.1 L284.2,583.3 L284.4,583.2 L284.7,583.1 L284.9,583.3 L285.1,583.3 L285.3,583.2 L285.5,583.0 L285.7,583.3 L286.0,583.4 L286.2,583.0 L286.4,583.3 L286.6,582.8 L286.8,583.1 L287.1,583.0 L287.3,583.3 L287.5,582.9 L287.7,583.4 L287.9,583.4 L288.1,583.4 L288.4,583.0 L288.6,583.0 L288.8,583.4 L289.0,583.2 L289.2,582.9 L289.5,583.1 L289.7,583.4 L289.9,583.3 L290.1,583.4 L290.3,583.4 L290.6,583.2 L290.8,583.4 L291.0,582.8 L291.2,583.2 L291.4,583.1 L291.6,583.0 L291.9,583.0 L292.1,582.9 L292.3,583.2 L292.5,583.3 L292.7,583.2 L293.0,583.5 L293.2,583.2 L293.4,583.0 L293.6,582.8 L293.8,582.9 L294.0,583.0 L294.3,583.1 L294.5,583.5 L294.7,583.3 L294.9,583.3 L295.1,583.0 L295.4,583.4 L295.6,583.2 L295.8,583.1 L296.0,582.9 L296.2,582.9 L296.4,583.1 L296.7,583.4 L296.9,583.0 L297.1,582.9 L297.3,583.1 L297.5,583.2 L297.8,583.1 L298.0,583.4 L298.2,583.0 L298.4,582.8 L298.6,583.1 L298.9,583.0 L299.1,582.9 L299.3,583.4 L299.5,582.8 L299.7,583.1 L299.9,583.4 L300.2,583.4 L300.4,583.3 L300.6,583.1 L300.8,583.0 L301.0,583.3 L301.3,582.8 L301.5,583.2 L301.7,583.2 L301.9,583.4 L302.1,582.8 L302.3,583.4 L302.6,582.9 L302.8,583.1 L303.0,583.1 L303.2,583.1 L303.4,583.3 L303.7,582.9 L303.9,582.8 L304.1,582.9 L304.3,583.1 L304.5,583.4 L304.7,582.9 L305.0,583.3 L305.2,582.9 L305.4,583.3 L305.6,583.1 L305.8,582.9 L306.1,583.4 L306.3,583.1 L306.5,583.4 L306.7,583.5 L306.9,583.4 L307.2,582.8 L307.4,582.8 L307.6,583.0 L307.8,583.3 L308.0,583.0 L308.2,583.0 L308.5,583.2 L308.7,583.1 L308.9,582.9 L309.1,583.5 L309.3,583.4 L309.6,583.2 L309.8,583.4 L310.0,583.2 L310.2,583.1 L310.4,583.4 L310.6,583.1 L310.9,583.3 L311.1,583.1 L311.3,583.3 L311.5,583.0 L311.7,583.5 L312.0,583.0 L312.2,583.4 L312.4,582.8 L312.6,583.1 L312.8,583.2 L313.0,583.2 L313.3,583.1 L313.5,583.0 L313.7,583.0 L313.9,583.0 L314.1,583.2 L314.4,582.8 L314.6,582.9 L314.8,582.9 L315.0,583.2 L315.2,583.2 L315.5,583.1 L315.7,582.9 L315.9,583.1 L316.1,583.1 L316.3,583.2 L316.5,582.9 L316.8,583.3 L317.0,583.5 L317.2,583.0 L317.4,582.9 L317.6,583.0 L317.9,583.1 L318.1,583.0 L318.3,583.3 L318.5,583.1 L318.7,583.4 L318.9,583.4 L319.2,583.2 L319.4,583.1 L319.6,583.2 L319.8,583.5 L320.0,583.0 L320.3,583.1 L320.5,583.3 L320.7,583.3 L320.9,583.2 L321.1,583.3 L321.3,583.5 L321.6,582.9 L321.8,582.8 L322.0,583.0 L322.2,582.9 L322.4,583.2 L322.7,582.9 L322.9,583.3 L323.1,583.0 L323.3,583.1 L323.5,582.9 L323.7,583.4 L324.0,582.9 L324.2,583.4 L324.4,583.1 L324.6,582.8 L324.8,583.5 L325.1,583.3 L325.3,583.3 L325.5,583.3 L325.7,583.5 L325.9,582.9 L326.2,582.9 L326.4,583.2 L326.6,583.2 L326.8,583.1 L327.0,583.5 L327.2,583.5 L327.5,582.9 L327.7,583.3 L327.9,583.1 L328.1,582.8 L328.3,582.8 L328.6,583.2 L328.8,583.4 L329.0,583.3 L329.2,582.9 L329.4,582.9 L329.6,583.4 L329.9,582.9 L330.1,583.3 L330.3,583.2 L330.5,583.4 L330.7,582.9 L331.0,582.8 L331.2,583.4 L331.4,583.1 L331.6,583.4 L331.8,582.9 L332.0,583.5 L332.3,583.4 L332.5,583.0 L332.7,583.3 L332.9,582.9 L333.1,582.9 L333.4,583.0 L333.6,583.4 L333.8,583.0 L334.0,582.8 L334.2,583.2 L334.5,583.4 L334.7,583.3 L334.9,583.3 L335.1,583.0 L335.3,583.4 L335.5,583.4 L335.8,583.3 L336.0,583.0 L336.2,582.9 L336.4,583.2 L336.6,583.0 L336.9,582.9 L337.1,583.1 L337.3,583.3 L337.5,583.3 L337.7,582.8 L337.9,583.0 L338.2,583.3 L338.4,583.0 L338.6,583.4 L338.8,582.8 L339.0,583.2 L339.3,583.1 L339.5,583.1 L339.7,583.5 L339.9,583.1 L340.1,583.3 L340.3,583.3 L340.6,582.9 L340.8,583.4 L341.0,583.3 L341.2,583.0 L341.4,583.3 L341.7,583.3 L341.9,583.1 L342.1,583.4 L342.3,582.9 L342.5,582.8 L342.8,583.5 L343.0,583.2 L343.2,583.0 L343.4,583.2 L343.6,582.8 L343.8,583.1 L344.1,583.4 L344.3,583.1 L344.5,583.0 L344.7,583.2 L344.9,583.0 L345.2,582.9 L345.4,583.1 L345.6,583.1 L345.8,582.9 L346.0,583.0 L346.2,583.1 L346.5,582.8 L346.7,583.4 L346.9,583.0 L347.1,583.4" fill="none" stroke="#5aae3a" stroke-width="1.9" stroke-linejoin="round" stroke-linecap="round" />
<text x="92.0" y="520.3" font-size="13.5" font-weight="bold" text-anchor="start" fill="#000" >C</text>
<text x="97.0" y="453.0" font-size="13.5" font-weight="bold" text-anchor="start" fill="#000" >O</text>
<text x="119.0" y="504.6" font-size="13.5" font-weight="bold" text-anchor="start" fill="#000" >Si</text>
<text x="105.3" y="576.5" font-size="13.5" font-weight="bold" text-anchor="start" fill="#000" >N</text>
<rect x="74.5" y="349.5" width="290.5" height="234.0" fill="none" stroke="#000" stroke-width="2.9"/>
<text x="158.0" y="628.8" font-size="21" font-weight="bold" text-anchor="start" fill="#000" textLength="122.5" lengthAdjust="spacingAndGlyphs">Energy (keV)</text>
<text transform="translate(20.2,547.2) rotate(-90)" font-size="22" font-weight="bold" textLength="157.7" lengthAdjust="spacingAndGlyphs">Intensity (counts)</text>
<line x1="437.3" y1="589.2" x2="442.3" y2="589.2" stroke="#000" stroke-width="2.4"/>
<text x="433.0" y="595.5" font-size="19" font-weight="bold" text-anchor="end" fill="#000" >0</text>
<line x1="439.8" y1="560.0" x2="442.3" y2="560.0" stroke="#000" stroke-width="2.4"/>
<line x1="437.3" y1="530.8" x2="442.3" y2="530.8" stroke="#000" stroke-width="2.4"/>
<text x="433.0" y="537.1" font-size="19" font-weight="bold" text-anchor="end" fill="#000" >500</text>
<line x1="439.8" y1="501.6" x2="442.3" y2="501.6" stroke="#000" stroke-width="2.4"/>
<line x1="437.3" y1="472.4" x2="442.3" y2="472.4" stroke="#000" stroke-width="2.4"/>
<text x="433.0" y="478.7" font-size="19" font-weight="bold" text-anchor="end" fill="#000" >1000</text>
<line x1="439.8" y1="443.2" x2="442.3" y2="443.2" stroke="#000" stroke-width="2.4"/>
<line x1="437.3" y1="414.0" x2="442.3" y2="414.0" stroke="#000" stroke-width="2.4"/>
<text x="433.0" y="420.3" font-size="19" font-weight="bold" text-anchor="end" fill="#000" >1500</text>
<line x1="439.8" y1="384.8" x2="442.3" y2="384.8" stroke="#000" stroke-width="2.4"/>
<line x1="437.3" y1="355.6" x2="442.3" y2="355.6" stroke="#000" stroke-width="2.4"/>
<text x="433.0" y="361.9" font-size="19" font-weight="bold" text-anchor="end" fill="#000" >2000</text>
<line x1="460.4" y1="589.2" x2="460.4" y2="594.2" stroke="#000" stroke-width="2.4"/>
<text x="460.4" y="612.7" font-size="19" font-weight="bold" text-anchor="middle" fill="#000" >0</text>
<line x1="505.9" y1="589.2" x2="505.9" y2="591.7" stroke="#000" stroke-width="2.4"/>
<line x1="551.4" y1="589.2" x2="551.4" y2="594.2" stroke="#000" stroke-width="2.4"/>
<text x="551.4" y="612.7" font-size="19" font-weight="bold" text-anchor="middle" fill="#000" >5</text>
<line x1="596.9" y1="589.2" x2="596.9" y2="591.7" stroke="#000" stroke-width="2.4"/>
<line x1="642.4" y1="589.2" x2="642.4" y2="594.2" stroke="#000" stroke-width="2.4"/>
<text x="642.4" y="612.7" font-size="19" font-weight="bold" text-anchor="middle" fill="#000" >10</text>
<line x1="687.9" y1="589.2" x2="687.9" y2="591.7" stroke="#000" stroke-width="2.4"/>
<line x1="733.4" y1="589.2" x2="733.4" y2="594.2" stroke="#000" stroke-width="2.4"/>
<text x="733.4" y="612.7" font-size="19" font-weight="bold" text-anchor="middle" fill="#000" >15</text>
<path d="M459.5,589.2 L459.7,589.2 L459.9,589.2 L460.1,589.2 L460.4,589.2 L460.6,589.2 L460.8,589.2 L461.0,589.2 L461.2,589.2 L461.5,589.2 L461.7,589.2 L461.9,589.2 L462.1,589.1 L462.3,589.0 L462.5,588.7 L462.8,588.0 L463.0,586.7 L463.2,583.2 L463.4,578.9 L463.6,571.7 L463.9,561.3 L464.1,546.1 L464.3,525.8 L464.5,501.3 L464.7,473.1 L464.9,444.6 L465.2,419.1 L465.4,400.8 L465.6,391.4 L465.8,393.5 L466.0,405.6 L466.3,427.1 L466.5,454.4 L466.7,482.3 L466.9,509.3 L467.1,532.7 L467.4,550.7 L467.6,563.5 L467.8,570.7 L468.0,572.5 L468.2,569.9 L468.4,561.7 L468.7,548.1 L468.9,528.9 L469.1,504.0 L469.3,475.5 L469.5,445.5 L469.8,418.0 L470.0,396.3 L470.2,384.0 L470.4,382.9 L470.6,393.6 L470.8,414.1 L471.1,440.5 L471.3,470.3 L471.5,499.4 L471.7,525.1 L471.9,546.0 L472.2,561.6 L472.4,572.3 L472.6,579.4 L472.8,583.2 L473.0,585.9 L473.2,586.8 L473.5,587.8 L473.7,587.7 L473.9,587.8 L474.1,588.4 L474.3,588.2 L474.6,587.4 L474.8,587.2 L475.0,586.1 L475.2,585.2 L475.4,583.5 L475.7,580.4 L475.9,576.9 L476.1,573.2 L476.3,569.1 L476.5,564.8 L476.7,560.9 L477.0,558.9 L477.2,558.8 L477.4,559.8 L477.6,562.6 L477.8,566.3 L478.1,570.0 L478.3,574.7 L478.5,578.3 L478.7,581.6 L478.9,584.2 L479.1,585.5 L479.4,587.1 L479.6,587.4 L479.8,588.2 L480.0,588.2 L480.2,588.4 L480.5,588.5 L480.7,588.0 L480.9,588.1 L481.1,588.5 L481.3,588.1 L481.5,588.5 L481.8,588.4 L482.0,588.1 L482.2,588.3 L482.4,588.6 L482.6,588.0 L482.9,588.6 L483.1,588.5 L483.3,588.2 L483.5,588.5 L483.7,588.5 L484.0,588.7 L484.2,588.7 L484.4,588.3 L484.6,588.6 L484.8,588.3 L485.0,588.5 L485.3,588.4 L485.5,588.1 L485.7,588.4 L485.9,588.4 L486.1,588.1 L486.4,588.6 L486.6,588.7 L486.8,588.1 L487.0,588.2 L487.2,588.6 L487.4,588.6 L487.7,588.2 L487.9,587.9 L488.1,588.3 L488.3,587.4 L488.5,586.8 L488.8,586.0 L489.0,584.3 L489.2,581.7 L489.4,577.5 L489.6,570.8 L489.8,563.0 L490.1,551.8 L490.3,538.6 L490.5,522.5 L490.7,505.4 L490.9,487.9 L491.2,471.3 L491.4,456.9 L491.6,447.3 L491.8,442.4 L492.0,443.1 L492.2,449.6 L492.5,461.2 L492.7,476.6 L492.9,493.4 L493.1,511.6 L493.3,528.6 L493.6,543.4 L493.8,555.9 L494.0,566.2 L494.2,573.7 L494.4,579.0 L494.7,582.5 L494.9,585.3 L495.1,586.6 L495.3,587.1 L495.5,587.6 L495.7,588.1 L496.0,588.2 L496.2,588.4 L496.4,588.7 L496.6,588.8 L496.8,588.9 L497.1,588.2 L497.3,588.4 L497.5,588.2 L497.7,588.9 L497.9,588.4 L498.1,588.5 L498.4,588.4 L498.6,588.7 L498.8,588.2 L499.0,588.8 L499.2,588.5 L499.5,588.4 L499.7,588.3 L499.9,588.4 L500.1,588.4 L500.3,588.3 L500.5,588.3 L500.8,588.7 L501.0,588.4 L501.2,588.3 L501.4,588.3 L501.6,588.6 L501.9,588.4 L502.1,588.3 L502.3,588.5 L502.5,588.5 L502.7,588.7 L503.0,588.5 L503.2,588.5 L503.4,588.9 L503.6,588.5 L503.8,588.2 L504.0,588.3 L504.3,588.4 L504.5,588.7 L504.7,588.4 L504.9,588.5 L505.1,588.6 L505.4,588.4 L505.6,588.9 L505.8,588.4 L506.0,588.9 L506.2,588.5 L506.4,588.6 L506.7,588.8 L506.9,588.5 L507.1,588.6 L507.3,588.5 L507.5,588.3 L507.8,588.8 L508.0,588.9 L508.2,588.7 L508.4,588.5 L508.6,588.8 L508.8,588.8 L509.1,588.3 L509.3,588.5 L509.5,588.7 L509.7,588.3 L509.9,588.7 L510.2,588.5 L510.4,588.8 L510.6,588.7 L510.8,588.4 L511.0,588.3 L511.3,588.4 L511.5,588.7 L511.7,588.6 L511.9,588.8 L512.1,588.9 L512.3,588.6 L512.6,588.4 L512.8,588.4 L513.0,588.5 L513.2,588.3 L513.4,588.8 L513.7,588.9 L513.9,588.7 L514.1,588.8 L514.3,588.8 L514.5,588.7 L514.7,588.6 L515.0,588.7 L515.2,588.8 L515.4,588.4 L515.6,588.3 L515.8,588.7 L516.1,589.0 L516.3,589.0 L516.5,588.4 L516.7,589.0 L516.9,588.5 L517.1,588.6 L517.4,588.8 L517.6,588.5 L517.8,589.0 L518.0,588.9 L518.2,588.7 L518.5,589.0 L518.7,588.4 L518.9,588.9 L519.1,588.9 L519.3,589.0 L519.6,588.6 L519.8,588.7 L520.0,588.6 L520.2,588.6 L520.4,588.5 L520.6,588.4 L520.9,588.5 L521.1,588.9 L521.3,588.7 L521.5,588.9 L521.7,589.0 L522.0,588.7 L522.2,588.5 L522.4,588.9 L522.6,588.8 L522.8,588.8 L523.0,588.6 L523.3,588.7 L523.5,588.6 L523.7,588.5 L523.9,588.8 L524.1,588.5 L524.4,588.4 L524.6,589.0 L524.8,588.4 L525.0,588.5 L525.2,589.0 L525.4,588.7 L525.7,588.6 L525.9,588.4 L526.1,588.8 L526.3,588.7 L526.5,588.4 L526.8,588.5 L527.0,588.4 L527.2,588.7 L527.4,588.6 L527.6,588.9 L527.8,588.6 L528.1,588.5 L528.3,588.6 L528.5,588.6 L528.7,588.9 L528.9,588.4 L529.2,588.4 L529.4,588.4 L529.6,588.7 L529.8,588.5 L530.0,588.8 L530.3,588.4 L530.5,588.5 L530.7,588.8 L530.9,589.0 L531.1,588.8 L531.3,588.7 L531.6,588.5 L531.8,588.7 L532.0,589.1 L532.2,588.5 L532.4,589.0 L532.7,588.5 L532.9,589.0 L533.1,588.8 L533.3,588.5 L533.5,589.0 L533.7,589.0 L534.0,588.7 L534.2,588.6 L534.4,588.5 L534.6,588.6 L534.8,588.4 L535.1,588.7 L535.3,588.4 L535.5,589.0 L535.7,588.9 L535.9,588.7 L536.1,588.9 L536.4,588.6 L536.6,588.6 L536.8,588.7 L537.0,588.5 L537.2,588.7 L537.5,588.9 L537.7,588.8 L537.9,588.5 L538.1,588.5 L538.3,588.9 L538.6,588.5 L538.8,588.4 L539.0,588.7 L539.2,588.7 L539.4,589.0 L539.6,588.7 L539.9,588.7 L540.1,588.7 L540.3,589.1 L540.5,588.4 L540.7,588.7 L541.0,588.8 L541.2,588.5 L541.4,588.7 L541.6,588.8 L541.8,588.6 L542.0,589.1 L542.3,588.7 L542.5,588.8 L542.7,588.4 L542.9,588.5 L543.1,588.9 L543.4,588.8 L543.6,589.0 L543.8,588.8 L544.0,588.5 L544.2,588.5 L544.4,588.8 L544.7,588.9 L544.9,589.0 L545.1,588.7 L545.3,588.5 L545.5,589.0 L545.8,588.6 L546.0,589.1 L546.2,589.0 L546.4,589.0 L546.6,588.6 L546.8,588.9 L547.1,588.9 L547.3,588.7 L547.5,589.0 L547.7,588.6 L547.9,589.0 L548.2,588.8 L548.4,588.9 L548.6,589.0 L548.8,588.7 L549.0,588.8 L549.3,588.9 L549.5,588.8 L549.7,588.8 L549.9,589.0 L550.1,589.0 L550.3,588.7 L550.6,588.7 L550.8,588.8 L551.0,588.5 L551.2,588.7 L551.4,588.5 L551.7,589.0 L551.9,588.6 L552.1,588.6 L552.3,588.5 L552.5,588.9 L552.7,588.9 L553.0,588.5 L553.2,589.0 L553.4,588.4 L553.6,588.5 L553.8,589.0 L554.1,589.0 L554.3,588.6 L554.5,589.0 L554.7,589.1 L554.9,588.5 L555.1,588.8 L555.4,588.6 L555.6,589.0 L555.8,588.9 L556.0,588.7 L556.2,589.1 L556.5,589.0 L556.7,588.7 L556.9,588.5 L557.1,588.5 L557.3,589.1 L557.6,588.8 L557.8,588.6 L558.0,588.8 L558.2,588.7 L558.4,589.0 L558.6,589.1 L558.9,589.1 L559.1,589.1 L559.3,588.8 L559.5,588.8 L559.7,588.7 L560.0,589.0 L560.2,589.0 L560.4,589.0 L560.6,588.6 L560.8,588.4 L561.0,588.5 L561.3,589.1 L561.5,589.1 L561.7,588.5 L561.9,588.8 L562.1,588.6 L562.4,588.9 L562.6,588.8 L562.8,588.8 L563.0,588.8 L563.2,588.7 L563.4,589.1 L563.7,588.7 L563.9,588.6 L564.1,589.0 L564.3,588.8 L564.5,588.6 L564.8,588.9 L565.0,589.0 L565.2,589.0 L565.4,588.8 L565.6,589.1 L565.9,588.5 L566.1,588.6 L566.3,588.7 L566.5,588.5 L566.7,588.7 L566.9,588.9 L567.2,588.7 L567.4,588.8 L567.6,588.5 L567.8,588.6 L568.0,589.0 L568.3,588.5 L568.5,588.6 L568.7,588.6 L568.9,588.6 L569.1,588.9 L569.3,588.5 L569.6,588.5 L569.8,588.7 L570.0,588.6 L570.2,588.6 L570.4,588.9 L570.7,588.7 L570.9,589.1 L571.1,588.9 L571.3,588.8 L571.5,589.2 L571.7,588.9 L572.0,588.7 L572.2,588.7 L572.4,589.0 L572.6,588.5 L572.8,588.7 L573.1,588.9 L573.3,588.7 L573.5,588.8 L573.7,588.8 L573.9,588.9 L574.1,588.5 L574.4,588.7 L574.6,588.7 L574.8,588.6 L575.0,588.5 L575.2,589.1 L575.5,588.7 L575.7,588.6 L575.9,589.0 L576.1,588.9 L576.3,589.1 L576.6,589.0 L576.8,588.9 L577.0,589.1 L577.2,589.0 L577.4,588.5 L577.6,588.8 L577.9,588.8 L578.1,588.5 L578.3,588.8 L578.5,588.5 L578.7,588.7 L579.0,588.6 L579.2,589.1 L579.4,588.7 L579.6,588.6 L579.8,589.1 L580.0,588.5 L580.3,589.1 L580.5,588.8 L580.7,589.0 L580.9,588.8 L581.1,588.7 L581.4,589.1 L581.6,588.5 L581.8,588.9 L582.0,588.8 L582.2,588.7 L582.4,588.9 L582.7,589.0 L582.9,588.7 L583.1,588.8 L583.3,589.0 L583.5,588.7 L583.8,589.0 L584.0,589.2 L584.2,589.0 L584.4,589.1 L584.6,589.1 L584.9,588.6 L585.1,588.9 L585.3,588.5 L585.5,588.6 L585.7,589.1 L585.9,588.5 L586.2,588.5 L586.4,589.1 L586.6,588.5 L586.8,588.9 L587.0,588.8 L587.3,588.5 L587.5,589.0 L587.7,588.8 L587.9,588.5 L588.1,588.7 L588.3,588.8 L588.6,588.5 L588.8,588.6 L589.0,588.8 L589.2,589.1 L589.4,588.7 L589.7,588.9 L589.9,589.0 L590.1,589.1 L590.3,588.8 L590.5,589.1 L590.7,588.9 L591.0,588.7 L591.2,588.9 L591.4,589.0 L591.6,588.8 L591.8,588.9 L592.1,588.6 L592.3,588.8 L592.5,588.5 L592.7,588.5 L592.9,588.7 L593.2,589.0 L593.4,589.1 L593.6,588.6 L593.8,588.6 L594.0,588.7 L594.2,588.9 L594.5,589.0 L594.7,588.7 L594.9,588.8 L595.1,588.8 L595.3,588.7 L595.6,588.7 L595.8,589.0 L596.0,589.0 L596.2,588.5 L596.4,588.5 L596.6,588.6 L596.9,589.2 L597.1,589.1 L597.3,589.0 L597.5,588.9 L597.7,588.7 L598.0,589.1 L598.2,588.8 L598.4,589.1 L598.6,589.1 L598.8,588.7 L599.0,588.8 L599.3,588.7 L599.5,588.9 L599.7,588.8 L599.9,589.0 L600.1,588.9 L600.4,588.6 L600.6,588.6 L600.8,589.1 L601.0,589.0 L601.2,588.4 L601.4,588.4 L601.7,588.2 L601.9,588.3 L602.1,587.8 L602.3,587.5 L602.5,586.4 L602.8,585.8 L603.0,584.5 L603.2,582.8 L603.4,581.4 L603.6,579.0 L603.9,576.2 L604.1,573.0 L604.3,570.0 L604.5,566.3 L604.7,562.6 L604.9,558.1 L605.2,554.7 L605.4,551.1 L605.6,547.6 L605.8,545.2 L606.0,543.2 L606.3,542.6 L606.5,542.3 L606.7,543.7 L606.9,545.4 L607.1,547.6 L607.3,551.1 L607.6,554.6 L607.8,558.2 L608.0,562.2 L608.2,566.4 L608.4,570.2 L608.7,573.4 L608.9,576.2 L609.1,579.1 L609.3,581.5 L609.5,583.0 L609.7,584.5 L610.0,585.5 L610.2,586.3 L610.4,587.0 L610.6,587.8 L610.8,587.9 L611.1,588.5 L611.3,588.7 L611.5,588.7 L611.7,588.4 L611.9,588.5 L612.2,589.0 L612.4,588.9 L612.6,588.9 L612.8,588.9 L613.0,588.9 L613.2,588.9 L613.5,589.0 L613.7,588.8 L613.9,588.6 L614.1,588.8 L614.3,588.6 L614.6,588.8 L614.8,589.1 L615.0,588.7 L615.2,588.6 L615.4,589.0 L615.6,589.2 L615.9,588.8 L616.1,588.8 L616.3,588.8 L616.5,588.5 L616.7,588.7 L617.0,588.6 L617.2,589.1 L617.4,588.8 L617.6,588.6 L617.8,589.1 L618.0,589.0 L618.3,588.5 L618.5,588.3 L618.7,588.8 L618.9,588.3 L619.1,588.4 L619.4,587.7 L619.6,587.5 L619.8,587.4 L620.0,586.9 L620.2,586.0 L620.5,585.5 L620.7,584.7 L620.9,584.2 L621.1,583.5 L621.3,582.4 L621.5,582.0 L621.8,581.6 L622.0,581.2 L622.2,580.8 L622.4,580.8 L622.6,580.7 L622.9,581.4 L623.1,581.5 L623.3,582.2 L623.5,582.7 L623.7,583.4 L623.9,584.1 L624.2,584.8 L624.4,585.4 L624.6,586.3 L624.8,586.9 L625.0,587.2 L625.3,587.5 L625.5,588.1 L625.7,588.3 L625.9,588.7 L626.1,588.4 L626.3,588.3 L626.6,588.8 L626.8,589.0 L627.0,589.0 L627.2,588.9 L627.4,589.0 L627.7,588.5 L627.9,589.1 L628.1,589.0 L628.3,589.1 L628.5,588.7 L628.7,588.6 L629.0,589.1 L629.2,589.1 L629.4,588.9 L629.6,588.8 L629.8,588.6 L630.1,589.2 L630.3,589.1 L630.5,589.1 L630.7,589.0 L630.9,589.0 L631.2,588.7 L631.4,588.8 L631.6,589.0 L631.8,589.1 L632.0,589.0 L632.2,589.1 L632.5,588.7 L632.7,589.0 L632.9,588.8 L633.1,588.6 L633.3,588.9 L633.6,589.0 L633.8,588.6 L634.0,588.6 L634.2,589.0 L634.4,588.8 L634.6,588.5 L634.9,588.9 L635.1,589.0 L635.3,589.2 L635.5,588.5 L635.7,588.6 L636.0,588.9 L636.2,588.8 L636.4,588.8 L636.6,589.0 L636.8,588.5 L637.0,588.7 L637.3,589.0 L637.5,589.2 L637.7,588.9 L637.9,588.9 L638.1,588.6 L638.4,588.7 L638.6,588.8 L638.8,589.1 L639.0,589.1 L639.2,589.0 L639.5,589.0 L639.7,588.6 L639.9,588.8 L640.1,588.7 L640.3,588.5 L640.5,589.0 L640.8,588.8 L641.0,589.1 L641.2,588.7 L641.4,589.2 L641.6,588.6 L641.9,588.6 L642.1,588.6 L642.3,589.1 L642.5,589.0 L642.7,588.7 L642.9,589.1 L643.2,588.9 L643.4,588.9 L643.6,588.5 L643.8,588.8 L644.0,588.6 L644.3,589.0 L644.5,588.6 L644.7,588.9 L644.9,588.6 L645.1,589.1 L645.3,588.6 L645.6,589.0 L645.8,588.8 L646.0,588.8 L646.2,589.1 L646.4,588.6 L646.7,589.0 L646.9,589.0 L647.1,589.1 L647.3,589.0 L647.5,588.9 L647.8,588.7 L648.0,588.9 L648.2,588.7 L648.4,589.1 L648.6,588.9 L648.8,588.9 L649.1,588.5 L649.3,588.6 L649.5,588.7 L649.7,589.2 L649.9,588.9 L650.2,588.7 L650.4,589.0 L650.6,588.8 L650.8,588.9 L651.0,589.2 L651.2,588.5 L651.5,588.6 L651.7,589.1 L651.9,588.8 L652.1,589.0 L652.3,588.9 L652.6,588.8 L652.8,589.0 L653.0,589.0 L653.2,588.9 L653.4,588.7 L653.6,589.0 L653.9,589.1 L654.1,588.7 L654.3,589.0 L654.5,588.5 L654.7,588.8 L655.0,588.7 L655.2,589.0 L655.4,588.6 L655.6,589.1 L655.8,589.1 L656.0,589.1 L656.3,588.7 L656.5,588.7 L656.7,589.1 L656.9,588.9 L657.1,588.6 L657.4,588.8 L657.6,589.1 L657.8,589.0 L658.0,589.1 L658.2,589.1 L658.5,588.9 L658.7,589.1 L658.9,588.6 L659.1,588.9 L659.3,588.8 L659.5,588.7 L659.8,588.7 L660.0,588.6 L660.2,588.9 L660.4,589.0 L660.6,588.9 L660.9,589.2 L661.1,588.9 L661.3,588.7 L661.5,588.5 L661.7,588.6 L661.9,588.7 L662.2,588.8 L662.4,589.2 L662.6,589.0 L662.8,589.0 L663.0,588.7 L663.3,589.1 L663.5,588.9 L663.7,588.8 L663.9,588.6 L664.1,588.6 L664.3,588.8 L664.6,589.1 L664.8,588.7 L665.0,588.6 L665.2,588.8 L665.4,588.9 L665.7,588.8 L665.9,589.1 L666.1,588.7 L666.3,588.5 L666.5,588.8 L666.8,588.7 L667.0,588.6 L667.2,589.1 L667.4,588.5 L667.6,588.8 L667.8,589.1 L668.1,589.1 L668.3,589.0 L668.5,588.8 L668.7,588.7 L668.9,589.0 L669.2,588.5 L669.4,588.9 L669.6,588.9 L669.8,589.1 L670.0,588.5 L670.2,589.1 L670.5,588.6 L670.7,588.8 L670.9,588.8 L671.1,588.8 L671.3,589.0 L671.6,588.6 L671.8,588.5 L672.0,588.6 L672.2,588.8 L672.4,589.1 L672.6,588.6 L672.9,589.0 L673.1,588.6 L673.3,589.0 L673.5,588.8 L673.7,588.6 L674.0,589.1 L674.2,588.8 L674.4,589.1 L674.6,589.2 L674.8,589.1 L675.1,588.5 L675.3,588.5 L675.5,588.7 L675.7,589.0 L675.9,588.7 L676.1,588.7 L676.4,588.9 L676.6,588.8 L676.8,588.6 L677.0,589.2 L677.2,589.1 L677.5,588.9 L677.7,589.1 L677.9,588.9 L678.1,588.8 L678.3,589.1 L678.5,588.8 L678.8,589.0 L679.0,588.8 L679.2,589.0 L679.4,588.7 L679.6,589.2 L679.9,588.7 L680.1,589.1 L680.3,588.5 L680.5,588.8 L680.7,588.9 L680.9,588.9 L681.2,588.8 L681.4,588.7 L681.6,588.7 L681.8,588.7 L682.0,588.9 L682.3,588.5 L682.5,588.6 L682.7,588.6 L682.9,588.9 L683.1,588.9 L683.4,588.8 L683.6,588.6 L683.8,588.8 L684.0,588.8 L684.2,588.9 L684.4,588.6 L684.7,589.0 L684.9,589.2 L685.1,588.7 L685.3,588.6 L685.5,588.7 L685.8,588.8 L686.0,588.7 L686.2,589.0 L686.4,588.8 L686.6,589.1 L686.8,589.1 L687.1,588.9 L687.3,588.8 L687.5,588.9 L687.7,589.2 L687.9,588.7 L688.2,588.8 L688.4,589.0 L688.6,589.0 L688.8,588.9 L689.0,589.0 L689.2,589.2 L689.5,588.6 L689.7,588.5 L689.9,588.7 L690.1,588.6 L690.3,588.9 L690.6,588.6 L690.8,589.0 L691.0,588.7 L691.2,588.8 L691.4,588.6 L691.6,589.1 L691.9,588.6 L692.1,589.1 L692.3,588.8 L692.5,588.5 L692.7,589.2 L693.0,589.0 L693.2,589.0 L693.4,589.0 L693.6,589.2 L693.8,588.6 L694.1,588.6 L694.3,588.9 L694.5,588.9 L694.7,588.8 L694.9,589.2 L695.1,589.2 L695.4,588.6 L695.6,589.0 L695.8,588.8 L696.0,588.5 L696.2,588.5 L696.5,588.9 L696.7,589.1 L696.9,589.0 L697.1,588.6 L697.3,588.6 L697.5,589.1 L697.8,588.6 L698.0,589.0 L698.2,588.9 L698.4,589.1 L698.6,588.6 L698.9,588.5 L699.1,589.1 L699.3,588.8 L699.5,589.1 L699.7,588.6 L699.9,589.2 L700.2,589.1 L700.4,588.7 L700.6,589.0 L700.8,588.6 L701.0,588.6 L701.3,588.7 L701.5,589.1 L701.7,588.7 L701.9,588.5 L702.1,588.9 L702.4,589.1 L702.6,589.0 L702.8,589.0 L703.0,588.7 L703.2,589.1 L703.4,589.1 L703.7,589.0 L703.9,588.7 L704.1,588.6 L704.3,588.9 L704.5,588.7 L704.8,588.6 L705.0,588.8 L705.2,589.0 L705.4,589.0 L705.6,588.5 L705.8,588.7 L706.1,589.0 L706.3,588.8 L706.5,589.1 L706.7,588.5 L706.9,588.9 L707.2,588.8 L707.4,588.8 L707.6,589.2 L707.8,588.8 L708.0,589.0 L708.2,589.0 L708.5,588.6 L708.7,589.1 L708.9,589.0 L709.1,588.7 L709.3,589.0 L709.6,589.0 L709.8,588.8 L710.0,589.1 L710.2,588.6 L710.4,588.5 L710.7,589.2 L710.9,588.9 L711.1,588.7 L711.3,588.9 L711.5,588.5 L711.7,588.8 L712.0,589.1 L712.2,588.8 L712.4,588.7 L712.6,588.9 L712.8,588.7 L713.1,588.7 L713.3,588.8 L713.5,588.8 L713.7,588.6 L713.9,588.7 L714.1,588.8 L714.4,588.5 L714.6,589.1 L714.8,588.7 L715.0,589.1 L715.0,589.2 L459.5,589.2 Z" fill="#a84d98" fill-opacity="0.35" stroke="none"/>
<path d="M459.5,589.2 L459.7,589.2 L459.9,589.2 L460.1,589.2 L460.4,589.2 L460.6,589.2 L460.8,589.2 L461.0,589.2 L461.2,589.2 L461.5,589.2 L461.7,589.2 L461.9,589.2 L462.1,589.1 L462.3,589.0 L462.5,588.7 L462.8,588.0 L463.0,586.7 L463.2,583.2 L463.4,578.9 L463.6,571.7 L463.9,561.3 L464.1,546.1 L464.3,525.8 L464.5,501.3 L464.7,473.1 L464.9,444.6 L465.2,419.1 L465.4,400.8 L465.6,391.4 L465.8,393.5 L466.0,405.6 L466.3,427.1 L466.5,454.4 L466.7,482.3 L466.9,509.3 L467.1,532.7 L467.4,550.7 L467.6,563.5 L467.8,570.7 L468.0,572.5 L468.2,569.9 L468.4,561.7 L468.7,548.1 L468.9,528.9 L469.1,504.0 L469.3,475.5 L469.5,445.5 L469.8,418.0 L470.0,396.3 L470.2,384.0 L470.4,382.9 L470.6,393.6 L470.8,414.1 L471.1,440.5 L471.3,470.3 L471.5,499.4 L471.7,525.1 L471.9,546.0 L472.2,561.6 L472.4,572.3 L472.6,579.4 L472.8,583.2 L473.0,585.9 L473.2,586.8 L473.5,587.8 L473.7,587.7 L473.9,587.8 L474.1,588.4 L474.3,588.2 L474.6,587.4 L474.8,587.2 L475.0,586.1 L475.2,585.2 L475.4,583.5 L475.7,580.4 L475.9,576.9 L476.1,573.2 L476.3,569.1 L476.5,564.8 L476.7,560.9 L477.0,558.9 L477.2,558.8 L477.4,559.8 L477.6,562.6 L477.8,566.3 L478.1,570.0 L478.3,574.7 L478.5,578.3 L478.7,581.6 L478.9,584.2 L479.1,585.5 L479.4,587.1 L479.6,587.4 L479.8,588.2 L480.0,588.2 L480.2,588.4 L480.5,588.5 L480.7,588.0 L480.9,588.1 L481.1,588.5 L481.3,588.1 L481.5,588.5 L481.8,588.4 L482.0,588.1 L482.2,588.3 L482.4,588.6 L482.6,588.0 L482.9,588.6 L483.1,588.5 L483.3,588.2 L483.5,588.5 L483.7,588.5 L484.0,588.7 L484.2,588.7 L484.4,588.3 L484.6,588.6 L484.8,588.3 L485.0,588.5 L485.3,588.4 L485.5,588.1 L485.7,588.4 L485.9,588.4 L486.1,588.1 L486.4,588.6 L486.6,588.7 L486.8,588.1 L487.0,588.2 L487.2,588.6 L487.4,588.6 L487.7,588.2 L487.9,587.9 L488.1,588.3 L488.3,587.4 L488.5,586.8 L488.8,586.0 L489.0,584.3 L489.2,581.7 L489.4,577.5 L489.6,570.8 L489.8,563.0 L490.1,551.8 L490.3,538.6 L490.5,522.5 L490.7,505.4 L490.9,487.9 L491.2,471.3 L491.4,456.9 L491.6,447.3 L491.8,442.4 L492.0,443.1 L492.2,449.6 L492.5,461.2 L492.7,476.6 L492.9,493.4 L493.1,511.6 L493.3,528.6 L493.6,543.4 L493.8,555.9 L494.0,566.2 L494.2,573.7 L494.4,579.0 L494.7,582.5 L494.9,585.3 L495.1,586.6 L495.3,587.1 L495.5,587.6 L495.7,588.1 L496.0,588.2 L496.2,588.4 L496.4,588.7 L496.6,588.8 L496.8,588.9 L497.1,588.2 L497.3,588.4 L497.5,588.2 L497.7,588.9 L497.9,588.4 L498.1,588.5 L498.4,588.4 L498.6,588.7 L498.8,588.2 L499.0,588.8 L499.2,588.5 L499.5,588.4 L499.7,588.3 L499.9,588.4 L500.1,588.4 L500.3,588.3 L500.5,588.3 L500.8,588.7 L501.0,588.4 L501.2,588.3 L501.4,588.3 L501.6,588.6 L501.9,588.4 L502.1,588.3 L502.3,588.5 L502.5,588.5 L502.7,588.7 L503.0,588.5 L503.2,588.5 L503.4,588.9 L503.6,588.5 L503.8,588.2 L504.0,588.3 L504.3,588.4 L504.5,588.7 L504.7,588.4 L504.9,588.5 L505.1,588.6 L505.4,588.4 L505.6,588.9 L505.8,588.4 L506.0,588.9 L506.2,588.5 L506.4,588.6 L506.7,588.8 L506.9,588.5 L507.1,588.6 L507.3,588.5 L507.5,588.3 L507.8,588.8 L508.0,588.9 L508.2,588.7 L508.4,588.5 L508.6,588.8 L508.8,588.8 L509.1,588.3 L509.3,588.5 L509.5,588.7 L509.7,588.3 L509.9,588.7 L510.2,588.5 L510.4,588.8 L510.6,588.7 L510.8,588.4 L511.0,588.3 L511.3,588.4 L511.5,588.7 L511.7,588.6 L511.9,588.8 L512.1,588.9 L512.3,588.6 L512.6,588.4 L512.8,588.4 L513.0,588.5 L513.2,588.3 L513.4,588.8 L513.7,588.9 L513.9,588.7 L514.1,588.8 L514.3,588.8 L514.5,588.7 L514.7,588.6 L515.0,588.7 L515.2,588.8 L515.4,588.4 L515.6,588.3 L515.8,588.7 L516.1,589.0 L516.3,589.0 L516.5,588.4 L516.7,589.0 L516.9,588.5 L517.1,588.6 L517.4,588.8 L517.6,588.5 L517.8,589.0 L518.0,588.9 L518.2,588.7 L518.5,589.0 L518.7,588.4 L518.9,588.9 L519.1,588.9 L519.3,589.0 L519.6,588.6 L519.8,588.7 L520.0,588.6 L520.2,588.6 L520.4,588.5 L520.6,588.4 L520.9,588.5 L521.1,588.9 L521.3,588.7 L521.5,588.9 L521.7,589.0 L522.0,588.7 L522.2,588.5 L522.4,588.9 L522.6,588.8 L522.8,588.8 L523.0,588.6 L523.3,588.7 L523.5,588.6 L523.7,588.5 L523.9,588.8 L524.1,588.5 L524.4,588.4 L524.6,589.0 L524.8,588.4 L525.0,588.5 L525.2,589.0 L525.4,588.7 L525.7,588.6 L525.9,588.4 L526.1,588.8 L526.3,588.7 L526.5,588.4 L526.8,588.5 L527.0,588.4 L527.2,588.7 L527.4,588.6 L527.6,588.9 L527.8,588.6 L528.1,588.5 L528.3,588.6 L528.5,588.6 L528.7,588.9 L528.9,588.4 L529.2,588.4 L529.4,588.4 L529.6,588.7 L529.8,588.5 L530.0,588.8 L530.3,588.4 L530.5,588.5 L530.7,588.8 L530.9,589.0 L531.1,588.8 L531.3,588.7 L531.6,588.5 L531.8,588.7 L532.0,589.1 L532.2,588.5 L532.4,589.0 L532.7,588.5 L532.9,589.0 L533.1,588.8 L533.3,588.5 L533.5,589.0 L533.7,589.0 L534.0,588.7 L534.2,588.6 L534.4,588.5 L534.6,588.6 L534.8,588.4 L535.1,588.7 L535.3,588.4 L535.5,589.0 L535.7,588.9 L535.9,588.7 L536.1,588.9 L536.4,588.6 L536.6,588.6 L536.8,588.7 L537.0,588.5 L537.2,588.7 L537.5,588.9 L537.7,588.8 L537.9,588.5 L538.1,588.5 L538.3,588.9 L538.6,588.5 L538.8,588.4 L539.0,588.7 L539.2,588.7 L539.4,589.0 L539.6,588.7 L539.9,588.7 L540.1,588.7 L540.3,589.1 L540.5,588.4 L540.7,588.7 L541.0,588.8 L541.2,588.5 L541.4,588.7 L541.6,588.8 L541.8,588.6 L542.0,589.1 L542.3,588.7 L542.5,588.8 L542.7,588.4 L542.9,588.5 L543.1,588.9 L543.4,588.8 L543.6,589.0 L543.8,588.8 L544.0,588.5 L544.2,588.5 L544.4,588.8 L544.7,588.9 L544.9,589.0 L545.1,588.7 L545.3,588.5 L545.5,589.0 L545.8,588.6 L546.0,589.1 L546.2,589.0 L546.4,589.0 L546.6,588.6 L546.8,588.9 L547.1,588.9 L547.3,588.7 L547.5,589.0 L547.7,588.6 L547.9,589.0 L548.2,588.8 L548.4,588.9 L548.6,589.0 L548.8,588.7 L549.0,588.8 L549.3,588.9 L549.5,588.8 L549.7,588.8 L549.9,589.0 L550.1,589.0 L550.3,588.7 L550.6,588.7 L550.8,588.8 L551.0,588.5 L551.2,588.7 L551.4,588.5 L551.7,589.0 L551.9,588.6 L552.1,588.6 L552.3,588.5 L552.5,588.9 L552.7,588.9 L553.0,588.5 L553.2,589.0 L553.4,588.4 L553.6,588.5 L553.8,589.0 L554.1,589.0 L554.3,588.6 L554.5,589.0 L554.7,589.1 L554.9,588.5 L555.1,588.8 L555.4,588.6 L555.6,589.0 L555.8,588.9 L556.0,588.7 L556.2,589.1 L556.5,589.0 L556.7,588.7 L556.9,588.5 L557.1,588.5 L557.3,589.1 L557.6,588.8 L557.8,588.6 L558.0,588.8 L558.2,588.7 L558.4,589.0 L558.6,589.1 L558.9,589.1 L559.1,589.1 L559.3,588.8 L559.5,588.8 L559.7,588.7 L560.0,589.0 L560.2,589.0 L560.4,589.0 L560.6,588.6 L560.8,588.4 L561.0,588.5 L561.3,589.1 L561.5,589.1 L561.7,588.5 L561.9,588.8 L562.1,588.6 L562.4,588.9 L562.6,588.8 L562.8,588.8 L563.0,588.8 L563.2,588.7 L563.4,589.1 L563.7,588.7 L563.9,588.6 L564.1,589.0 L564.3,588.8 L564.5,588.6 L564.8,588.9 L565.0,589.0 L565.2,589.0 L565.4,588.8 L565.6,589.1 L565.9,588.5 L566.1,588.6 L566.3,588.7 L566.5,588.5 L566.7,588.7 L566.9,588.9 L567.2,588.7 L567.4,588.8 L567.6,588.5 L567.8,588.6 L568.0,589.0 L568.3,588.5 L568.5,588.6 L568.7,588.6 L568.9,588.6 L569.1,588.9 L569.3,588.5 L569.6,588.5 L569.8,588.7 L570.0,588.6 L570.2,588.6 L570.4,588.9 L570.7,588.7 L570.9,589.1 L571.1,588.9 L571.3,588.8 L571.5,589.2 L571.7,588.9 L572.0,588.7 L572.2,588.7 L572.4,589.0 L572.6,588.5 L572.8,588.7 L573.1,588.9 L573.3,588.7 L573.5,588.8 L573.7,588.8 L573.9,588.9 L574.1,588.5 L574.4,588.7 L574.6,588.7 L574.8,588.6 L575.0,588.5 L575.2,589.1 L575.5,588.7 L575.7,588.6 L575.9,589.0 L576.1,588.9 L576.3,589.1 L576.6,589.0 L576.8,588.9 L577.0,589.1 L577.2,589.0 L577.4,588.5 L577.6,588.8 L577.9,588.8 L578.1,588.5 L578.3,588.8 L578.5,588.5 L578.7,588.7 L579.0,588.6 L579.2,589.1 L579.4,588.7 L579.6,588.6 L579.8,589.1 L580.0,588.5 L580.3,589.1 L580.5,588.8 L580.7,589.0 L580.9,588.8 L581.1,588.7 L581.4,589.1 L581.6,588.5 L581.8,588.9 L582.0,588.8 L582.2,588.7 L582.4,588.9 L582.7,589.0 L582.9,588.7 L583.1,588.8 L583.3,589.0 L583.5,588.7 L583.8,589.0 L584.0,589.2 L584.2,589.0 L584.4,589.1 L584.6,589.1 L584.9,588.6 L585.1,588.9 L585.3,588.5 L585.5,588.6 L585.7,589.1 L585.9,588.5 L586.2,588.5 L586.4,589.1 L586.6,588.5 L586.8,588.9 L587.0,588.8 L587.3,588.5 L587.5,589.0 L587.7,588.8 L587.9,588.5 L588.1,588.7 L588.3,588.8 L588.6,588.5 L588.8,588.6 L589.0,588.8 L589.2,589.1 L589.4,588.7 L589.7,588.9 L589.9,589.0 L590.1,589.1 L590.3,588.8 L590.5,589.1 L590.7,588.9 L591.0,588.7 L591.2,588.9 L591.4,589.0 L591.6,588.8 L591.8,588.9 L592.1,588.6 L592.3,588.8 L592.5,588.5 L592.7,588.5 L592.9,588.7 L593.2,589.0 L593.4,589.1 L593.6,588.6 L593.8,588.6 L594.0,588.7 L594.2,588.9 L594.5,589.0 L594.7,588.7 L594.9,588.8 L595.1,588.8 L595.3,588.7 L595.6,588.7 L595.8,589.0 L596.0,589.0 L596.2,588.5 L596.4,588.5 L596.6,588.6 L596.9,589.2 L597.1,589.1 L597.3,589.0 L597.5,588.9 L597.7,588.7 L598.0,589.1 L598.2,588.8 L598.4,589.1 L598.6,589.1 L598.8,588.7 L599.0,588.8 L599.3,588.7 L599.5,588.9 L599.7,588.8 L599.9,589.0 L600.1,588.9 L600.4,588.6 L600.6,588.6 L600.8,589.1 L601.0,589.0 L601.2,588.4 L601.4,588.4 L601.7,588.2 L601.9,588.3 L602.1,587.8 L602.3,587.5 L602.5,586.4 L602.8,585.8 L603.0,584.5 L603.2,582.8 L603.4,581.4 L603.6,579.0 L603.9,576.2 L604.1,573.0 L604.3,570.0 L604.5,566.3 L604.7,562.6 L604.9,558.1 L605.2,554.7 L605.4,551.1 L605.6,547.6 L605.8,545.2 L606.0,543.2 L606.3,542.6 L606.5,542.3 L606.7,543.7 L606.9,545.4 L607.1,547.6 L607.3,551.1 L607.6,554.6 L607.8,558.2 L608.0,562.2 L608.2,566.4 L608.4,570.2 L608.7,573.4 L608.9,576.2 L609.1,579.1 L609.3,581.5 L609.5,583.0 L609.7,584.5 L610.0,585.5 L610.2,586.3 L610.4,587.0 L610.6,587.8 L610.8,587.9 L611.1,588.5 L611.3,588.7 L611.5,588.7 L611.7,588.4 L611.9,588.5 L612.2,589.0 L612.4,588.9 L612.6,588.9 L612.8,588.9 L613.0,588.9 L613.2,588.9 L613.5,589.0 L613.7,588.8 L613.9,588.6 L614.1,588.8 L614.3,588.6 L614.6,588.8 L614.8,589.1 L615.0,588.7 L615.2,588.6 L615.4,589.0 L615.6,589.2 L615.9,588.8 L616.1,588.8 L616.3,588.8 L616.5,588.5 L616.7,588.7 L617.0,588.6 L617.2,589.1 L617.4,588.8 L617.6,588.6 L617.8,589.1 L618.0,589.0 L618.3,588.5 L618.5,588.3 L618.7,588.8 L618.9,588.3 L619.1,588.4 L619.4,587.7 L619.6,587.5 L619.8,587.4 L620.0,586.9 L620.2,586.0 L620.5,585.5 L620.7,584.7 L620.9,584.2 L621.1,583.5 L621.3,582.4 L621.5,582.0 L621.8,581.6 L622.0,581.2 L622.2,580.8 L622.4,580.8 L622.6,580.7 L622.9,581.4 L623.1,581.5 L623.3,582.2 L623.5,582.7 L623.7,583.4 L623.9,584.1 L624.2,584.8 L624.4,585.4 L624.6,586.3 L624.8,586.9 L625.0,587.2 L625.3,587.5 L625.5,588.1 L625.7,588.3 L625.9,588.7 L626.1,588.4 L626.3,588.3 L626.6,588.8 L626.8,589.0 L627.0,589.0 L627.2,588.9 L627.4,589.0 L627.7,588.5 L627.9,589.1 L628.1,589.0 L628.3,589.1 L628.5,588.7 L628.7,588.6 L629.0,589.1 L629.2,589.1 L629.4,588.9 L629.6,588.8 L629.8,588.6 L630.1,589.2 L630.3,589.1 L630.5,589.1 L630.7,589.0 L630.9,589.0 L631.2,588.7 L631.4,588.8 L631.6,589.0 L631.8,589.1 L632.0,589.0 L632.2,589.1 L632.5,588.7 L632.7,589.0 L632.9,588.8 L633.1,588.6 L633.3,588.9 L633.6,589.0 L633.8,588.6 L634.0,588.6 L634.2,589.0 L634.4,588.8 L634.6,588.5 L634.9,588.9 L635.1,589.0 L635.3,589.2 L635.5,588.5 L635.7,588.6 L636.0,588.9 L636.2,588.8 L636.4,588.8 L636.6,589.0 L636.8,588.5 L637.0,588.7 L637.3,589.0 L637.5,589.2 L637.7,588.9 L637.9,588.9 L638.1,588.6 L638.4,588.7 L638.6,588.8 L638.8,589.1 L639.0,589.1 L639.2,589.0 L639.5,589.0 L639.7,588.6 L639.9,588.8 L640.1,588.7 L640.3,588.5 L640.5,589.0 L640.8,588.8 L641.0,589.1 L641.2,588.7 L641.4,589.2 L641.6,588.6 L641.9,588.6 L642.1,588.6 L642.3,589.1 L642.5,589.0 L642.7,588.7 L642.9,589.1 L643.2,588.9 L643.4,588.9 L643.6,588.5 L643.8,588.8 L644.0,588.6 L644.3,589.0 L644.5,588.6 L644.7,588.9 L644.9,588.6 L645.1,589.1 L645.3,588.6 L645.6,589.0 L645.8,588.8 L646.0,588.8 L646.2,589.1 L646.4,588.6 L646.7,589.0 L646.9,589.0 L647.1,589.1 L647.3,589.0 L647.5,588.9 L647.8,588.7 L648.0,588.9 L648.2,588.7 L648.4,589.1 L648.6,588.9 L648.8,588.9 L649.1,588.5 L649.3,588.6 L649.5,588.7 L649.7,589.2 L649.9,588.9 L650.2,588.7 L650.4,589.0 L650.6,588.8 L650.8,588.9 L651.0,589.2 L651.2,588.5 L651.5,588.6 L651.7,589.1 L651.9,588.8 L652.1,589.0 L652.3,588.9 L652.6,588.8 L652.8,589.0 L653.0,589.0 L653.2,588.9 L653.4,588.7 L653.6,589.0 L653.9,589.1 L654.1,588.7 L654.3,589.0 L654.5,588.5 L654.7,588.8 L655.0,588.7 L655.2,589.0 L655.4,588.6 L655.6,589.1 L655.8,589.1 L656.0,589.1 L656.3,588.7 L656.5,588.7 L656.7,589.1 L656.9,588.9 L657.1,588.6 L657.4,588.8 L657.6,589.1 L657.8,589.0 L658.0,589.1 L658.2,589.1 L658.5,588.9 L658.7,589.1 L658.9,588.6 L659.1,588.9 L659.3,588.8 L659.5,588.7 L659.8,588.7 L660.0,588.6 L660.2,588.9 L660.4,589.0 L660.6,588.9 L660.9,589.2 L661.1,588.9 L661.3,588.7 L661.5,588.5 L661.7,588.6 L661.9,588.7 L662.2,588.8 L662.4,589.2 L662.6,589.0 L662.8,589.0 L663.0,588.7 L663.3,589.1 L663.5,588.9 L663.7,588.8 L663.9,588.6 L664.1,588.6 L664.3,588.8 L664.6,589.1 L664.8,588.7 L665.0,588.6 L665.2,588.8 L665.4,588.9 L665.7,588.8 L665.9,589.1 L666.1,588.7 L666.3,588.5 L666.5,588.8 L666.8,588.7 L667.0,588.6 L667.2,589.1 L667.4,588.5 L667.6,588.8 L667.8,589.1 L668.1,589.1 L668.3,589.0 L668.5,588.8 L668.7,588.7 L668.9,589.0 L669.2,588.5 L669.4,588.9 L669.6,588.9 L669.8,589.1 L670.0,588.5 L670.2,589.1 L670.5,588.6 L670.7,588.8 L670.9,588.8 L671.1,588.8 L671.3,589.0 L671.6,588.6 L671.8,588.5 L672.0,588.6 L672.2,588.8 L672.4,589.1 L672.6,588.6 L672.9,589.0 L673.1,588.6 L673.3,589.0 L673.5,588.8 L673.7,588.6 L674.0,589.1 L674.2,588.8 L674.4,589.1 L674.6,589.2 L674.8,589.1 L675.1,588.5 L675.3,588.5 L675.5,588.7 L675.7,589.0 L675.9,588.7 L676.1,588.7 L676.4,588.9 L676.6,588.8 L676.8,588.6 L677.0,589.2 L677.2,589.1 L677.5,588.9 L677.7,589.1 L677.9,588.9 L678.1,588.8 L678.3,589.1 L678.5,588.8 L678.8,589.0 L679.0,588.8 L679.2,589.0 L679.4,588.7 L679.6,589.2 L679.9,588.7 L680.1,589.1 L680.3,588.5 L680.5,588.8 L680.7,588.9 L680.9,588.9 L681.2,588.8 L681.4,588.7 L681.6,588.7 L681.8,588.7 L682.0,588.9 L682.3,588.5 L682.5,588.6 L682.7,588.6 L682.9,588.9 L683.1,588.9 L683.4,588.8 L683.6,588.6 L683.8,588.8 L684.0,588.8 L684.2,588.9 L684.4,588.6 L684.7,589.0 L684.9,589.2 L685.1,588.7 L685.3,588.6 L685.5,588.7 L685.8,588.8 L686.0,588.7 L686.2,589.0 L686.4,588.8 L686.6,589.1 L686.8,589.1 L687.1,588.9 L687.3,588.8 L687.5,588.9 L687.7,589.2 L687.9,588.7 L688.2,588.8 L688.4,589.0 L688.6,589.0 L688.8,588.9 L689.0,589.0 L689.2,589.2 L689.5,588.6 L689.7,588.5 L689.9,588.7 L690.1,588.6 L690.3,588.9 L690.6,588.6 L690.8,589.0 L691.0,588.7 L691.2,588.8 L691.4,588.6 L691.6,589.1 L691.9,588.6 L692.1,589.1 L692.3,588.8 L692.5,588.5 L692.7,589.2 L693.0,589.0 L693.2,589.0 L693.4,589.0 L693.6,589.2 L693.8,588.6 L694.1,588.6 L694.3,588.9 L694.5,588.9 L694.7,588.8 L694.9,589.2 L695.1,589.2 L695.4,588.6 L695.6,589.0 L695.8,588.8 L696.0,588.5 L696.2,588.5 L696.5,588.9 L696.7,589.1 L696.9,589.0 L697.1,588.6 L697.3,588.6 L697.5,589.1 L697.8,588.6 L698.0,589.0 L698.2,588.9 L698.4,589.1 L698.6,588.6 L698.9,588.5 L699.1,589.1 L699.3,588.8 L699.5,589.1 L699.7,588.6 L699.9,589.2 L700.2,589.1 L700.4,588.7 L700.6,589.0 L700.8,588.6 L701.0,588.6 L701.3,588.7 L701.5,589.1 L701.7,588.7 L701.9,588.5 L702.1,588.9 L702.4,589.1 L702.6,589.0 L702.8,589.0 L703.0,588.7 L703.2,589.1 L703.4,589.1 L703.7,589.0 L703.9,588.7 L704.1,588.6 L704.3,588.9 L704.5,588.7 L704.8,588.6 L705.0,588.8 L705.2,589.0 L705.4,589.0 L705.6,588.5 L705.8,588.7 L706.1,589.0 L706.3,588.8 L706.5,589.1 L706.7,588.5 L706.9,588.9 L707.2,588.8 L707.4,588.8 L707.6,589.2 L707.8,588.8 L708.0,589.0 L708.2,589.0 L708.5,588.6 L708.7,589.1 L708.9,589.0 L709.1,588.7 L709.3,589.0 L709.6,589.0 L709.8,588.8 L710.0,589.1 L710.2,588.6 L710.4,588.5 L710.7,589.2 L710.9,588.9 L711.1,588.7 L711.3,588.9 L711.5,588.5 L711.7,588.8 L712.0,589.1 L712.2,588.8 L712.4,588.7 L712.6,588.9 L712.8,588.7 L713.1,588.7 L713.3,588.8 L713.5,588.8 L713.7,588.6 L713.9,588.7 L714.1,588.8 L714.4,588.5 L714.6,589.1 L714.8,588.7 L715.0,589.1" fill="none" stroke="#a84d98" stroke-width="1.9" stroke-linejoin="round" stroke-linecap="round" />
<text x="460.4" y="405.2" font-size="13.5" font-weight="bold" text-anchor="start" fill="#000" >C</text>
<text x="464.7" y="385.0" font-size="13.5" font-weight="bold" text-anchor="start" fill="#000" >O</text>
<text x="486.6" y="456.2" font-size="13.5" font-weight="bold" text-anchor="start" fill="#000" >Si</text>
<text x="473.1" y="572.6" font-size="13.5" font-weight="bold" text-anchor="start" fill="#000" >N</text>
<rect x="442.3" y="355.6" width="290.7" height="233.60000000000002" fill="none" stroke="#000" stroke-width="2.9"/>
<text x="525.0" y="634.5" font-size="21" font-weight="bold" text-anchor="start" fill="#000" textLength="122.5" lengthAdjust="spacingAndGlyphs">Energy (keV)</text>
<text transform="translate(387.8,553.8) rotate(-90)" font-size="22" font-weight="bold" textLength="160.4" lengthAdjust="spacingAndGlyphs">Intensity (counts)</text>
<path d="M75.5,681.0 C75.8,681.6 74.6,683.8 77.0,684.5 C79.4,685.2 86.7,684.8 90.0,685.0 C93.3,685.2 95.0,684.9 96.8,685.7 C98.6,686.5 99.6,687.5 101.0,690.0 C102.4,692.5 103.5,696.8 105.3,700.7 C107.1,704.6 110.0,710.5 111.8,713.5 C113.6,716.5 114.4,717.6 116.0,719.0 C117.6,720.4 119.7,721.8 121.4,722.0 C123.1,722.2 124.2,721.5 126.0,720.5 C127.8,719.5 129.8,717.9 132.1,716.2 C134.4,714.5 137.8,711.9 140.0,710.2 C142.2,708.6 143.0,707.8 145.0,706.3 C147.0,704.8 150.1,702.7 152.0,701.3 C153.9,699.9 155.3,698.2 156.5,697.8 C157.7,697.4 158.4,699.0 159.3,698.8 C160.2,698.6 160.7,697.6 162.0,696.5 C163.3,695.4 165.3,693.6 167.0,692.3 C168.7,691.0 169.9,689.7 172.1,688.7 C174.3,687.7 177.3,686.9 180.0,686.3 C182.7,685.7 185.1,685.5 188.2,685.2 C191.3,684.9 191.5,684.6 198.5,684.4 C205.5,684.2 221.4,684.1 230.0,684.1 C238.6,684.1 245.1,684.4 250.0,684.3 C254.9,684.2 256.9,683.4 259.6,683.7 C262.3,684.0 264.4,684.6 266.1,686.1 C267.9,687.6 269.0,690.6 270.1,692.5 C271.2,694.4 271.7,697.4 272.5,697.3 C273.3,697.2 274.0,693.6 274.9,691.7 C275.8,689.8 276.6,686.8 278.1,685.7 C279.6,684.6 281.7,685.2 283.7,685.3 C285.7,685.4 288.0,686.1 290.2,686.4 C292.4,686.7 295.0,686.5 296.6,687.3 C298.2,688.0 298.9,689.0 299.8,690.9 C300.7,692.8 301.5,694.9 302.2,698.9 C302.9,702.9 303.3,710.2 303.8,715.0 C304.3,719.8 304.6,724.6 305.4,727.8 C306.2,731.0 307.1,732.5 308.6,734.3 C310.1,736.0 312.7,737.3 314.3,738.3 C315.9,739.3 317.2,740.2 318.3,740.2 C319.4,740.2 319.9,742.0 320.7,738.3 C321.5,734.6 322.4,724.6 323.1,718.2 C323.9,711.8 324.5,701.3 325.2,699.7 C325.9,698.1 326.5,708.2 327.4,708.6 C328.2,709.0 329.3,704.5 330.3,702.1 C331.3,699.7 332.4,696.6 333.5,694.1 C334.6,691.6 336.1,687.3 337.2,687.3 C338.3,687.3 339.1,691.4 340.0,694.1 C340.9,696.8 341.6,703.8 342.4,703.7 C343.2,703.6 343.9,695.4 344.8,693.3 C345.7,691.2 346.7,691.5 348.0,691.2 C349.3,690.9 351.2,690.6 352.8,691.4 C354.4,692.1 356.0,694.1 357.6,695.7 C359.2,697.4 361.0,700.1 362.4,701.3 C363.8,702.5 364.9,701.7 365.7,702.9 C366.5,704.1 366.8,707.6 367.0,708.6" fill="none" stroke="#000" stroke-width="2.4" stroke-linejoin="round" stroke-linecap="round"/>
<path d="M75.4,755.4 C78.1,755.5 88.0,755.0 91.4,756.0 C94.8,757.0 94.3,760.8 95.7,761.4 C97.1,762.0 98.6,759.3 100.0,759.7 C101.4,760.1 102.2,760.8 104.3,763.6 C106.4,766.4 110.3,773.0 112.8,776.4 C115.3,779.8 117.1,782.4 119.3,783.9 C121.5,785.4 123.2,785.8 125.7,785.6 C128.2,785.4 130.7,784.3 134.3,782.8 C137.9,781.3 142.8,778.2 147.1,776.4 C151.4,774.6 157.3,772.4 160.0,772.1 C162.7,771.8 162.1,774.7 163.2,774.7 C164.3,774.7 164.1,773.4 166.4,772.1 C168.7,770.9 172.5,769.1 177.1,767.2 C181.7,765.3 187.0,762.4 194.2,760.8 C201.3,759.2 210.3,758.9 220.0,757.8 C229.7,756.7 245.0,754.6 252.1,754.3 C259.2,754.0 259.9,754.5 262.8,756.0 C265.7,757.5 267.2,760.9 269.3,763.6 C271.4,766.3 273.8,771.2 275.7,772.1 C277.6,773.0 279.6,768.7 281.0,768.9 C282.4,769.1 283.1,773.4 284.3,773.2 C285.6,773.0 286.9,769.6 288.5,767.8 C290.1,766.0 292.1,762.7 293.9,762.5 C295.7,762.3 297.4,767.9 299.2,766.8 C301.0,765.7 302.8,757.1 304.6,756.0 C306.4,754.9 308.4,756.9 310.0,760.3 C311.6,763.7 312.8,774.2 314.2,776.4 C315.6,778.5 317.1,773.7 318.5,773.2 C319.9,772.7 321.4,775.7 322.8,773.2 C324.2,770.7 325.7,760.9 327.1,758.2 C328.5,755.5 329.8,757.8 331.4,757.1 C333.0,756.5 334.9,753.9 336.7,754.3 C338.5,754.7 339.8,758.2 342.1,759.3 C344.4,760.4 348.1,761.4 350.6,761.0 C353.1,760.6 354.3,757.9 357.1,757.1 C359.9,756.3 365.5,756.2 367.2,756.0" fill="none" stroke="#e3191c" stroke-width="2.4" stroke-linejoin="round" stroke-linecap="round"/>
<path d="M75.4,807.5 C78.1,807.6 88.0,807.3 91.4,808.1 C94.8,808.9 94.3,812.1 95.7,812.4 C97.1,812.6 98.6,809.4 100.0,809.6 C101.4,809.9 102.2,811.2 104.3,813.9 C106.4,816.6 110.5,823.0 112.8,825.7 C115.1,828.4 116.0,828.9 118.0,830.0 C120.0,831.1 121.9,832.7 124.6,832.5 C127.3,832.3 130.6,830.4 134.3,828.9 C138.1,827.4 142.8,825.0 147.1,823.5 C151.4,822.0 157.3,820.0 160.0,819.7 C162.7,819.4 162.1,821.9 163.2,821.8 C164.3,821.7 164.1,820.2 166.4,819.2 C168.7,818.2 171.8,816.9 177.1,815.5 C182.4,814.1 191.3,811.8 198.5,810.8 C205.7,809.8 211.1,810.2 220.0,809.3 C228.9,808.4 244.6,805.8 252.1,805.6 C259.6,805.4 261.8,806.5 265.0,808.1 C268.2,809.7 269.4,813.1 271.4,815.0 C273.4,816.9 275.0,819.0 276.8,819.2 C278.6,819.4 280.7,816.1 282.1,816.0 C283.5,815.9 283.9,819.1 285.3,818.8 C286.7,818.4 288.9,815.1 290.7,813.9 C292.5,812.7 294.6,811.6 296.0,811.8 C297.4,812.0 298.1,815.0 299.2,815.0 C300.3,815.0 301.4,810.7 302.5,811.8 C303.6,812.9 304.4,819.1 305.7,821.4 C306.9,823.7 308.6,823.6 310.0,825.7 C311.4,827.8 312.8,831.4 314.2,834.2 C315.6,837.1 316.9,842.8 318.1,842.8 C319.4,842.8 320.4,839.0 321.7,834.2 C323.0,829.4 324.6,817.8 326.0,813.9 C327.4,810.0 328.3,812.0 330.3,810.7 C332.3,809.5 335.7,806.2 337.8,806.4 C339.9,806.6 341.4,811.4 343.2,811.8 C345.0,812.2 346.2,809.6 348.5,809.0 C350.8,808.4 354.0,808.1 357.1,808.1 C360.2,808.1 365.5,808.9 367.2,809.0" fill="none" stroke="#1f4fa3" stroke-width="2.4" stroke-linejoin="round" stroke-linecap="round"/>
<line x1="75.6" y1="752.5" x2="75.6" y2="779.5" stroke="#e3191c" stroke-width="2.2"/>
<line x1="75.6" y1="804.5" x2="75.6" y2="832.0" stroke="#1f4fa3" stroke-width="2.2"/>
<line x1="75.0" y1="870.4" x2="75.0" y2="875.4" stroke="#000" stroke-width="2"/>
<text x="75.0" y="892.4" font-size="18" font-weight="bold" text-anchor="middle" fill="#000" >4000</text>
<line x1="116.8" y1="870.4" x2="116.8" y2="872.9" stroke="#000" stroke-width="2"/>
<line x1="158.6" y1="870.4" x2="158.6" y2="875.4" stroke="#000" stroke-width="2"/>
<text x="158.6" y="892.4" font-size="18" font-weight="bold" text-anchor="middle" fill="#000" >3000</text>
<line x1="200.4" y1="870.4" x2="200.4" y2="872.9" stroke="#000" stroke-width="2"/>
<line x1="242.2" y1="870.4" x2="242.2" y2="875.4" stroke="#000" stroke-width="2"/>
<text x="242.2" y="892.4" font-size="18" font-weight="bold" text-anchor="middle" fill="#000" >2000</text>
<line x1="284.0" y1="870.4" x2="284.0" y2="872.9" stroke="#000" stroke-width="2"/>
<line x1="325.8" y1="870.4" x2="325.8" y2="875.4" stroke="#000" stroke-width="2"/>
<text x="325.8" y="892.4" font-size="18" font-weight="bold" text-anchor="middle" fill="#000" >1000</text>
<line x1="367.6" y1="870.4" x2="367.6" y2="872.9" stroke="#000" stroke-width="2"/>
<rect x="74.6" y="654.6" width="292.70000000000005" height="215.79999999999995" fill="none" stroke="#000" stroke-width="2.4"/>
<text x="111.2" y="738.6" font-size="12.5" font-weight="bold" text-anchor="start" fill="#000" >dSiO<tspan font-size="9" dy="3">2</tspan></text>
<text x="114.8" y="802.1" font-size="13" font-weight="bold" text-anchor="start" fill="#000" >CDs</text>
<text x="101.0" y="849.2" font-size="12.5" font-weight="bold" text-anchor="start" fill="#000" >CDs@dSiO<tspan font-size="9" dy="3">2</tspan></text>
<text x="131.5" y="915" font-size="20.2" font-weight="bold">Wavenumbers (cm<tspan font-size="13" dy="-8">-1</tspan><tspan dy="8">)</tspan></text>
<text transform="translate(66,850.6) rotate(-90)" font-size="20" font-weight="bold" textLength="159" lengthAdjust="spacingAndGlyphs">Transmittance (%)</text>
<path d="M441.0,724.1 C441.8,726.8 444.2,735.6 445.6,740.2 C447.0,744.9 448.2,748.6 449.5,752.0 C450.8,755.4 451.8,757.7 453.1,760.7 C454.4,763.7 455.6,767.1 457.4,769.8 C459.2,772.5 461.6,774.4 463.8,776.8 C466.0,779.2 467.8,781.6 470.3,784.3 C472.8,787.0 476.0,790.4 478.8,792.8 C481.6,795.2 484.5,797.2 487.4,798.7 C490.3,800.2 493.9,801.2 496.0,801.9 C498.1,802.6 498.3,802.2 500.0,802.9 C501.7,803.5 503.7,804.6 506.0,805.8 C508.3,807.0 510.2,808.0 513.7,810.2 C517.2,812.5 522.0,816.4 527.3,819.3 C532.6,822.1 538.7,825.0 545.5,827.3 C552.3,829.6 559.9,831.3 568.3,833.0 C576.6,834.7 586.1,836.4 595.6,837.5 C605.1,838.6 614.5,839.0 625.2,839.8 C635.9,840.6 650.0,841.5 660.0,842.1 C670.0,842.7 677.0,843.0 685.0,843.5 C693.0,844.0 704.2,844.6 708.0,844.8" fill="none" stroke="#2e9a5a" stroke-width="2.4" stroke-linejoin="round" stroke-linecap="round"/>
<path d="M440.8,763.9 C441.4,766.0 443.4,772.5 444.6,776.8 C445.8,781.1 446.7,785.1 447.8,789.6 C448.9,794.1 450.0,799.0 451.0,803.5 C452.0,808.0 452.8,813.0 453.7,816.4 C454.6,819.8 455.3,822.4 456.3,823.9 C457.3,825.4 458.0,825.4 459.6,825.5 C461.2,825.6 463.9,824.9 466.0,824.7 C468.1,824.5 470.3,823.9 472.4,824.4 C474.5,824.9 476.8,826.5 478.8,827.6 C480.8,828.7 482.5,830.0 484.2,830.8 C485.9,831.6 487.4,832.6 489.0,832.4 C490.6,832.2 491.9,831.4 493.8,829.8 C495.7,828.2 498.5,824.4 500.2,822.8 C501.9,821.2 502.7,820.7 504.0,820.0 C505.3,819.3 506.7,818.8 508.0,818.8 C509.3,818.8 510.7,819.1 512.0,819.8 C513.3,820.4 513.4,820.1 515.9,822.7 C518.4,825.3 523.5,831.4 527.3,835.2 C531.1,839.0 534.5,842.8 538.7,845.5 C542.9,848.2 547.9,850.0 552.3,851.2 C556.7,852.4 560.4,852.3 565.0,852.6 C569.6,852.9 570.5,852.9 579.7,853.0 C588.9,853.1 606.6,853.1 620.0,853.2 C633.4,853.3 645.3,853.4 660.0,853.4 C674.7,853.4 700.0,853.5 708.0,853.5" fill="none" stroke="#2b63b0" stroke-width="2.4" stroke-linejoin="round" stroke-linecap="round"/>
<path d="M518.2,851.3 C519.0,851.1 521.7,850.8 523.0,850.4 C524.3,850.0 525.3,849.8 526.2,848.6 C527.1,847.4 527.7,844.9 528.3,843.0 C528.9,841.1 529.0,841.7 529.8,837.0 C530.6,832.3 531.9,821.5 533.0,814.8 C534.1,808.0 535.3,802.6 536.4,796.5 C537.5,790.4 538.7,785.9 539.8,778.3 C540.9,770.7 542.1,760.9 543.2,751.0 C544.4,741.1 545.6,727.9 546.7,719.2 C547.9,710.5 548.8,703.8 550.1,698.7 C551.4,693.6 552.9,690.4 554.6,688.4 C556.3,686.4 558.6,686.3 560.3,686.9 C562.0,687.5 563.2,688.0 564.9,691.9 C566.6,695.8 568.5,702.9 570.6,710.1 C572.7,717.3 574.8,725.6 577.4,735.1 C580.0,744.6 583.5,757.5 586.5,767.0 C589.5,776.5 591.8,783.7 595.6,792.0 C599.4,800.3 604.3,809.8 609.2,817.0 C614.1,824.2 619.9,830.7 625.2,835.2 C630.5,839.8 635.3,841.8 641.1,844.3 C646.9,846.8 652.7,848.7 660.0,850.0 C667.3,851.3 677.0,851.8 685.0,852.2 C693.0,852.6 704.2,852.5 708.0,852.6" fill="none" stroke="#000" stroke-width="2.4" stroke-linejoin="round" stroke-linecap="round"/>
<path d="M518.6,853.4 C519.5,853.3 522.2,853.2 524.0,853.0 C525.8,852.8 528.0,852.8 529.6,852.2 C531.2,851.6 532.4,850.8 533.5,849.5 C534.6,848.2 535.1,847.8 536.4,844.3 C537.6,840.8 539.7,834.8 541.0,828.4 C542.3,822.0 543.3,813.3 544.4,805.7 C545.5,798.1 546.7,790.9 547.8,782.9 C548.9,774.9 550.1,766.2 551.2,757.9 C552.3,749.5 553.5,740.0 554.6,732.8 C555.7,725.6 556.7,720.7 558.0,714.6 C559.3,708.5 560.9,701.0 562.6,696.4 C564.3,691.8 566.6,687.8 568.3,686.9 C570.0,686.0 571.1,687.6 572.8,690.7 C574.5,693.8 576.2,698.5 578.5,705.5 C580.8,712.5 583.6,722.9 586.5,732.8 C589.4,742.7 592.6,755.2 595.6,764.7 C598.6,774.2 601.3,781.7 604.7,789.7 C608.1,797.7 611.9,805.7 616.1,812.5 C620.3,819.3 624.8,825.6 629.7,830.7 C634.6,835.8 640.7,840.2 645.7,843.2 C650.8,846.2 653.5,847.6 660.0,848.9 C666.5,850.2 677.0,850.7 685.0,851.2 C693.0,851.7 704.2,851.7 708.0,851.8" fill="none" stroke="#e3191c" stroke-width="2.4" stroke-linejoin="round" stroke-linecap="round"/>
<line x1="444.9" y1="868.6" x2="444.9" y2="871.1" stroke="#000" stroke-width="2"/>
<line x1="474.2" y1="868.6" x2="474.2" y2="873.6" stroke="#000" stroke-width="2"/>
<text x="474.2" y="892.4" font-size="18" font-weight="bold" text-anchor="middle" fill="#000" >300</text>
<line x1="503.5" y1="868.6" x2="503.5" y2="871.1" stroke="#000" stroke-width="2"/>
<line x1="532.8" y1="868.6" x2="532.8" y2="873.6" stroke="#000" stroke-width="2"/>
<text x="532.8" y="892.4" font-size="18" font-weight="bold" text-anchor="middle" fill="#000" >400</text>
<line x1="562.1" y1="868.6" x2="562.1" y2="871.1" stroke="#000" stroke-width="2"/>
<line x1="591.4" y1="868.6" x2="591.4" y2="873.6" stroke="#000" stroke-width="2"/>
<text x="591.4" y="892.4" font-size="18" font-weight="bold" text-anchor="middle" fill="#000" >500</text>
<line x1="620.6" y1="868.6" x2="620.6" y2="871.1" stroke="#000" stroke-width="2"/>
<line x1="649.9" y1="868.6" x2="649.9" y2="873.6" stroke="#000" stroke-width="2"/>
<text x="649.9" y="892.4" font-size="18" font-weight="bold" text-anchor="middle" fill="#000" >600</text>
<line x1="679.2" y1="868.6" x2="679.2" y2="871.1" stroke="#000" stroke-width="2"/>
<line x1="708.5" y1="868.6" x2="708.5" y2="873.6" stroke="#000" stroke-width="2"/>
<text x="708.5" y="892.4" font-size="18" font-weight="bold" text-anchor="middle" fill="#000" >700</text>
<rect x="440.7" y="653.8" width="268.50000000000006" height="214.80000000000007" fill="none" stroke="#000" stroke-width="2.6"/>
<line x1="663.1" y1="666.0" x2="690.5" y2="666.0" stroke="#e3191c" stroke-width="2.2"/>
<text x="692.6" y="670.0" font-size="12" font-weight="bold" text-anchor="start" fill="#000" >a</text>
<line x1="663.1" y1="683.0" x2="690.5" y2="683.0" stroke="#000" stroke-width="2.2"/>
<text x="692.6" y="687.0" font-size="12" font-weight="bold" text-anchor="start" fill="#000" >b</text>
<line x1="663.1" y1="700.2" x2="690.5" y2="700.2" stroke="#2b63b0" stroke-width="2.2"/>
<text x="692.6" y="704.2" font-size="12" font-weight="bold" text-anchor="start" fill="#000" >c</text>
<line x1="663.1" y1="714.7" x2="690.5" y2="714.7" stroke="#2e9a5a" stroke-width="2.2"/>
<text x="692.6" y="718.7" font-size="12" font-weight="bold" text-anchor="start" fill="#000" >d</text>
<line x1="598.7" y1="748.2" x2="690.0" y2="748.2" stroke="#000" stroke-width="2"/>
<path d="M687.5,744.7 L703.3,748.2 L687.5,751.7 Z" fill="#000"/>
<text x="505.5" y="914.6" font-size="20" font-weight="bold" textLength="136.5" lengthAdjust="spacingAndGlyphs">Wavelenth (nm)</text>
<text transform="translate(431.5,838.4) rotate(-90)" font-size="20.1" font-weight="bold" textLength="152.2" lengthAdjust="spacingAndGlyphs">Absorbance (a.u.)</text>
<text transform="translate(732.5,840.8) rotate(-90)" font-size="20.1" font-weight="bold" textLength="166" lengthAdjust="spacingAndGlyphs">Norm. FL Intensity</text>
</svg>
</body></html>
